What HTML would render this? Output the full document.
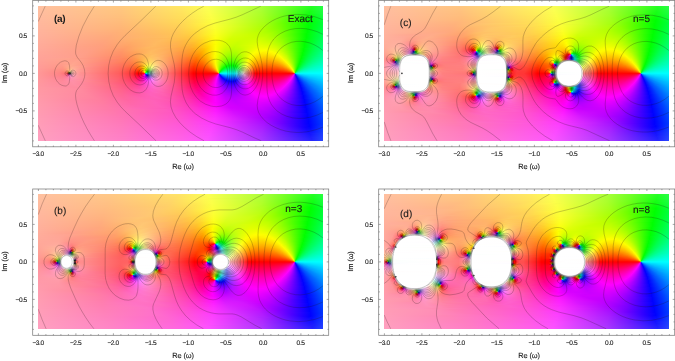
<!DOCTYPE html>
<html><head><meta charset="utf-8"><title>Complex phase plots</title>
<style>
html,body{margin:0;padding:0;background:#fff}
body{width:675px;height:361px;position:relative;overflow:hidden;font-family:"Liberation Sans",sans-serif}
.f{position:absolute;width:285px;height:135px}
.f i{display:block;height:1px;width:285px}
svg{position:absolute;left:0;top:0}
.c{fill:none;stroke:#201010;stroke-opacity:.45;stroke-width:.5}
.bo{fill:none;stroke:#333;stroke-opacity:.4;stroke-width:.5}
.fr{fill:none;stroke:#7c7c7c;stroke-width:.75}
.tk{fill:none;stroke:#6a6a6a;stroke-width:.6}
text{font-family:"Liberation Sans",sans-serif;fill:#1a1a1a;text-rendering:geometricPrecision;stroke:#1a1a1a;stroke-width:.12px}
.tx{font-size:6.6px;text-anchor:middle;letter-spacing:-.4px}
.ty{font-size:6.6px;text-anchor:end;letter-spacing:-.4px}
.al{font-size:7.4px;text-anchor:middle;letter-spacing:-.1px}
.pl{font-size:10px}
.pb{font-weight:bold;stroke:none;letter-spacing:-.3px}
.pr{font-size:10px;stroke:#1a1a1a;stroke-width:.12px}
</style></head><body>
<div class="f" style="left:38px;top:6px"><i style="background:linear-gradient(90deg,#ffc0a0 0.5px,#ffc880 83.5px,#ffe862 143.5px,#fbff53 169.5px,#aeff38 221.5px,#6fff28 247.5px,#24ff23 273.5px,#28ff44 284.5px)"></i><i style="background:linear-gradient(90deg,#ffbfa0 0.5px,#ffc880 83.5px,#ffe761 143.5px,#fbff52 169.5px,#aeff37 221.5px,#6eff26 247.5px,#22ff21 273.5px,#26ff43 284.5px)"></i><i style="background:linear-gradient(90deg,#ffbf9f 0.5px,#ffc77f 83.5px,#ffe661 143.5px,#fcff51 169.5px,#aeff35 221.5px,#70ff24 246.5px,#1fff1f 273.5px,#24ff43 284.5px)"></i><i style="background:linear-gradient(90deg,#ffbe9f 0.5px,#ffc67f 83.5px,#ffe560 143.5px,#fbff50 170.5px,#acff33 222.5px,#6fff22 246.5px,#1eff1c 272.5px,#22ff42 284.5px)"></i><i style="background:linear-gradient(90deg,#ffbe9f 0.5px,#ffc57e 83.5px,#ffe55f 144.5px,#fcff4f 170.5px,#acff31 222.5px,#71ff20 245.5px,#1bff1a 272.5px,#20ff41 284.5px)"></i><i style="background:linear-gradient(90deg,#ffbd9f 0.5px,#ffc47e 83.5px,#ffe45e 144.5px,#fbff4d 171.5px,#aaff2e 223.5px,#6dff1e 246.5px,#18ff17 272.5px,#1dff40 284.5px)"></i><i style="background:linear-gradient(90deg,#ffbd9f 0.5px,#ffc47d 83.5px,#ffe35d 144.5px,#fcff4c 171.5px,#aaff2c 223.5px,#70ff1c 245.5px,#18ff14 271.5px,#1aff38 282.5px,#1bff40 284.5px)"></i><i style="background:linear-gradient(90deg,#ffbc9f 0.5px,#ffc37d 83.5px,#ffe25c 144.5px,#fcff4a 171.5px,#abff2a 223.5px,#72ff1a 244.5px,#15ff12 271.5px,#19ff3f 284.5px)"></i><i style="background:linear-gradient(90deg,#ffbc9f 0.5px,#ffc27d 83.5px,#ffe25b 145.5px,#fcff49 172.5px,#abff28 223.5px,#71ff18 244.5px,#15ff0f 270.5px,#10ff18 274.5px,#16ff3e 284.5px)"></i><i style="background:linear-gradient(90deg,#ffbb9e 0.5px,#ffc17c 83.5px,#ffe15a 145.5px,#fcff47 172.5px,#a9ff26 224.5px,#71ff15 244.5px,#11ff0c 270.5px,#0eff1a 275.5px,#14ff3d 284.5px)"></i><i style="background:linear-gradient(90deg,#ffbb9e 0.5px,#ffc07c 83.5px,#ffe059 145.5px,#fbff45 173.5px,#a9ff23 224.5px,#70ff13 244.5px,#12ff09 269.5px,#0aff10 273.5px,#11ff3d 284.5px)"></i><i style="background:linear-gradient(90deg,#ffba9e 0.5px,#ffc07b 83.5px,#ffe058 146.5px,#fcff44 173.5px,#a9ff21 224.5px,#73ff11 243.5px,#12ff06 268.5px,#07ff0a 272.5px,#0fff3c 284.5px)"></i><i style="background:linear-gradient(90deg,#ffba9e 0.5px,#ffbe7b 82.5px,#ffdf57 146.5px,#fdff43 173.5px,#a7ff1e 225.5px,#72ff0e 243.5px,#0eff03 268.5px,#04ff08 272.5px,#0cff3b 284.5px)"></i><i style="background:linear-gradient(90deg,#ffb99e 0.5px,#ffbd7b 82.5px,#ffdd56 146.5px,#fbff40 174.5px,#a8ff1c 225.5px,#72ff0b 243.5px,#13ff00 266.5px,#01ff02 271.5px,#09ff3a 284.5px)"></i><i style="background:linear-gradient(90deg,#ffb99e 0.5px,#ffbd7b 82.5px,#ffdc55 146.5px,#fcff3f 174.5px,#a8ff19 225.5px,#75ff09 242.5px,#27ff00 261.5px,#00ff02 271.5px,#07ff3a 284.5px)"></i><i style="background:linear-gradient(90deg,#ffb89e 0.5px,#ffbc7a 82.5px,#ffdc53 147.5px,#fdff3d 174.5px,#a9ff17 225.5px,#74ff06 242.5px,#2bff00 260.5px,#00ff03 271.5px,#04ff39 284.5px)"></i><i style="background:linear-gradient(90deg,#ffb89d 0.5px,#ffbb7a 82.5px,#ffda53 146.5px,#fcff3b 175.5px,#a9ff14 225.5px,#78ff04 241.5px,#01ff00 270.5px,#01ff38 284.5px)"></i><i style="background:linear-gradient(90deg,#ffb79d 0.5px,#ffba79 82.5px,#ffd754 144.5px,#fffb3c 171.5px,#e5ff2f 188.5px,#af1 225.5px,#78ff01 241.5px,#01ff00 270.5px,#00ff39 284.5px)"></i><i style="background:linear-gradient(90deg,#ffb79d 0.5px,#ffb979 82.5px,#ffd554 143.5px,#fff63c 169.5px,#f9ff36 177.5px,#a8ff0e 226.5px,#72ff00 243.5px,#00ff01 270.5px,#00ff3b 284.5px)"></i><i style="background:linear-gradient(90deg,#ffb69d 0.5px,#ffb878 82.5px,#ffd354 142.5px,#fff23c 167.5px,#fbff34 176.5px,#a9ff0b 226.5px,#7bff00 241.5px,#1f0 266.5px,#00ff02 270.5px,#00ff3d 284.5px)"></i><i style="background:linear-gradient(90deg,#ffb69d 0.5px,#ffb778 82.5px,#ffd155 141.5px,#ffed3d 165.5px,#fcff33 176.5px,#cbff1a 206.5px,#a7ff06 227.5px,#7cff00 241.5px,#15ff00 265.5px,#00ff02 270.5px,#00ff3f 284.5px)"></i><i style="background:linear-gradient(90deg,#ffb59d 0.5px,#ffb677 82.5px,#ffcf55 140.5px,#ffeb3c 164.5px,#fcff30 176.5px,#cfff1a 203.5px,#adff06 225.5px,#7eff00 241.5px,#19ff00 264.5px,#00ff03 270.5px,#00ff40 284.5px)"></i><i style="background:linear-gradient(90deg,#ffb59d 0.5px,#ffb577 82.5px,#ffcd55 139.5px,#ffe63d 162.5px,#fdff2e 176.5px,#d0ff18 202.5px,#aeff02 225.5px,#80ff00 241.5px,#1eff00 263.5px,#00ff04 270.5px,#00ff42 284.5px)"></i><i style="background:linear-gradient(90deg,#ffb49c 0.5px,#ffb476 82.5px,#ffcb54 139.5px,#ffe33c 161.5px,#fbff2b 177.5px,#d1ff17 201.5px,#afff00 225.5px,#86ff00 240.5px,#31ff00 259.5px,#00ff01 269.5px,#0f4 284.5px)"></i><i style="background:linear-gradient(90deg,#ffb39c 0.5px,#ffb277 80.5px,#ffc955 138.5px,#ffe03c 160.5px,#fbff29 177.5px,#d3ff15 199.5px,#b0ff00 226.5px,#84ff00 241.5px,#27ff00 261.5px,#00ff01 269.5px,#00ff46 284.5px)"></i><i style="background:linear-gradient(90deg,#ffb39c 0.5px,#ffb178 78.5px,#ffc755 137.5px,#ffdc3b 159.5px,#fcff26 177.5px,#d4ff13 198.5px,#b7ff00 223.5px,#95ff00 237.5px,#51ff00 253.5px,#00ff02 269.5px,#00ff48 284.5px)"></i><i style="background:linear-gradient(90deg,#ffb29c 0.5px,#ffaf78 76.5px,#ffc655 137.5px,#ffd93b 158.5px,#fcff24 177.5px,#d4ff11 197.5px,#beff00 220.5px,#a1ff00 234.5px,#6bff00 248.5px,#00ff03 269.5px,#00ff4a 284.5px)"></i><i style="background:linear-gradient(90deg,#ffb29c 0.5px,#ffae79 75.5px,#ffc455 136.5px,#ffd63b 157.5px,#fcff21 177.5px,#d5ff0f 196.5px,#c2ff00 218.5px,#af0 232.5px,#76ff00 246.5px,#02ff00 268.5px,#00ff4c 284.5px)"></i><i style="background:linear-gradient(90deg,#ffb19c 0.5px,#ffad79 74.5px,#ffc256 134.5px,#ffd13c 155.5px,#fdff1e 177.5px,#d6ff0d 195.5px,#c6ff00 216.5px,#b2ff00 230.5px,#86ff00 243.5px,#1cff00 263.5px,#01ff00 268.5px,#00ff4f 284.5px)"></i><i style="background:linear-gradient(90deg,#ffb19c 0.5px,#ffab7a 72.5px,#ffc05a 130.5px,#ffcc3e 153.5px,#fff023 171.5px,#faff1a 178.5px,#d5ff0a 195.5px,#c9ff00 214.5px,#b7ff00 229.5px,#8dff00 242.5px,#3f0 259.5px,#01ff01 268.5px,#00ff51 284.5px)"></i><i style="background:linear-gradient(90deg,#ffb09c 0.5px,#ffaa7a 71.5px,#ffbf5b 128.5px,#ffc93e 152.5px,#ffea23 169.5px,#fdff18 177.5px,#d5ff07 194.5px,#cbff00 213.5px,#bcff00 228.5px,#98ff00 240.5px,#4bff00 255.5px,#00ff02 268.5px,#00ff53 284.5px)"></i><i style="background:linear-gradient(90deg,#ffb09b 0.5px,#ffa97a 70.5px,#ffbe5d 126.5px,#ffc63e 151.5px,#ffe324 167.5px,#fdff14 177.5px,#d5ff05 193.5px,#cdff00 208.5px,#c5ff00 225.5px,#a7ff00 237.5px,#6aff00 250.5px,#00ff02 268.5px,#00ff56 284.5px)"></i><i style="background:linear-gradient(90deg,#ffaf9b 0.5px,#ffa87b 69.5px,#ffb666 103.5px,#ffbc56 133.5px,#ffc63a 153.5px,#ffe71d 169.5px,#feff11 177.5px,#d5ff02 192.5px,#cdff00 206.5px,#caff00 224.5px,#aeff00 236.5px,#7f0 248.5px,#00ff04 268.5px,#00ff58 284.5px)"></i><i style="background:linear-gradient(90deg,#ffae9b 0.5px,#ffa77b 68.5px,#ffb367 99.5px,#ffbc5d 125.5px,#ffc03d 150.5px,#ffda22 165.5px,#feff0d 177.5px,#d5ff00 191.5px,#cdff00 204.5px,#ceff00 223.5px,#b8ff00 234.5px,#8aff00 245.5px,#02ff00 267.5px,#00ff5b 284.5px)"></i><i style="background:linear-gradient(90deg,#ffae9b 0.5px,#ffa57b 67.5px,#ffb067 97.5px,#ffbb5f 122.5px,#ffbb43 146.5px,#ffce27 161.5px,#feff09 177.5px,#d6ff00 190.5px,#cdff00 202.5px,#d2ff00 222.5px,#bfff00 233.5px,#93ff00 244.5px,#2fff00 260.5px,#01ff01 267.5px,#00ff5e 284.5px)"></i><i style="background:linear-gradient(90deg,#ffad9b 0.5px,#ffa47c 66.5px,#ffae67 95.5px,#ffbb60 120.5px,#ffb747 143.5px,#ffc829 159.5px,#fff10c 173.5px,#faff04 178.5px,#d4ff00 190.5px,#cf0 201.5px,#d6ff00 222.5px,#c4ff00 233.5px,#96ff00 244.5px,#2fff00 260.5px,#00ff01 267.5px,#00ff57 282.5px,#00ff60 284.5px)"></i><i style="background:linear-gradient(90deg,#ffad9b 0.5px,#ffa37c 65.5px,#ffab67 93.5px,#ffba60 118.5px,#ffb54b 140.5px,#ffbf2d 156.5px,#ffe010 169.5px,#feff01 177.5px,#d5ff00 189.5px,#caff00 199.5px,#daff00 222.5px,#c8ff00 233.5px,#9fff00 243.5px,#4cff00 256.5px,#00ff02 267.5px,#0f5 281.5px,#00ff63 284.5px)"></i><i style="background:linear-gradient(90deg,#ffac9b 0.5px,#ffa27d 64.5px,#ffa967 92.5px,#ffba61 117.5px,#ffb34e 138.5px,#ffbb2e 155.5px,#ffd711 167.5px,#feff00 177.5px,#d3ff00 189.5px,#c9ff00 199.5px,#deff00 221.5px,#d2ff00 231.5px,#aeff00 241.5px,#6aff00 252.5px,#03ff00 266.5px,#00ff61 283.5px,#0f6 284.5px)"></i><i style="background:linear-gradient(90deg,#ffab9a 0.5px,#ffa17c 64.5px,#ffa767 91.5px,#ffba61 116.5px,#ffb251 136.5px,#ffb530 153.5px,#ffce13 165.5px,#fff200 174.5px,#f9ff00 178.5px,#d0ff00 189.5px,#c7ff00 198.5px,#e2ff00 221.5px,#d7ff00 231.5px,#b2ff00 241.5px,#6dff00 252.5px,#02ff00 266.5px,#00ff5b 281.5px,#00ff69 284.5px)"></i><i style="background:linear-gradient(90deg,#ffab9a 0.5px,#ffa07d 63.5px,#ffa566 90.5px,#ffb961 116.5px,#ffb052 135.5px,#ffb22f 153.5px,#ffcb0f 165.5px,#ffe800 172.5px,#feff00 177.5px,#d1ff00 188.5px,#c5ff00 197.5px,#dcff00 212.5px,#e6ff00 223.5px,#d7ff00 233.5px,#b2ff00 242.5px,#68ff00 253.5px,#01ff01 266.5px,#00ff58 280.5px,#00ff6c 284.5px)"></i><i style="background:linear-gradient(90deg,#ffaa9a 0.5px,#ff9f7d 62.5px,#ffa266 89.5px,#ffb961 114.5px,#ffb056 132.5px,#ffad32 151.5px,#ffc212 163.5px,#ffdc00 170.5px,#fdff00 177.5px,#ceff00 188.5px,#c2ff00 196.5px,#d2ff00 207.5px,#eaff00 220.5px,#e4ff00 230.5px,#c6ff00 239.5px,#89ff00 249.5px,#01ff01 266.5px,#00ff51 278.5px,#00ff70 284.5px)"></i><i style="background:linear-gradient(90deg,#ffaa9a 0.5px,#ff9f7f 60.5px,#ffa066 88.5px,#ffb860 110.5px,#ffb35c 127.5px,#ffa83a 147.5px,#ffb618 160.5px,#ffd600 169.5px,#fdff00 177.5px,#cbff00 188.5px,#bfff00 196.5px,#d0ff00 206.5px,#ef0 220.5px,#ebff00 229.5px,#d0ff00 238.5px,#9cff00 247.5px,#00ff03 266.5px,#00ff4e 277.5px,#00ff73 284.5px)"></i><i style="background:linear-gradient(90deg,#ffa99a 0.5px,#ff9f81 56.5px,#ff9d67 86.5px,#ffb55f 107.5px,#ffb760 121.5px,#ffa74b 139.5px,#ffa827 154.5px,#ffbd08 164.5px,#ffd300 169.5px,#fdff00 177.5px,#cbff00 187.5px,#bcff00 194.5px,#c5ff00 202.5px,#f2ff00 219.5px,#f3ff00 228.5px,#dbff00 237.5px,#a7ff00 246.5px,#39ff00 259.5px,#04ff00 265.5px,#00ff58 278.5px,#0f7 284.5px)"></i><i style="background:linear-gradient(90deg,#ffa89a 0.5px,#ff9f83 53.5px,#ff9a68 84.5px,#ffb15d 104.5px,#ffb961 117.5px,#fa5 133.5px,#ffa22e 151.5px,#ffb30b 162.5px,#ffc200 166.5px,#fdff00 177.5px,#c7ff00 187.5px,#b8ff00 194.5px,#c3ff00 202.5px,#f5ff00 218.5px,#faff00 227.5px,#e5ff00 236.5px,#bf0 244.5px,#68ff00 254.5px,#02ff00 265.5px,#00ff56 277.5px,#00ff7a 284.5px)"></i><i style="background:linear-gradient(90deg,#ffa89a 0.5px,#ff9f85 51.5px,#ff9967 84.5px,#ffae5c 102.5px,#ffba61 115.5px,#ffac5a 130.5px,#ff9e32 149.5px,#ffa90f 160.5px,#ffba00 165.5px,#fcff00 177.5px,#c3ff00 187.5px,#b3ff00 194.5px,#bdff00 201.5px,#faff00 218.5px,#fefe00 229.5px,#e8ff00 237.5px,#b9ff00 245.5px,#61ff00 255.5px,#01ff01 265.5px,#00ff53 276.5px,#00ff7e 284.5px)"></i><i style="background:linear-gradient(90deg,#ffa799 0.5px,#ff9f86 49.5px,#ff9667 83.5px,#ffa85a 99.5px,#ffbb60 113.5px,#ffaf5e 127.5px,#ff9b3c 145.5px,#ffa013 158.5px,#ffb100 164.5px,#fff400 175.5px,#fcff00 177.5px,#c3ff00 186.5px,#b0ff00 192.5px,#b4ff00 199.5px,#fcff00 217.5px,#fff700 227.5px,#faff00 234.5px,#d4ff00 242.5px,#95ff00 250.5px,#00ff03 265.5px,#00ff4a 274.5px,#00ff82 284.5px)"></i><i style="background:linear-gradient(90deg,#ffa699 0.5px,#ff9f87 48.5px,#ff9466 83.5px,#ffa459 98.5px,#ffbb60 112.5px,#ffb161 125.5px,#ff9a43 142.5px,#ff9918 156.5px,#ffa900 163.5px,#ffe400 173.5px,#fcff00 177.5px,#beff00 186.5px,#af0 192.5px,#adff00 198.5px,#d4ff00 207.5px,#feff00 216.5px,#ffef00 225.5px,#fff900 233.5px,#f6ff00 237.5px,#c6ff00 245.5px,#70ff00 254.5px,#05ff00 264.5px,#00ff18 267.5px,#00ff5c 276.5px,#00ff86 284.5px)"></i><i style="background:linear-gradient(90deg,#ffa699 0.5px,#ff9f88 46.5px,#ff9266 83.5px,#ffa158 97.5px,#ffbd60 112.5px,#ffb262 124.5px,#ff9948 140.5px,#ff931a 155.5px,#ffa000 162.5px,#ffd400 171.5px,#fbff00 177.5px,#b9ff00 186.5px,#a3ff00 192.5px,#a8ff00 198.5px,#ceff00 206.5px,#fefe00 215.5px,#ffe900 223.5px,#ffed00 231.5px,#fefe00 237.5px,#d5ff00 244.5px,#8aff00 252.5px,#03ff00 264.5px,#00ff53 274.5px,#00ff8b 284.5px)"></i><i style="background:linear-gradient(90deg,#ffa599 0.5px,#ff9f89 45.5px,#ff9066 82.5px,#ff9d57 96.5px,#ffba5a 108.5px,#ffbc64 117.5px,#ffa85e 129.5px,#ff8f34 147.5px,#ff9207 159.5px,#ffa000 163.5px,#ffd900 172.5px,#fbff00 177.5px,#b3ff00 186.5px,#9eff00 191.5px,#9dff00 196.5px,#b5ff00 202.5px,#fefe00 214.5px,#ffe300 222.5px,#ffe300 230.5px,#fdff00 239.5px,#cbff00 246.5px,#76ff00 254.5px,#01ff02 264.5px,#00ff4a 272.5px,#00ff86 282.5px,#00ff8f 284.5px)"></i><i style="background:linear-gradient(90deg,#ffa499 0.5px,#ff9f89 44.5px,#ff8e65 82.5px,#f95 95.5px,#ffb657 106.5px,#ffc063 114.5px,#ffaf64 125.5px,#ff9042 142.5px,#f81 156.5px,#ff9200 161.5px,#ffbf00 169.5px,#fffa00 176.5px,#f1ff00 178.5px,#acff00 186.5px,#96ff00 191.5px,#95ff00 196.5px,#b1ff00 202.5px,#fefe00 213.5px,#ffde00 221.5px,#ffd900 229.5px,#fe0 237.5px,#faff00 241.5px,#c0ff00 248.5px,#53ff00 257.5px,#08ff00 263.5px,#00ff04 264.5px,#00ff47 271.5px,#00ff81 280.5px,#00ff94 284.5px)"></i><i style="background:linear-gradient(90deg,#ffa499 0.5px,#ff9f8a 43.5px,#ff8b66 81.5px,#ff9554 94.5px,#ffb454 105.5px,#ffc262 113.5px,#ffb367 123.5px,#ff934c 138.5px,#ff8218 154.5px,#f80 160.5px,#ffb400 168.5px,#fff900 176.5px,#f0ff00 178.5px,#a5ff00 186.5px,#8cff00 191.5px,#8dff00 196.5px,#a5ff00 201.5px,#fcff00 212.5px,#ffd900 220.5px,#ffcf00 227.5px,#fd0 235.5px,#fcff00 242.5px,#c7ff00 248.5px,#62ff00 256.5px,#05ff00 263.5px,#00ff28 267.5px,#00ff63 274.5px,#00ff98 284.5px)"></i><i style="background:linear-gradient(90deg,#ffa399 0.5px,#ff9f8b 42.5px,#ff8968 79.5px,#ff9054 93.5px,#ffb150 104.5px,#ffc45e 111.5px,#ffbd6a 119.5px,#ff9e5d 131.5px,#ff802e 148.5px,#ff7c03 158.5px,#ff9b00 165.5px,#ffd000 172.5px,#fff800 176.5px,#efff00 178.5px,#a5ff00 185.5px,#85ff00 190.5px,#81ff00 195.5px,#98ff00 200.5px,#fffc00 212.5px,#ffd400 219.5px,#ffc600 226.5px,#ffd000 234.5px,#fff100 241.5px,#fdfe00 243.5px,#cfff00 248.5px,#72ff00 255.5px,#02ff01 263.5px,#00ff4a 270.5px,#00ff81 278.5px,#00ff9d 284.5px)"></i><i style="background:linear-gradient(90deg,#ffa299 0.5px,#ffa38d 30.5px,#ff9581 55.5px,#ff875c 86.5px,#ff944e 96.5px,#ffb64f 105.5px,#ffc860 112.5px,#ffbb6c 120.5px,#ff9a5c 132.5px,#ff7a29 149.5px,#ff7601 158.5px,#ff9b00 166.5px,#ffd600 173.5px,#fbff00 177.5px,#9dff00 185.5px,#7aff00 190.5px,#75ff00 194.5px,#83ff00 198.5px,#b6ff00 204.5px,#fdfe00 211.5px,#ffd000 218.5px,#ffbd00 225.5px,#ffc300 233.5px,#ffe100 240.5px,#fefd00 244.5px,#cbff00 249.5px,#6f0 256.5px,#0aff00 262.5px,#00ff04 263.5px,#00ff47 269.5px,#00ff7b 276.5px,#00ffa2 284.5px)"></i><i style="background:linear-gradient(90deg,#ffa298 0.5px,#ffa28d 27.5px,#ff9f8b 42.5px,#ff8568 78.5px,#ff8851 92.5px,#ff9f48 100.5px,#ffc051 107.5px,#ffcc61 112.5px,#ffbd6e 120.5px,#ff985d 132.5px,#ff7528 149.5px,#ff6f00 158.5px,#ff9500 166.5px,#ffc700 172.5px,#fbff00 177.5px,#94ff00 185.5px,#73ff00 189.5px,#68ff00 193.5px,#72ff00 197.5px,#9cff00 202.5px,#f9ff00 210.5px,#fff200 212.5px,#ffc800 218.5px,#ffb300 225.5px,#ffb900 233.5px,#ffd600 240.5px,#fefc00 245.5px,#e1ff00 248.5px,#8aff00 254.5px,#06ff00 262.5px,#00ff16 264.5px,#00ff57 270.5px,#0f8 277.5px,#00ffa8 284.5px)"></i><i style="background:linear-gradient(90deg,#ffa198 0.5px,#ffa18c 26.5px,#ffa08d 40.5px,#ff846a 76.5px,#ff8451 91.5px,#ff9845 99.5px,#ffbe4b 106.5px,#ffd05e 111.5px,#ffc86f 117.5px,#ffac6c 125.5px,#ff7d41 142.5px,#ff670b 155.5px,#ff6900 158.5px,#ff8f00 166.5px,#ffc200 172.5px,#fbfe00 177.5px,#8aff00 185.5px,#6f0 189.5px,#5aff00 193.5px,#6f0 197.5px,#89ff00 201.5px,#ccff0a 206.5px,#fdfe01 210.5px,#ffca00 216.5px,#ffaf00 222.5px,#ffa800 229.5px,#ffb700 236.5px,#ffd800 242.5px,#fefb00 246.5px,#ebff00 248.5px,#a0ff00 253.5px,#1f0 261.5px,#03ff01 262.5px,#00ff4b 268.5px,#00ff7c 274.5px,#00ffa9 283.5px,#00ffad 284.5px)"></i><i style="background:linear-gradient(90deg,#ffa098 0.5px,#ff9f8c 25.5px,#ffa28e 38.5px,#ff846e 73.5px,#ff804f 91.5px,#ff9042 98.5px,#ffb342 104.5px,#ffd054 109.5px,#ffd46a 114.5px,#ffbf74 120.5px,#ff935e 132.5px,#ff6a27 149.5px,#ff5f00 157.5px,#ff8100 165.5px,#ffb100 171.5px,#fcfe00 177.5px,#7eff00 185.5px,#57ff00 189.5px,#4aff00 193.5px,#58ff00 197.5px,#74ff00 200.5px,#bfff12 205.5px,#f6ff0c 209.5px,#fffb08 210.5px,#ffd900 213.5px,#ffb400 218.5px,#ffa000 224.5px,#ffa100 232.5px,#ffb900 239.5px,#ffe500 245.5px,#fffb00 247.5px,#e9ff00 249.5px,#94ff00 254.5px,#0cff00 261.5px,#00ff05 262.5px,#00ff49 267.5px,#00ff7d 273.5px,#00ffab 282.5px,#00ffb3 284.5px)"></i><i style="background:linear-gradient(90deg,#ff9f98 0.5px,#ff9e8b 24.5px,#ffa48e 36.5px,#ff8675 67.5px,#ff7b4f 90.5px,#ff8840 97.5px,#ffa43a 102.5px,#ffcc47 107.5px,#ffdc5e 111.5px,#ffd273 116.5px,#ffb274 123.5px,#ff7f4e 138.5px,#ff5e18 152.5px,#ff5800 157.5px,#ff7900 165.5px,#ff9f00 170.5px,#ffde00 175.5px,#fdfd00 177.5px,#71ff00 185.5px,#4fff00 188.5px,#3cff00 191.5px,#3aff00 194.5px,#49ff00 197.5px,#5cff00 199.5px,#afff1b 204.5px,#edff19 208.5px,#fbff15 209.5px,#ffd000 213.5px,#ffa900 218.5px,#ff9500 224.5px,#ff9500 232.5px,#ffac00 239.5px,#ffcf00 244.5px,#fefb00 248.5px,#e5ff00 250.5px,#85ff00 255.5px,#07ff00 261.5px,#00ff1c 263.5px,#00ff5c 268.5px,#00ff8c 274.5px,#00ffb5 283.5px,#00ffb8 284.5px)"></i><i style="background:linear-gradient(90deg,#ff9f98 0.5px,#ff9d8a 24.5px,#ffa58f 35.5px,#ff897a 62.5px,#f75 87.5px,#ff7f3e 96.5px,#ff9934 101.5px,#ffbe39 105.5px,#ffdf50 109.5px,#ffe465 112.5px,#ffd17a 117.5px,#ffad75 124.5px,#ff7b4e 138.5px,#ff5716 152.5px,#ff4f01 156.5px,#ff6b00 164.5px,#ff9700 170.5px,#ffc800 174.5px,#fefb00 177.5px,#daff00 179.5px,#74ff00 184.5px,#48ff00 187.5px,#2eff00 190.5px,#26ff00 193.5px,#30ff00 196.5px,#41ff00 198.5px,#9dff23 203.5px,#e2ff26 207.5px,#fefc1f 209.5px,#fb0 214.5px,#ff9800 219.5px,#ff8600 226.5px,#ff8d00 234.5px,#fa0 241.5px,#ffd500 246.5px,#fefb00 249.5px,#e0ff00 251.5px,#89ff00 255.5px,#14ff00 260.5px,#02ff03 261.5px,#00ff43 265.5px,#00ff79 270.5px,#00ffa4 277.5px,#00ffbe 284.5px)"></i><i style="background:linear-gradient(90deg,#ff9e98 0.5px,#ff9b89 24.5px,#ffa78f 34.5px,#ff9084 53.5px,#ff765e 82.5px,#ff7541 94.5px,#ff8532 99.5px,#ffa82c 103.5px,#ffd83c 107.5px,#ffed56 110.5px,#ffeb6e 113.5px,#ffd57f 117.5px,#ffac78 124.5px,#ff7a52 137.5px,#ff531b 151.5px,#ff4800 156.5px,#ff6200 164.5px,#ff8400 169.5px,#ffb100 173.5px,#ffe300 176.5px,#fff800 177.5px,#f0ff00 178.5px,#65ff00 184.5px,#35ff00 187.5px,#19ff00 190.5px,#1f0 193.5px,#1cff00 196.5px,#30ff02 198.5px,#87ff2a 202.5px,#c2ff35 205.5px,#f7ff2f 208.5px,#fff729 209.5px,#ffb003 214.5px,#ff9100 218.5px,#ff7d00 224.5px,#ff7c00 232.5px,#ff9100 239.5px,#ffb200 244.5px,#ffde00 248.5px,#fdfc00 250.5px,#d8ff00 252.5px,#0dff00 260.5px,#00ff09 261.5px,#00ff3f 264.5px,#00ff71 268.5px,#00ff9e 274.5px,#00ffc4 284.5px)"></i><i style="background:linear-gradient(90deg,#ff9d98 0.5px,#ff9989 23.5px,#ffa98e 32.5px,#ff9c8e 42.5px,#ff7663 79.5px,#ff6e3e 94.5px,#ff7e2c 99.5px,#ff9823 102.5px,#ffc227 105.5px,#ffec3d 108.5px,#fffa54 110.5px,#fff472 113.5px,#ffd984 117.5px,#ffaa7b 124.5px,#ff7956 136.5px,#ff4f1f 150.5px,#ff4000 156.5px,#ff5900 164.5px,#ff7900 169.5px,#ffa600 173.5px,#ffdb00 176.5px,#fff200 177.5px,#f3ff00 178.5px,#6cff00 183.5px,#2eff00 186.5px,#0aff00 189.5px,#01ff07 193.5px,#07ff01 196.5px,#0fff00 197.5px,#3bff17 199.5px,#84ff37 202.5px,#c5ff43 205.5px,#fcfe3b 208.5px,#ff9901 215.5px,#ff7b00 220.5px,#ff6d00 227.5px,#ff7500 235.5px,#ff9300 242.5px,#ffb500 246.5px,#fd0 249.5px,#fafd00 251.5px,#cdff00 253.5px,#1eff00 259.5px,#06ff01 260.5px,#00ff29 262.5px,#00ff5b 265.5px,#00ff86 269.5px,#00ffac 275.5px,#00ffcb 284.5px)"></i><i style="background:linear-gradient(90deg,#ff9c98 0.5px,#ff9887 24.5px,#ffaa8c 31.5px,#ffa693 37.5px,#ff8980 57.5px,#ff6f5b 83.5px,#ff6837 95.5px,#ff7525 99.5px,#ff9019 102.5px,#ffc419 105.5px,#ffec29 107.5px,#fefa35 108.5px,#f4ff60 111.5px,#fdfe77 113.5px,#ffe689 116.5px,#ffbc86 121.5px,#ff8c6a 130.5px,#ff5028 148.5px,#ff3801 155.5px,#ff4f00 164.5px,#ff6d00 169.5px,#f90 173.5px,#ffd100 176.5px,#ffea00 177.5px,#f8fe00 178.5px,#5cff00 183.5px,#2aff00 185.5px,#08ff01 187.5px,#00ff10 189.5px,#00ff1e 192.5px,#00ff19 195.5px,#03ff0d 197.5px,#16ff14 198.5px,#81ff45 202.5px,#c8ff52 205.5px,#f1ff4e 207.5px,#fef948 208.5px,#ff990f 214.5px,#ff8200 216.5px,#ff6700 222.5px,#ff6000 230.5px,#ff7000 238.5px,#ff9000 244.5px,#fb0 248.5px,#fff000 251.5px,#f6fe00 252.5px,#9cff00 255.5px,#15ff00 259.5px,#01ff08 260.5px,#00ff4a 263.5px,#00ff76 266.5px,#00ffa1 271.5px,#00ffc4 279.5px,#00ffd1 284.5px)"></i><i style="background:linear-gradient(90deg,#ff9c98 0.5px,#ff9685 24.5px,#ffa988 30.5px,#ffae93 34.5px,#ff9188 49.5px,#ff6f60 80.5px,#ff613c 93.5px,#ff6524 98.5px,#ff7912 101.5px,#ff9608 103.5px,#ffc508 105.5px,#fdf919 107.5px,#e3ff3c 109.5px,#e1ff61 111.5px,#fcfe88 114.5px,#ffe093 117.5px,#ffad84 123.5px,#ff7c61 133.5px,#ff4622 149.5px,#ff3001 155.5px,#ff4500 164.5px,#ff6000 169.5px,#ff8a00 173.5px,#ffc400 176.5px,#fcfa00 178.5px,#df0 179.5px,#48ff00 183.5px,#1f0 185.5px,#02ff06 186.5px,#00ff2b 189.5px,#00ff3a 192.5px,#00ff34 195.5px,#00ff2e 196.5px,#08ff2c 197.5px,#2cff34 199.5px,#62ff49 201.5px,#b4ff62 204.5px,#f8ff5d 207.5px,#fff256 208.5px,#ff9b21 213.5px,#ff7200 216.5px,#ff5900 222.5px,#ff5400 231.5px,#ff6400 239.5px,#ff7e00 244.5px,#ffa600 248.5px,#ffdb00 251.5px,#fef300 252.5px,#edff00 253.5px,#a6ff00 255.5px,#2dff00 258.5px,#0aff01 259.5px,#00ff16 260.5px,#00ff48 262.5px,#00ff79 265.5px,#00ffa0 269.5px,#00ffc3 276.5px,#00ffd7 284.5px)"></i><i style="background:linear-gradient(90deg,#ff9b98 0.5px,#ff9384 24.5px,#ff9f81 28.5px,#ffb48f 32.5px,#ffab97 36.5px,#ff928a 47.5px,#ff6c60 80.5px,#ff5b3e 92.5px,#ff591e 98.5px,#ff6907 101.5px,#ff7701 102.5px,#ffa700 104.5px,#ffeb00 106.5px,#efff05 107.5px,#d3ff18 108.5px,#c4ff31 109.5px,#c1ff4b 110.5px,#d4ff77 112.5px,#f2ff92 114.5px,#fefc98 115.5px,#ffd69a 118.5px,#ffaa87 123.5px,#ff7c65 132.5px,#ff4022 149.5px,#ff2800 155.5px,#ff3d00 165.5px,#ff5900 170.5px,#ff7900 173.5px,#ff9b00 175.5px,#ffcf00 177.5px,#fff100 178.5px,#e4ff00 179.5px,#59ff00 182.5px,#30ff00 183.5px,#0fff01 184.5px,#01ff0e 185.5px,#0f3 187.5px,#00ff50 190.5px,#00ff58 193.5px,#00ff4c 196.5px,#48ff55 200.5px,#5eff59 201.5px,#b8ff74 204.5px,#eaff73 206.5px,#fdfb6d 207.5px,#ff9e35 212.5px,#ff6202 216.5px,#ff4d00 221.5px,#ff4500 230.5px,#ff5400 239.5px,#ff7100 245.5px,#ff8f00 248.5px,#ffae00 250.5px,#ffdc00 252.5px,#fcf800 253.5px,#deff00 254.5px,#2f0 258.5px,#02ff09 259.5px,#00ff45 261.5px,#00ff6f 263.5px,#00ff97 266.5px,#00ffba 271.5px,#00ffd6 280.5px,#00ffde 284.5px)"></i><i style="background:linear-gradient(90deg,#ff9a98 0.5px,#ff8f83 23.5px,#ff967d 27.5px,#ffb082 30.5px,#ffbd91 32.5px,#ffb29a 35.5px,#ff9991 42.5px,#ff6a5f 80.5px,#ff543d 92.5px,#ff4b19 98.5px,#ff4e06 100.5px,#ff5800 101.5px,#ff8100 103.5px,#ff9f00 104.5px,#fcf300 106.5px,#d6ff00 107.5px,#aaff04 108.5px,#97ff22 109.5px,#9aff45 110.5px,#beff7e 112.5px,#e9ff9e 114.5px,#fbfea5 115.5px,#ffd5a2 118.5px,#ffa68a 123.5px,#ff7866 132.5px,#ff3922 149.5px,#ff2000 155.5px,#ff3500 166.5px,#ff5000 171.5px,#ff7300 174.5px,#ff9b00 176.5px,#ffb800 177.5px,#ffdf00 178.5px,#eefe00 179.5px,#41ff00 182.5px,#12ff01 183.5px,#00ff15 184.5px,#00ff46 186.5px,#00ff62 188.5px,#00ff75 191.5px,#00ff75 194.5px,#02ff6e 196.5px,#54ff78 200.5px,#7cff77 202.5px,#bdff88 204.5px,#f3ff86 206.5px,#fff47e 207.5px,#ff913c 212.5px,#ff5205 216.5px,#ff4300 219.5px,#ff3700 228.5px,#ff4300 239.5px,#ff5c00 245.5px,#ff7500 248.5px,#ff9100 250.5px,#ffbe00 252.5px,#ffde00 253.5px,#f4fc00 254.5px,#c3ff00 255.5px,#49ff00 257.5px,#12ff01 258.5px,#00ff1e 259.5px,#00ff43 260.5px,#00ff75 262.5px,#00ffa0 265.5px,#00ffc3 270.5px,#00ffdf 280.5px,#00ffe5 284.5px)"></i><i style="background:linear-gradient(90deg,#ff9a98 0.5px,#ff8c84 22.5px,#ff9078 27.5px,#ffa375 29.5px,#ffc587 31.5px,#ffca95 32.5px,#ffbda0 34.5px,#ffa399 38.5px,#ff8d89 49.5px,#ff675f 80.5px,#ff5040 91.5px,#ff3e1d 97.5px,#ff3b01 100.5px,#ff5700 102.5px,#ff6e00 103.5px,#ff8e00 104.5px,#ffbe00 105.5px,#f8f600 106.5px,#b7ff00 107.5px,#75ff00 108.5px,#53ff0f 109.5px,#63ff3e 110.5px,#82ff67 111.5px,#a4ff87 112.5px,#c4ff9e 113.5px,#e0ffae 114.5px,#f8ffb4 115.5px,#fff2b4 116.5px,#ffc6a4 119.5px,#ff9b88 124.5px,#ff695b 135.5px,#ff2f1c 150.5px,#ff1800 155.5px,#ff2b00 167.5px,#ff4500 172.5px,#ff6900 175.5px,#ff7d00 176.5px,#ff9a00 177.5px,#ffc100 178.5px,#f9f400 179.5px,#bf0 180.5px,#69ff00 181.5px,#20ff01 182.5px,#01ff19 183.5px,#00ff40 184.5px,#00ff5b 185.5px,#00ff7d 187.5px,#00ff93 190.5px,#00ff97 194.5px,#05ff92 196.5px,#5fff9b 200.5px,#86ff95 202.5px,#9fff96 203.5px,#c3ff9f 204.5px,#e2ffa0 205.5px,#fbfc9a 206.5px,#ff9351 211.5px,#ff4208 216.5px,#ff3800 217.5px,#ff2a00 226.5px,#ff3100 238.5px,#ff4500 245.5px,#ff6400 249.5px,#ff8200 251.5px,#ff9800 252.5px,#ffb800 253.5px,#ffe400 254.5px,#dcff00 255.5px,#3cff00 257.5px,#03ff0e 258.5px,#00ff3f 259.5px,#00ff64 260.5px,#00ff7f 261.5px,#00ffa2 263.5px,#00ffbe 266.5px,#00ffd8 272.5px,#00ffeb 284.5px)"></i><i style="background:linear-gradient(90deg,#ff9998 0.5px,#ff8983 22.5px,#ff8672 27.5px,#ff8b6c 28.5px,#f96 29.5px,#ffba69 30.5px,#ffde80 31.5px,#ffe29d 32.5px,#ffd2a9 33.5px,#ffb5a5 35.5px,#ff9e98 39.5px,#ff8683 54.5px,#ff625d 81.5px,#ff463b 92.5px,#ff311a 97.5px,#ff2605 99.5px,#ff3100 101.5px,#ff5100 103.5px,#ff6f00 104.5px,#ffa200 105.5px,#f5ef00 106.5px,#90ff00 107.5px,#2eff02 108.5px,#0aff17 109.5px,#36ff54 110.5px,#6aff82 111.5px,#92ff9c 112.5px,#daffc0 114.5px,#f7ffc7 115.5px,#ffefc3 116.5px,#ffc0a9 119.5px,#ff9689 124.5px,#ff645b 135.5px,#ff281c 150.5px,#ff0f00 155.5px,#ff1f00 168.5px,#ff3500 173.5px,#ff4800 175.5px,#ff5800 176.5px,#ff6f00 177.5px,#ff9400 178.5px,#ffd100 179.5px,#caff00 180.5px,#4dff00 181.5px,#04ff1a 182.5px,#00ff53 183.5px,#0f7 184.5px,#00ff8e 185.5px,#00ffa7 187.5px,#00ffba 191.5px,#00ffb8 195.5px,#07ffb7 196.5px,#80ffbd 201.5px,#aaffb4 203.5px,#edffb9 205.5px,#fff3ae 206.5px,#ffab7a 209.5px,#ff4f28 214.5px,#ff2500 217.5px,#ff1b00 229.5px,#ff2600 242.5px,#ff3c00 248.5px,#ff5900 251.5px,#ff6b00 252.5px,#ff8500 253.5px,#ffaf00 254.5px,#f7ed00 255.5px,#9bff00 256.5px,#23ff03 257.5px,#00ff3a 258.5px,#00ff70 259.5px,#00ff91 260.5px,#00ffb5 262.5px,#00ffce 265.5px,#00ffe5 272.5px,#00fff2 284.5px)"></i><i style="background:linear-gradient(90deg,#ff9898 0.5px,#ff8785 21.5px,#ff7c75 26.5px,#ff7562 28.5px,#ff784e 29.5px,#ffab31 30.5px,#d1fe62 31.5px,#f1fbb5 32.5px,#ffdabc 33.5px,#ffc1b2 34.5px,#ffaaa3 36.5px,#ff9492 42.5px,#ff615f 80.5px,#ff443f 91.5px,#ff2b21 96.5px,#ff1302 99.5px,#ff1f00 102.5px,#ff2a00 103.5px,#ff3c00 104.5px,#ff6200 105.5px,#fbc300 106.5px,#53ff07 107.5px,#01ff4e 108.5px,#00ff80 109.5px,#2effa6 110.5px,#6cffc2 111.5px,#99ffd0 112.5px,#fafcdd 115.5px,#ffc4b7 118.5px,#ff9d96 122.5px,#ff6f6b 131.5px,#ff2721 149.5px,#ff0700 155.5px,#ff1400 171.5px,#ff2300 175.5px,#ff3900 177.5px,#ff4f00 178.5px,#ff7e00 179.5px,#e4e300 180.5px,#22ff17 181.5px,#00ff75 182.5px,#00ffa4 183.5px,#0fb 184.5px,#00ffcf 186.5px,#00ffde 191.5px,#0fd 195.5px,#08ffdd 196.5px,#a1ffdf 202.5px,#d5ffd6 204.5px,#f9fbd4 205.5px,#ffc5aa 207.5px,#ff826d 210.5px,#ff2d1a 215.5px,#ff1201 217.5px,#ff0e00 236.5px,#ff1a00 247.5px,#ff2b00 251.5px,#f40 253.5px,#ff5f00 254.5px,#ff9a00 255.5px,#b6f600 256.5px,#07ff33 257.5px,#00ff8d 258.5px,#00ffb4 259.5px,#00ffc7 260.5px,#00ffe0 263.5px,#00fff2 271.5px,#00fff9 284.5px)"></i><i style="background:linear-gradient(90deg,#ff9898 0.5px,#ff8585 21.5px,#ff7475 26.5px,#ff6062 28.5px,#ff454b 29.5px,#ff243e 30.5px,#549dcb 31.5px,#e0e6f1 32.5px,#ffccd0 33.5px,#ffb7b9 34.5px,#ffa5a5 36.5px,#ff9191 43.5px,#ff5f5f 80.5px,#ff3f40 91.5px,#ff2223 96.5px,#ff0305 99.5px,#ff050c 104.5px,#ff0a16 105.5px,#ff1c3a 106.5px,#3b8bc6 107.5px,#00d7ed 108.5px,#00e5f4 109.5px,#2bedf7 110.5px,#6df3fa 111.5px,#9cf6fb 112.5px,#e2f7fb 114.5px,#fdeff3 115.5px,#ffc7c9 117.5px,#ffa6a7 120.5px,#ff7c7d 127.5px,#f22 149.5px,#ff0101 155.5px,#ff0409 176.5px,#ff0710 178.5px,#ff0c1c 179.5px,#fb2c53 180.5px,#05aad2 181.5px,#00e1f2 182.5px,#00f1f9 184.5px,#00f8fc 194.5px,#00f8fc 195.5px,#09f8fc 196.5px,#c1f8fc 203.5px,#e0f6fb 204.5px,#fee9ee 205.5px,#ffb0b3 207.5px,#ff5e60 211.5px,#ff0e10 216.5px,#ff0204 217.5px,#ff0307 250.5px,#ff0914 254.5px,#ff1023 255.5px,#b84075 256.5px,#00c5e3 257.5px,#00e6f4 258.5px,#00f4fa 260.5px,#00fdfe 274.5px,#00fefe 284.5px)"></i><i style="background:linear-gradient(90deg,#ff9898 0.5px,#ff8588 21.5px,#ff757e 26.5px,#ff647a 28.5px,#ff5381 29.5px,#ff42b3 30.5px,#e86dfa 31.5px,#f7aef8 32.5px,#ffb8d9 33.5px,#ffb0c2 34.5px,#ffa3aa 36.5px,#ff9497 41.5px,#ff5f62 80.5px,#ff3f45 91.5px,#ff212d 96.5px,#ff0316 99.5px,#ff001e 101.5px,#ff0032 103.5px,#ff0048 104.5px,#ff0073 105.5px,#fa00d3 106.5px,#6102ff 107.5px,#0332ff 108.5px,#06f 109.5px,#2f93ff 110.5px,#6cb4ff 111.5px,#97c5ff 112.5px,#f9d8fd 115.5px,#ffc2d6 117.5px,#ffa4b0 120.5px,#ff8087 126.5px,#ff2128 149.5px,#ff0009 155.5px,#ff0016 170.5px,#ff0024 174.5px,#ff0035 176.5px,#f04 177.5px,#ff005f 178.5px,#ff0094 179.5px,#de00ef 180.5px,#2a0bff 181.5px,#005dff 182.5px,#0092ff 183.5px,#00acff 184.5px,#00c5ff 186.5px,#00d5ff 190.5px,#00d6ff 195.5px,#08d5ff 196.5px,#9fd7ff 202.5px,#d2cfff 204.5px,#f7cefd 205.5px,#ffbde5 206.5px,#ff7f9b 209.5px,#ff2940 214.5px,#ff0116 217.5px,#f01 234.5px,#ff001d 246.5px,#ff002d 250.5px,#ff0040 252.5px,#ff0052 253.5px,#ff0071 254.5px,#ff00b2 255.5px,#b000fc 256.5px,#0c20ff 257.5px,#0079ff 258.5px,#00a5ff 259.5px,#00bcff 260.5px,#00d3ff 262.5px,#00e8ff 267.5px,#00f7ff 284.5px)"></i><i style="background:linear-gradient(90deg,#ff9899 0.5px,#ff8389 22.5px,#ff7388 27.5px,#ff6e8e 28.5px,#ff6a9c 29.5px,#ff6eb9 30.5px,#ff82d7 31.5px,#ff9bdc 32.5px,#ffa6cf 33.5px,#ffa0ad 36.5px,#ff9297 42.5px,#ff5f65 80.5px,#ff3f4b 91.5px,#ff1b34 97.5px,#ff052a 99.5px,#ff002c 100.5px,#ff0043 102.5px,#ff0057 103.5px,#f07 104.5px,#f0a 105.5px,#f500f2 106.5px,#90f 107.5px,#3e00ff 108.5px,#140dff 109.5px,#3a4aff 110.5px,#6b78ff 111.5px,#9395ff 112.5px,#dbbcff 114.5px,#f7c3ff 115.5px,#ffc0f0 116.5px,#ffa8c2 119.5px,#ff8997 124.5px,#ff5b65 135.5px,#ff1c29 150.5px,#f01 155.5px,#f02 168.5px,#ff003a 173.5px,#ff004f 175.5px,#ff0060 176.5px,#ff0079 177.5px,#ff009f 178.5px,#ff00db 179.5px,#c500ff 180.5px,#5400ff 181.5px,#0710ff 182.5px,#0045ff 183.5px,#006bff 184.5px,#0083ff 185.5px,#009eff 187.5px,#00b0ff 190.5px,#00b1ff 195.5px,#07afff 196.5px,#7eb6ff 201.5px,#a7adff 203.5px,#ebb4ff 205.5px,#feaaf6 206.5px,#ff6799 210.5px,#ff1843 215.5px,#ff0029 217.5px,#ff001e 228.5px,#ff0028 241.5px,#ff003c 247.5px,#ff0054 250.5px,#ff0075 252.5px,#ff0090 253.5px,#f0b 254.5px,#f300f4 255.5px,#9800ff 256.5px,#2901ff 257.5px,#002eff 258.5px,#0064ff 259.5px,#0087ff 260.5px,#00aeff 262.5px,#00caff 265.5px,#00e0ff 271.5px,#00f1ff 284.5px)"></i><i style="background:linear-gradient(90deg,#ff989a 0.5px,#ff828c 23.5px,#ff7992 27.5px,#ff77a4 29.5px,#ff88c2 31.5px,#ff94c7 32.5px,#ff9ebc 34.5px,#ff97a0 39.5px,#ff8387 54.5px,#ff5d66 81.5px,#ff3c4f 92.5px,#ff1e41 97.5px,#ff013f 100.5px,#ff005b 102.5px,#ff0072 103.5px,#ff0093 104.5px,#ff00c0 105.5px,#f800f6 106.5px,#be00ff 107.5px,#8100ff 108.5px,#6212ff 109.5px,#6f40ff 110.5px,#8a66ff 111.5px,#a985ff 112.5px,#c79bff 113.5px,#e1aaff 114.5px,#f8b1ff 115.5px,#ffaee2 117.5px,#ff97b3 121.5px,#ff7686 128.5px,#ff2134 149.5px,#ff0019 155.5px,#ff002b 166.5px,#ff0041 171.5px,#ff005f 174.5px,#ff0084 176.5px,#ff00a1 177.5px,#ff00c8 178.5px,#f700f7 179.5px,#b900ff 180.5px,#6d00ff 181.5px,#2700ff 182.5px,#0211ff 183.5px,#0036ff 184.5px,#0052ff 185.5px,#0075ff 187.5px,#008cff 190.5px,#0090ff 194.5px,#048aff 196.5px,#5d94ff 200.5px,#838eff 202.5px,#9f91ff 203.5px,#c19aff 204.5px,#e09cff 205.5px,#fa96fd 206.5px,#ff7ed3 208.5px,#ff3273 213.5px,#ff0845 216.5px,#ff003b 217.5px,#ff002d 226.5px,#ff0034 238.5px,#ff004a 245.5px,#ff006a 249.5px,#ff0089 251.5px,#ff00a1 252.5px,#ff00c0 253.5px,#fe00eb 254.5px,#d600ff 255.5px,#3f00ff 257.5px,#060aff 258.5px,#0037ff 259.5px,#005dff 260.5px,#0078ff 261.5px,#009cff 263.5px,#00baff 266.5px,#00d5ff 272.5px,#00eaff 284.5px)"></i><i style="background:linear-gradient(90deg,#ff989a 0.5px,#ff8290 24.5px,#ff7d9d 28.5px,#ff8ab7 31.5px,#ff96ba 33.5px,#ff97a4 38.5px,#ff878d 50.5px,#ff606a 80.5px,#ff3d55 92.5px,#ff1a4e 98.5px,#ff0852 100.5px,#ff015b 101.5px,#ff0083 103.5px,#ff00a1 104.5px,#fd00f2 106.5px,#db00ff 107.5px,#b307ff 108.5px,#a125ff 109.5px,#a347ff 110.5px,#c27cff 112.5px,#ea9bff 114.5px,#fba2fe 115.5px,#ffa1d6 118.5px,#ff8aa7 123.5px,#ff6679 132.5px,#ff223b 149.5px,#ff0021 155.5px,#ff0034 165.5px,#ff004c 170.5px,#ff0069 173.5px,#ff0089 175.5px,#ff00bd 177.5px,#ff00e3 178.5px,#ec00ff 179.5px,#4600ff 182.5px,#1800ff 183.5px,#010eff 184.5px,#003eff 186.5px,#005bff 188.5px,#006eff 191.5px,#006fff 194.5px,#0267ff 196.5px,#5271ff 200.5px,#7c72ff 202.5px,#bc84ff 204.5px,#f182ff 206.5px,#ff7af5 207.5px,#ff3b94 212.5px,#ff0455 216.5px,#ff0043 220.5px,#ff003a 230.5px,#ff0049 240.5px,#ff0068 246.5px,#ff0087 249.5px,#ff00ab 251.5px,#ff00e4 253.5px,#f000fe 254.5px,#bf00ff 255.5px,#1500ff 258.5px,#0019ff 259.5px,#003dff 260.5px,#0070ff 262.5px,#009cff 265.5px,#00c0ff 270.5px,#00dbff 279.5px,#00e3ff 284.5px)"></i><i style="background:linear-gradient(90deg,#ff989b 0.5px,#ff8493 24.5px,#ff83a5 29.5px,#ff8fb3 32.5px,#ff96a8 37.5px,#ff878e 50.5px,#ff606d 80.5px,#ff3f5c 92.5px,#ff1f5c 98.5px,#ff096c 101.5px,#ff008e 103.5px,#ff00c7 105.5px,#ff01e9 106.5px,#f309fe 107.5px,#d91cff 108.5px,#cb33ff 109.5px,#c84cff 110.5px,#d875ff 112.5px,#f48fff 114.5px,#fe96fb 115.5px,#ff98d6 118.5px,#ff87aa 123.5px,#ff657d 132.5px,#ff2241 149.5px,#ff0029 155.5px,#ff0040 165.5px,#ff005c 170.5px,#ff007d 173.5px,#ff009f 175.5px,#ff00d2 177.5px,#fe00f3 178.5px,#e200ff 179.5px,#5d00ff 182.5px,#1400ff 184.5px,#0208ff 185.5px,#003aff 188.5px,#004fff 191.5px,#0050ff 194.5px,#0046ff 196.5px,#224cff 198.5px,#464fff 200.5px,#5e55ff 201.5px,#b770ff 204.5px,#e970ff 206.5px,#fc6afc 207.5px,#ff33a1 212.5px,#ff0265 216.5px,#ff0050 221.5px,#ff0048 230.5px,#ff0057 239.5px,#ff0076 245.5px,#ff0094 248.5px,#ff00c8 251.5px,#fa00fb 253.5px,#da00ff 254.5px,#2500ff 258.5px,#0306ff 259.5px,#0041ff 261.5px,#006bff 263.5px,#0093ff 266.5px,#00b7ff 271.5px,#00d5ff 280.5px,#0df 284.5px)"></i><i style="background:linear-gradient(90deg,#ff989c 0.5px,#ff8696 24.5px,#ff89a9 30.5px,#ff93ae 34.5px,#ff8891 49.5px,#ff6070 80.5px,#ff3d62 93.5px,#ff2567 98.5px,#ff147b 101.5px,#ff0b98 103.5px,#ff0cc5 105.5px,#fe1df7 107.5px,#f42cff 108.5px,#e83dff 109.5px,#e561ff 111.5px,#fd86fe 114.5px,#ff91df 117.5px,#ff83ad 123.5px,#ff617d 133.5px,#ff2347 149.5px,#ff0131 155.5px,#ff0047 164.5px,#ff0063 169.5px,#ff008d 173.5px,#ff00c7 176.5px,#fb00fb 178.5px,#b800ff 180.5px,#4c00ff 183.5px,#1600ff 185.5px,#0503ff 186.5px,#0025ff 189.5px,#0034ff 192.5px,#002fff 195.5px,#0725ff 197.5px,#2b2fff 199.5px,#9a59ff 203.5px,#e25eff 206.5px,#f75aff 207.5px,#ff53f3 208.5px,#ff209e 213.5px,#ff0075 216.5px,#ff005c 222.5px,#ff0056 231.5px,#ff0067 239.5px,#ff0082 244.5px,#f0a 248.5px,#ff00e0 251.5px,#fe00f7 252.5px,#e900ff 253.5px,#7d00ff 256.5px,#0d00ff 259.5px,#0013ff 260.5px,#04f 262.5px,#0076ff 265.5px,#009dff 269.5px,#00c1ff 276.5px,#00d6ff 284.5px)"></i><i style="background:linear-gradient(90deg,#ff989d 0.5px,#ff8798 24.5px,#ff8eab 32.5px,#ff91a0 40.5px,#ff6475 78.5px,#ff3f69 93.5px,#ff2b72 98.5px,#ff1e86 101.5px,#ff1ab1 104.5px,#ff2be9 107.5px,#ff37f8 108.5px,#f852ff 110.5px,#fe76fc 113.5px,#ff88e5 116.5px,#ff85bc 121.5px,#ff6a8c 130.5px,#ff2851 148.5px,#ff003a 156.5px,#ff0056 165.5px,#ff0078 170.5px,#ff009c 173.5px,#ff00d3 176.5px,#ff00ec 177.5px,#f700fe 178.5px,#5f00ff 183.5px,#1c00ff 186.5px,#0304ff 188.5px,#0019ff 192.5px,#0014ff 195.5px,#0308ff 197.5px,#321fff 199.5px,#8142ff 202.5px,#c74fff 205.5px,#f04bff 207.5px,#fe45fb 208.5px,#ff0e9b 214.5px,#ff038e 215.5px,#ff0074 219.5px,#ff0063 226.5px,#ff006a 235.5px,#ff0086 242.5px,#ff00a6 246.5px,#ff00ce 249.5px,#ff00f4 251.5px,#f300ff 252.5px,#9b00ff 255.5px,#1700ff 259.5px,#0106ff 260.5px,#0047ff 263.5px,#0073ff 266.5px,#009eff 271.5px,#00c2ff 279.5px,#00d0ff 284.5px)"></i><i style="background:linear-gradient(90deg,#ff989d 0.5px,#ff8999 23.5px,#ff90a8 34.5px,#ff8691 51.5px,#ff5f74 81.5px,#ff3e70 94.5px,#ff2d7f 99.5px,#ff2599 102.5px,#ff29c2 105.5px,#ff3fea 108.5px,#ff5ff8 111.5px,#ff7de6 115.5px,#ff84ca 119.5px,#ff6f97 128.5px,#ff2d59 147.5px,#ff0042 156.5px,#ff005b 164.5px,#ff007b 169.5px,#ff00a8 173.5px,#f0d 176.5px,#ff00f3 177.5px,#f300ff 178.5px,#6f00ff 183.5px,#3200ff 186.5px,#0e00ff 189.5px,#0203ff 192.5px,#0a00ff 196.5px,#1300ff 197.5px,#3d15ff 199.5px,#8434ff 202.5px,#c440ff 205.5px,#fb38fe 208.5px,#ff009b 215.5px,#ff007d 220.5px,#ff0070 227.5px,#ff0078 235.5px,#ff0096 242.5px,#ff00b8 246.5px,#ff00e0 249.5px,#f800fe 251.5px,#b000ff 254.5px,#2000ff 259.5px,#0701ff 260.5px,#0026ff 262.5px,#0058ff 265.5px,#0084ff 269.5px,#0af 275.5px,#00c9ff 284.5px)"></i><i style="background:linear-gradient(90deg,#ff989e 0.5px,#ff899c 24.5px,#ff90a6 35.5px,#ff7a88 62.5px,#ff5674 86.5px,#ff3e78 95.5px,#ff318d 100.5px,#ff30b4 104.5px,#ff45df 108.5px,#ff5eec 111.5px,#ff78e0 115.5px,#ff7ec2 120.5px,#ff648e 131.5px,#ff295c 148.5px,#ff0049 156.5px,#ff0064 164.5px,#ff0086 169.5px,#ff00b3 173.5px,#ff00f8 177.5px,#f000ff 178.5px,#6800ff 184.5px,#3900ff 187.5px,#1d00ff 190.5px,#1600ff 193.5px,#2000ff 196.5px,#3402ff 198.5px,#8727ff 202.5px,#c232ff 205.5px,#f62cff 208.5px,#ff27f8 209.5px,#ff02b2 214.5px,#ff008f 219.5px,#ff007d 226.5px,#ff0083 234.5px,#ff009f 241.5px,#ff00c8 246.5px,#fb00fd 250.5px,#bf00ff 253.5px,#0f00ff 260.5px,#0007ff 261.5px,#004cff 265.5px,#0081ff 270.5px,#00abff 277.5px,#00c3ff 284.5px)"></i><i style="background:linear-gradient(90deg,#ff989f 0.5px,#ff8a9d 24.5px,#ff8fa5 35.5px,#ff7a89 62.5px,#f57 87.5px,#ff3f80 96.5px,#ff369a 101.5px,#ff3ec7 106.5px,#ff57e1 110.5px,#ff70de 114.5px,#ff7ac6 119.5px,#ff6998 129.5px,#ff2e64 147.5px,#ff0151 156.5px,#ff006d 164.5px,#f09 170.5px,#ff00ca 174.5px,#fe00fb 177.5px,#c500ff 180.5px,#7600ff 184.5px,#4b00ff 187.5px,#3200ff 190.5px,#2a00ff 193.5px,#3400ff 196.5px,#40f 198.5px,#7815ff 201.5px,#c026ff 205.5px,#fd1dfd 209.5px,#ff00be 214.5px,#ff009b 219.5px,#ff0089 226.5px,#ff008f 234.5px,#ff00ad 241.5px,#ff00d8 246.5px,#fd00fd 249.5px,#ca00ff 252.5px,#1500ff 260.5px,#0302ff 261.5px,#004eff 266.5px,#007fff 271.5px,#00abff 279.5px,#00bdff 284.5px)"></i><i style="background:linear-gradient(90deg,#ff98a0 0.5px,#ff8b9e 24.5px,#ff8ea4 36.5px,#ff7587 67.5px,#ff507c 90.5px,#ff4089 97.5px,#ff3cac 103.5px,#ff4dd1 108.5px,#ff63db 112.5px,#ff76c9 118.5px,#ff6ca2 127.5px,#ff366e 145.5px,#ff005a 157.5px,#ff007b 165.5px,#ff00a1 170.5px,#ff00df 175.5px,#fd00fd 177.5px,#7400ff 185.5px,#5200ff 188.5px,#4000ff 191.5px,#3e00ff 194.5px,#4c00ff 197.5px,#6d04ff 200.5px,#af19ff 204.5px,#ec17ff 208.5px,#fa13ff 209.5px,#ff03dd 212.5px,#ff00b1 217.5px,#f09 223.5px,#ff0096 231.5px,#f0a 238.5px,#ff00d1 244.5px,#fd00fc 248.5px,#d200ff 251.5px,#5900ff 257.5px,#0800ff 261.5px,#000aff 262.5px,#04f 266.5px,#0075ff 271.5px,#00a4ff 279.5px,#00b7ff 284.5px)"></i><i style="background:linear-gradient(90deg,#ff98a0 0.5px,#ff8c9f 25.5px,#ff8ea2 38.5px,#ff6e84 73.5px,#ff4f81 91.5px,#ff4391 98.5px,#ff43b3 104.5px,#ff54cf 109.5px,#ff6ad3 114.5px,#ff73bb 121.5px,#ff568b 135.5px,#ff2269 150.5px,#ff0061 157.5px,#ff0082 165.5px,#ff00b2 171.5px,#fc00fe 177.5px,#8100ff 185.5px,#5a00ff 189.5px,#4d00ff 193.5px,#5b00ff 197.5px,#7600ff 200.5px,#bf10ff 205.5px,#fe06fc 210.5px,#ff00d2 214.5px,#ff00b1 219.5px,#ff00a0 226.5px,#ff00a7 234.5px,#ff00c7 241.5px,#fe00fc 247.5px,#d800ff 250.5px,#6c00ff 256.5px,#0e00ff 261.5px,#0104ff 262.5px,#0047ff 267.5px,#007cff 273.5px,#0af 282.5px,#00b1ff 284.5px)"></i><i style="background:linear-gradient(90deg,#ff98a1 0.5px,#ff8ca1 26.5px,#ff8ca0 40.5px,#ff6a84 76.5px,#ff5184 91.5px,#ff4598 99.5px,#ff4cbe 106.5px,#ff5ecf 111.5px,#ff6ec7 117.5px,#ff6aa8 126.5px,#ff3a7a 144.5px,#ff0668 156.5px,#ff006e 159.5px,#ff0090 166.5px,#ff00c3 172.5px,#fb00ff 177.5px,#8c00ff 185.5px,#6900ff 189.5px,#5d00ff 193.5px,#6900ff 197.5px,#8b00ff 201.5px,#d807ff 207.5px,#fc00ff 210.5px,#f0c 216.5px,#ff00b1 222.5px,#f0a 229.5px,#ff00b9 236.5px,#ff00da 242.5px,#fe00fd 246.5px,#ce00ff 250.5px,#5700ff 257.5px,#0301ff 262.5px,#004aff 268.5px,#0081ff 275.5px,#00acff 284.5px)"></i><i style="background:linear-gradient(90deg,#ff99a2 0.5px,#ff8da2 28.5px,#ff899c 45.5px,#ff6385 81.5px,#ff508b 93.5px,#ff48a4 101.5px,#ff57c6 109.5px,#ff69c9 115.5px,#ff6cb3 123.5px,#ff4d8a 138.5px,#ff1771 153.5px,#ff0070 158.5px,#ff0097 166.5px,#ff00c8 172.5px,#fb00ff 177.5px,#9600ff 185.5px,#7600ff 189.5px,#6a00ff 193.5px,#7500ff 197.5px,#9d00ff 202.5px,#f800ff 210.5px,#ff00f3 212.5px,#ff00c9 218.5px,#ff00b5 225.5px,#f0b 233.5px,#ff00d8 240.5px,#fe00fd 245.5px,#d200ff 249.5px,#7800ff 255.5px,#0700ff 262.5px,#0007ff 263.5px,#004cff 269.5px,#0081ff 276.5px,#00a7ff 284.5px)"></i><i style="background:linear-gradient(90deg,#ff99a2 0.5px,#ff8ba0 41.5px,#ff6a88 77.5px,#ff538c 92.5px,#ff4ca5 101.5px,#ff5bc5 110.5px,#ff6ac2 117.5px,#ff65a7 127.5px,#ff3b82 144.5px,#ff0676 157.5px,#ff0082 161.5px,#f0a 168.5px,#ff00ec 175.5px,#fb00ff 177.5px,#9f00ff 185.5px,#7d00ff 190.5px,#70f 194.5px,#8b00ff 199.5px,#cb00ff 206.5px,#fd00ff 211.5px,#ff00d2 218.5px,#ff00bf 225.5px,#ff00c6 233.5px,#ff00e3 240.5px,#fd00fe 244.5px,#ca00ff 249.5px,#6500ff 256.5px,#0b00ff 262.5px,#0103ff 263.5px,#0046ff 269.5px,#007aff 276.5px,#00a1ff 284.5px)"></i><i style="background:linear-gradient(90deg,#ff99a3 0.5px,#ff8ba0 42.5px,#ff688a 79.5px,#ff5491 93.5px,#ff51b1 104.5px,#ff60c4 112.5px,#ff69b8 121.5px,#ff5698 134.5px,#ff237f 151.5px,#ff0080 159.5px,#ff00a9 167.5px,#ff00e4 174.5px,#fa00ff 177.5px,#a700ff 185.5px,#80f 190.5px,#8300ff 195.5px,#90f 200.5px,#ff00fd 212.5px,#ff00d6 219.5px,#ff00c8 226.5px,#ff00d2 234.5px,#ff00f3 241.5px,#fc00ff 243.5px,#c200ff 249.5px,#4600ff 258.5px,#0301ff 263.5px,#0051ff 271.5px,#0085ff 279.5px,#009cff 284.5px)"></i><i style="background:linear-gradient(90deg,#ff99a4 0.5px,#ff8a9f 43.5px,#ff668c 81.5px,#ff5595 94.5px,#ff54b4 105.5px,#ff62c2 113.5px,#ff67b3 123.5px,#ff4c93 138.5px,#ff1883 154.5px,#ff0089 160.5px,#ff00b4 168.5px,#ff00f9 176.5px,#f000ff 178.5px,#a700ff 186.5px,#8e00ff 191.5px,#8f00ff 196.5px,#ad00ff 202.5px,#fc00ff 212.5px,#ff00d8 221.5px,#ff00d2 229.5px,#ff00e7 237.5px,#fa00ff 242.5px,#c500ff 248.5px,#6100ff 256.5px,#0500ff 263.5px,#001dff 266.5px,#005aff 273.5px,#0093ff 283.5px,#0097ff 284.5px)"></i><i style="background:linear-gradient(90deg,#ff99a4 0.5px,#ff899f 44.5px,#ff658e 82.5px,#ff569a 95.5px,#ff57b6 106.5px,#ff62c0 114.5px,#ff63af 125.5px,#ff4290 142.5px,#ff1289 156.5px,#ff0093 161.5px,#ff00c0 169.5px,#ff00fa 176.5px,#e800ff 179.5px,#ae00ff 186.5px,#9700ff 191.5px,#9700ff 196.5px,#b200ff 202.5px,#fd00ff 213.5px,#ff00e0 221.5px,#ff00db 229.5px,#ff00f0 237.5px,#fd00fe 240.5px,#d100ff 246.5px,#8500ff 253.5px,#0800ff 263.5px,#0003ff 264.5px,#004eff 272.5px,#0085ff 281.5px,#0093ff 284.5px)"></i><i style="background:linear-gradient(90deg,#ff99a5 0.5px,#ff899f 45.5px,#ff6690 82.5px,#ff579e 96.5px,#ff5cbb 109.5px,#ff65bb 118.5px,#ff5aa4 131.5px,#ff2e8e 149.5px,#ff0395 160.5px,#ff00bd 168.5px,#ff00fa 176.5px,#ea00ff 179.5px,#ae00ff 187.5px,#9d00ff 192.5px,#a000ff 197.5px,#c100ff 204.5px,#fe00ff 214.5px,#ff00e5 222.5px,#ff00e4 230.5px,#fb00ff 239.5px,#ca00ff 246.5px,#7600ff 254.5px,#0101ff 264.5px,#0050ff 273.5px,#008aff 283.5px,#008eff 284.5px)"></i><i style="background:linear-gradient(90deg,#ff99a6 0.5px,#ff879f 47.5px,#ff6693 83.5px,#ff58a1 97.5px,#ff60bc 112.5px,#ff62b2 124.5px,#ff4598 141.5px,#ff1a94 155.5px,#ff00a1 162.5px,#ff00d4 171.5px,#fb00ff 177.5px,#ba00ff 186.5px,#a500ff 192.5px,#a900ff 198.5px,#d400ff 207.5px,#fe00ff 215.5px,#ff00ea 224.5px,#ff00f0 232.5px,#fc00ff 237.5px,#d300ff 244.5px,#8900ff 252.5px,#0300ff 264.5px,#0052ff 274.5px,#008aff 284.5px)"></i><i style="background:linear-gradient(90deg,#ff99a6 0.5px,#ff879f 48.5px,#ff6795 83.5px,#ff59a5 98.5px,#ff60bb 112.5px,#ff60b1 125.5px,#ff439a 142.5px,#ff199a 156.5px,#ff00a9 163.5px,#ff00e5 173.5px,#fc00ff 177.5px,#bf00ff 186.5px,#ab00ff 192.5px,#ae00ff 198.5px,#d400ff 207.5px,#fd00ff 216.5px,#ff00f1 225.5px,#ff00fb 233.5px,#f000ff 238.5px,#bd00ff 246.5px,#6500ff 255.5px,#0500ff 264.5px,#0017ff 267.5px,#005bff 276.5px,#0085ff 284.5px)"></i><i style="background:linear-gradient(90deg,#ff9aa7 0.5px,#ff859f 50.5px,#ff6797 83.5px,#ff5baa 100.5px,#ff60bb 113.5px,#ff5eaf 127.5px,#ff3c9c 145.5px,#ff14a1 158.5px,#ff00b2 164.5px,#ff00f4 175.5px,#fc00ff 177.5px,#c400ff 186.5px,#b000ff 193.5px,#b800ff 200.5px,#fb00ff 217.5px,#ff00f9 228.5px,#f900ff 234.5px,#d300ff 242.5px,#9400ff 250.5px,#0002ff 265.5px,#0050ff 275.5px,#0081ff 284.5px)"></i><i style="background:linear-gradient(90deg,#ff9aa8 0.5px,#ff859f 51.5px,#ff6799 84.5px,#ff5caf 103.5px,#ff61ba 116.5px,#ff58ab 131.5px,#ff309f 150.5px,#ff0cad 161.5px,#ff00ba 165.5px,#fc00ff 177.5px,#c400ff 187.5px,#b400ff 194.5px,#be00ff 201.5px,#f900ff 218.5px,#fe00fe 228.5px,#ea00ff 236.5px,#bf00ff 244.5px,#7400ff 253.5px,#0101ff 265.5px,#0053ff 276.5px,#007dff 284.5px)"></i><i style="background:linear-gradient(90deg,#ff9aa8 0.5px,#ff839f 54.5px,#ff679b 85.5px,#ff5eb3 105.5px,#ff61b9 118.5px,#ff53aa 134.5px,#ff2ea3 151.5px,#ff0cb4 162.5px,#ff00c7 167.5px,#fd00ff 177.5px,#c800ff 187.5px,#b900ff 194.5px,#c300ff 202.5px,#f400ff 218.5px,#f900ff 227.5px,#e400ff 236.5px,#b900ff 244.5px,#6800ff 254.5px,#0200ff 265.5px,#05f 277.5px,#007aff 284.5px)"></i><i style="background:linear-gradient(90deg,#ff9aa9 0.5px,#ff819f 57.5px,#ff679e 86.5px,#ff5fb5 107.5px,#ff60b7 121.5px,#ff4ba8 139.5px,#ff27a9 154.5px,#ff08be 164.5px,#ff00d4 169.5px,#fd00ff 177.5px,#cb00ff 187.5px,#bd00ff 194.5px,#c500ff 202.5px,#f100ff 219.5px,#f200ff 228.5px,#d900ff 237.5px,#a600ff 246.5px,#3900ff 259.5px,#0400ff 265.5px,#0031ff 272.5px,#0076ff 284.5px)"></i><i style="background:linear-gradient(90deg,#ff9aaa 0.5px,#ff7e9f 61.5px,#ff66a0 88.5px,#ff60b8 110.5px,#ff5cb3 127.5px,#ff3ba9 147.5px,#ff18b7 160.5px,#ff00d6 169.5px,#fd00ff 177.5px,#cb00ff 188.5px,#c000ff 196.5px,#d000ff 206.5px,#ed00ff 220.5px,#ea00ff 229.5px,#cf00ff 238.5px,#9b00ff 247.5px,#0002ff 266.5px,#0053ff 278.5px,#0072ff 284.5px)"></i><i style="background:linear-gradient(90deg,#ff9aaa 0.5px,#ff7d9f 62.5px,#ff66a3 89.5px,#ff61b9 115.5px,#ff55b0 133.5px,#ff32ae 151.5px,#ff12c2 163.5px,#ff00e2 171.5px,#fd00ff 177.5px,#ce00ff 188.5px,#c300ff 196.5px,#d200ff 207.5px,#ea00ff 221.5px,#e100ff 231.5px,#c000ff 240.5px,#8100ff 250.5px,#0101ff 266.5px,#0056ff 279.5px,#006fff 284.5px)"></i><i style="background:linear-gradient(90deg,#ff9aab 0.5px,#ff7da0 63.5px,#ff67a5 90.5px,#ff61b9 116.5px,#ff52b0 135.5px,#ff2fb3 153.5px,#ff10cc 165.5px,#ff00ed 173.5px,#fe00ff 177.5px,#d100ff 188.5px,#c500ff 197.5px,#db00ff 212.5px,#e500ff 224.5px,#d300ff 234.5px,#a500ff 244.5px,#4f00ff 256.5px,#0101ff 266.5px,#0058ff 280.5px,#006cff 284.5px)"></i><i style="background:linear-gradient(90deg,#ff9aac 0.5px,#ff7ca1 64.5px,#ff67a7 91.5px,#ff61ba 117.5px,#ff4fb2 137.5px,#ff2eb7 154.5px,#ff11d2 166.5px,#ff00f7 175.5px,#f900ff 178.5px,#d100ff 189.5px,#c700ff 198.5px,#e100ff 221.5px,#d600ff 231.5px,#b100ff 241.5px,#6c00ff 252.5px,#0200ff 266.5px,#005aff 281.5px,#0069ff 284.5px)"></i><i style="background:linear-gradient(90deg,#ff9bac 0.5px,#ff7ca2 65.5px,#ff67a9 92.5px,#ff61ba 117.5px,#ff4eb3 138.5px,#ff2ebc 155.5px,#ff12d8 167.5px,#fe00ff 177.5px,#d300ff 189.5px,#c900ff 199.5px,#d0f 222.5px,#cf00ff 232.5px,#a800ff 242.5px,#5c00ff 254.5px,#0003ff 267.5px,#0057ff 281.5px,#06f 284.5px)"></i><i style="background:linear-gradient(90deg,#ff9bad 0.5px,#ff7ca4 65.5px,#ff67ab 93.5px,#ff60ba 119.5px,#ff4ab5 141.5px,#ff2bc2 157.5px,#ff0fe4 170.5px,#fe02ff 177.5px,#d500ff 189.5px,#cb00ff 199.5px,#d900ff 222.5px,#c700ff 233.5px,#9e00ff 243.5px,#4500ff 257.5px,#0002ff 267.5px,#0059ff 282.5px,#0063ff 284.5px)"></i><i style="background:linear-gradient(90deg,#ff9bad 0.5px,#ff7ca5 66.5px,#ff67ae 95.5px,#ff60bb 120.5px,#ff47b8 143.5px,#ff29c8 159.5px,#ff0df1 173.5px,#fa05ff 178.5px,#d500ff 190.5px,#c0f 201.5px,#d500ff 222.5px,#c300ff 233.5px,#9500ff 244.5px,#2f00ff 260.5px,#0101ff 267.5px,#005bff 283.5px,#0060ff 284.5px)"></i><i style="background:linear-gradient(90deg,#ff9bae 0.5px,#ff7ba6 67.5px,#ff67b0 97.5px,#ff5fbb 122.5px,#ff43bb 146.5px,#ff27cf 161.5px,#fe0aff 177.5px,#d600ff 190.5px,#cd00ff 202.5px,#d200ff 222.5px,#be00ff 233.5px,#9200ff 244.5px,#2800ff 261.5px,#0101ff 267.5px,#005dff 284.5px)"></i><i style="background:linear-gradient(90deg,#ff9baf 0.5px,#ff7ba7 68.5px,#ff67b3 99.5px,#ff5dbc 125.5px,#ff3ec1 150.5px,#ff22db 165.5px,#fe0eff 177.5px,#d600ff 191.5px,#cd00ff 204.5px,#cd00ff 223.5px,#b400ff 235.5px,#7f00ff 247.5px,#0200ff 267.5px,#005aff 284.5px)"></i><i style="background:linear-gradient(90deg,#ff9baf 0.5px,#ff7ba8 69.5px,#ff66b7 103.5px,#ff56bc 133.5px,#ff3ac6 153.5px,#ff1ee7 169.5px,#fe12ff 177.5px,#d503ff 192.5px,#cd00ff 206.5px,#c900ff 224.5px,#ad00ff 236.5px,#70f 248.5px,#0003ff 268.5px,#0058ff 284.5px)"></i><i style="background:linear-gradient(90deg,#ff9bb0 0.5px,#ff7aa9 70.5px,#ff5cbe 127.5px,#ff3ec6 151.5px,#ff24e3 167.5px,#fd15ff 177.5px,#d506ff 193.5px,#cd00ff 208.5px,#c400ff 225.5px,#a600ff 237.5px,#6900ff 250.5px,#0002ff 268.5px,#05f 284.5px)"></i><i style="background:linear-gradient(90deg,#ff9cb0 0.5px,#ff7aaa 71.5px,#ff5bbf 128.5px,#ff3eca 152.5px,#ff24ea 169.5px,#fd18ff 177.5px,#d508ff 194.5px,#cb00ff 213.5px,#bc00ff 228.5px,#9700ff 240.5px,#4b00ff 255.5px,#0001ff 268.5px,#0053ff 284.5px)"></i><i style="background:linear-gradient(90deg,#ff9cb1 0.5px,#ff79ac 73.5px,#ff59c1 131.5px,#ff3ecd 153.5px,#ff23f1 171.5px,#fa1aff 178.5px,#d50bff 195.5px,#c900ff 214.5px,#b600ff 229.5px,#8c00ff 242.5px,#30f 259.5px,#0101ff 268.5px,#0050ff 284.5px)"></i><i style="background:linear-gradient(90deg,#ff9cb1 0.5px,#ff79ad 74.5px,#ff55c3 136.5px,#ff3ad4 157.5px,#fd1eff 177.5px,#d60eff 195.5px,#c600ff 216.5px,#b100ff 230.5px,#8500ff 243.5px,#1c00ff 263.5px,#0100ff 268.5px,#004eff 284.5px)"></i><i style="background:linear-gradient(90deg,#ff9cb2 0.5px,#ff79ae 75.5px,#ff55c4 136.5px,#ff3bd6 157.5px,#fc21ff 177.5px,#d510ff 196.5px,#c200ff 218.5px,#a900ff 232.5px,#7500ff 246.5px,#0004ff 269.5px,#004cff 284.5px)"></i><i style="background:linear-gradient(90deg,#ff9cb2 0.5px,#ff78b0 77.5px,#ff55c6 137.5px,#ff3bda 158.5px,#fc24ff 177.5px,#d512ff 197.5px,#bc00ff 221.5px,#9e00ff 235.5px,#6100ff 250.5px,#0003ff 269.5px,#004aff 284.5px)"></i><i style="background:linear-gradient(90deg,#ff9cb3 0.5px,#ff78b1 78.5px,#ff55c8 137.5px,#ff3cdd 159.5px,#fc27ff 177.5px,#d414ff 198.5px,#b500ff 224.5px,#9100ff 238.5px,#4600ff 255.5px,#0002ff 269.5px,#0048ff 284.5px)"></i><i style="background:linear-gradient(90deg,#ff9cb4 0.5px,#ff77b3 80.5px,#ff55ca 138.5px,#ff3ce0 160.5px,#fb29ff 177.5px,#d215ff 200.5px,#af00ff 226.5px,#8400ff 241.5px,#2700ff 261.5px,#0001ff 269.5px,#0046ff 284.5px)"></i><i style="background:linear-gradient(90deg,#ff9cb4 0.5px,#ff76b4 82.5px,#ff55cb 139.5px,#ff3be5 162.5px,#fb2cff 177.5px,#d117ff 201.5px,#af00ff 225.5px,#8500ff 240.5px,#2c00ff 260.5px,#0101ff 269.5px,#04f 284.5px)"></i><i style="background:linear-gradient(90deg,#ff9db5 0.5px,#ff77b5 82.5px,#ff54cd 140.5px,#ff3ce8 163.5px,#fd2fff 176.5px,#d019ff 202.5px,#ae03ff 225.5px,#7c00ff 242.5px,#0a00ff 267.5px,#0004ff 270.5px,#0042ff 284.5px)"></i><i style="background:linear-gradient(90deg,#ff9db5 0.5px,#ff77b6 82.5px,#ff54d0 141.5px,#ff3bed 165.5px,#fc31ff 176.5px,#cd1aff 204.5px,#aa05ff 226.5px,#7300ff 244.5px,#0003ff 270.5px,#0040ff 284.5px)"></i><i style="background:linear-gradient(90deg,#ff9db6 0.5px,#ff78b7 82.5px,#ff55d1 141.5px,#ff3dee 165.5px,#fc33ff 176.5px,#cb1bff 206.5px,#a707ff 227.5px,#7c00ff 241.5px,#1500ff 265.5px,#0002ff 270.5px,#003eff 284.5px)"></i><i style="background:linear-gradient(90deg,#ff9db6 0.5px,#ff78b8 82.5px,#ff55d3 142.5px,#ff3df2 167.5px,#fb35ff 176.5px,#a90bff 226.5px,#7a00ff 241.5px,#10f 266.5px,#0001ff 270.5px,#003cff 284.5px)"></i><i style="background:linear-gradient(90deg,#ff9db7 0.5px,#ff79b9 82.5px,#ff54d6 144.5px,#ff3cf8 170.5px,#f735ff 178.5px,#a80eff 226.5px,#6e00ff 244.5px,#0001ff 270.5px,#003bff 284.5px)"></i><i style="background:linear-gradient(90deg,#ff9db7 0.5px,#ff79ba 82.5px,#ff54d8 145.5px,#fc39ff 175.5px,#a711ff 226.5px,#7401ff 242.5px,#0100ff 270.5px,#0039ff 284.5px)"></i><i style="background:linear-gradient(90deg,#ff9db8 0.5px,#ff7abb 82.5px,#ff54da 146.5px,#fb3bff 175.5px,#a915ff 225.5px,#7805ff 241.5px,#0e00ff 267.5px,#0003ff 271.5px,#0138ff 284.5px)"></i><i style="background:linear-gradient(90deg,#ff9eb8 0.5px,#ff7abc 82.5px,#ff54dc 147.5px,#fd3eff 174.5px,#a817ff 225.5px,#7507ff 242.5px,#2b00ff 260.5px,#0002ff 271.5px,#0439ff 284.5px)"></i><i style="background:linear-gradient(90deg,#ff9eb9 0.5px,#ff7bbd 82.5px,#f5d 146.5px,#fc3fff 174.5px,#a81aff 225.5px,#750aff 242.5px,#2300ff 262.5px,#0002ff 271.5px,#073aff 284.5px)"></i><i style="background:linear-gradient(90deg,#ff9eb9 0.5px,#ff7bbe 82.5px,#ff56de 146.5px,#fb41ff 174.5px,#a81cff 225.5px,#720cff 243.5px,#1000ff 267.5px,#0106ff 272.5px,#0a3aff 284.5px)"></i><i style="background:linear-gradient(90deg,#ff9eba 0.5px,#ff7bbf 82.5px,#ff57df 146.5px,#fc43ff 173.5px,#aa1fff 224.5px,#720fff 243.5px,#0f03ff 268.5px,#0408ff 272.5px,#0d3bff 284.5px)"></i><i style="background:linear-gradient(90deg,#ff9eba 0.5px,#ff7bc0 83.5px,#ff58e0 146.5px,#fc44ff 173.5px,#a922ff 224.5px,#7311ff 243.5px,#1206ff 268.5px,#070bff 272.5px,#0f3cff 284.5px)"></i><i style="background:linear-gradient(90deg,#ff9ebb 0.5px,#ff7cc1 83.5px,#ff59e0 145.5px,#fb46ff 173.5px,#a924ff 224.5px,#7013ff 244.5px,#120aff 269.5px,#0b11ff 273.5px,#123dff 284.5px)"></i><i style="background:linear-gradient(90deg,#ff9ebb 0.5px,#ff7cc1 83.5px,#ff5ae1 145.5px,#fc48ff 172.5px,#a926ff 224.5px,#7116ff 244.5px,#120dff 270.5px,#0e1aff 275.5px,#143dff 284.5px)"></i><i style="background:linear-gradient(90deg,#ff9fbc 0.5px,#ff7dc2 83.5px,#ff5be2 145.5px,#fb49ff 172.5px,#ab29ff 223.5px,#7218ff 244.5px,#150fff 270.5px,#1118ff 274.5px,#173eff 284.5px)"></i><i style="background:linear-gradient(90deg,#ff9fbc 0.5px,#ff7dc3 83.5px,#ff5ce2 144.5px,#fc4bff 171.5px,#ab2bff 223.5px,#6f1aff 245.5px,#1612ff 271.5px,#193fff 284.5px)"></i><i style="background:linear-gradient(90deg,#ff9fbd 0.5px,#ff7ec4 83.5px,#ff5de3 144.5px,#fc4cff 171.5px,#aa2dff 223.5px,#701cff 245.5px,#1615ff 272.5px,#1c40ff 284.5px)"></i><i style="background:linear-gradient(90deg,#ff9fbd 0.5px,#ff7ec5 83.5px,#ff5ee4 144.5px,#fb4dff 171.5px,#ac2fff 222.5px,#711fff 245.5px,#1918ff 272.5px,#1e40ff 284.5px)"></i><i style="background:linear-gradient(90deg,#ff9fbe 0.5px,#ff7ec5 83.5px,#ff5fe5 144.5px,#fc4fff 170.5px,#ac31ff 222.5px,#6e20ff 246.5px,#1c1aff 272.5px,#2041ff 284.5px)"></i><i style="background:linear-gradient(90deg,#ff9fbe 0.5px,#ff7fc6 83.5px,#ff60e5 143.5px,#fb50ff 170.5px,#ac33ff 222.5px,#6f23ff 246.5px,#1f1dff 272.5px,#2242ff 284.5px)"></i><i style="background:linear-gradient(90deg,#ff9fbf 0.5px,#ff7fc7 83.5px,#ff61e6 143.5px,#fc52ff 169.5px,#ae35ff 221.5px,#7025ff 246.5px,#201fff 273.5px,#2443ff 284.5px)"></i><i style="background:linear-gradient(90deg,#ffa0bf 0.5px,#ff80c8 83.5px,#ff62e7 143.5px,#fb53ff 169.5px,#ae37ff 221.5px,#6e26ff 247.5px,#2221ff 273.5px,#2643ff 284.5px)"></i><i style="background:linear-gradient(90deg,#ffa0c0 0.5px,#ff80c8 83.5px,#ff62e8 143.5px,#fc54ff 168.5px,#ae39ff 221.5px,#6c28ff 248.5px,#2425ff 274.5px,#2944ff 284.5px)"></i></div>
<div class="f" style="left:38px;top:194px"><i style="background:linear-gradient(90deg,#ffc0a0 0.5px,#ffc885 74.5px,#ffe465 142.5px,#fcff54 170.5px,#afff39 223.5px,#71ff28 248.5px,#23ff24 275.5px,#27ff40 284.5px)"></i><i style="background:linear-gradient(90deg,#ffc0a0 0.5px,#ffc785 73.5px,#ffe166 140.5px,#fcff52 170.5px,#afff37 223.5px,#70ff26 248.5px,#22ff21 274.5px,#25ff3f 284.5px)"></i><i style="background:linear-gradient(90deg,#ffbfa0 0.5px,#ffc784 73.5px,#ffe066 139.5px,#fbff51 171.5px,#afff36 223.5px,#72ff24 247.5px,#1fff1e 274.5px,#23ff3f 284.5px)"></i><i style="background:linear-gradient(90deg,#ffbfa0 0.5px,#ffc684 72.5px,#fd6 137.5px,#fcff50 171.5px,#adff33 224.5px,#71ff22 247.5px,#1fff1c 273.5px,#21ff3e 284.5px)"></i><i style="background:linear-gradient(90deg,#ffbea0 0.5px,#ffc584 71.5px,#ffdc67 136.5px,#fffc51 167.5px,#b3ff34 221.5px,#7dff22 243.5px,#22ff19 271.5px,#1aff1e 275.5px,#1fff3d 284.5px)"></i><i style="background:linear-gradient(90deg,#ffbe9f 0.5px,#ffc484 71.5px,#ffda67 135.5px,#fff851 165.5px,#f9ff4c 174.5px,#aeff30 224.5px,#72ff1e 246.5px,#1cff17 272.5px,#18ff23 277.5px,#1dff3c 284.5px)"></i><i style="background:linear-gradient(90deg,#ffbd9f 0.5px,#ffc384 70.5px,#ffd867 134.5px,#fff451 163.5px,#fbff4b 173.5px,#aeff2e 224.5px,#75ff1c 245.5px,#1cff14 271.5px,#15ff1a 275.5px,#1aff3b 284.5px)"></i><i style="background:linear-gradient(90deg,#ffbd9f 0.5px,#ffc284 70.5px,#ffd767 133.5px,#fff151 161.5px,#fbff49 173.5px,#aeff2c 224.5px,#74ff1a 245.5px,#18ff11 271.5px,#12ff19 275.5px,#18ff3a 284.5px)"></i><i style="background:linear-gradient(90deg,#ffbc9f 0.5px,#ffc184 69.5px,#ffd567 132.5px,#ffee51 160.5px,#fcff48 173.5px,#afff2a 224.5px,#77ff18 244.5px,#18ff0e 270.5px,#0fff13 274.5px,#15ff3a 284.5px)"></i><i style="background:linear-gradient(90deg,#ffbc9f 0.5px,#ffc083 69.5px,#ffd468 131.5px,#ffea51 158.5px,#fcff47 173.5px,#b1ff29 223.5px,#7dff17 242.5px,#1cff0b 268.5px,#0dff11 274.5px,#13ff39 284.5px)"></i><i style="background:linear-gradient(90deg,#ffbb9f 0.5px,#ffc083 69.5px,#ffd268 130.5px,#ffe851 157.5px,#fbff45 174.5px,#b4ff28 222.5px,#80ff16 241.5px,#1dff08 267.5px,#09ff0b 273.5px,#10ff38 284.5px)"></i><i style="background:linear-gradient(90deg,#ffbb9f 0.5px,#ffbe83 68.5px,#ffd168 129.5px,#ffe550 156.5px,#fbff43 174.5px,#b8ff27 220.5px,#8aff16 238.5px,#21ff05 265.5px,#06ff09 273.5px,#0eff37 284.5px)"></i><i style="background:linear-gradient(90deg,#ffba9f 0.5px,#ffbe82 68.5px,#ffcf68 128.5px,#ffe251 154.5px,#fcff41 174.5px,#ceff31 206.5px,#aaff1f 227.5px,#71ff0c 245.5px,#0eff02 269.5px,#03ff07 273.5px,#0bff36 284.5px)"></i><i style="background:linear-gradient(90deg,#ffba9e 0.5px,#ffbd82 67.5px,#ffcd6b 124.5px,#ffdd53 151.5px,#fcff40 174.5px,#d3ff32 202.5px,#afff1e 225.5px,#7cff0c 242.5px,#20ff00 264.5px,#01ff01 272.5px,#08ff36 284.5px)"></i><i style="background:linear-gradient(90deg,#ffba9e 0.5px,#ffbc82 67.5px,#ffcc6e 120.5px,#ffd855 148.5px,#fdff3e 174.5px,#d5ff32 200.5px,#b2ff1d 224.5px,#7fff0a 241.5px,#35ff00 259.5px,#00ff01 272.5px,#05ff35 284.5px)"></i><i style="background:linear-gradient(90deg,#ffb99e 0.5px,#ffbb81 67.5px,#ffcb6f 117.5px,#ffd655 147.5px,#fff93f 170.5px,#f7ff3a 177.5px,#d3ff2f 202.5px,#b3ff1a 224.5px,#83ff09 240.5px,#46ff00 255.5px,#00ff02 272.5px,#02ff34 284.5px)"></i><i style="background:linear-gradient(90deg,#ffb99e 0.5px,#ffba81 66.5px,#ffca70 115.5px,#ffd256 145.5px,#fff23f 167.5px,#fcff3a 175.5px,#d8ff30 197.5px,#b8ff1a 222.5px,#8aff08 238.5px,#53ff00 252.5px,#00ff03 272.5px,#00ff34 284.5px)"></i><i style="background:linear-gradient(90deg,#ffb89e 0.5px,#ffb981 66.5px,#ffc971 114.5px,#ffd155 145.5px,#ffef3e 166.5px,#fcff37 175.5px,#d9ff2f 196.5px,#bbff19 221.5px,#8eff06 237.5px,#54ff00 252.5px,#01ff00 271.5px,#00ff35 284.5px)"></i><i style="background:linear-gradient(90deg,#ffb89e 0.5px,#ffb881 66.5px,#ffc972 112.5px,#ffce55 144.5px,#ffe93f 164.5px,#fcff35 175.5px,#dbff2e 194.5px,#bcff16 221.5px,#92ff04 236.5px,#31ff00 260.5px,#00ff01 271.5px,#00ff37 284.5px)"></i><i style="background:linear-gradient(90deg,#ffb79e 0.5px,#ffb781 65.5px,#ffc872 111.5px,#ffcc56 143.5px,#ffe63e 163.5px,#fcff33 175.5px,#dcff2c 193.5px,#beff15 220.5px,#97ff02 235.5px,#48ff00 255.5px,#00ff01 271.5px,#00ff39 284.5px)"></i><i style="background:linear-gradient(90deg,#ffb79e 0.5px,#ffb680 65.5px,#ffc872 110.5px,#ffca56 142.5px,#ffe13e 161.5px,#fdff31 175.5px,#dcff2b 192.5px,#c0ff12 220.5px,#95ff00 236.5px,#49ff00 255.5px,#00ff02 271.5px,#00ff3a 284.5px)"></i><i style="background:linear-gradient(90deg,#ffb69d 0.5px,#ffb580 65.5px,#ffc773 109.5px,#ffc659 139.5px,#ffdb3f 159.5px,#fdff2e 175.5px,#ddff29 191.5px,#c6ff13 217.5px,#a3ff00 232.5px,#65ff00 249.5px,#00ff03 271.5px,#00ff3c 284.5px)"></i><i style="background:linear-gradient(90deg,#ffb69d 0.5px,#ffb480 64.5px,#ffc773 109.5px,#ffc45a 138.5px,#ffd73f 158.5px,#fdff2c 175.5px,#ddff27 190.5px,#cbff14 214.5px,#aeff00 229.5px,#78ff00 245.5px,#01ff00 270.5px,#00ff3e 284.5px)"></i><i style="background:linear-gradient(90deg,#ffb59d 0.5px,#ffb37f 64.5px,#ffc774 102.5px,#ffc266 127.5px,#ffca49 150.5px,#ffe732 166.5px,#fdff29 175.5px,#ddff25 189.5px,#cfff15 211.5px,#b7ff01 226.5px,#8aff00 241.5px,#23ff00 263.5px,#00ff01 270.5px,#00ff40 284.5px)"></i><i style="background:linear-gradient(90deg,#ffb59d 0.5px,#ffb27f 64.5px,#ffc674 100.5px,#ffc169 124.5px,#ffc54c 147.5px,#ffde34 163.5px,#fdff26 175.5px,#dcff23 189.5px,#d0ff14 210.5px,#baff00 226.5px,#90ff00 240.5px,#32ff00 260.5px,#00ff01 270.5px,#00ff42 284.5px)"></i><i style="background:linear-gradient(90deg,#ffb49d 0.5px,#ffb17e 64.5px,#ffc573 98.5px,#ffc06b 122.5px,#ffc24c 146.5px,#ffd933 162.5px,#fdff23 175.5px,#dcff20 188.5px,#d2ff14 208.5px,#c0ff00 224.5px,#9aff00 238.5px,#4dff00 255.5px,#00ff02 270.5px,#0f4 284.5px)"></i><i style="background:linear-gradient(90deg,#ffb49d 0.5px,#ffb07e 63.5px,#ffc473 96.5px,#ffc26f 117.5px,#ffbe51 142.5px,#ffd136 159.5px,#fdff1f 175.5px,#dcff1e 187.5px,#d4ff17 204.5px,#c8ff00 221.5px,#a7ff00 235.5px,#67ff00 250.5px,#00ff03 270.5px,#00ff46 284.5px)"></i><i style="background:linear-gradient(90deg,#ffb39d 0.5px,#ffae7e 63.5px,#ffc472 95.5px,#ffc372 113.5px,#ffbb54 140.5px,#ffcc36 158.5px,#fff120 171.5px,#f9ff1b 176.5px,#daff1b 187.5px,#d4ff17 202.5px,#cdff00 219.5px,#b4ff00 232.5px,#7dff00 246.5px,#01ff00 269.5px,#00ff48 284.5px)"></i><i style="background:linear-gradient(90deg,#ffb39d 0.5px,#ffad7e 63.5px,#ffbf71 90.5px,#ffc674 107.5px,#ffba64 128.5px,#ffbe44 149.5px,#ffd52a 163.5px,#fdff18 175.5px,#d9ff18 186.5px,#d3ff18 198.5px,#d2ff00 217.5px,#bdff00 230.5px,#8dff00 243.5px,#01ff01 269.5px,#00ff4b 284.5px)"></i><i style="background:linear-gradient(90deg,#ffb29d 0.5px,#ffac7e 62.5px,#ffbb70 87.5px,#ffc774 105.5px,#ffba69 124.5px,#ffb948 146.5px,#ffcd2b 161.5px,#fdff14 175.5px,#d9ff14 185.5px,#d1ff17 196.5px,#d5ff00 217.5px,#c0ff00 230.5px,#90ff00 243.5px,#10ff00 266.5px,#00ff01 269.5px,#00ff4d 284.5px)"></i><i style="background:linear-gradient(90deg,#ffb29c 0.5px,#ffab7d 62.5px,#ffb970 86.5px,#ffc774 104.5px,#ffba6b 122.5px,#ffb54b 144.5px,#ffc62d 159.5px,#ffe916 170.5px,#fcff0f 175.5px,#d8ff10 184.5px,#cfff16 193.5px,#d8ff09 208.5px,#d8ff00 216.5px,#c6ff00 229.5px,#98ff00 242.5px,#3f0 260.5px,#00ff02 269.5px,#00ff4f 284.5px)"></i><i style="background:linear-gradient(90deg,#ffb19c 0.5px,#ffaa7d 61.5px,#ffb76f 85.5px,#ffc874 103.5px,#ffbb6e 120.5px,#ffb24d 142.5px,#ffc12d 158.5px,#ffdf16 168.5px,#fcff0a 175.5px,#d5ff0d 184.5px,#cdff14 193.5px,#d9ff08 207.5px,#dbff00 215.5px,#ceff00 227.5px,#a8ff00 239.5px,#5fff00 253.5px,#00ff03 269.5px,#00ff52 284.5px)"></i><i style="background:linear-gradient(90deg,#ffb19c 0.5px,#ffa97d 61.5px,#ffb56e 84.5px,#ffc973 102.5px,#ffbc70 118.5px,#ffaf52 139.5px,#ffbc2e 157.5px,#ffd814 167.5px,#fcff05 175.5px,#d4ff08 183.5px,#c9ff10 190.5px,#d4ff0e 202.5px,#deff00 213.5px,#d6ff00 225.5px,#b4ff00 237.5px,#72ff00 250.5px,#02ff00 268.5px,#00ff54 284.5px)"></i><i style="background:linear-gradient(90deg,#ffb09c 0.5px,#ffa77d 60.5px,#ffb36d 83.5px,#ffca74 102.5px,#ffbc72 117.5px,#ffad53 138.5px,#ffb72e 156.5px,#ffd012 166.5px,#fbff00 175.5px,#cfff03 183.5px,#c5ff0e 190.5px,#d3ff0e 201.5px,#e0ff00 212.5px,#dcff00 224.5px,#c0ff00 235.5px,#86ff00 247.5px,#01ff01 268.5px,#00ff57 284.5px)"></i><i style="background:linear-gradient(90deg,#ffb09c 0.5px,#ffa67e 58.5px,#ffaf6d 81.5px,#ffc86f 97.5px,#ffc777 108.5px,#ffb26a 124.5px,#ffab45 145.5px,#ffba21 160.5px,#ffd608 168.5px,#fffc00 174.5px,#caff00 183.5px,#c1ff0b 189.5px,#cfff0e 199.5px,#e2ff00 211.5px,#e1ff00 223.5px,#c7ff00 234.5px,#8fff00 246.5px,#00ff01 268.5px,#00ff59 284.5px)"></i><i style="background:linear-gradient(90deg,#ffaf9c 0.5px,#ffa581 54.5px,#ffad6d 80.5px,#ffc66d 95.5px,#ffcb77 105.5px,#ffb872 118.5px,#ffa854 137.5px,#ffaf2a 156.5px,#ffc40e 165.5px,#ffde00 170.5px,#fffc00 174.5px,#caff00 182.5px,#bcff04 187.5px,#c8ff0f 196.5px,#e5ff00 211.5px,#e7ff00 222.5px,#cfff00 233.5px,#9eff00 244.5px,#00ff02 268.5px,#00ff57 283.5px,#00ff5c 284.5px)"></i><i style="background:linear-gradient(90deg,#ffaf9c 0.5px,#ffa484 48.5px,#ffa96d 78.5px,#ffc36a 93.5px,#ffcd75 103.5px,#ffbd76 115.5px,#ffa75a 133.5px,#ffa92e 154.5px,#ffbc0d 164.5px,#ffce00 168.5px,#fffc00 174.5px,#c4ff00 182.5px,#b6ff01 187.5px,#c6ff0e 196.5px,#e7ff00 210.5px,#ecff00 221.5px,#d7ff00 232.5px,#a7ff00 243.5px,#43ff00 258.5px,#03ff00 267.5px,#00ff5f 284.5px)"></i><i style="background:linear-gradient(90deg,#ffae9c 0.5px,#ffa389 39.5px,#ffa76c 78.5px,#ffc167 92.5px,#ffcf75 102.5px,#ffc079 113.5px,#ffa65f 130.5px,#ffa432 152.5px,#ffb30e 163.5px,#ffc400 167.5px,#fffb00 174.5px,#beff00 182.5px,#afff00 187.5px,#c4ff0e 196.5px,#eaff00 210.5px,#f1ff00 221.5px,#dcff00 232.5px,#abff00 243.5px,#4bff00 257.5px,#02ff00 267.5px,#00ff5d 283.5px,#00ff62 284.5px)"></i><i style="background:linear-gradient(90deg,#ffae9c 0.5px,#ffa28b 35.5px,#ffa66b 78.5px,#ffbc64 90.5px,#ffd172 100.5px,#ffc67c 110.5px,#ffa969 125.5px,#ff9f3f 146.5px,#ffaa12 161.5px,#ffb900 166.5px,#ffe600 172.5px,#fffb00 174.5px,#d8ff00 178.5px,#b6ff00 182.5px,#a8ff00 186.5px,#b0ff09 191.5px,#cdff0d 199.5px,#e9ff00 208.5px,#f6ff00 218.5px,#ecff00 228.5px,#caff00 238.5px,#8f0 249.5px,#01ff01 267.5px,#00ff56 281.5px,#00ff65 284.5px)"></i><i style="background:linear-gradient(90deg,#ffad9b 0.5px,#ffa18c 33.5px,#ffa46a 78.5px,#ffb862 89.5px,#ffd270 99.5px,#ffce7d 107.5px,#ffb376 118.5px,#ff9f59 133.5px,#ff9e26 155.5px,#ffaa02 164.5px,#ffd000 170.5px,#fff900 174.5px,#ecff00 176.5px,#b5ff00 181.5px,#a1ff00 185.5px,#a3ff03 189.5px,#c0ff0f 196.5px,#efff00 209.5px,#fbff00 219.5px,#efff00 229.5px,#caff00 239.5px,#84ff00 250.5px,#00ff02 267.5px,#00ff54 280.5px,#00ff68 284.5px)"></i><i style="background:linear-gradient(90deg,#ffad9b 0.5px,#ffa492 26.5px,#ffa06b 76.5px,#ffb160 87.5px,#ffcf68 96.5px,#ffd679 103.5px,#ffc27f 112.5px,#ffa367 126.5px,#ff9836 149.5px,#ff9e0d 161.5px,#ffa900 165.5px,#ffca00 170.5px,#fff800 174.5px,#f8ff00 175.5px,#b5ff00 180.5px,#9dff00 183.5px,#96ff00 187.5px,#b4ff0f 194.5px,#daff09 202.5px,#efff00 208.5px,#fffe00 217.5px,#f9ff00 227.5px,#d9ff00 237.5px,#9eff00 247.5px,#04ff00 266.5px,#00ff27 272.5px,#00ff6c 284.5px)"></i><i style="background:linear-gradient(90deg,#ffac9b 0.5px,#ffa594 24.5px,#ff9f85 42.5px,#ff9e6a 76.5px,#ffac5e 86.5px,#ffcb62 94.5px,#ffda72 100.5px,#ffcf81 108.5px,#ffb078 118.5px,#ff9b5c 131.5px,#ff9526 154.5px,#ff9e00 164.5px,#fb0 169.5px,#ffe600 173.5px,#f9ff00 175.5px,#af0 180.5px,#90ff00 183.5px,#8aff00 186.5px,#93ff03 189.5px,#b7ff12 195.5px,#e0ff07 203.5px,#f3ff00 208.5px,#fffc00 214.5px,#fffa00 224.5px,#f5ff00 231.5px,#cfff00 240.5px,#8bff00 250.5px,#02ff00 266.5px,#00ff5b 280.5px,#00ff6f 284.5px)"></i><i style="background:linear-gradient(90deg,#ffac9b 0.5px,#ffa595 23.5px,#ff9d87 38.5px,#ff9b6e 72.5px,#ffa45e 84.5px,#ffc25b 92.5px,#ffdd6f 99.5px,#ffd980 105.5px,#ffbf82 113.5px,#ffa06b 124.5px,#ff913b 146.5px,#ff9111 159.5px,#ff9400 163.5px,#ffb300 169.5px,#ffd200 172.5px,#fafe00 175.5px,#adff00 179.5px,#8f0 182.5px,#7dff00 185.5px,#84ff00 188.5px,#aeff13 194.5px,#ddff0b 202.5px,#f3ff00 207.5px,#fffb00 212.5px,#fff200 221.5px,#fcff00 231.5px,#d5ff00 240.5px,#8eff00 250.5px,#01ff01 266.5px,#00ff53 278.5px,#00ff73 284.5px)"></i><i style="background:linear-gradient(90deg,#ffab9b 0.5px,#ffa596 22.5px,#ff9b88 36.5px,#ff9970 70.5px,#ff9f5d 83.5px,#ffb756 90.5px,#ffd962 96.5px,#ffe376 101.5px,#ffd287 108.5px,#ffaf7d 117.5px,#ff9964 127.5px,#ff8c26 153.5px,#ff8e00 163.5px,#ffa900 169.5px,#ffc900 172.5px,#fbfd00 175.5px,#9fff00 179.5px,#80ff00 181.5px,#70ff00 183.5px,#6fff00 186.5px,#82ff07 189.5px,#acff16 194.5px,#daff0f 201.5px,#f7ff00 207.5px,#fff900 211.5px,#ffec00 220.5px,#fff900 230.5px,#f8ff00 234.5px,#c8ff00 243.5px,#7f0 253.5px,#00ff02 266.5px,#00ff51 277.5px,#00ff76 284.5px)"></i><i style="background:linear-gradient(90deg,#ffab9b 0.5px,#ffa697 21.5px,#f98 35.5px,#ff9a7a 59.5px,#ff995f 81.5px,#ffab53 88.5px,#ffd157 94.5px,#ffe86d 99.5px,#ffe382 104.5px,#ffc78a 111.5px,#ff9e71 122.5px,#ff8d48 140.5px,#ff861a 156.5px,#ff8400 162.5px,#ff9800 168.5px,#ffb000 171.5px,#ffcd00 173.5px,#fdfa00 175.5px,#e5ff00 176.5px,#8eff00 179.5px,#6aff00 181.5px,#5bff00 183.5px,#5fff00 186.5px,#79ff0a 189.5px,#aaff1a 194.5px,#dcff11 201.5px,#fcff00 207.5px,#ffe700 217.5px,#ffea00 226.5px,#fefe00 234.5px,#d5ff00 242.5px,#8cff00 251.5px,#05ff00 265.5px,#00ff15 268.5px,#00ff5b 278.5px,#00ff7a 284.5px)"></i><i style="background:linear-gradient(90deg,#ffaa9a 0.5px,#ffa697 21.5px,#ff9788 34.5px,#ff9b7e 54.5px,#ff9561 79.5px,#ffa250 87.5px,#ffc24d 92.5px,#ffe860 97.5px,#ffef78 101.5px,#ffdb8c 107.5px,#ffb888 114.5px,#ff986e 123.5px,#ff842a 151.5px,#ff7e00 162.5px,#ff9200 169.5px,#ffad00 172.5px,#ffd500 174.5px,#fff200 175.5px,#e7ff00 176.5px,#9f0 178.5px,#78ff00 179.5px,#60ff00 180.5px,#4fff00 181.5px,#43ff00 183.5px,#4dff00 186.5px,#63ff08 188.5px,#94ff1c 192.5px,#c9ff1c 198.5px,#fbff01 206.5px,#ffe200 216.5px,#ffe100 225.5px,#fff900 234.5px,#f8ff00 237.5px,#c5ff00 245.5px,#68ff00 255.5px,#03ff00 265.5px,#00ff53 276.5px,#00ff7e 284.5px)"></i><i style="background:linear-gradient(90deg,#ffaa9a 0.5px,#ffa798 20.5px,#ff9588 33.5px,#ff9b80 51.5px,#ff9165 76.5px,#ff9751 85.5px,#ffa848 89.5px,#ffcc47 93.5px,#fff15d 97.5px,#fff872 100.5px,#ffe38d 106.5px,#ffbc8c 113.5px,#ff9974 121.5px,#ff8951 135.5px,#ff7e1f 154.5px,#f70 162.5px,#f80 170.5px,#f90 172.5px,#ffa800 173.5px,#ffc000 174.5px,#ffe200 175.5px,#edfe00 176.5px,#82ff00 178.5px,#59ff00 179.5px,#3dff00 180.5px,#2dff00 181.5px,#26ff00 183.5px,#3aff00 186.5px,#85ff1f 191.5px,#baff23 196.5px,#f5ff0b 204.5px,#fff900 207.5px,#fd0 215.5px,#ffd900 224.5px,#ffed00 233.5px,#faff00 238.5px,#c3ff00 246.5px,#5fff00 256.5px,#01ff01 265.5px,#00ff50 275.5px,#00ff82 284.5px)"></i><i style="background:linear-gradient(90deg,#ffa99a 0.5px,#ffa799 20.5px,#ff9287 33.5px,#ff9b81 48.5px,#ff8f68 74.5px,#ff914e 85.5px,#ffa241 89.5px,#ffc03d 92.5px,#ffe848 95.5px,#fffb58 97.5px,#fefe79 101.5px,#ffe68f 106.5px,#ffc090 112.5px,#ff9878 120.5px,#ff895b 130.5px,#ff7a25 152.5px,#ff7000 161.5px,#ff7900 171.5px,#ff8b00 173.5px,#ffa000 174.5px,#ffc500 175.5px,#f5f700 176.5px,#acff00 177.5px,#5fff00 178.5px,#2bff00 179.5px,#10ff01 180.5px,#05ff04 182.5px,#0dff00 184.5px,#26ff02 186.5px,#63ff1d 189.5px,#9cff2a 193.5px,#d5ff22 199.5px,#fefe09 205.5px,#fe0 208.5px,#ffd500 216.5px,#ffd300 225.5px,#ffe900 234.5px,#fcff00 239.5px,#c0ff00 247.5px,#49ff00 258.5px,#00ff03 265.5px,#00ff4e 274.5px,#00ff86 284.5px)"></i><i style="background:linear-gradient(90deg,#ffa99a 0.5px,#ffa89a 20.5px,#ff908c 30.5px,#ff9282 36.5px,#ff9b81 47.5px,#ff8d69 73.5px,#ff8b4b 85.5px,#ff9a3a 89.5px,#ffbc31 92.5px,#fff13d 95.5px,#fdfd46 96.5px,#efff66 99.5px,#fefe85 103.5px,#ffdb93 108.5px,#ffaa8b 115.5px,#ff8f74 121.5px,#ff824e 136.5px,#ff741d 154.5px,#ff6a00 161.5px,#ff6100 170.5px,#ff6500 173.5px,#ff7100 174.5px,#ff8f00 175.5px,#fed600 176.5px,#9cff00 177.5px,#22ff04 178.5px,#02ff1d 179.5px,#00ff2f 180.5px,#00ff31 181.5px,#00ff20 183.5px,#03ff05 185.5px,#18ff09 186.5px,#4bff1f 188.5px,#81ff2e 191.5px,#bdff2f 196.5px,#fdfe11 204.5px,#ffe800 208.5px,#ffcd00 216.5px,#ffcb00 225.5px,#ffe100 234.5px,#fdfe00 240.5px,#c6ff00 247.5px,#62ff00 256.5px,#05ff00 264.5px,#00ff23 268.5px,#0f6 277.5px,#00ff8b 284.5px)"></i><i style="background:linear-gradient(90deg,#ffa899 0.5px,#ffa99b 20.5px,#ff9291 28.5px,#ff8a83 33.5px,#ff9b82 44.5px,#ff8e6f 68.5px,#ff8454 82.5px,#ff8a39 88.5px,#ff972c 90.5px,#ffb623 92.5px,#ffe525 94.5px,#fdfb2d 95.5px,#e2ff47 97.5px,#ddff62 99.5px,#f7ff84 103.5px,#fff68d 105.5px,#ffc293 111.5px,#ff9480 118.5px,#ff8568 124.5px,#ff7326 151.5px,#ff6500 161.5px,#ff5c00 167.5px,#ff3100 174.5px,#f30 175.5px,#ff5400 176.5px,#72e420 177.5px,#00ff73 178.5px,#00ff84 179.5px,#00ff7d 180.5px,#00ff47 183.5px,#07ff23 185.5px,#16ff1d 186.5px,#5dff30 189.5px,#90ff39 192.5px,#caff33 197.5px,#fcff19 203.5px,#ffe100 208.5px,#ffc600 216.5px,#ffc300 225.5px,#ffd900 234.5px,#fefe00 241.5px,#cdff00 247.5px,#71ff00 255.5px,#02ff01 264.5px,#00ff51 273.5px,#00ff8b 283.5px,#00ff8f 284.5px)"></i><i style="background:linear-gradient(90deg,#ffa799 0.5px,#ffab9c 19.5px,#ff9295 28.5px,#ff8581 33.5px,#ff9a81 42.5px,#ff9076 62.5px,#ff835c 79.5px,#ff7c40 86.5px,#ff812a 89.5px,#ff9518 91.5px,#ffa90f 92.5px,#ffec0c 94.5px,#efff16 95.5px,#d5ff27 96.5px,#c7ff3a 97.5px,#c7ff5c 99.5px,#e2ff7c 102.5px,#fffb8d 105.5px,#ffc893 110.5px,#ff9787 116.5px,#ff8272 121.5px,#ff7e54 132.5px,#ff6e25 151.5px,#ff5f00 161.5px,#ff5700 166.5px,#ff4300 169.5px,#ff1d00 172.5px,#ff0b03 173.5px,#ff0215 174.5px,#ff003c 175.5px,#ff0093 176.5px,#5718fc 177.5px,#00b3fe 178.5px,#00f1ef 179.5px,#00ffd1 180.5px,#00ff6f 183.5px,#05ff56 184.5px,#30ff33 187.5px,#71ff3f 190.5px,#acff41 194.5px,#f2ff28 201.5px,#fffc1d 203.5px,#ffd900 208.5px,#ffc000 215.5px,#ffb900 224.5px,#fc0 233.5px,#fff600 241.5px,#f9ff00 243.5px,#b3ff00 250.5px,#0aff00 263.5px,#01ff03 264.5px,#00ff47 271.5px,#00ff81 280.5px,#00ff94 284.5px)"></i><i style="background:linear-gradient(90deg,#ffa799 0.5px,#ffad9d 19.5px,#ff929a 28.5px,#ff8084 32.5px,#ff817b 34.5px,#ff9980 40.5px,#ff957e 54.5px,#ff8260 77.5px,#ff7444 85.5px,#ff6f23 89.5px,#ff7d07 91.5px,#ff9700 92.5px,#ffc000 93.5px,#fcf200 94.5px,#d3ff01 95.5px,#abff0c 96.5px,#9dff27 97.5px,#9fff41 98.5px,#b6ff65 100.5px,#e1ff82 103.5px,#fcfe8d 105.5px,#ffc492 110.5px,#ff9387 115.5px,#ff7b74 120.5px,#ff7c59 129.5px,#ff6c2a 149.5px,#ff5b00 161.5px,#ff4f00 166.5px,#ff3600 169.5px,#ff0305 172.5px,#ff0020 173.5px,#ff004c 174.5px,#ff008d 175.5px,#f100ea 176.5px,#6500ff 177.5px,#0138ff 178.5px,#009cff 179.5px,#00e0fe 180.5px,#00fde7 181.5px,#04ff98 183.5px,#27ff6c 185.5px,#3dff4d 187.5px,#49ff44 188.5px,#86ff4c 191.5px,#c7ff44 196.5px,#fefe27 202.5px,#ffd201 208.5px,#ffb700 215.5px,#ffb100 224.5px,#ffc300 233.5px,#ffe600 240.5px,#fffc00 243.5px,#dcff00 247.5px,#84ff00 254.5px,#06ff00 263.5px,#00ff12 265.5px,#0f5 272.5px,#00ff8c 281.5px,#0f9 284.5px)"></i><i style="background:linear-gradient(90deg,#ffa698 0.5px,#ffb09c 17.5px,#ffa6a0 23.5px,#ff8d9d 29.5px,#ff7b86 32.5px,#ff7a75 34.5px,#ff957b 38.5px,#ff9b82 44.5px,#ff8970 67.5px,#f75 81.5px,#ff673c 86.5px,#ff591c 89.5px,#ff560a 90.5px,#ff5f00 91.5px,#ff7d00 92.5px,#ffaf00 93.5px,#f6f300 94.5px,#adff00 95.5px,#6fff00 96.5px,#5bff11 97.5px,#6cff34 98.5px,#99ff61 100.5px,#d5ff83 103.5px,#f6ff8e 105.5px,#fff992 106.5px,#ffb390 111.5px,#ff8685 115.5px,#ff7478 119.5px,#ff7265 123.5px,#ff7851 133.5px,#ff6523 151.5px,#ff5600 161.5px,#ff4f00 165.5px,#ff3900 168.5px,#ff1b00 170.5px,#ff0601 171.5px,#ff0018 172.5px,#ff003d 173.5px,#ff0070 174.5px,#ff00b6 175.5px,#e600fa 176.5px,#7900ff 177.5px,#120aff 178.5px,#0058ff 179.5px,#00a3ff 180.5px,#00e0ff 181.5px,#04fee8 182.5px,#18ffc1 183.5px,#39ff8b 185.5px,#52ff56 188.5px,#9aff57 192.5px,#e1ff43 198.5px,#fcff32 201.5px,#ffc902 208.5px,#ffae00 215.5px,#ffa800 224.5px,#ffba00 233.5px,#ffdc00 240.5px,#fffb00 244.5px,#e5ff00 247.5px,#97ff00 253.5px,#03ff01 263.5px,#00ff53 271.5px,#00ff87 279.5px,#00ff9e 284.5px)"></i><i style="background:linear-gradient(90deg,#ffa598 0.5px,#ffb09a 15.5px,#ffaea1 21.5px,#ff93a7 28.5px,#ff849f 30.5px,#ff7387 32.5px,#ff6d76 33.5px,#ff6f6c 34.5px,#ff9176 37.5px,#ff9d81 41.5px,#ff927d 55.5px,#ff7c5f 77.5px,#ff6848 84.5px,#ff5633 87.5px,#ff4118 89.5px,#ff3505 90.5px,#ff3900 91.5px,#ff4e00 92.5px,#ff7f00 93.5px,#efe600 94.5px,#6aff00 95.5px,#1cff05 96.5px,#0eff0f 97.5px,#57ff4b 99.5px,#98ff71 101.5px,#deff8e 104.5px,#fefc97 106.5px,#ffbd95 110.5px,#ff8e89 113.5px,#ff7689 117.5px,#ff6663 122.5px,#ff7557 129.5px,#ff662f 147.5px,#ff5300 161.5px,#ff4b00 165.5px,#ff3400 168.5px,#ff1300 170.5px,#ff0107 171.5px,#ff0025 172.5px,#ff004e 173.5px,#ff0082 174.5px,#ff00c5 175.5px,#e600fd 176.5px,#2f00ff 178.5px,#0028ff 179.5px,#0074ff 180.5px,#08b8ff 181.5px,#1df0fd 182.5px,#30ffe1 183.5px,#4affa4 185.5px,#5eff67 188.5px,#6cff61 189.5px,#a0ff61 192.5px,#e7ff49 198.5px,#fffb37 201.5px,#fb0 209.5px,#ffa200 217.5px,#ffa000 226.5px,#ffb800 235.5px,#ffe100 242.5px,#fffb00 245.5px,#ef0 247.5px,#9cff00 253.5px,#0cff00 262.5px,#01ff03 263.5px,#00ff48 269.5px,#00ff7d 276.5px,#00ffa3 284.5px)"></i><i style="background:linear-gradient(90deg,#ffa498 0.5px,#ffb29a 15.5px,#ffb1a3 21.5px,#ffa0a6 25.5px,#ff93af 28.5px,#ff7faa 30.5px,#ff729e 31.5px,#ff5c6e 33.5px,#ff625d 34.5px,#ff8a6b 36.5px,#ff9b78 38.5px,#ff9e84 43.5px,#ff8771 66.5px,#ff7258 80.5px,#ff5c43 85.5px,#ff3d29 88.5px,#ff1305 90.5px,#ff0c03 91.5px,#ff0d07 92.5px,#ff1a0d 93.5px,#d86f2d 94.5px,#09ff64 95.5px,#00ff76 96.5px,#02ff6a 97.5px,#4cff70 99.5px,#66ff70 100.5px,#a4ff85 102.5px,#dcffa4 104.5px,#fdfebc 106.5px,#ffe8bd 108.5px,#ffc4a8 110.5px,#ff9691 112.5px,#ff7397 116.5px,#ff6380 119.5px,#ff5c5e 122.5px,#ff7057 127.5px,#ff6f48 137.5px,#ff5816 154.5px,#ff4f00 161.5px,#ff4900 165.5px,#ff3200 168.5px,#ff1000 170.5px,#ff0009 171.5px,#ff0029 172.5px,#ff0053 173.5px,#ff0086 174.5px,#ff00c5 175.5px,#ed00fb 176.5px,#4e00ff 178.5px,#0d10ff 179.5px,#135aff 180.5px,#25a2ff 181.5px,#36daff 182.5px,#44fdf6 183.5px,#59ffb8 185.5px,#6aff77 188.5px,#73ff6c 189.5px,#a7ff6b 192.5px,#edff51 198.5px,#fefd43 200.5px,#ffb100 209.5px,#ff9800 217.5px,#ff9700 226.5px,#ffad00 235.5px,#ffd600 242.5px,#fffb00 246.5px,#ebff00 248.5px,#a1ff00 253.5px,#07ff00 262.5px,#00ff16 264.5px,#00ff4f 269.5px,#00ff83 276.5px,#00ffa9 284.5px)"></i><i style="background:linear-gradient(90deg,#ffa397 0.5px,#ffb097 13.5px,#ffb7a3 20.5px,#ffa2a9 25.5px,#ff93b9 28.5px,#ff79bb 30.5px,#ff65af 31.5px,#ff4d91 32.5px,#ff3d5e 33.5px,#ff4d41 34.5px,#ff7852 35.5px,#ff9163 36.5px,#ffa278 38.5px,#ffa184 42.5px,#ff8875 63.5px,#ff725b 79.5px,#ff5d4a 84.5px,#ff4137 87.5px,#ff0a1d 90.5px,#ff0028 91.5px,#ff0048 92.5px,#ff0085 93.5px,#ba00f1 94.5px,#0269ff 95.5px,#00dcf7 96.5px,#06fcda 97.5px,#32ffbb 98.5px,#56ffa8 99.5px,#70ff9a 100.5px,#89ff95 101.5px,#b9ffb1 102.5px,#e4ffd7 103.5px,#f7ffee 104.5px,#fffffb 106.5px,#fffbf7 109.5px,#fff2ee 110.5px,#ffdcd9 111.5px,#ffb5ba 112.5px,#ff94a9 113.5px,#ff6ca8 116.5px,#ff5995 118.5px,#ff5165 121.5px,#ff5754 123.5px,#ff6b56 126.5px,#ff704f 133.5px,#ff5924 150.5px,#ff4c00 160.5px,#ff4900 165.5px,#ff3500 168.5px,#ff1400 170.5px,#ff0106 171.5px,#ff0025 172.5px,#ff014e 173.5px,#ff0380 174.5px,#ff04bb 175.5px,#f808f5 176.5px,#bb0eff 177.5px,#7818ff 178.5px,#3e26ff 179.5px,#3358ff 180.5px,#3f97ff 181.5px,#4bcbff 182.5px,#55f5fd 183.5px,#5dffe4 184.5px,#6bffac 186.5px,#73ff82 188.5px,#7bff76 189.5px,#afff75 192.5px,#f4ff58 198.5px,#fdfe51 199.5px,#ffa701 209.5px,#ff9000 216.5px,#ff8c00 225.5px,#ff9f00 234.5px,#ffc300 241.5px,#fefb00 247.5px,#e8ff00 249.5px,#95ff00 254.5px,#12ff00 261.5px,#03ff01 262.5px,#00ff4d 268.5px,#00ff7e 274.5px,#00ffab 283.5px,#00ffaf 284.5px)"></i><i style="background:linear-gradient(90deg,#ffa297 0.5px,#ffae95 12.5px,#ffbca2 19.5px,#ffb5a6 22.5px,#ffa7a5 24.5px,#ff94c5 28.5px,#ff88cf 29.5px,#ff75d6 30.5px,#ff56d5 31.5px,#ff24b3 32.5px,#ff0749 33.5px,#ff4012 34.5px,#ff893d 35.5px,#ffa35d 36.5px,#ffab6f 37.5px,#ffab80 39.5px,#ff9d86 45.5px,#ff7864 75.5px,#ff6050 83.5px,#ff4843 86.5px,#ff343d 88.5px,#ff1944 90.5px,#ff0552 91.5px,#ff007f 92.5px,#ff00ce 93.5px,#ae00ff 94.5px,#1e0bff 95.5px,#0167ff 96.5px,#1dc2ff 97.5px,#48f6f7 98.5px,#69ffdc 99.5px,#93ffcd 100.5px,#d2ffdf 101.5px,#f6fff7 102.5px,#fff 103.5px,#fff 111.5px,#fff7f8 112.5px,#ffd3e3 113.5px,#ff99ca 114.5px,#ff77c4 115.5px,#ff65c2 116.5px,#ff53b9 117.5px,#ff45a6 118.5px,#ff3c8b 119.5px,#ff3f5a 121.5px,#ff454d 122.5px,#ff5c4f 124.5px,#ff6c54 127.5px,#ff6a49 136.5px,#ff511c 152.5px,#ff4900 160.5px,#ff4b00 165.5px,#ff3b00 168.5px,#ff110b 171.5px,#ff0f25 172.5px,#ff1a7c 174.5px,#fe28e9 176.5px,#da30ff 177.5px,#6d43ff 179.5px,#4e5cff 180.5px,#5dc3ff 182.5px,#63edff 183.5px,#69ffee 184.5px,#74ffb5 186.5px,#7bff8a 188.5px,#83ff7e 189.5px,#b7ff7d 192.5px,#f2ff66 197.5px,#fff857 199.5px,#ff9d02 209.5px,#ff8600 216.5px,#ff8200 226.5px,#ff9700 235.5px,#ffbe00 242.5px,#fff000 247.5px,#fefc00 248.5px,#e4ff00 250.5px,#86ff00 255.5px,#0cff00 261.5px,#00ff05 262.5px,#00ff4b 267.5px,#00ff80 273.5px,#00ffad 282.5px,#00ffb4 284.5px)"></i><i style="background:linear-gradient(90deg,#ffa196 0.5px,#ffab93 11.5px,#ffc0a1 19.5px,#ffb9a6 22.5px,#ffaaa6 24.5px,#ffa3b7 26.5px,#ff98d3 28.5px,#ff8de5 29.5px,#fb79f7 30.5px,#e451fe 31.5px,#c00bfc 32.5px,#d62285 33.5px,#fdb000 34.5px,#ffc231 35.5px,#ffc15e 36.5px,#ffbc74 37.5px,#ffb284 39.5px,#ff9b86 46.5px,#ff7260 77.5px,#ff5d52 83.5px,#ff4849 86.5px,#ff3556 89.5px,#ff2a62 90.5px,#ff1d77 91.5px,#ff0d9d 92.5px,#ff04e0 93.5px,#c003ff 94.5px,#5a08ff 95.5px,#2531ff 96.5px,#438bff 97.5px,#64cdff 98.5px,#96f7fc 99.5px,#e1fff8 100.5px,#fefffe 101.5px,#fffefe 113.5px,#ffe0f5 114.5px,#ff92e9 115.5px,#ff60e8 116.5px,#ff43e0 117.5px,#ff27c4 118.5px,#ff1593 119.5px,#ff1662 120.5px,#ff2444 121.5px,#ff353a 122.5px,#ff5a49 124.5px,#ff6b52 127.5px,#ff6749 136.5px,#ff4d1b 152.5px,#f40 159.5px,#ff4e00 166.5px,#ff4601 168.5px,#ff390f 170.5px,#ff2224 172.5px,#ff2748 173.5px,#ff38a3 175.5px,#ff42d6 176.5px,#f24bfd 177.5px,#925dff 179.5px,#6b69ff 180.5px,#6ec0ff 182.5px,#72e7ff 183.5px,#75fff4 184.5px,#7fffa4 187.5px,#82ff8f 188.5px,#8bff84 189.5px,#c0ff85 192.5px,#efff74 196.5px,#fffa65 198.5px,#ff9204 209.5px,#ff7b00 216.5px,#ff7800 226.5px,#ff8c00 235.5px,#ffb100 242.5px,#ffe300 247.5px,#fdfd00 249.5px,#cbff00 252.5px,#06ff00 261.5px,#00ff1e 263.5px,#0f5 267.5px,#00ff82 272.5px,#00ffac 280.5px,#00ffba 284.5px)"></i><i style="background:linear-gradient(90deg,#ffa096 0.5px,#ffa891 10.5px,#ffc49d 18.5px,#ffc3a4 21.5px,#ffa8ac 25.5px,#ffa1e0 28.5px,#fe99f7 29.5px,#e288ff 30.5px,#a467ff 31.5px,#3244ff 32.5px,#01ddb3 33.5px,#7aff0c 34.5px,#effb47 35.5px,#ffe16c 36.5px,#ffcd7d 37.5px,#ffb88a 39.5px,#ffa089 44.5px,#ff8576 62.5px,#ff6b5d 79.5px,#ff5050 85.5px,#ff455d 88.5px,#ff3c76 90.5px,#ff358c 91.5px,#ff2eae 92.5px,#ff29de 93.5px,#e329ff 94.5px,#a435ff 95.5px,#734aff 96.5px,#6773ff 97.5px,#8db8ff 98.5px,#e0f4ff 99.5px,#feffff 100.5px,#fffeff 114.5px,#fcdaff 115.5px,#e771ff 116.5px,#dc2fff 117.5px,#ef05f5 118.5px,#ff00b3 119.5px,#ff0054 120.5px,#ff061b 121.5px,#ff2a21 122.5px,#ff4b37 123.5px,#ff5d44 124.5px,#ff6a4f 126.5px,#ff6a50 132.5px,#ff4f28 148.5px,#ff3f01 158.5px,#ff5600 167.5px,#ff560c 169.5px,#ff4b20 171.5px,#ff402a 172.5px,#ff373c 173.5px,#ff4b91 175.5px,#fe64f0 177.5px,#de6eff 178.5px,#897cff 180.5px,#7f9cff 181.5px,#82e6ff 183.5px,#83fef7 184.5px,#87ffa9 187.5px,#88ff93 188.5px,#94ff8a 189.5px,#c9ff8b 192.5px,#f8ff7b 196.5px,#fff26c 198.5px,#ff8000 210.5px,#ff6d00 219.5px,#ff7100 229.5px,#ff8c00 238.5px,#ffb400 244.5px,#ffe200 248.5px,#fbfe00 250.5px,#bfff00 253.5px,#13ff00 260.5px,#02ff04 261.5px,#00ff46 265.5px,#00ff7c 270.5px,#00ffa7 277.5px,#00ffc0 284.5px)"></i><i style="background:linear-gradient(90deg,#ff9f96 0.5px,#ffa68f 10.5px,#ffc498 17.5px,#ffcca0 20.5px,#ffc2a7 23.5px,#ffb0ae 25.5px,#ffb0d2 27.5px,#ffafe9 28.5px,#f7aafe 29.5px,#d1a1ff 30.5px,#9895ff 31.5px,#71c4ff 32.5px,#56ffc0 33.5px,#7bff5f 34.5px,#daff71 35.5px,#fff281 36.5px,#ffd78a 37.5px,#ffbb90 39.5px,#ffa38d 43.5px,#ff8b7e 55.5px,#ff6c5f 78.5px,#ff5356 85.5px,#ff4e67 88.5px,#ff4b80 90.5px,#ff47af 92.5px,#fb4cf7 94.5px,#d858ff 95.5px,#b46aff 96.5px,#9e84ff 97.5px,#cfd2ff 98.5px,#fdfeff 99.5px,#fefdff 115.5px,#d5b5ff 116.5px,#7627ff 117.5px,#7900ff 118.5px,#e800d8 119.5px,#ff032c 120.5px,#ff1a01 121.5px,#ff3910 122.5px,#ff5730 123.5px,#ff6541 124.5px,#ff6e50 126.5px,#ff6850 132.5px,#ff4b27 148.5px,#ff3a00 158.5px,#ff6603 168.5px,#ff6d18 170.5px,#ff6330 172.5px,#ff583d 173.5px,#ff5052 174.5px,#ff6cad 176.5px,#ff7bdc 177.5px,#f488fd 178.5px,#d097ff 179.5px,#b6a7ff 180.5px,#b9ddff 182.5px,#b5f0ff 183.5px,#a8fef9 184.5px,#91ffc5 186.5px,#90ff97 188.5px,#b2ff91 190.5px,#dfff8f 193.5px,#fefc81 196.5px,#ffa22f 205.5px,#ff7400 210.5px,#ff6200 219.5px,#ff6700 230.5px,#ff7f00 238.5px,#ffa500 244.5px,#ffd200 248.5px,#fff300 250.5px,#f7ff00 251.5px,#b0ff00 254.5px,#0bff00 260.5px,#00ff0c 261.5px,#0f4 264.5px,#00ff75 268.5px,#00ffa1 274.5px,#00ffc7 284.5px)"></i><i style="background:linear-gradient(90deg,#ff9e95 0.5px,#ffa48d 10.5px,#ffbb8f 15.5px,#ffd399 19.5px,#ffd3a3 22.5px,#ffbeb4 25.5px,#ffc0c6 26.5px,#ffd2f3 28.5px,#f7ceff 29.5px,#d8c3ff 30.5px,#b4c4ff 31.5px,#a7f0fd 32.5px,#9cffc9 33.5px,#acff97 34.5px,#e3ff96 35.5px,#fff397 36.5px,#ffd998 37.5px,#ffbb97 39.5px,#ffa28e 43.5px,#ff8a7e 55.5px,#ff685f 79.5px,#ff565b 85.5px,#ff556d 88.5px,#ff5794 91.5px,#ff5cc2 93.5px,#fa6ffa 95.5px,#e281ff 96.5px,#d8adff 97.5px,#f8f6ff 98.5px,#fff 99.5px,#fff 115.5px,#eff0ff 116.5px,#567eff 117.5px,#006cff 118.5px,#579f99 119.5px,#fd8b00 120.5px,#ff6b00 121.5px,#ff610f 122.5px,#ff6c31 123.5px,#ff7143 124.5px,#ff7251 126.5px,#ff6750 132.5px,#ff4627 148.5px,#ff3401 157.5px,#ff4800 162.5px,#ff7a00 168.5px,#ff8a14 170.5px,#ff8a31 172.5px,#ff7a56 174.5px,#ff746e 175.5px,#ff8099 176.5px,#ff9cce 177.5px,#fec5f8 178.5px,#f7e7ff 179.5px,#f8f6ff 180.5px,#fcfeff 183.5px,#f7fffe 184.5px,#e8fff7 185.5px,#c8ffe0 186.5px,#a6ffba 187.5px,#9cff9d 188.5px,#e9ff94 193.5px,#fefd8d 195.5px,#ffcb65 200.5px,#ff6801 210.5px,#ff5700 219.5px,#ff5c00 230.5px,#ff7500 239.5px,#ff9500 244.5px,#ffc100 248.5px,#fff600 251.5px,#f1ff00 252.5px,#9bff00 255.5px,#1cff00 259.5px,#04ff03 260.5px,#00ff52 264.5px,#00ff82 268.5px,#00ffab 274.5px,#00ffcd 284.5px)"></i><i style="background:linear-gradient(90deg,#ff9c95 0.5px,#ffa18b 10.5px,#ffb389 14.5px,#ffe196 20.5px,#ffdeaa 23.5px,#ffdab7 24.5px,#ffe2d6 25.5px,#fff1f1 26.5px,#fffafc 27.5px,#fefcff 29.5px,#f8f5ff 30.5px,#e4efff 31.5px,#cefcf9 32.5px,#c2ffd1 33.5px,#d3ffb9 34.5px,#f5feb0 35.5px,#ffeaa9 36.5px,#ffc29f 38.5px,#ffa995 41.5px,#ff9286 49.5px,#ff655e 80.5px,#ff5a5c 84.5px,#ff5b6f 88.5px,#ff618f 91.5px,#ff68af 93.5px,#ff80de 95.5px,#fd95f5 96.5px,#fad8ff 97.5px,#fff 98.5px,#feffff 116.5px,#adf2fd 117.5px,#0dfcb8 118.5px,#23ff1b 119.5px,#d9f900 120.5px,#ffb302 121.5px,#ff8d1e 122.5px,#ff833a 123.5px,#ff7f4a 124.5px,#f75 126.5px,#ff614d 134.5px,#ff3d1f 150.5px,#ff2e00 157.5px,#ff4500 162.5px,#ff6400 165.5px,#ff9f01 169.5px,#ffab0b 170.5px,#ffb52f 172.5px,#ffa679 175.5px,#ffb1a6 176.5px,#ffe2e8 177.5px,#fffcfe 178.5px,#fdfffe 186.5px,#e8ffec 187.5px,#bfffbb 188.5px,#baffa2 189.5px,#f4ff98 193.5px,#fefd95 194.5px,#ffd67d 198.5px,#ff5c02 210.5px,#ff4c00 219.5px,#ff5100 231.5px,#ff6b00 240.5px,#ff8c00 245.5px,#ffae00 248.5px,#ffe300 251.5px,#fdfa00 252.5px,#e6ff00 253.5px,#7eff00 256.5px,#12ff00 259.5px,#00ff0d 260.5px,#00ff51 263.5px,#00ff7c 266.5px,#00ffa6 271.5px,#00ffc7 279.5px,#00ffd3 284.5px)"></i><i style="background:linear-gradient(90deg,#ff9b94 0.5px,#ff9e88 10.5px,#ffb083 14.5px,#ffea88 19.5px,#fff696 21.5px,#fff2b1 23.5px,#fff5de 24.5px,#fffdfb 25.5px,#feffff 31.5px,#f3fffb 32.5px,#e1ffdf 33.5px,#f0ffd0 34.5px,#fef4c4 35.5px,#ffc4ab 37.5px,#ffae9d 39.5px,#ff9489 47.5px,#ff625e 81.5px,#ff5c61 85.5px,#ff6685 91.5px,#ff6e99 93.5px,#ff8abe 95.5px,#ffaadb 96.5px,#fff2fc 97.5px,#fff 98.5px,#fff 116.5px,#e6fff4 117.5px,#58ff77 118.5px,#61ff18 119.5px,#d4ff11 120.5px,#ffd420 121.5px,#ffa938 122.5px,#ff9549 123.5px,#ff8158 125.5px,#ff6653 131.5px,#ff3d26 148.5px,#ff2800 157.5px,#ff3900 161.5px,#ff5800 164.5px,#ff9300 167.5px,#ffd601 170.5px,#ffe40f 171.5px,#ffe928 172.5px,#ffe163 174.5px,#ffdf98 175.5px,#fff3e7 176.5px,#fff 177.5px,#fff 187.5px,#f3fff1 188.5px,#d7ffc1 189.5px,#d8ffa8 190.5px,#fefd9d 193.5px,#ffd689 197.5px,#ff6317 208.5px,#ff4f02 210.5px,#ff4000 219.5px,#ff4600 232.5px,#ff6000 241.5px,#ff8200 246.5px,#ffa700 249.5px,#ffcd00 251.5px,#ffe600 252.5px,#f7fd00 253.5px,#d6ff00 254.5px,#2aff00 258.5px,#07ff03 259.5px,#00ff39 261.5px,#00ff64 263.5px,#00ff8d 266.5px,#00ffb2 271.5px,#00ffd2 280.5px,#00ffda 284.5px)"></i><i style="background:linear-gradient(90deg,#ff9a94 0.5px,#ff9b83 11.5px,#ffa97b 14.5px,#ffc275 16.5px,#fdfb79 19.5px,#eeff90 21.5px,#f0ffa1 22.5px,#fffffc 24.5px,#fff 32.5px,#fafff5 33.5px,#fef9e1 34.5px,#ffb0b1 37.5px,#ffa4a4 38.5px,#ff9e96 41.5px,#ff7871 66.5px,#ff5e5e 83.5px,#ff6979 92.5px,#ff7b87 94.5px,#ff8f9b 95.5px,#ffbec9 96.5px,#fffcfd 97.5px,#fff 116.5px,#fafffa 117.5px,#b1ff98 118.5px,#baff57 119.5px,#f1fc47 120.5px,#ffd548 121.5px,#ffb250 122.5px,#ff9d58 123.5px,#ff7d5e 126.5px,#ff6152 132.5px,#ff3622 149.5px,#ff2001 156.5px,#f30 161.5px,#ff5400 164.5px,#ff8100 166.5px,#feea00 169.5px,#f0fd00 170.5px,#dbff02 171.5px,#d4ff1c 172.5px,#d9ff41 173.5px,#e7ff70 174.5px,#fbffd5 175.5px,#fffffe 176.5px,#fff 188.5px,#f6ffed 189.5px,#eaffbb 190.5px,#f4ffab 191.5px,#fefca6 192.5px,#ffcb8d 197.5px,#ff6c2f 206.5px,#ff4203 210.5px,#ff3500 219.5px,#ff3b00 233.5px,#ff5300 242.5px,#ff7500 247.5px,#ff9e00 250.5px,#fc0 252.5px,#ffec00 253.5px,#eaff00 254.5px,#85ff00 256.5px,#1cff00 258.5px,#0f1 259.5px,#00ff51 261.5px,#00ff7a 263.5px,#00ff9f 266.5px,#00ffc0 271.5px,#00ffdc 281.5px,#00ffe1 284.5px)"></i><i style="background:linear-gradient(90deg,#ff9894 0.5px,#ff9480 11.5px,#ff9f72 14.5px,#ffa96b 15.5px,#ffbb63 16.5px,#fcf75b 18.5px,#e3ff63 19.5px,#ceff73 20.5px,#c9ff88 21.5px,#d7ffaa 22.5px,#f9fff1 23.5px,#fff 24.5px,#fffffe 33.5px,#fff3f1 34.5px,#ffc0e1 36.5px,#ffa5c9 37.5px,#ff98ad 38.5px,#ff959c 39.5px,#ff9794 41.5px,#ff605f 82.5px,#ff656c 90.5px,#ff6764 92.5px,#ff7566 93.5px,#ff8f73 94.5px,#ffad8c 95.5px,#ffdccd 96.5px,#fff 97.5px,#fffffe 117.5px,#e8ffc0 118.5px,#eefe7a 119.5px,#ffeb69 120.5px,#ffc963 121.5px,#ffaf63 122.5px,#ff9066 124.5px,#ff6f5d 128.5px,#ff5146 137.5px,#ff2a19 151.5px,#ff1900 156.5px,#ff2a00 161.5px,#ff3d00 163.5px,#ff6100 165.5px,#ff8000 166.5px,#fa0 167.5px,#ffe000 168.5px,#e5fe00 169.5px,#b3ff00 170.5px,#8fff00 171.5px,#81ff0e 172.5px,#91ff3a 173.5px,#fcfff8 175.5px,#fff 177.5px,#fefffd 189.5px,#faffda 190.5px,#fefbb4 191.5px,#ffb787 198.5px,#ff3404 210.5px,#ff2900 219.5px,#ff3000 235.5px,#ff4500 243.5px,#ff5d00 247.5px,#ff8000 250.5px,#ffab00 252.5px,#ffcb00 253.5px,#fcf300 254.5px,#cfff00 255.5px,#45ff00 257.5px,#0bff05 258.5px,#00ff2c 259.5px,#00ff51 260.5px,#00ff83 262.5px,#0fa 265.5px,#00ffca 270.5px,#00ffe2 280.5px,#00ffe8 284.5px)"></i><i style="background:linear-gradient(90deg,#ff9794 0.5px,#ff8e81 10.5px,#ff9068 14.5px,#ff975b 15.5px,#ffa84a 16.5px,#ffcf37 17.5px,#eafd2e 18.5px,#abff3d 19.5px,#91ff5c 20.5px,#96ff7d 21.5px,#fefffd 23.5px,#fff 33.5px,#fef9fe 34.5px,#f1e2ff 35.5px,#dcb3ff 36.5px,#fa7fe2 37.5px,#ff80aa 38.5px,#ff8998 39.5px,#ff9490 43.5px,#ff6160 82.5px,#ff6468 89.5px,#ff625d 91.5px,#ff6956 92.5px,#ff7f52 93.5px,#ffad5d 94.5px,#ffde7f 95.5px,#fef8d6 96.5px,#fff 97.5px,#fff 117.5px,#fdfcd6 118.5px,#ffea8f 119.5px,#ffd07d 120.5px,#ffa570 122.5px,#ff836b 125.5px,#ff6359 130.5px,#ff2c21 149.5px,#ff1200 156.5px,#ff1f00 161.5px,#ff2f00 163.5px,#ff3d00 164.5px,#ff5200 165.5px,#ff7300 166.5px,#ffa700 167.5px,#f9ee00 168.5px,#b0ff00 169.5px,#64ff00 170.5px,#34ff00 171.5px,#20ff07 172.5px,#48ff3f 173.5px,#caffc7 174.5px,#fff 175.5px,#fff 189.5px,#fffdf0 190.5px,#ffeec0 191.5px,#ffe1b1 192.5px,#ffab8a 198.5px,#ff2704 210.5px,#ff1e00 215.5px,#ff2100 234.5px,#ff3400 244.5px,#ff4a00 248.5px,#ff6d00 251.5px,#ff8200 252.5px,#ff9f00 253.5px,#fc0 254.5px,#ecfb00 255.5px,#94ff00 256.5px,#32ff00 257.5px,#01ff1f 258.5px,#00ff54 259.5px,#00ff78 260.5px,#00ff91 261.5px,#00ffb0 263.5px,#00ffcd 267.5px,#00ffe6 276.5px,#0fe 284.5px)"></i><i style="background:linear-gradient(90deg,#ff9593 0.5px,#ff8983 9.5px,#ff7e6c 13.5px,#ff7b5f 14.5px,#ff784c 15.5px,#ff7c2b 16.5px,#ffac07 17.5px,#cafe00 18.5px,#3eff0c 19.5px,#40ff57 20.5px,#73ff96 21.5px,#d3ffe0 22.5px,#fff 23.5px,#fdfeff 34.5px,#e7fbf8 35.5px,#91e8d0 36.5px,#e43583 37.5px,#ff6383 38.5px,#ff7d8a 39.5px,#ff8e8f 41.5px,#ff8e8c 46.5px,#ff6161 82.5px,#ff6264 89.5px,#ff5c55 91.5px,#ff5c44 92.5px,#ff712b 93.5px,#fdc821 94.5px,#caff59 95.5px,#e8ffd8 96.5px,#fff 97.5px,#fff 117.5px,#fff2e1 118.5px,#ffcb9c 119.5px,#ffb689 120.5px,#ff9779 122.5px,#ff6961 128.5px,#ff4641 139.5px,#ff1b14 152.5px,#ff0a00 156.5px,#ff1700 162.5px,#ff2700 164.5px,#ff3700 165.5px,#ff5200 166.5px,#f80 167.5px,#f0e900 168.5px,#6f0 169.5px,#0eff16 170.5px,#00ff3c 171.5px,#00ff54 172.5px,#40ff87 173.5px,#e1ffec 174.5px,#fff 175.5px,#fff 189.5px,#fffdfa 190.5px,#ffe4cc 191.5px,#ffd1b6 192.5px,#ff9582 199.5px,#ff1905 210.5px,#ff1300 213.5px,#ff1500 237.5px,#ff2700 247.5px,#ff3800 250.5px,#ff5000 252.5px,#f60 253.5px,#ff8a00 254.5px,#fece00 255.5px,#a8ff00 256.5px,#15ff0f 257.5px,#00ff5d 258.5px,#00ff8f 259.5px,#0fa 260.5px,#00ffc7 262.5px,#00ffdf 266.5px,#00fff1 277.5px,#00fff5 284.5px)"></i><i style="background:linear-gradient(90deg,#ff9493 0.5px,#ff8483 9.5px,#ff7773 12.5px,#ff635a 14.5px,#ff5041 15.5px,#ff3113 16.5px,#ff4500 17.5px,#acc814 18.5px,#00ff87 19.5px,#20ffc1 20.5px,#6dffde 21.5px,#dcfff8 22.5px,#fff 23.5px,#fffffe 34.5px,#fcf9ec 35.5px,#faddac 36.5px,#ff7657 37.5px,#ff6165 38.5px,#ff787c 39.5px,#ff8c8d 41.5px,#ff8c8c 46.5px,#ff6161 82.5px,#ff6262 89.5px,#ff524f 91.5px,#ff3f35 92.5px,#ff2d08 93.5px,#dea100 94.5px,#2cff73 95.5px,#d5ffec 96.5px,#fff 97.5px,#fff 117.5px,#ffe9e5 118.5px,#ffaea1 119.5px,#ff9b8e 120.5px,#ff857d 122.5px,#ff5857 131.5px,#ff1e1c 150.5px,#ff0300 156.5px,#ff0c00 164.5px,#ff1b00 166.5px,#ff3200 167.5px,#f88b00 168.5px,#12ff60 169.5px,#00ffad 170.5px,#00ffc4 171.5px,#00ffcd 172.5px,#47ffdd 173.5px,#ebfffb 174.5px,#fff 175.5px,#fffdfc 190.5px,#ffd9d3 191.5px,#ffc0b8 192.5px,#ff8882 199.5px,#ff0b05 210.5px,#ff0500 213.5px,#ff0a00 246.5px,#ff1800 252.5px,#ff2c00 254.5px,#ff4c00 255.5px,#b8c00a 256.5px,#00ff8a 257.5px,#00ffc9 258.5px,#0fd 259.5px,#00ffef 262.5px,#00fffa 275.5px,#00fffc 284.5px)"></i><i style="background:linear-gradient(90deg,#ff9394 0.5px,#ff8385 9.5px,#ff7379 12.5px,#ff5b67 14.5px,#ff4258 15.5px,#ff1642 16.5px,#ff0062 17.5px,#b103e8 18.5px,#0457ff 19.5px,#24a5ff 20.5px,#6ecfff 21.5px,#dbf4ff 22.5px,#fff 23.5px,#fefeff 34.5px,#f7ebfc 35.5px,#eca5ec 36.5px,#ff4777 37.5px,#ff6860 38.5px,#ff7e78 39.5px,#ff8d8c 41.5px,#ff8c8d 46.5px,#ff6161 82.5px,#ff6262 89.5px,#ff5054 91.5px,#ff3746 92.5px,#ff0b3f 93.5px,#e700b9 94.5px,#464eff 95.5px,#d6e4ff 96.5px,#fff 97.5px,#fff 117.5px,#ffe4eb 118.5px,#ffa1b4 119.5px,#ff8ea0 120.5px,#ff7c89 122.5px,#ff5a5d 130.5px,#ff1c1f 150.5px,#ff0004 156.5px,#ff000d 163.5px,#ff0019 165.5px,#ff0027 166.5px,#ff0048 167.5px,#f500b7 168.5px,#1c2cff 169.5px,#0087ff 170.5px,#00a7ff 171.5px,#00b4ff 172.5px,#46cdff 173.5px,#eaf9ff 174.5px,#fff 175.5px,#fffcfd 190.5px,#ffd2db 191.5px,#ffb8c3 192.5px,#ff828a 199.5px,#ff050e 210.5px,#ff0008 213.5px,#ff000d 244.5px,#ff001d 251.5px,#ff002e 253.5px,#ff0041 254.5px,#ff006e 255.5px,#bb00e1 256.5px,#035fff 257.5px,#00b0ff 258.5px,#0cf 259.5px,#00e1ff 261.5px,#00f2ff 267.5px,#00fbff 284.5px)"></i><i style="background:linear-gradient(90deg,#ff9395 0.5px,#ff8088 10.5px,#ff6d81 13.5px,#ff4f7f 15.5px,#ff3188 16.5px,#ff0eb6 17.5px,#d005fe 18.5px,#5610ff 19.5px,#4d50ff 20.5px,#758bff 21.5px,#d0d9ff 22.5px,#fff 23.5px,#fdfffd 34.5px,#e6fcf6 35.5px,#90e4d5 36.5px,#e79b41 37.5px,#ff8d67 38.5px,#ff8e7f 39.5px,#ff8f8e 41.5px,#ff8c8f 46.5px,#ff6161 82.5px,#ff6463 89.5px,#ff575e 91.5px,#ff4860 92.5px,#ff3577 93.5px,#ff32c5 94.5px,#e064fd 95.5px,#efd8ff 96.5px,#fff 97.5px,#fff 117.5px,#ffdff4 118.5px,#ff9ad1 119.5px,#ff87bb 120.5px,#ff779a 122.5px,#ff6570 127.5px,#ff4e53 134.5px,#ff1d24 150.5px,#ff000c 156.5px,#ff001a 162.5px,#ff002c 164.5px,#ff003d 165.5px,#ff005b 166.5px,#ff0092 167.5px,#f200ec 168.5px,#7800ff 169.5px,#1a09ff 170.5px,#0226ff 171.5px,#013eff 172.5px,#3e75ff 173.5px,#dde7ff 174.5px,#fff 175.5px,#fff 189.5px,#fff8fd 190.5px,#ffcae6 191.5px,#ffb5d4 192.5px,#ff8197 199.5px,#ff051c 210.5px,#ff0015 213.5px,#ff0018 236.5px,#ff0029 246.5px,#ff0040 250.5px,#ff005b 252.5px,#ff0072 253.5px,#f09 254.5px,#fc00dd 255.5px,#a200ff 256.5px,#1a08ff 257.5px,#004dff 258.5px,#0081ff 259.5px,#00a0ff 260.5px,#00c0ff 262.5px,#00daff 266.5px,#0ef 276.5px,#00f4ff 284.5px)"></i><i style="background:linear-gradient(90deg,#ff9497 0.5px,#ff818f 10.5px,#ff6a93 14.5px,#ff5f9b 15.5px,#ff50ad 16.5px,#ff40d2 17.5px,#ef3afc 18.5px,#ba46ff 19.5px,#a061ff 20.5px,#a17fff 21.5px,#cbbbff 22.5px,#fdfcff 23.5px,#fff 33.5px,#fffdf8 34.5px,#f6fde1 35.5px,#ecfcb8 36.5px,#fddf8c 37.5px,#ffad86 38.5px,#ff9a8b 39.5px,#ff9194 42.5px,#ff6061 82.5px,#ff6964 89.5px,#ff5f62 91.5px,#ff5969 92.5px,#ff577e 93.5px,#ff63a7 94.5px,#ff83d2 95.5px,#ffd5f4 96.5px,#fff 97.5px,#fff 117.5px,#fbd3fe 118.5px,#fe8cf0 119.5px,#ff7ad5 120.5px,#ff6ea8 122.5px,#ff6a83 125.5px,#ff5964 130.5px,#ff212d 149.5px,#ff0013 156.5px,#f02 161.5px,#ff0032 163.5px,#ff0040 164.5px,#ff0056 165.5px,#f07 166.5px,#ff00a9 167.5px,#fb00ed 168.5px,#b0f 169.5px,#7600ff 170.5px,#4800ff 171.5px,#3206ff 172.5px,#5339ff 173.5px,#c7beff 174.5px,#fff 175.5px,#fff 189.5px,#ffedfe 190.5px,#ffbef1 191.5px,#ffa9d9 193.5px,#ff89ad 198.5px,#ff0429 210.5px,#ff0021 215.5px,#ff0023 233.5px,#ff0035 243.5px,#ff0050 248.5px,#ff0075 251.5px,#ff008b 252.5px,#ff00a9 253.5px,#ff00d6 254.5px,#e600fd 255.5px,#9200ff 256.5px,#3700ff 257.5px,#0217ff 258.5px,#004bff 259.5px,#0070ff 260.5px,#0089ff 261.5px,#0af 263.5px,#00c9ff 267.5px,#00e2ff 275.5px,#00edff 284.5px)"></i><i style="background:linear-gradient(90deg,#ff9498 0.5px,#ff8196 11.5px,#ff74a2 14.5px,#ff67bd 16.5px,#fe61f5 18.5px,#ea68ff 19.5px,#d776ff 20.5px,#d289ff 21.5px,#dba7ff 22.5px,#f8ecff 23.5px,#fff 24.5px,#fffdff 33.5px,#ffeef3 34.5px,#ffd9c1 36.5px,#ffc3a8 37.5px,#ffab9b 38.5px,#ff9c96 39.5px,#ff9399 42.5px,#ff5f60 82.5px,#ff6e65 90.5px,#ff6766 92.5px,#ff6972 93.5px,#ff7588 94.5px,#ff8da4 95.5px,#ffcbd5 96.5px,#fffefe 97.5px,#fefeff 117.5px,#e0baff 118.5px,#e674ff 119.5px,#fe64f0 120.5px,#ff5ecc 121.5px,#ff60b0 122.5px,#ff6490 124.5px,#ff5d70 128.5px,#ff4652 137.5px,#ff192b 151.5px,#ff001a 156.5px,#ff002c 161.5px,#ff003f 163.5px,#ff0063 165.5px,#ff0081 166.5px,#ff00a9 167.5px,#ff00db 168.5px,#ed00fd 169.5px,#c100ff 170.5px,#a000ff 171.5px,#9311ff 172.5px,#a03cff 173.5px,#ca8eff 174.5px,#fbf4ff 175.5px,#fff 176.5px,#fefcff 189.5px,#f7d4ff 190.5px,#fdb2fd 191.5px,#ff87b9 198.5px,#ff0437 210.5px,#ff002b 219.5px,#ff0032 234.5px,#ff0049 243.5px,#ff0062 247.5px,#ff0086 250.5px,#ff00b2 252.5px,#f900f7 254.5px,#ca00ff 255.5px,#4700ff 257.5px,#0e03ff 258.5px,#0026ff 259.5px,#004bff 260.5px,#007dff 262.5px,#00a6ff 265.5px,#00c7ff 270.5px,#00e1ff 280.5px,#00e6ff 284.5px)"></i><i style="background:linear-gradient(90deg,#ff949a 0.5px,#ff849c 11.5px,#ff7dab 14.5px,#ff78c3 16.5px,#fe7df8 19.5px,#f491ff 21.5px,#f5a0ff 22.5px,#fcc9fe 23.5px,#fff9fe 24.5px,#fff 26.5px,#fefeff 32.5px,#f6f1ff 33.5px,#fddefb 34.5px,#ffafb4 37.5px,#ffa3a8 38.5px,#ff919b 43.5px,#ff7077 67.5px,#ff5e5e 83.5px,#ff7e69 92.5px,#ff8e7b 94.5px,#ffa28e 95.5px,#ffccba 96.5px,#fffcfa 97.5px,#fff 101.5px,#fff 116.5px,#f7f9ff 117.5px,#a18fff 118.5px,#ac4dff 119.5px,#ec3efd 120.5px,#ff41d7 121.5px,#ff4bb1 122.5px,#ff559c 123.5px,#ff5d7d 126.5px,#ff5262 132.5px,#ff2237 149.5px,#ff0121 156.5px,#ff0034 161.5px,#f05 164.5px,#ff0080 166.5px,#ff00e3 169.5px,#f700f8 170.5px,#e904fe 171.5px,#e21fff 172.5px,#e642ff 173.5px,#f06cfe 174.5px,#fcc9fc 175.5px,#fffdff 176.5px,#fffeff 188.5px,#f1e6ff 189.5px,#e6b6ff 190.5px,#fda5fd 192.5px,#ff8ccd 197.5px,#ff2e6e 206.5px,#ff0344 210.5px,#ff0037 219.5px,#ff003e 233.5px,#ff0057 242.5px,#ff007a 247.5px,#ff00a4 250.5px,#ff00d2 252.5px,#fe00f1 253.5px,#e600ff 254.5px,#8500ff 256.5px,#1f00ff 258.5px,#010dff 259.5px,#004bff 261.5px,#0075ff 263.5px,#009bff 266.5px,#00bdff 271.5px,#00daff 281.5px,#00dfff 284.5px)"></i><i style="background:linear-gradient(90deg,#ff949b 0.5px,#ff899e 10.5px,#ff84b0 14.5px,#ff8ae7 19.5px,#ff97f2 21.5px,#ffafed 23.5px,#ffd5f0 24.5px,#fff7fb 25.5px,#fff 26.5px,#fcfffe 31.5px,#edfaff 32.5px,#dadbff 33.5px,#ebccff 34.5px,#fec0f7 35.5px,#ffaac8 37.5px,#ff9db0 39.5px,#ff8b96 46.5px,#ff5e62 81.5px,#ff615c 85.5px,#ff7f63 90.5px,#ff9d6e 93.5px,#ffc588 95.5px,#ffe0a5 96.5px,#fffcee 97.5px,#fff 98.5px,#fff 116.5px,#def4ff 117.5px,#4578ff 118.5px,#4e0fff 119.5px,#d108ff 120.5px,#ff17d0 121.5px,#ff32a5 122.5px,#ff4692 123.5px,#ff5680 125.5px,#ff5366 131.5px,#ff263e 148.5px,#ff0029 157.5px,#ff003a 161.5px,#ff0058 164.5px,#ff008f 167.5px,#ff02cd 170.5px,#ff12d9 171.5px,#ff45dc 173.5px,#ff62d6 174.5px,#ff8ed4 175.5px,#ffdceb 176.5px,#fffdfd 177.5px,#fefeff 187.5px,#ece9ff 188.5px,#d0b8ff 189.5px,#d5a6ff 190.5px,#fc9cfe 193.5px,#ff88d8 197.5px,#ff0251 210.5px,#ff0043 219.5px,#ff0049 232.5px,#ff005f 240.5px,#ff007d 245.5px,#ff009d 248.5px,#ff00d2 251.5px,#ff00eb 252.5px,#f400fe 253.5px,#ab00ff 255.5px,#2c00ff 258.5px,#0802ff 259.5px,#001aff 260.5px,#004cff 262.5px,#007eff 265.5px,#00a3ff 269.5px,#00c5ff 276.5px,#00d9ff 284.5px)"></i><i style="background:linear-gradient(90deg,#ff959d 0.5px,#ff8ba2 10.5px,#ff8ab3 14.5px,#ff94da 19.5px,#ffa2df 22.5px,#ffb4d5 24.5px,#ffccd9 25.5px,#ffe8e8 26.5px,#fff8f5 27.5px,#fdfff7 29.5px,#f2ffee 30.5px,#daffe8 31.5px,#c6f9fb 32.5px,#bbcfff 33.5px,#ccb3ff 34.5px,#f1acff 35.5px,#ffa6ec 36.5px,#ffa1d4 37.5px,#ff9ab8 39.5px,#ff90a1 43.5px,#ff7d88 56.5px,#ff5e65 80.5px,#ff5b59 84.5px,#ff6f5a 88.5px,#ff905f 91.5px,#ffb366 93.5px,#ffe47d 95.5px,#fbfa91 96.5px,#f6ffd1 97.5px,#fffffe 98.5px,#fdfffe 116.5px,#9dfee6 117.5px,#06d1f4 118.5px,#212aff 119.5px,#e000f2 120.5px,#ff01a8 121.5px,#ff1a85 122.5px,#ff387f 123.5px,#ff487c 124.5px,#ff5476 126.5px,#ff4f63 133.5px,#ff2340 149.5px,#ff002f 157.5px,#ff0046 162.5px,#ff0071 166.5px,#ff0299 169.5px,#ff1dab 171.5px,#ff45a8 173.5px,#ff769b 175.5px,#ff9da2 176.5px,#ffe0d5 177.5px,#fffdf7 178.5px,#fff 179.5px,#fff 185.5px,#f9fbff 186.5px,#dce2ff 187.5px,#b4b1ff 188.5px,#b7a0ff 189.5px,#f297ff 193.5px,#fc95fe 194.5px,#ff7cd8 198.5px,#ff015e 210.5px,#ff004e 219.5px,#ff0054 231.5px,#ff006e 240.5px,#ff008f 245.5px,#ff00b2 248.5px,#ff00e8 251.5px,#fb00fc 252.5px,#c300ff 254.5px,#1400ff 259.5px,#000aff 260.5px,#004dff 263.5px,#0079ff 266.5px,#00a3ff 271.5px,#00c5ff 279.5px,#00d2ff 284.5px)"></i><i style="background:linear-gradient(90deg,#ff959e 0.5px,#ff8ea5 10.5px,#ff90bb 15.5px,#ff9ad1 19.5px,#ffa3d0 22.5px,#ffb2ba 25.5px,#ffc2b9 26.5px,#fff0c7 28.5px,#f6ffc4 29.5px,#d4ffb9 30.5px,#adffbc 31.5px,#9efdeb 32.5px,#91c7ff 33.5px,#a38eff 34.5px,#e08fff 35.5px,#ff93f4 36.5px,#ff95d9 37.5px,#ff95bb 39.5px,#ff8ea2 43.5px,#ff7e8a 55.5px,#ff5e68 79.5px,#ff5a56 85.5px,#ff6c54 88.5px,#ff9555 91.5px,#ffc558 93.5px,#ffe55f 94.5px,#f5fc6b 95.5px,#daff7d 96.5px,#ceffa4 97.5px,#f4fff1 98.5px,#fff 99.5px,#fff 115.5px,#e9ffe8 116.5px,#4dff61 117.5px,#0aff43 118.5px,#71ac59 119.5px,#ff0361 120.5px,#ff0059 121.5px,#ff0e58 122.5px,#ff3067 123.5px,#ff436e 124.5px,#ff5171 126.5px,#ff5067 132.5px,#ff2747 148.5px,#ff0036 158.5px,#ff004e 163.5px,#ff0176 168.5px,#ff1584 170.5px,#ff3182 172.5px,#ff5470 174.5px,#ff6e6c 175.5px,#ffcf92 177.5px,#fdf8b4 178.5px,#f1ffd7 179.5px,#f1ffec 180.5px,#f8fffb 182.5px,#edfdff 184.5px,#d9f2ff 185.5px,#b8d8ff 186.5px,#9eb4ff 187.5px,#999cff 188.5px,#e793ff 193.5px,#fd8cfe 195.5px,#ff64cd 200.5px,#ff016b 210.5px,#ff0059 219.5px,#ff005e 230.5px,#ff0078 239.5px,#ff0098 244.5px,#ff00c5 248.5px,#fe00f9 251.5px,#ed00ff 252.5px,#9a00ff 255.5px,#1e00ff 259.5px,#0502ff 260.5px,#003eff 263.5px,#006aff 266.5px,#0097ff 271.5px,#00bdff 279.5px,#0cf 284.5px)"></i><i style="background:linear-gradient(90deg,#ff969f 0.5px,#ff90a7 10.5px,#ff99c4 17.5px,#ffa0cb 20.5px,#ffa6c0 23.5px,#ffadae 25.5px,#ffd1ae 27.5px,#f9fda7 29.5px,#d3ff9b 30.5px,#96ff8a 31.5px,#63ffb2 32.5px,#3fbcfd 33.5px,#704eff 34.5px,#db69ff 35.5px,#ff7df0 36.5px,#ff88d6 37.5px,#ff8fbb 39.5px,#ff8ca3 43.5px,#ff7e8b 55.5px,#ff5f6c 78.5px,#ff5452 85.5px,#ff654c 88.5px,#ff7f48 90.5px,#ff9345 91.5px,#ffb043 92.5px,#ffd542 93.5px,#f7fa47 94.5px,#cfff52 95.5px,#a9ff64 96.5px,#92ff7d 97.5px,#c2ffca 98.5px,#fbfffd 99.5px,#fff 110.5px,#fff 114.5px,#fdfffa 115.5px,#d4ffa5 116.5px,#8bff25 117.5px,#9f0 118.5px,#f3d400 119.5px,#ff3a00 120.5px,#ff0310 121.5px,#ff1334 122.5px,#ff3154 123.5px,#ff4263 124.5px,#ff4f6d 126.5px,#ff5069 132.5px,#ff284c 148.5px,#ff003b 158.5px,#ff0363 168.5px,#ff1868 170.5px,#ff2f5c 172.5px,#ff3c50 173.5px,#ff544c 174.5px,#ffe077 177.5px,#f0fe83 178.5px,#c9ff8d 179.5px,#a9ff99 180.5px,#a3ffb4 181.5px,#a7ffd4 182.5px,#9af8fe 184.5px,#8ec4ff 186.5px,#8e96ff 188.5px,#9c8fff 189.5px,#d08fff 192.5px,#fe80fe 196.5px,#ff2fa4 205.5px,#f07 210.5px,#ff0064 219.5px,#ff006a 230.5px,#ff0081 238.5px,#ff00a8 244.5px,#ff00d6 248.5px,#ff00f6 250.5px,#f400ff 251.5px,#ae00ff 254.5px,#0d00ff 260.5px,#000aff 261.5px,#0041ff 264.5px,#0073ff 268.5px,#009fff 274.5px,#00c5ff 284.5px)"></i><i style="background:linear-gradient(90deg,#ff96a0 0.5px,#ff92ab 11.5px,#ffa0c4 19.5px,#ffa5be 22.5px,#ffaba7 25.5px,#ffdd9f 28.5px,#fef496 29.5px,#e7ff84 30.5px,#adff61 31.5px,#3bff2d 32.5px,#0cb2bf 33.5px,#9705ff 34.5px,#f540f5 35.5px,#ff68db 36.5px,#ff7bca 37.5px,#ff89b7 39.5px,#ff889d 45.5px,#ff5f6e 78.5px,#ff5156 84.5px,#ff5447 87.5px,#ff643f 89.5px,#ff7339 90.5px,#ff8931 91.5px,#ffac28 92.5px,#ffdf21 93.5px,#dcff20 94.5px,#97ff2c 95.5px,#64ff43 96.5px,#5fff76 97.5px,#83ffb9 98.5px,#d3fff3 99.5px,#fdffff 100.5px,#fffffd 114.5px,#fdfdcc 115.5px,#efff69 116.5px,#eafd33 117.5px,#f8ed0a 118.5px,#fa0 119.5px,#ff5600 120.5px,#ff240a 121.5px,#ff252b 122.5px,#ff384a 123.5px,#ff455c 124.5px,#ff506a 126.5px,#ff4e69 133.5px,#ff254e 149.5px,#ff0041 159.5px,#ff0054 166.5px,#ff0352 168.5px,#ff154d 170.5px,#ff2839 172.5px,#ff3e33 173.5px,#ff9548 175.5px,#fcf45f 177.5px,#d8ff69 178.5px,#83ff78 180.5px,#7bff9a 181.5px,#7fffe6 183.5px,#80f6fe 184.5px,#85a8ff 187.5px,#8792ff 188.5px,#9289ff 189.5px,#c78aff 192.5px,#f679ff 196.5px,#fe72fd 197.5px,#ff0083 210.5px,#ff006f 219.5px,#ff0073 229.5px,#ff008a 237.5px,#ff00ae 243.5px,#ff00d7 247.5px,#ff00f4 249.5px,#f900fe 250.5px,#bd00ff 253.5px,#1500ff 260.5px,#0203ff 261.5px,#04f 265.5px,#007aff 270.5px,#00a5ff 277.5px,#00bfff 284.5px)"></i><i style="background:linear-gradient(90deg,#ff97a2 0.5px,#ff93ab 11.5px,#ffa2bf 19.5px,#ffa6b8 22.5px,#ffa6a9 24.5px,#ffb6a2 26.5px,#ffd097 28.5px,#ffe08c 29.5px,#fef277 30.5px,#effa50 31.5px,#ddf30c 32.5px,#f8720d 33.5px,#ff018b 34.5px,#ff31b3 35.5px,#ff5dba 36.5px,#ff72b8 37.5px,#ff83b0 39.5px,#ff879d 45.5px,#ff6274 76.5px,#ff525e 83.5px,#ff4841 87.5px,#ff5232 89.5px,#ff5d27 90.5px,#ff7117 91.5px,#ff9807 92.5px,#ffdf01 93.5px,#bf0 94.5px,#4bff03 95.5px,#18ff33 96.5px,#3bff93 97.5px,#5effd5 98.5px,#88fafa 99.5px,#d3f3ff 100.5px,#fbfdff 101.5px,#fff 106.5px,#fff 112.5px,#fffdfb 113.5px,#ffefd2 114.5px,#ffe188 115.5px,#ffdf60 116.5px,#ffd646 117.5px,#ffbc2e 118.5px,#ff911f 119.5px,#ff661f 120.5px,#ff4a2a 121.5px,#ff3e38 122.5px,#ff4a5a 124.5px,#ff526b 127.5px,#ff4968 136.5px,#ff1b4e 152.5px,#ff0047 160.5px,#ff004c 166.5px,#ff063d 169.5px,#ff1527 171.5px,#ff241e 172.5px,#ff762c 174.5px,#ffda3d 176.5px,#eefe46 177.5px,#8bff58 179.5px,#65ff65 180.5px,#6bffc1 182.5px,#6fffe8 183.5px,#73f3ff 184.5px,#7da3ff 187.5px,#808eff 188.5px,#8983ff 189.5px,#be83ff 192.5px,#f86bff 197.5px,#ff5cf2 199.5px,#ff0494 209.5px,#ff007d 216.5px,#ff007a 226.5px,#ff008e 235.5px,#ff00b4 242.5px,#ff00e5 247.5px,#fb00fe 249.5px,#b500ff 253.5px,#0700ff 261.5px,#000bff 262.5px,#0047ff 266.5px,#0078ff 271.5px,#00a2ff 278.5px,#00b9ff 284.5px)"></i><i style="background:linear-gradient(90deg,#ff97a3 0.5px,#ff95ae 12.5px,#ffa2bb 19.5px,#ffa6ae 23.5px,#ffaaa3 25.5px,#ffc393 28.5px,#ffd076 30.5px,#ffcb59 31.5px,#ffa72d 32.5px,#ff4a10 33.5px,#ff1b3e 34.5px,#ff4184 35.5px,#ff5e9e 36.5px,#ff6fa7 37.5px,#ff80a9 39.5px,#ff869d 45.5px,#ff657a 74.5px,#ff5365 82.5px,#ff4249 86.5px,#ff3a26 89.5px,#ff3c15 90.5px,#ff4a03 91.5px,#ff7600 92.5px,#ffc500 93.5px,#aeff00 94.5px,#16ff14 95.5px,#00ff7c 96.5px,#16fed2 97.5px,#43effb 98.5px,#64d2ff 99.5px,#87c1ff 100.5px,#c1d1ff 101.5px,#eef 102.5px,#fdfdff 103.5px,#fffdfd 111.5px,#fff1ee 112.5px,#ffd7c4 113.5px,#ffc190 114.5px,#ffbe77 115.5px,#ffbc66 116.5px,#ffb356 117.5px,#ff8941 119.5px,#ff5d43 121.5px,#ff5048 122.5px,#ff4c51 123.5px,#ff5264 125.5px,#ff536f 129.5px,#ff3861 143.5px,#ff0049 160.5px,#ff004b 165.5px,#ff0039 168.5px,#ff080c 171.5px,#ff250b 172.5px,#ff7d15 174.5px,#feec22 176.5px,#d4ff2a 177.5px,#65ff3e 179.5px,#48ff5a 180.5px,#51ff93 181.5px,#59ffc4 182.5px,#61ffee 183.5px,#67ecff 184.5px,#72b4ff 186.5px,#7989ff 188.5px,#827cff 189.5px,#b67cff 192.5px,#f064ff 197.5px,#ff56fa 199.5px,#ff029f 209.5px,#f08 216.5px,#ff0085 226.5px,#f09 235.5px,#ff00c1 242.5px,#fd00fd 248.5px,#c000ff 252.5px,#0e00ff 261.5px,#0104ff 262.5px,#0049ff 267.5px,#007eff 273.5px,#00acff 282.5px,#00b3ff 284.5px)"></i><i style="background:linear-gradient(90deg,#ff97a4 0.5px,#ff97b0 13.5px,#ffa3b6 20.5px,#ffa8a2 25.5px,#ffb792 28.5px,#ffb77a 30.5px,#ffab68 31.5px,#ff8e53 32.5px,#ff6245 33.5px,#ff4852 34.5px,#ff5678 35.5px,#ff658f 36.5px,#ff78a1 38.5px,#ff84a1 42.5px,#ff7689 62.5px,#ff5b72 79.5px,#ff4a5e 84.5px,#ff3643 87.5px,#ff2020 89.5px,#ff1509 90.5px,#ff1e00 91.5px,#ff3900 92.5px,#ff6c00 93.5px,#bcdd00 94.5px,#00fc92 95.5px,#00e9ec 96.5px,#04c6ff 97.5px,#2fabff 98.5px,#549cff 99.5px,#838bff 101.5px,#aea1ff 102.5px,#dac6ff 103.5px,#f1e1ff 104.5px,#fbefff 105.5px,#fff5fd 107.5px,#ffeff6 109.5px,#ffe2ea 110.5px,#ffc9ce 111.5px,#ffaca8 112.5px,#ffa28f 113.5px,#ffa46e 116.5px,#ff925c 118.5px,#ff6654 121.5px,#ff5559 123.5px,#ff566b 126.5px,#ff4f70 133.5px,#ff245a 150.5px,#ff004c 160.5px,#ff0049 165.5px,#ff0034 168.5px,#ff0013 170.5px,#ff0701 171.5px,#ff2600 172.5px,#ff4f00 173.5px,#ff8101 174.5px,#ffbd02 175.5px,#f5f704 176.5px,#b5ff08 177.5px,#6eff11 178.5px,#34ff20 179.5px,#2dff58 180.5px,#3bff99 181.5px,#47ffce 182.5px,#52fdf7 183.5px,#5be1ff 184.5px,#69aaff 186.5px,#7180ff 188.5px,#7a74ff 189.5px,#ae73ff 192.5px,#f356ff 198.5px,#ff48f7 200.5px,#ff01a9 209.5px,#ff0092 216.5px,#ff008e 225.5px,#ff00a1 234.5px,#ff00c5 241.5px,#fe00fc 247.5px,#c800ff 251.5px,#0301ff 262.5px,#004bff 268.5px,#007dff 274.5px,#0af 283.5px,#00adff 284.5px)"></i><i style="background:linear-gradient(90deg,#ff98a5 0.5px,#ff9ab2 15.5px,#ffa3b1 21.5px,#ffa5a0 25.5px,#ffac8a 29.5px,#ff9c74 31.5px,#ff7061 33.5px,#ff6165 34.5px,#ff6c89 36.5px,#ff799a 38.5px,#ff839e 43.5px,#ff7288 65.5px,#ff5873 80.5px,#ff435d 85.5px,#ff2840 88.5px,#ff0419 90.5px,#ff0014 91.5px,#ff0118 92.5px,#ff022c 93.5px,#e800a4 94.5px,#1733ff 95.5px,#0056ff 96.5px,#0254ff 97.5px,#4b65ff 99.5px,#6769ff 100.5px,#c28eff 103.5px,#eea6ff 105.5px,#fdaefe 106.5px,#ffafe4 108.5px,#ff9097 112.5px,#ff9383 114.5px,#ff906f 117.5px,#ff5f5e 122.5px,#ff5772 128.5px,#ff3f6b 141.5px,#ff0050 161.5px,#ff0049 165.5px,#ff0032 168.5px,#ff0010 170.5px,#ff0900 171.5px,#ff2900 172.5px,#ff5200 173.5px,#ff8600 174.5px,#ffc600 175.5px,#ebfc00 176.5px,#48ff00 178.5px,#07ff11 179.5px,#0cff5d 180.5px,#20ffa5 181.5px,#31ffde 182.5px,#40f3fe 183.5px,#56b4ff 185.5px,#6774ff 188.5px,#726aff 189.5px,#a669ff 192.5px,#ec4fff 198.5px,#fe42fd 200.5px,#ff00b3 209.5px,#ff009a 217.5px,#f09 226.5px,#ff00af 235.5px,#ff00d8 242.5px,#fe00fc 246.5px,#cf00ff 250.5px,#0800ff 262.5px,#0007ff 263.5px,#04f 268.5px,#007cff 275.5px,#00a8ff 284.5px)"></i><i style="background:linear-gradient(90deg,#ff98a5 0.5px,#ff9bb1 16.5px,#ffa1ab 22.5px,#ffa38c 29.5px,#ff947c 31.5px,#ff776f 33.5px,#ff6e72 34.5px,#ff7691 37.5px,#ff819d 41.5px,#ff7d92 55.5px,#ff5f7c 77.5px,#ff486a 84.5px,#ff3358 87.5px,#ff1946 89.5px,#ff053b 90.5px,#ff0042 91.5px,#ff0059 92.5px,#ff008d 93.5px,#f100eb 94.5px,#7c00ff 95.5px,#2d00ff 96.5px,#1a0aff 97.5px,#3a2eff 98.5px,#8060ff 100.5px,#b57cff 102.5px,#f192ff 105.5px,#fe95fb 106.5px,#ff94be 110.5px,#ff8886 114.5px,#ff8777 117.5px,#ff6a68 121.5px,#ff5776 129.5px,#ff2f67 147.5px,#ff0053 161.5px,#ff004c 165.5px,#ff0034 168.5px,#ff0014 170.5px,#ff0602 171.5px,#ff2300 172.5px,#ff4b00 173.5px,#ff8000 174.5px,#ffc300 175.5px,#e5fd00 176.5px,#28ff01 178.5px,#00ff30 179.5px,#00ff7c 180.5px,#04ffbf 181.5px,#17fcf4 182.5px,#2bdcff 183.5px,#47a0ff 185.5px,#5c64ff 188.5px,#7e60ff 190.5px,#ba5aff 194.5px,#f93cff 200.5px,#ff2ff3 202.5px,#ff00bc 209.5px,#ff00a3 217.5px,#ff00a2 226.5px,#ff00ba 235.5px,#ff00e3 242.5px,#fe00fc 245.5px,#d400ff 249.5px,#6a00ff 256.5px,#0c00ff 262.5px,#0103ff 263.5px,#0046ff 269.5px,#007bff 276.5px,#00a2ff 284.5px)"></i><i style="background:linear-gradient(90deg,#ff99a6 0.5px,#ff9caf 17.5px,#ff9fa5 23.5px,#ff9c8d 29.5px,#ff857c 32.5px,#ff767b 34.5px,#ff7c94 38.5px,#ff829b 44.5px,#ff708a 67.5px,#ff5578 81.5px,#ff3c69 86.5px,#ff1d5d 89.5px,#ff0c5c 90.5px,#f06 91.5px,#ff0083 92.5px,#ff00b4 93.5px,#f800f3 94.5px,#b600ff 95.5px,#7d01ff 96.5px,#6a15ff 97.5px,#7736ff 98.5px,#9f61ff 100.5px,#d783ff 103.5px,#f78eff 105.5px,#ff91f8 106.5px,#ff90b4 111.5px,#ff8588 115.5px,#ff7173 120.5px,#ff5a79 128.5px,#ff336c 146.5px,#ff0057 161.5px,#ff004a 166.5px,#ff002e 169.5px,#ff0109 171.5px,#ff1400 172.5px,#ff3900 173.5px,#ff6a00 174.5px,#ffb000 175.5px,#e7f900 176.5px,#75ff00 177.5px,#0dff10 178.5px,#00ff64 179.5px,#00ffae 180.5px,#00fee9 181.5px,#02e1ff 182.5px,#13b9ff 183.5px,#3686ff 185.5px,#5052ff 188.5px,#95f 192.5px,#e041ff 198.5px,#fc31ff 201.5px,#ff02cb 208.5px,#ff00b0 215.5px,#f0a 224.5px,#ff00bc 233.5px,#ff00de 240.5px,#fe00fc 244.5px,#d800ff 248.5px,#7800ff 255.5px,#0300ff 263.5px,#0051ff 271.5px,#0086ff 279.5px,#009dff 284.5px)"></i><i style="background:linear-gradient(90deg,#ff99a7 0.5px,#ff9dab 20.5px,#ff968e 29.5px,#ff7e7f 33.5px,#ff8099 40.5px,#ff7e95 54.5px,#ff6082 77.5px,#ff4475 85.5px,#ff2473 89.5px,#ff0a82 91.5px,#ff019b 92.5px,#ff00c2 93.5px,#fd00f1 94.5px,#d903ff 95.5px,#b512ff 96.5px,#a72cff 97.5px,#a743ff 98.5px,#b6f 100.5px,#e482ff 103.5px,#fd8dfe 105.5px,#ff92c5 110.5px,#ff8895 115.5px,#ff747e 120.5px,#ff5a7c 129.5px,#ff2b6d 149.5px,#ff005b 161.5px,#ff0051 166.5px,#ff0039 169.5px,#ff0307 172.5px,#ff1900 173.5px,#ff4200 174.5px,#ff8000 175.5px,#f5e200 176.5px,#60ff00 177.5px,#00ff48 178.5px,#00ffae 179.5px,#00fbeb 180.5px,#0df 181.5px,#0290ff 183.5px,#1277ff 184.5px,#3156ff 186.5px,#3a48ff 187.5px,#4841ff 188.5px,#854aff 191.5px,#c642ff 196.5px,#fd26fe 202.5px,#ff01d3 208.5px,#ff00b9 215.5px,#ff00b3 224.5px,#ff00c5 233.5px,#ff00ef 241.5px,#fe00fd 243.5px,#d000ff 248.5px,#6700ff 256.5px,#0700ff 263.5px,#01f 265.5px,#0053ff 272.5px,#008bff 281.5px,#0098ff 284.5px)"></i><i style="background:linear-gradient(90deg,#ff99a8 0.5px,#ff9cab 19.5px,#ff9492 28.5px,#ff8186 33.5px,#ff819a 42.5px,#ff7590 63.5px,#ff5982 80.5px,#ff3b7e 87.5px,#ff238b 90.5px,#ff1b98 91.5px,#ff14ac 92.5px,#ff12ea 94.5px,#f31cff 95.5px,#db2bff 96.5px,#cd3dff 97.5px,#cc5dff 99.5px,#e57dff 102.5px,#ff8dfa 105.5px,#ff93c8 110.5px,#ff8798 116.5px,#ff7284 121.5px,#ff557f 132.5px,#ff256f 151.5px,#ff0060 161.5px,#ff0058 166.5px,#ff003d 170.5px,#ff0112 173.5px,#ff0c06 174.5px,#ff2801 175.5px,#ff6c00 176.5px,#58ed3c 177.5px,#00f3cf 178.5px,#00e1f9 179.5px,#00a1ff 181.5px,#034eff 184.5px,#2f2fff 187.5px,#713dff 190.5px,#ac3fff 194.5px,#f127ff 201.5px,#ff1cfd 203.5px,#ff00db 208.5px,#ff00c1 215.5px,#f0b 224.5px,#ff00ce 233.5px,#ff00f8 241.5px,#f700ff 243.5px,#b200ff 250.5px,#0a00ff 263.5px,#0102ff 264.5px,#004eff 272.5px,#0085ff 281.5px,#0093ff 284.5px)"></i><i style="background:linear-gradient(90deg,#ff99a8 0.5px,#ff9ba9 20.5px,#ff8e90 29.5px,#ff828c 34.5px,#ff829b 44.5px,#ff708f 68.5px,#ff5486 82.5px,#ff3a8c 88.5px,#ff2e9a 90.5px,#ff26b7 92.5px,#ff29e4 94.5px,#fe31f9 95.5px,#e749ff 97.5px,#e163ff 99.5px,#f985ff 103.5px,#ff8df5 105.5px,#ff93c3 111.5px,#ff8095 118.5px,#ff6986 124.5px,#ff2673 151.5px,#f06 161.5px,#ff005e 167.5px,#ff003f 174.5px,#ff0048 175.5px,#ff007b 176.5px,#8109f7 177.5px,#024eff 178.5px,#006dff 179.5px,#006cff 180.5px,#0051ff 182.5px,#051bff 185.5px,#1518ff 186.5px,#5d2eff 189.5px,#8f37ff 192.5px,#c931ff 197.5px,#fb18ff 203.5px,#ff00e2 208.5px,#ff00c7 216.5px,#ff00c4 225.5px,#ff00db 234.5px,#fd00fe 241.5px,#c200ff 248.5px,#0301ff 264.5px,#0050ff 273.5px,#008aff 283.5px,#008fff 284.5px)"></i><i style="background:linear-gradient(90deg,#ff9aa9 0.5px,#ff9aa8 20.5px,#ff8c91 30.5px,#ff8294 37.5px,#ff819a 49.5px,#ff678d 74.5px,#ff4c8c 85.5px,#ff3c9b 89.5px,#ff34bd 92.5px,#ff3fef 95.5px,#fe48fb 96.5px,#f267ff 99.5px,#ff85fd 103.5px,#ff93db 108.5px,#ff8bab 115.5px,#ff718e 122.5px,#ff2477 152.5px,#ff006b 161.5px,#ff0067 172.5px,#ff006d 173.5px,#ff007b 174.5px,#ff009c 175.5px,#fc00e0 176.5px,#a000ff 177.5px,#3001ff 178.5px,#0510ff 179.5px,#02f 180.5px,#0026ff 181.5px,#0018ff 183.5px,#0602ff 185.5px,#6024ff 189.5px,#9c30ff 193.5px,#d825ff 199.5px,#fd10ff 204.5px,#ff00e9 208.5px,#ff00cf 216.5px,#f0c 225.5px,#ff00e3 234.5px,#fc00ff 240.5px,#c500ff 247.5px,#5600ff 257.5px,#0500ff 264.5px,#0019ff 267.5px,#0059ff 275.5px,#008aff 284.5px)"></i><i style="background:linear-gradient(90deg,#ff9aa9 0.5px,#ff99a7 20.5px,#ff8792 33.5px,#ff819b 49.5px,#ff668f 75.5px,#ff4f93 85.5px,#ff43a3 89.5px,#ff40cd 93.5px,#ff50f1 96.5px,#fd6afe 99.5px,#ff84f6 103.5px,#ff92d3 109.5px,#ff86aa 116.5px,#ff6e91 123.5px,#ff257b 152.5px,#ff0072 162.5px,#ff0079 170.5px,#ff0085 172.5px,#ff0091 173.5px,#ff00a7 174.5px,#f0c 175.5px,#f300fa 176.5px,#6700ff 178.5px,#3600ff 179.5px,#1900ff 180.5px,#0d01ff 181.5px,#0c00ff 183.5px,#2a01ff 186.5px,#7421ff 190.5px,#b129ff 195.5px,#eb16ff 202.5px,#fe09fe 205.5px,#ff00ef 208.5px,#ff00d6 216.5px,#ff00d4 225.5px,#ff00eb 234.5px,#fb00ff 239.5px,#bf00ff 247.5px,#4900ff 258.5px,#0003ff 265.5px,#004dff 274.5px,#0086ff 284.5px)"></i><i style="background:linear-gradient(90deg,#ff9aaa 0.5px,#ff98a7 20.5px,#ff8895 33.5px,#ff7f9b 52.5px,#ff6492 77.5px,#ff4f9b 86.5px,#ff47b0 90.5px,#ff4cd6 94.5px,#ff5def 97.5px,#ff72f6 100.5px,#ff8ce2 106.5px,#ff8cbc 113.5px,#ff749a 121.5px,#ff518a 135.5px,#ff1f7f 154.5px,#ff0079 162.5px,#ff0086 169.5px,#ff009d 172.5px,#ff00ad 173.5px,#ff00c5 174.5px,#ff00e6 175.5px,#ec00ff 176.5px,#8700ff 178.5px,#6000ff 179.5px,#4500ff 180.5px,#3500ff 181.5px,#2c00ff 183.5px,#3e00ff 186.5px,#861eff 191.5px,#ba22ff 196.5px,#f40bff 204.5px,#ff00fa 207.5px,#ff00df 215.5px,#ff00db 224.5px,#ff00ef 233.5px,#fd00fe 237.5px,#ca00ff 245.5px,#7400ff 254.5px,#0101ff 265.5px,#0050ff 275.5px,#0081ff 284.5px)"></i><i style="background:linear-gradient(90deg,#ff9aab 0.5px,#ff97a6 21.5px,#ff8898 34.5px,#ff7d9b 55.5px,#ff5f96 80.5px,#ff51a3 87.5px,#ff4ec2 92.5px,#ff61e7 97.5px,#ff78ee 101.5px,#ff8bda 107.5px,#ff87b8 114.5px,#ff6e99 123.5px,#ff3086 149.5px,#ff077f 160.5px,#ff0081 163.5px,#ff0094 169.5px,#ff00b1 172.5px,#ff00d8 174.5px,#ff00f4 175.5px,#e700ff 176.5px,#9c00ff 178.5px,#7d00ff 179.5px,#6500ff 180.5px,#4c00ff 182.5px,#4800ff 184.5px,#5900ff 187.5px,#951bff 192.5px,#c91bff 198.5px,#fe00fe 207.5px,#ff00e4 216.5px,#ff00e3 225.5px,#ff00fa 234.5px,#f200ff 238.5px,#bc00ff 246.5px,#5300ff 257.5px,#0300ff 265.5px,#0058ff 277.5px,#007dff 284.5px)"></i><i style="background:linear-gradient(90deg,#ff9bab 0.5px,#ff97a6 21.5px,#ff889a 35.5px,#ff799a 60.5px,#ff5f9a 81.5px,#ff54ab 88.5px,#ff58d0 94.5px,#ff6de6 99.5px,#ff82e2 104.5px,#ff89c7 111.5px,#ff719e 122.5px,#ff488d 140.5px,#ff1a87 156.5px,#ff0086 162.5px,#ff009a 168.5px,#ff00b3 171.5px,#ff00d0 173.5px,#fd00fb 175.5px,#9200ff 179.5px,#6f00ff 181.5px,#6000ff 183.5px,#6200ff 186.5px,#7b0aff 189.5px,#aa19ff 194.5px,#db11ff 201.5px,#fb00ff 207.5px,#ff00e9 217.5px,#ff00eb 226.5px,#fd00ff 234.5px,#cd00ff 243.5px,#7900ff 253.5px,#0500ff 265.5px,#000cff 267.5px,#0054ff 277.5px,#0079ff 284.5px)"></i><i style="background:linear-gradient(90deg,#ff9bac 0.5px,#ff96a5 22.5px,#ff879c 37.5px,#ff7099 70.5px,#ff5ea0 83.5px,#ff57b8 90.5px,#ff62d8 96.5px,#ff76e2 101.5px,#ff86d2 108.5px,#ff7daf 117.5px,#ff6298 128.5px,#ff268d 153.5px,#ff008f 163.5px,#ff00ab 169.5px,#ff00cb 172.5px,#fb00fd 175.5px,#a200ff 179.5px,#8300ff 181.5px,#7100ff 184.5px,#7600ff 187.5px,#ac16ff 194.5px,#d90fff 201.5px,#f600ff 207.5px,#ff00fa 211.5px,#ff00ed 220.5px,#ff00fa 230.5px,#f200ff 235.5px,#c000ff 244.5px,#6400ff 255.5px,#0102ff 266.5px,#0050ff 277.5px,#0076ff 284.5px)"></i><i style="background:linear-gradient(90deg,#ff9bac 0.5px,#ff95a5 23.5px,#ff869e 39.5px,#ff6d9b 73.5px,#ff5da7 85.5px,#ff5dc7 93.5px,#ff6fdc 99.5px,#ff80d8 105.5px,#ff82bf 113.5px,#ff699f 125.5px,#ff3391 149.5px,#ff0893 161.5px,#f09 164.5px,#ff00b4 169.5px,#ff00d4 172.5px,#ff00f2 174.5px,#fa00ff 175.5px,#af00ff 179.5px,#8b00ff 182.5px,#8000ff 185.5px,#8600ff 188.5px,#af13ff 194.5px,#dd0bff 202.5px,#f200ff 207.5px,#ff00fc 212.5px,#ff00f3 221.5px,#fa00ff 231.5px,#d400ff 240.5px,#8d00ff 250.5px,#0101ff 266.5px,#0052ff 278.5px,#0072ff 284.5px)"></i><i style="background:linear-gradient(90deg,#ff9bad 0.5px,#ff93a4 25.5px,#ff83a0 46.5px,#ff66a0 79.5px,#ff5eb3 88.5px,#ff67d1 96.5px,#ff77d9 102.5px,#ff81c5 111.5px,#ff69a2 125.5px,#ff3795 148.5px,#ff0b99 161.5px,#ff009f 164.5px,#ff00bc 169.5px,#ff00e7 173.5px,#f900ff 175.5px,#ac00ff 180.5px,#9300ff 183.5px,#8e00ff 187.5px,#b211ff 194.5px,#db0aff 202.5px,#f200ff 208.5px,#ff00fc 215.5px,#ff00fd 225.5px,#e0f 233.5px,#c300ff 242.5px,#7100ff 253.5px,#0300ff 266.5px,#005aff 280.5px,#006eff 284.5px)"></i><i style="background:linear-gradient(90deg,#ff9bad 0.5px,#ff91a3 27.5px,#ff6aa1 77.5px,#ff60b4 88.5px,#ff6bd1 97.5px,#ff7ad4 104.5px,#ff7ebf 113.5px,#ff65a2 127.5px,#ff3099 151.5px,#ff04a3 163.5px,#f0b 168.5px,#ff00eb 173.5px,#f800ff 175.5px,#b700ff 180.5px,#9f00ff 183.5px,#9800ff 187.5px,#b50fff 194.5px,#da09ff 202.5px,#ef00ff 208.5px,#fe00fe 217.5px,#f800ff 227.5px,#d800ff 237.5px,#9d00ff 247.5px,#0400ff 266.5px,#0019ff 270.5px,#06f 283.5px,#006bff 284.5px)"></i><i style="background:linear-gradient(90deg,#ff9bad 0.5px,#ff8ca1 33.5px,#ff6aa4 78.5px,#ff63b8 89.5px,#ff70d2 99.5px,#ff7ccd 107.5px,#ff76b3 118.5px,#ff59a0 133.5px,#ff269f 155.5px,#ff02ac 164.5px,#ff00d1 170.5px,#ff00fa 174.5px,#ec00ff 176.5px,#b600ff 181.5px,#a300ff 185.5px,#a403ff 189.5px,#c10fff 196.5px,#e0f 209.5px,#fa00ff 219.5px,#e0f 229.5px,#c900ff 239.5px,#8400ff 250.5px,#0002ff 267.5px,#0053ff 280.5px,#0068ff 284.5px)"></i><i style="background:linear-gradient(90deg,#ff9cae 0.5px,#ff8aa2 36.5px,#ff6ba6 78.5px,#ff65be 91.5px,#ff74d1 101.5px,#ff7bc2 112.5px,#ff61a5 129.5px,#ff33a1 151.5px,#ff0baf 163.5px,#ff00ba 166.5px,#ff00e7 172.5px,#ff00fb 174.5px,#cf00ff 179.5px,#b200ff 183.5px,#a901ff 188.5px,#bf0eff 195.5px,#ed00ff 210.5px,#f500ff 220.5px,#e600ff 230.5px,#bf00ff 240.5px,#7900ff 251.5px,#0101ff 267.5px,#0056ff 281.5px,#0064ff 284.5px)"></i><i style="background:linear-gradient(90deg,#ff9cae 0.5px,#ff88a3 41.5px,#ff6ca8 78.5px,#ff69c3 93.5px,#ff75cf 102.5px,#ff78be 114.5px,#ff5ea6 131.5px,#ff2fa6 153.5px,#ff0ab8 164.5px,#ff00cb 168.5px,#ff00fb 174.5px,#bf00ff 182.5px,#b000ff 187.5px,#c40eff 196.5px,#e900ff 210.5px,#f000ff 221.5px,#db00ff 232.5px,#a0f 243.5px,#4b00ff 257.5px,#0200ff 267.5px,#005dff 283.5px,#0061ff 284.5px)"></i><i style="background:linear-gradient(90deg,#ff9caf 0.5px,#ff83a4 50.5px,#ff6daa 79.5px,#ff6bc5 94.5px,#ff76cc 104.5px,#ff75bb 116.5px,#ff59a7 134.5px,#ff2eaa 154.5px,#ff0ebd 164.5px,#ff00d5 169.5px,#ff00fc 174.5px,#c500ff 182.5px,#b702ff 187.5px,#c60eff 196.5px,#e600ff 210.5px,#eb00ff 221.5px,#d600ff 232.5px,#a600ff 243.5px,#4300ff 258.5px,#0300ff 267.5px,#005eff 284.5px)"></i><i style="background:linear-gradient(90deg,#ff9caf 0.5px,#ff80a5 55.5px,#ff6dad 80.5px,#ff6dc6 95.5px,#ff77ca 106.5px,#ff70b6 120.5px,#ff4ea8 140.5px,#ff28b2 157.5px,#ff0bc9 166.5px,#ff00e5 171.5px,#ff00fc 174.5px,#c600ff 183.5px,#bd07ff 188.5px,#cd0eff 198.5px,#e500ff 211.5px,#e600ff 222.5px,#ce00ff 233.5px,#9d00ff 244.5px,#0002ff 268.5px,#0057ff 283.5px,#005cff 284.5px)"></i><i style="background:linear-gradient(90deg,#ff9cb0 0.5px,#ff7ea6 59.5px,#ff6db1 82.5px,#ff70c9 98.5px,#ff77c5 110.5px,#ff63af 128.5px,#ff3dad 149.5px,#ff1cc0 162.5px,#ff03e1 170.5px,#fb00ff 175.5px,#cb00ff 183.5px,#c20bff 189.5px,#cf0fff 199.5px,#e300ff 212.5px,#df00ff 224.5px,#c300ff 235.5px,#8900ff 247.5px,#0001ff 268.5px,#0059ff 284.5px)"></i><i style="background:linear-gradient(90deg,#ff9cb0 0.5px,#ff7da8 60.5px,#ff6eb3 83.5px,#ff74c9 102.5px,#ff72bc 117.5px,#ff53ad 138.5px,#ff2eb7 156.5px,#ff13d1 166.5px,#fb01ff 175.5px,#d004ff 183.5px,#c60eff 190.5px,#d30eff 201.5px,#e000ff 212.5px,#db00ff 224.5px,#bf00ff 235.5px,#8600ff 247.5px,#0101ff 268.5px,#0056ff 284.5px)"></i><i style="background:linear-gradient(90deg,#ff9cb1 0.5px,#ff7da9 61.5px,#ff6eb6 84.5px,#ff73c9 102.5px,#ff70bc 118.5px,#ff52b0 139.5px,#ff2ebc 157.5px,#ff15d8 167.5px,#fc06ff 175.5px,#d409ff 183.5px,#ca11ff 191.5px,#d60dff 203.5px,#de00ff 214.5px,#d400ff 226.5px,#af00ff 238.5px,#60f 252.5px,#0200ff 268.5px,#0054ff 284.5px)"></i><i style="background:linear-gradient(90deg,#ff9cb1 0.5px,#ff7daa 62.5px,#ff6fb8 85.5px,#ff74c8 103.5px,#ff6ebb 120.5px,#ff4eb3 142.5px,#ff2ec1 158.5px,#ff16df 168.5px,#fc0bff 175.5px,#d50dff 184.5px,#cd14ff 193.5px,#d809ff 207.5px,#db00ff 215.5px,#ce00ff 227.5px,#a700ff 239.5px,#5800ff 254.5px,#0003ff 269.5px,#0051ff 284.5px)"></i><i style="background:linear-gradient(90deg,#ff9db2 0.5px,#ff7dab 62.5px,#ff70ba 86.5px,#ff74c7 104.5px,#ff6bba 122.5px,#ff4bb6 144.5px,#ff2cc9 160.5px,#ff15ee 171.5px,#fd10ff 175.5px,#d911ff 184.5px,#cf16ff 193.5px,#d809ff 208.5px,#d700ff 217.5px,#c300ff 230.5px,#9200ff 243.5px,#1b00ff 264.5px,#0002ff 269.5px,#004fff 284.5px)"></i><i style="background:linear-gradient(90deg,#ff9db2 0.5px,#ff7eac 62.5px,#ff71bc 88.5px,#ff74c7 105.5px,#ff69ba 124.5px,#ff49b9 146.5px,#ff2cce 161.5px,#fd15ff 175.5px,#d915ff 185.5px,#d117ff 196.5px,#d400ff 217.5px,#bf00ff 230.5px,#9000ff 243.5px,#1000ff 266.5px,#0001ff 269.5px,#004cff 284.5px)"></i><i style="background:linear-gradient(90deg,#ff9db3 0.5px,#ff7eae 63.5px,#ff71c0 91.5px,#ff74c6 108.5px,#ff61b9 130.5px,#ff41c0 151.5px,#ff27db 165.5px,#fd19ff 175.5px,#da18ff 186.5px,#d318ff 199.5px,#d000ff 218.5px,#b900ff 231.5px,#80f 244.5px,#0101ff 269.5px,#004aff 284.5px)"></i><i style="background:linear-gradient(90deg,#ff9db3 0.5px,#ff7eaf 63.5px,#ff72c4 95.5px,#ff71c3 114.5px,#ff54bb 140.5px,#ff36cd 158.5px,#ff20f2 171.5px,#f91cff 176.5px,#da1cff 187.5px,#d416ff 203.5px,#c0f 220.5px,#b000ff 233.5px,#7800ff 247.5px,#0100ff 269.5px,#0048ff 284.5px)"></i><i style="background:linear-gradient(90deg,#ff9db4 0.5px,#ff7fb0 63.5px,#ff73c4 96.5px,#ff6fc2 117.5px,#ff52be 142.5px,#ff36d1 159.5px,#fd20ff 175.5px,#dc1eff 187.5px,#d417ff 204.5px,#c700ff 221.5px,#a700ff 235.5px,#6700ff 250.5px,#0003ff 270.5px,#0046ff 284.5px)"></i><i style="background:linear-gradient(90deg,#ff9db4 0.5px,#ff7eb1 64.5px,#ff73c5 98.5px,#ff6bc1 122.5px,#ff4dc3 146.5px,#ff33da 162.5px,#fd23ff 175.5px,#dc21ff 188.5px,#d215ff 208.5px,#c000ff 224.5px,#90f 238.5px,#4c00ff 255.5px,#0002ff 270.5px,#04f 284.5px)"></i><i style="background:linear-gradient(90deg,#ff9db5 0.5px,#ff7fb2 64.5px,#ff74c6 100.5px,#ff69c1 124.5px,#ff4cc6 147.5px,#ff34de 163.5px,#fd27ff 175.5px,#dc23ff 189.5px,#d015ff 210.5px,#b0f 225.5px,#9000ff 240.5px,#3200ff 260.5px,#0001ff 270.5px,#0042ff 284.5px)"></i><i style="background:linear-gradient(90deg,#ff9db5 0.5px,#ff7fb3 64.5px,#ff74c7 103.5px,#ff64c2 129.5px,#ff47cc 151.5px,#ff31ea 167.5px,#fd29ff 175.5px,#dc25ff 190.5px,#cd13ff 213.5px,#b200ff 228.5px,#8100ff 243.5px,#0101ff 270.5px,#0040ff 284.5px)"></i><i style="background:linear-gradient(90deg,#ff9db6 0.5px,#ff80b4 64.5px,#ff73c7 109.5px,#ff5ac4 138.5px,#ff3fd8 158.5px,#fd2cff 175.5px,#dd27ff 190.5px,#ca15ff 214.5px,#ad01ff 229.5px,#70f 245.5px,#0100ff 270.5px,#003eff 284.5px)"></i><i style="background:linear-gradient(90deg,#ff9db6 0.5px,#ff80b5 65.5px,#ff73c8 109.5px,#ff59c7 139.5px,#ff3fdb 159.5px,#fd2fff 175.5px,#dd29ff 191.5px,#c514ff 217.5px,#a300ff 232.5px,#6500ff 249.5px,#0003ff 271.5px,#003cff 284.5px)"></i><i style="background:linear-gradient(90deg,#ff9eb7 0.5px,#ff80b6 65.5px,#ff72c8 110.5px,#ff56ca 142.5px,#ff3fe1 161.5px,#fd31ff 175.5px,#dc2bff 192.5px,#bf13ff 220.5px,#9800ff 235.5px,#5200ff 253.5px,#0002ff 271.5px,#003aff 284.5px)"></i><i style="background:linear-gradient(90deg,#ff9eb7 0.5px,#ff81b7 65.5px,#ff72c8 111.5px,#ff56cc 143.5px,#ff3ee6 163.5px,#fc34ff 175.5px,#db2cff 194.5px,#bc14ff 221.5px,#9301ff 236.5px,#3f00ff 257.5px,#0001ff 271.5px,#0038ff 284.5px)"></i><i style="background:linear-gradient(90deg,#ff9eb8 0.5px,#ff81b8 66.5px,#ff71c9 113.5px,#ff56cf 144.5px,#ff3fea 164.5px,#fc36ff 175.5px,#da2eff 195.5px,#bb17ff 221.5px,#9204ff 236.5px,#3600ff 259.5px,#0001ff 271.5px,#0037ff 284.5px)"></i><i style="background:linear-gradient(90deg,#ff9eb8 0.5px,#ff81b9 66.5px,#ff71ca 114.5px,#ff55d1 145.5px,#ff3fef 166.5px,#fc38ff 175.5px,#d92fff 196.5px,#ba19ff 221.5px,#8e06ff 237.5px,#5800ff 251.5px,#0004ff 272.5px,#0035ff 284.5px)"></i><i style="background:linear-gradient(90deg,#ff9eb9 0.5px,#ff82ba 66.5px,#ff70ca 116.5px,#ff55d3 146.5px,#ff3ff4 168.5px,#f939ff 176.5px,#d62fff 199.5px,#b51aff 223.5px,#8707ff 239.5px,#4e00ff 253.5px,#0003ff 272.5px,#0034ff 284.5px)"></i><i style="background:linear-gradient(90deg,#ff9eb9 0.5px,#ff82bb 67.5px,#ff6fcb 118.5px,#ff55d6 147.5px,#ff3ff9 170.5px,#f73bff 177.5px,#d32fff 202.5px,#b21bff 224.5px,#8309ff 240.5px,#4600ff 255.5px,#0002ff 272.5px,#0334ff 284.5px)"></i><i style="background:linear-gradient(90deg,#ff9eba 0.5px,#ff82bc 67.5px,#ff6ecc 120.5px,#ff54d9 149.5px,#fd3eff 174.5px,#d532ff 200.5px,#b21dff 224.5px,#7f0bff 241.5px,#3500ff 259.5px,#0001ff 272.5px,#0635ff 284.5px)"></i><i style="background:linear-gradient(90deg,#ff9eba 0.5px,#ff82bd 67.5px,#ff6ace 125.5px,#ff52de 152.5px,#fc40ff 174.5px,#d132ff 203.5px,#af1fff 225.5px,#7c0dff 242.5px,#1c00ff 265.5px,#0101ff 272.5px,#0936ff 284.5px)"></i><i style="background:linear-gradient(90deg,#ff9fbb 0.5px,#ff82be 68.5px,#ff68d0 129.5px,#ff50e3 155.5px,#fc42ff 174.5px,#cb30ff 208.5px,#a51dff 229.5px,#690bff 247.5px,#0b03ff 270.5px,#040cff 274.5px,#0c36ff 284.5px)"></i><i style="background:linear-gradient(90deg,#ff9fbb 0.5px,#ff83bf 68.5px,#ff68d1 129.5px,#ff51e6 156.5px,#fb43ff 174.5px,#b627ff 221.5px,#8715ff 239.5px,#1e06ff 266.5px,#0709ff 273.5px,#0e37ff 284.5px)"></i><i style="background:linear-gradient(90deg,#ff9fbc 0.5px,#ff83c0 69.5px,#ff68d2 130.5px,#ff51e8 157.5px,#fb45ff 174.5px,#b428ff 222.5px,#8016ff 241.5px,#1d09ff 267.5px,#0a0cff 273.5px,#1138ff 284.5px)"></i><i style="background:linear-gradient(90deg,#ff9fbc 0.5px,#ff83c0 69.5px,#ff68d4 131.5px,#ff51eb 158.5px,#fc47ff 173.5px,#b129ff 223.5px,#7d18ff 242.5px,#1d0cff 268.5px,#0d11ff 274.5px,#1339ff 284.5px)"></i><i style="background:linear-gradient(90deg,#ff9fbd 0.5px,#ff83c2 70.5px,#ff67d5 132.5px,#ff51ee 160.5px,#fc48ff 173.5px,#af2aff 224.5px,#7719ff 244.5px,#190fff 270.5px,#1013ff 274.5px,#163aff 284.5px)"></i><i style="background:linear-gradient(90deg,#ff9fbd 0.5px,#ff84c2 70.5px,#ff67d7 133.5px,#ff51f1 161.5px,#fb4aff 173.5px,#ae2cff 224.5px,#741aff 245.5px,#1912ff 271.5px,#1319ff 275.5px,#183bff 284.5px)"></i><i style="background:linear-gradient(90deg,#ff9fbe 0.5px,#ff84c3 71.5px,#ff67d9 134.5px,#ff51f4 163.5px,#fb4bff 173.5px,#ae2eff 224.5px,#751dff 245.5px,#1c14ff 271.5px,#161bff 275.5px,#1b3bff 284.5px)"></i><i style="background:linear-gradient(90deg,#ff9fbe 0.5px,#ff84c4 71.5px,#ff67da 135.5px,#ff51f8 165.5px,#f94cff 174.5px,#ae30ff 224.5px,#731eff 246.5px,#1c17ff 272.5px,#1923ff 277.5px,#1d3cff 284.5px)"></i><i style="background:linear-gradient(90deg,#ffa0be 0.5px,#ff84c5 72.5px,#ff67dc 136.5px,#ff51fc 167.5px,#b334ff 221.5px,#7d23ff 243.5px,#2219ff 271.5px,#1b21ff 276.5px,#1f3dff 284.5px)"></i><i style="background:linear-gradient(90deg,#ffa0bf 0.5px,#ff84c6 72.5px,#ff66de 138.5px,#fc50ff 171.5px,#ad33ff 224.5px,#7122ff 247.5px,#1d1dff 274.5px,#223eff 284.5px)"></i><i style="background:linear-gradient(90deg,#ffa0bf 0.5px,#ff84c7 73.5px,#ff66e0 139.5px,#fb51ff 171.5px,#af36ff 223.5px,#7224ff 247.5px,#201fff 274.5px,#243fff 284.5px)"></i><i style="background:linear-gradient(90deg,#ffa0c0 0.5px,#ff85c7 73.5px,#ff65e2 141.5px,#fc53ff 170.5px,#af37ff 223.5px,#7026ff 248.5px,#2321ff 274.5px,#2640ff 284.5px)"></i></div>
<div class="f" style="left:384px;top:6px"><i style="background:linear-gradient(90deg,#ffbfa0 0.5px,#ffc681 76.5px,#fff15f 151.5px,#fbff55 168.5px,#acff39 222.5px,#6dff28 248.5px,#25ff24 273.5px,#29ff45 284.5px)"></i><i style="background:linear-gradient(90deg,#ffbfa0 0.5px,#ffc580 76.5px,#fff15e 152.5px,#faff54 169.5px,#acff37 222.5px,#6fff27 247.5px,#2f2 273.5px,#27ff44 284.5px)"></i><i style="background:linear-gradient(90deg,#ffbe9f 0.5px,#ffc480 76.5px,#fff15d 152.5px,#fbff53 169.5px,#aaff35 223.5px,#6bff24 248.5px,#20ff20 273.5px,#25ff43 284.5px)"></i><i style="background:linear-gradient(90deg,#ffbe9f 0.5px,#ffc37f 76.5px,#fff05c 152.5px,#fcff52 169.5px,#af3 223.5px,#6dff23 247.5px,#1dff1e 273.5px,#22ff42 284.5px)"></i><i style="background:linear-gradient(90deg,#ffbd9f 0.5px,#ffc27f 76.5px,#fff05b 153.5px,#fbff50 170.5px,#a8ff31 224.5px,#6cff20 247.5px,#1cff1a 272.5px,#20ff42 284.5px)"></i><i style="background:linear-gradient(90deg,#ffbd9f 0.5px,#ffc17e 76.5px,#ffef5a 153.5px,#fcff4f 170.5px,#a8ff2f 224.5px,#6eff1f 246.5px,#19ff18 272.5px,#1eff41 284.5px)"></i><i style="background:linear-gradient(90deg,#ffbc9f 0.5px,#ffc07e 76.5px,#ffef58 154.5px,#fbff4d 171.5px,#a8ff2d 224.5px,#6dff1c 246.5px,#16ff16 272.5px,#1cff40 284.5px)"></i><i style="background:linear-gradient(90deg,#ffbc9f 0.5px,#ffbf7d 76.5px,#ffee57 154.5px,#fcff4c 171.5px,#a6ff2b 225.5px,#6cff1a 246.5px,#16ff13 271.5px,#19ff3f 284.5px)"></i><i style="background:linear-gradient(90deg,#ffbb9f 0.5px,#ffbe7d 76.5px,#ffed57 154.5px,#fbff4a 172.5px,#a7ff29 225.5px,#6cff18 246.5px,#13ff10 271.5px,#17ff3e 284.5px)"></i><i style="background:linear-gradient(90deg,#ffbb9f 0.5px,#ffbe7c 77.5px,#ffeb56 153.5px,#fcff49 172.5px,#a7ff27 225.5px,#6eff16 245.5px,#12ff0d 270.5px,#0fff1b 275.5px,#14ff3e 284.5px)"></i><i style="background:linear-gradient(90deg,#ffba9e 0.5px,#ffbd7b 77.5px,#ffe857 151.5px,#fcff48 172.5px,#a5ff24 226.5px,#6dff13 245.5px,#0fff0a 270.5px,#0cff19 275.5px,#12ff3d 284.5px)"></i><i style="background:linear-gradient(90deg,#ffba9e 0.5px,#ffbc7a 77.5px,#ffe757 150.5px,#fbff46 173.5px,#a5ff21 226.5px,#6dff10 245.5px,#0fff07 269.5px,#08ff0f 273.5px,#0fff3c 284.5px)"></i><i style="background:linear-gradient(90deg,#ffb99e 0.5px,#ffbb7a 77.5px,#ffe557 149.5px,#fcff44 173.5px,#a5ff1f 226.5px,#70ff0e 244.5px,#0fff04 268.5px,#05ff09 272.5px,#0dff3b 284.5px)"></i><i style="background:linear-gradient(90deg,#ffb99e 0.5px,#ffba79 77.5px,#ffe258 147.5px,#fbff42 174.5px,#a4ff1c 227.5px,#6bff0b 245.5px,#0cff01 268.5px,#02ff06 272.5px,#0aff3b 284.5px)"></i><i style="background:linear-gradient(90deg,#ffb99e 0.5px,#ffb87a 75.5px,#ffe157 147.5px,#fcff40 174.5px,#a4ff19 227.5px,#6eff09 244.5px,#1fff00 263.5px,#00ff02 271.5px,#07ff3a 284.5px)"></i><i style="background:linear-gradient(90deg,#ffb89e 0.5px,#ffb67b 73.5px,#ffdf57 146.5px,#fbff3e 175.5px,#a4ff17 227.5px,#72ff07 243.5px,#2cff00 260.5px,#00ff02 271.5px,#04ff39 284.5px)"></i><i style="background:linear-gradient(90deg,#ffb89e 0.5px,#ffb47b 72.5px,#ffde56 146.5px,#fcff3c 175.5px,#a5ff14 227.5px,#71ff03 243.5px,#00ff03 271.5px,#01ff39 284.5px)"></i><i style="background:linear-gradient(90deg,#ffb79e 0.5px,#ffb37b 71.5px,#ffcc6a 110.5px,#ffe250 152.5px,#fdff3b 175.5px,#c7ff23 207.5px,#a3ff11 228.5px,#6aff00 245.5px,#01ff00 270.5px,#00ff39 284.5px)"></i><i style="background:linear-gradient(90deg,#ffb79e 0.5px,#ffb17b 70.5px,#ffc76c 102.5px,#ffdb55 146.5px,#fffb3c 172.5px,#c3ff1f 210.5px,#a1ff0d 229.5px,#6bff00 245.5px,#00ff01 270.5px,#00ff3b 284.5px)"></i><i style="background:linear-gradient(90deg,#ffb69d 0.5px,#ffb07c 69.5px,#ffc16d 94.5px,#ffd759 141.5px,#fff040 166.5px,#faff35 177.5px,#ccff21 203.5px,#aaff0d 226.5px,#78ff00 242.5px,#00ff01 270.5px,#00ff3d 284.5px)"></i><i style="background:linear-gradient(90deg,#ffb69d 0.5px,#ffaf7c 68.5px,#ffbc6d 90.5px,#ffd162 127.5px,#ffe249 156.5px,#fbff33 177.5px,#cdff1f 202.5px,#adff0b 225.5px,#84ff00 239.5px,#31ff00 259.5px,#00ff02 270.5px,#00ff3e 284.5px)"></i><i style="background:linear-gradient(90deg,#ffb59d 0.5px,#ffad7d 67.5px,#ffb86d 87.5px,#ffc968 110.5px,#ffd852 147.5px,#fff738 171.5px,#faff2f 178.5px,#ceff1d 201.5px,#b0ff09 224.5px,#8dff00 237.5px,#4f0 255.5px,#00ff03 270.5px,#00ff40 284.5px)"></i><i style="background:linear-gradient(90deg,#ffb59d 0.5px,#ffac7d 66.5px,#ffb56c 86.5px,#ffc769 106.5px,#ffd554 144.5px,#fff039 168.5px,#faff2d 178.5px,#ceff1b 200.5px,#b1ff06 224.5px,#8fff00 237.5px,#45ff00 255.5px,#00ff04 270.5px,#00ff42 284.5px)"></i><i style="background:linear-gradient(90deg,#ffb49d 0.5px,#ffab7d 66.5px,#ffb36c 85.5px,#ffc66a 104.5px,#ffd354 143.5px,#ffec3a 166.5px,#fbff2b 178.5px,#cfff19 199.5px,#b2ff03 224.5px,#87ff00 240.5px,#32ff00 259.5px,#01ff00 269.5px,#0f4 284.5px)"></i><i style="background:linear-gradient(90deg,#ffb49d 0.5px,#ffaa7d 65.5px,#ffaf6c 83.5px,#ffc669 103.5px,#ffd155 142.5px,#ffe73b 164.5px,#fcff28 178.5px,#d0ff17 198.5px,#b4ff00 224.5px,#90ff00 238.5px,#47ff00 255.5px,#00ff01 269.5px,#00ff46 284.5px)"></i><i style="background:linear-gradient(90deg,#ffb49d 0.5px,#ffa97e 64.5px,#ffac6b 82.5px,#ffc569 101.5px,#ffcf56 140.5px,#ffe13d 161.5px,#fdff26 178.5px,#d0ff14 197.5px,#b6ff00 224.5px,#93ff00 238.5px,#4dff00 254.5px,#00ff02 269.5px,#00ff48 284.5px)"></i><i style="background:linear-gradient(90deg,#ffb39d 0.5px,#ffad8c 34.5px,#ffa982 59.5px,#ffa86c 80.5px,#ffc067 95.5px,#ffc665 113.5px,#ffce55 141.5px,#ffe13b 162.5px,#fbff21 179.5px,#d0ff12 196.5px,#b7ff00 225.5px,#95ff00 238.5px,#4eff00 254.5px,#00ff02 269.5px,#00ff4a 284.5px)"></i><i style="background:linear-gradient(90deg,#ffb39d 0.5px,#ffab8c 33.5px,#ffab86 54.5px,#ffa56c 79.5px,#ffbd65 93.5px,#ffc569 104.5px,#ffcc56 140.5px,#ffdc3c 160.5px,#fcff1e 179.5px,#d0ff0f 195.5px,#bf0 224.5px,#9cff00 237.5px,#59ff00 252.5px,#00ff03 269.5px,#00ff4c 284.5px)"></i><i style="background:linear-gradient(90deg,#ffb29d 0.5px,#ffa88f 27.5px,#ffac89 49.5px,#ffa36c 78.5px,#ffb662 90.5px,#ffc668 100.5px,#ffc761 117.5px,#ffcb56 139.5px,#ffd83d 158.5px,#fdff1b 179.5px,#d2ff0c 193.5px,#c7ff09 205.5px,#c1ff00 222.5px,#a5ff00 235.5px,#6aff00 249.5px,#01ff00 268.5px,#00ff4e 284.5px)"></i><i style="background:linear-gradient(90deg,#ffb29c 0.5px,#ffa791 25.5px,#ffac89 48.5px,#ffa06e 76.5px,#ffad61 87.5px,#ffc567 98.5px,#ffc267 109.5px,#ffcb5e 130.5px,#ffce46 151.5px,#fff024 173.5px,#fbff16 180.5px,#d0ff08 193.5px,#c7ff07 204.5px,#c3ff00 223.5px,#a9ff00 235.5px,#72ff00 248.5px,#01ff01 268.5px,#00ff51 284.5px)"></i><i style="background:linear-gradient(90deg,#ffb29c 0.5px,#ffa996 20.5px,#ffa78b 31.5px,#ffad8a 46.5px,#ff9e73 72.5px,#ffa461 84.5px,#ffc061 94.5px,#ffc76a 102.5px,#ffc261 114.5px,#ffcb5f 128.5px,#ffca48 149.5px,#ffe827 170.5px,#fcff12 180.5px,#d1ff04 192.5px,#c6ff05 202.5px,#c7ff00 222.5px,#afff00 234.5px,#79ff00 247.5px,#00ff01 268.5px,#00ff53 284.5px)"></i><i style="background:linear-gradient(90deg,#ffb19c 0.5px,#ffa997 19.5px,#ffa48a 30.5px,#ffae8b 44.5px,#ff9e78 68.5px,#ff9e62 82.5px,#ffb75c 91.5px,#ffc966 98.5px,#ffc169 107.5px,#ffc25f 115.5px,#ffcb60 126.5px,#ffc64d 145.5px,#ffdc2f 164.5px,#fdff0e 180.5px,#d4ff01 190.5px,#c4ff02 198.5px,#caff00 222.5px,#b3ff00 234.5px,#81ff00 246.5px,#00ff02 268.5px,#0f5 284.5px)"></i><i style="background:linear-gradient(90deg,#ffb19c 0.5px,#ffab99 17.5px,#ffa18a 29.5px,#ffae8b 42.5px,#ff9f7e 63.5px,#ff9962 81.5px,#ffaa58 88.5px,#ffc861 96.5px,#ffc96c 102.5px,#ffbc63 111.5px,#ffc95e 120.5px,#ffc65b 134.5px,#ffc843 151.5px,#ffee1a 174.5px,#fbff08 181.5px,#dbff00 188.5px,#c4ff00 196.5px,#c8ff00 208.5px,#cdff00 222.5px,#baff00 233.5px,#89ff00 245.5px,#00ff03 268.5px,#00ff58 284.5px)"></i><i style="background:linear-gradient(90deg,#ffb09c 0.5px,#ffab99 17.5px,#ff9e8a 28.5px,#ffae89 39.5px,#ffa485 56.5px,#ff9565 79.5px,#ff9f57 86.5px,#ffc059 93.5px,#ffce66 98.5px,#ffc46e 105.5px,#ffb960 112.5px,#ffca5d 120.5px,#ffc75e 132.5px,#ffc445 149.5px,#ffe320 170.5px,#fcff03 181.5px,#c6ff00 193.5px,#c1ff00 201.5px,#d2ff00 219.5px,#c5ff00 230.5px,#a0ff00 241.5px,#50ff00 255.5px,#02ff00 267.5px,#00ff5b 284.5px)"></i><i style="background:linear-gradient(90deg,#ffb09c 0.5px,#ffac9b 16.5px,#ff9b88 28.5px,#ffad88 37.5px,#ffab8b 48.5px,#ff9470 73.5px,#ff945a 83.5px,#ffa950 89.5px,#ffcb5c 95.5px,#ffd16c 100.5px,#ffc06f 106.5px,#ffb561 111.5px,#ffc459 117.5px,#ffcd60 124.5px,#ffc158 137.5px,#ffc43f 152.5px,#ffec11 175.5px,#feff00 181.5px,#c6ff00 192.5px,#bdff00 199.5px,#d5ff00 219.5px,#caff00 230.5px,#a3ff00 241.5px,#58ff00 254.5px,#01ff00 267.5px,#00ff5d 284.5px)"></i><i style="background:linear-gradient(90deg,#ffaf9b 0.5px,#ffae9c 15.5px,#ff988e 25.5px,#ff9a83 30.5px,#ffb089 39.5px,#ffa689 52.5px,#ff8f69 76.5px,#ff9055 84.5px,#ffa64b 89.5px,#ffcb55 94.5px,#ffd767 98.5px,#ffc873 104.5px,#ffb164 110.5px,#ffb657 114.5px,#ffcd5b 120.5px,#ffc961 129.5px,#ffbd4a 145.5px,#ffcf2d 161.5px,#ffec0b 176.5px,#fff900 180.5px,#f5ff00 183.5px,#c2ff00 192.5px,#baff00 198.5px,#d8ff00 218.5px,#d0ff00 229.5px,#acff00 240.5px,#67ff00 252.5px,#01ff01 267.5px,#00ff5b 283.5px,#00ff60 284.5px)"></i><i style="background:linear-gradient(90deg,#ffaf9b 0.5px,#ffae9d 15.5px,#ff9790 24.5px,#ff9382 29.5px,#ffaa83 35.5px,#ffb28c 42.5px,#ff9d82 59.5px,#ff8a64 78.5px,#ff8d4e 85.5px,#ffa345 89.5px,#ffc84c 93.5px,#ffda5c 96.5px,#ffda70 100.5px,#ffc376 105.5px,#ffaa64 110.5px,#ffac55 113.5px,#ffc452 117.5px,#ffd15c 121.5px,#ffc862 129.5px,#ffbb4c 144.5px,#ffc92e 159.5px,#ffe70b 175.5px,#fff200 179.5px,#fdff00 182.5px,#c2ff00 191.5px,#b6ff00 196.5px,#c4ff00 205.5px,#dcff00 218.5px,#d7ff00 228.5px,#b9ff00 238.5px,#7eff00 249.5px,#00ff02 267.5px,#00ff59 282.5px,#00ff63 284.5px)"></i><i style="background:linear-gradient(90deg,#ffaf9b 0.5px,#ffaf9e 15.5px,#ff9793 23.5px,#ff8b81 28.5px,#ffa27c 33.5px,#ffb388 38.5px,#ffab8d 48.5px,#ff8b6d 74.5px,#ff834e 84.5px,#ff943f 88.5px,#ffc141 92.5px,#ffdd53 95.5px,#ffe468 98.5px,#ffd07b 103.5px,#ffb574 107.5px,#ff9f5b 111.5px,#ffab4b 114.5px,#ffcc51 118.5px,#ffd45f 122.5px,#ffc663 130.5px,#ffb84b 144.5px,#ffc52e 158.5px,#ffe408 175.5px,#ffef00 179.5px,#fffe00 182.5px,#bdff00 191.5px,#b1ff00 196.5px,#c4ff00 205.5px,#dfff00 217.5px,#df0 227.5px,#c2ff00 237.5px,#8eff00 247.5px,#00ff03 267.5px,#00ff57 281.5px,#0f6 284.5px)"></i><i style="background:linear-gradient(90deg,#ffae9a 0.5px,#ffb29f 14.5px,#ff9d9a 21.5px,#ff8789 26.5px,#ff8478 29.5px,#ffa178 33.5px,#ffb485 37.5px,#ffb08f 45.5px,#ff8b71 72.5px,#ff7c54 82.5px,#ff7f41 86.5px,#ff9634 89.5px,#ffc337 92.5px,#ffe74f 95.5px,#ffed69 98.5px,#ffda7e 102.5px,#ffba7c 106.5px,#ff9762 110.5px,#ff924e 112.5px,#ffa341 114.5px,#ffc948 117.5px,#ffd858 120.5px,#ffcf66 126.5px,#ffb755 139.5px,#ffb939 152.5px,#ffdf09 174.5px,#ffe700 178.5px,#fcff00 183.5px,#b7ff00 191.5px,#abff00 195.5px,#b9ff00 202.5px,#e0ff00 215.5px,#e5ff00 225.5px,#cfff00 235.5px,#9eff00 245.5px,#30ff00 260.5px,#03ff00 266.5px,#00ff5f 282.5px,#00ff69 284.5px)"></i><i style="background:linear-gradient(90deg,#ffad9a 0.5px,#ffb3a0 14.5px,#ffa19e 20.5px,#ff8a95 25.5px,#ff7678 28.5px,#ff7770 29.5px,#ff966d 32.5px,#ffb17b 35.5px,#ffb98a 39.5px,#ffad90 47.5px,#ff866d 74.5px,#ff7553 82.5px,#ff733b 86.5px,#ff7f2d 88.5px,#ff9d25 90.5px,#ffc729 92.5px,#ffeb3d 94.5px,#fffa55 96.5px,#fff473 99.5px,#ffd784 103.5px,#ffb881 106.5px,#ff936c 109.5px,#ff7e52 111.5px,#ff7c43 112.5px,#ff8437 113.5px,#ff9630 114.5px,#ffc136 116.5px,#ffd949 118.5px,#ffde5e 121.5px,#ffd068 126.5px,#ffb657 138.5px,#ffb53a 151.5px,#ffdc07 174.5px,#ffe200 178.5px,#fefd00 183.5px,#b6ff00 190.5px,#a4ff00 194.5px,#abff00 199.5px,#e1ff00 214.5px,#ebff00 223.5px,#deff00 232.5px,#b9ff00 241.5px,#71ff00 252.5px,#02ff00 266.5px,#00ff58 280.5px,#00ff6c 284.5px)"></i><i style="background:linear-gradient(90deg,#ffad99 0.5px,#ffb5a1 14.5px,#ffa7a1 19.5px,#ff90a0 24.5px,#ff8095 26.5px,#ff6c79 28.5px,#ff6565 29.5px,#ff6e5d 30.5px,#ff9361 32.5px,#ffaf6f 34.5px,#ffbc82 37.5px,#ffb691 43.5px,#ff9883 59.5px,#ff7c65 77.5px,#ff6a4c 83.5px,#ff672b 87.5px,#ff7b19 89.5px,#ff9112 90.5px,#ffcd16 92.5px,#ffe921 93.5px,#fdfb31 94.5px,#f2ff52 96.5px,#fdfd75 99.5px,#ffe487 102.5px,#ffc389 105.5px,#ff9778 108.5px,#ff725d 110.5px,#ff614a 111.5px,#ff5933 112.5px,#ff621e 113.5px,#ff8213 114.5px,#ffaa16 115.5px,#ffca24 116.5px,#ffdd35 117.5px,#ffe84f 119.5px,#ffe164 122.5px,#ffcd6b 127.5px,#ffb357 138.5px,#ffb238 151.5px,#ffd909 173.5px,#ffdb00 177.5px,#ffe900 181.5px,#faff00 184.5px,#aeff00 190.5px,#9dff00 193.5px,#9fff00 197.5px,#e2ff00 213.5px,#f0ff00 222.5px,#e6ff00 231.5px,#c4ff00 240.5px,#83ff00 250.5px,#01ff01 266.5px,#00ff56 279.5px,#00ff6f 284.5px)"></i><i style="background:linear-gradient(90deg,#ffac99 0.5px,#ffb8a1 13.5px,#ffada3 18.5px,#ff8fa8 24.5px,#ff7b9f 26.5px,#ff6e92 27.5px,#ff5d7d 28.5px,#ff4e5d 29.5px,#ff5244 30.5px,#ff7144 31.5px,#ff914d 32.5px,#ffa85a 33.5px,#ffbd71 35.5px,#ffc08a 39.5px,#ffaf93 46.5px,#ff937f 62.5px,#ff7865 77.5px,#ff604a 83.5px,#ff5222 87.5px,#ff5614 88.5px,#ff6306 89.5px,#ff8001 90.5px,#ffd701 92.5px,#fafa0a 93.5px,#e5ff20 94.5px,#dbff38 95.5px,#e0ff5e 97.5px,#fcfe81 100.5px,#ffde8e 103.5px,#ffb38b 106.5px,#ff746f 109.5px,#ff5c62 110.5px,#ff404b 111.5px,#ff2121 112.5px,#ff2c02 113.5px,#ffb700 115.5px,#ffe20c 116.5px,#fff428 117.5px,#fff54e 119.5px,#ffe667 122.5px,#ffcd6d 127.5px,#ffb15a 137.5px,#ffad3c 149.5px,#ffc11f 161.5px,#ffd70d 171.5px,#ffd600 176.5px,#ffdb00 180.5px,#fff100 183.5px,#fefd00 184.5px,#a3ff00 190.5px,#91ff00 193.5px,#97ff00 197.5px,#dfff00 211.5px,#f4ff00 220.5px,#f0ff00 229.5px,#d3ff00 238.5px,#9dff00 247.5px,#00ff02 266.5px,#00ff54 278.5px,#00ff73 284.5px)"></i><i style="background:linear-gradient(90deg,#ffab98 0.5px,#ffba9e 11.5px,#ffb6a5 16.5px,#ffa0a8 21.5px,#ff8fb1 24.5px,#ff76ae 26.5px,#ff62a3 27.5px,#ff488a 28.5px,#ff2b58 29.5px,#ff221b 30.5px,#ff5e1a 31.5px,#ff9630 32.5px,#ffb548 33.5px,#ffc35c 34.5px,#ffc975 36.5px,#ffc08c 40.5px,#ffac93 47.5px,#ff917f 62.5px,#ff7869 76.5px,#ff5d51 82.5px,#ff4737 85.5px,#ff3407 88.5px,#ff4700 89.5px,#ff6e00 90.5px,#ffa700 91.5px,#fee900 92.5px,#daff00 93.5px,#b7ff0b 94.5px,#b2ff2c 95.5px,#c7ff5d 97.5px,#e4ff7a 99.5px,#fdfd8b 101.5px,#ffd494 104.5px,#ff9c8a 107.5px,#ff8482 108.5px,#ff5a81 110.5px,#ff3674 111.5px,#ff0752 112.5px,#ff0521 113.5px,#ff7000 114.5px,#f9e700 115.5px,#e6fe01 116.5px,#e4ff1d 117.5px,#eeff3b 118.5px,#fffb5c 120.5px,#ffe46f 123.5px,#ffc46d 129.5px,#ffad57 138.5px,#ffaa38 150.5px,#ffc11a 162.5px,#ffd60b 171.5px,#ffd000 177.5px,#ffd500 181.5px,#ffe700 183.5px,#fff500 184.5px,#f6ff00 185.5px,#a3ff00 189.5px,#8bff00 191.5px,#83ff00 194.5px,#9bff00 199.5px,#deff00 210.5px,#f7ff00 218.5px,#faff00 227.5px,#e2ff00 236.5px,#b1ff00 245.5px,#5f0 256.5px,#04ff00 265.5px,#00ff1c 269.5px,#00ff62 280.5px,#00ff76 284.5px)"></i><i style="background:linear-gradient(90deg,#ffaa97 0.5px,#ffba9c 10.5px,#ffbca4 15.5px,#ffa3a6 20.5px,#ff97b7 23.5px,#ff83c0 25.5px,#ff71c3 26.5px,#ff57c0 27.5px,#ff2eae 28.5px,#ff0478 29.5px,#ff0c18 30.5px,#ff7400 31.5px,#ffb80c 32.5px,#ffd334 33.5px,#ffd951 34.5px,#ffd371 36.5px,#ffc18b 40.5px,#ffae94 46.5px,#ff9282 60.5px,#ff796c 75.5px,#ff5e57 81.5px,#ff3938 85.5px,#ff1916 87.5px,#ff0e02 88.5px,#ff1f00 89.5px,#ff4800 90.5px,#ff9800 91.5px,#ebf600 92.5px,#9dff00 93.5px,#73ff01 94.5px,#79ff1f 95.5px,#91ff43 96.5px,#bfff6f 98.5px,#f7ff8f 101.5px,#fff795 102.5px,#ffc499 105.5px,#ff9891 107.5px,#ff77a0 109.5px,#ff5faa 110.5px,#ff36b5 111.5px,#fe04c5 112.5px,#ee00c2 113.5px,#aa933e 114.5px,#82ff00 115.5px,#91ff00 116.5px,#b3ff1a 117.5px,#d2ff3d 118.5px,#e8ff52 119.5px,#f8ff60 120.5px,#ffef70 122.5px,#ffd275 126.5px,#ffb163 134.5px,#ffa444 145.5px,#ffb023 157.5px,#ffd50b 170.5px,#ffd000 175.5px,#ffc500 180.5px,#ffce00 182.5px,#ffe900 184.5px,#fbfc00 185.5px,#af0 188.5px,#83ff00 190.5px,#74ff00 192.5px,#79ff00 195.5px,#dcff00 209.5px,#fbff00 217.5px,#fdff00 229.5px,#e0ff00 238.5px,#a7ff00 247.5px,#03ff00 265.5px,#0f5 277.5px,#00ff7a 284.5px)"></i><i style="background:linear-gradient(90deg,#ffa897 0.5px,#ffb999 9.5px,#ffc1a3 14.5px,#ffb2a6 18.5px,#ffa4a7 20.5px,#ff98bf 23.5px,#ff84d3 25.5px,#ff71de 26.5px,#fe52ec 27.5px,#f51cf2 28.5px,#e900e8 29.5px,#f12b6d 30.5px,#e2df00 31.5px,#e4f900 32.5px,#fdf64a 34.5px,#ffea60 35.5px,#ffd677 37.5px,#ffb88f 42.5px,#ffa794 48.5px,#ff8e80 62.5px,#ff776d 75.5px,#ff5457 82.5px,#ff3848 85.5px,#ff132f 87.5px,#ff0020 88.5px,#ff001c 89.5px,#ff0b11 90.5px,#ff5702 91.5px,#aafd00 92.5px,#30ff03 93.5px,#1bff05 94.5px,#30ff18 95.5px,#62ff41 96.5px,#88ff5d 97.5px,#c2ff80 99.5px,#edff94 101.5px,#fdfc9a 102.5px,#ffc7a0 105.5px,#ff9a9d 107.5px,#ff82bd 109.5px,#ff6cd5 110.5px,#f847f4 111.5px,#ba0fff 112.5px,#4008ff 113.5px,#00c2e4 114.5px,#04ff34 115.5px,#38ff03 116.5px,#88ff27 117.5px,#baff45 118.5px,#daff59 119.5px,#f0ff66 120.5px,#fefd6f 121.5px,#ffdf7a 124.5px,#ffb86d 131.5px,#ffa351 140.5px,#ffa42e 152.5px,#ffbc13 162.5px,#ffd609 170.5px,#ffd104 174.5px,#ffb700 180.5px,#ffba00 182.5px,#ffc400 183.5px,#ffd600 184.5px,#fff200 185.5px,#e6ff00 186.5px,#98ff00 188.5px,#7cff00 189.5px,#6aff00 190.5px,#5eff00 192.5px,#6aff00 195.5px,#cbff00 206.5px,#f3ff00 213.5px,#fffb00 218.5px,#fff600 226.5px,#fbff00 233.5px,#d6ff00 241.5px,#92ff00 250.5px,#01ff01 265.5px,#00ff53 276.5px,#00ff7e 284.5px)"></i><i style="background:linear-gradient(90deg,#ffa796 0.5px,#ffb394 7.5px,#ffc6a0 13.5px,#ffbca6 17.5px,#ffa5a8 20.5px,#ff9bc8 23.5px,#ff88e6 25.5px,#fc77f9 26.5px,#e15aff 27.5px,#a427ff 28.5px,#4105ff 29.5px,#049be7 30.5px,#1dff1b 31.5px,#75ff03 32.5px,#bcff2b 33.5px,#e6ff4c 34.5px,#fcfc60 35.5px,#ffde76 37.5px,#ffbb8a 41.5px,#ffa795 47.5px,#ff8f82 60.5px,#ff786f 74.5px,#ff5060 83.5px,#ff3d5d 85.5px,#ff1954 87.5px,#ff0253 88.5px,#f06 89.5px,#ff0083 90.5px,#eb00ae 91.5px,#13beaf 92.5px,#0f8 93.5px,#00ff5e 94.5px,#1aff50 95.5px,#6aff64 97.5px,#b1ff85 99.5px,#f8ffa1 102.5px,#fff3a5 103.5px,#ffb5a7 106.5px,#ffa3ad 107.5px,#ff90d8 109.5px,#fc7ff5 110.5px,#d464ff 111.5px,#7c3dff 112.5px,#1545ff 113.5px,#06d7f6 114.5px,#09ff80 115.5px,#28ff2f 116.5px,#75ff3e 117.5px,#adff53 118.5px,#d1ff62 119.5px,#eaff6c 120.5px,#fcfe74 121.5px,#ffd67e 125.5px,#ffb16b 132.5px,#ff9e4e 141.5px,#ffa129 153.5px,#ffb90f 162.5px,#ffd707 170.5px,#ffd206 174.5px,#ffad00 179.5px,#ffa100 181.5px,#ffa100 182.5px,#ffa700 183.5px,#ffb900 184.5px,#ffdb00 185.5px,#edfe00 186.5px,#b2ff00 187.5px,#7dff00 188.5px,#5bff00 189.5px,#49ff00 190.5px,#43ff00 191.5px,#49ff00 193.5px,#89ff02 199.5px,#bdff04 204.5px,#efff00 211.5px,#fffd00 215.5px,#fe0 223.5px,#fff900 232.5px,#f7ff00 236.5px,#c9ff00 244.5px,#79ff00 253.5px,#00ff02 265.5px,#00ff51 275.5px,#00ff82 284.5px)"></i><i style="background:linear-gradient(90deg,#ffa595 0.5px,#ffb392 7.5px,#ffcb9e 13.5px,#ffc7a4 16.5px,#ffa8a9 20.5px,#ffa1d0 23.5px,#ff92f6 25.5px,#eb84ff 26.5px,#c06fff 27.5px,#754dff 28.5px,#1f54ff 29.5px,#07d9f3 30.5px,#09ff67 31.5px,#3fff23 32.5px,#99ff42 33.5px,#ceff59 34.5px,#efff68 35.5px,#fff772 36.5px,#ffcb82 39.5px,#ffae8d 43.5px,#ff9f94 49.5px,#ff7770 74.5px,#ff636a 80.5px,#ff4e6f 84.5px,#ff3875 86.5px,#ff267a 87.5px,#ff0b85 88.5px,#ff00a8 89.5px,#f900e5 90.5px,#9200ff 91.5px,#0340ff 92.5px,#00d4fa 93.5px,#03fece 94.5px,#29ffa4 95.5px,#4fff92 96.5px,#82ff83 98.5px,#c1ff9a 100.5px,#f1ffaa 102.5px,#fff9af 103.5px,#ffbcb3 106.5px,#ffb0be 107.5px,#ffa2ec 109.5px,#f095ff 110.5px,#c084ff 111.5px,#7b72ff 112.5px,#559cff 113.5px,#45edf8 114.5px,#44ffab 115.5px,#4dff65 116.5px,#7aff59 117.5px,#acff64 118.5px,#cfff6d 119.5px,#e9ff74 120.5px,#fcfe7a 121.5px,#ffd482 125.5px,#ffad6c 132.5px,#ff9a4d 141.5px,#ff9c27 153.5px,#ffb10d 161.5px,#ffd403 168.5px,#ffdb08 172.5px,#ffcc07 175.5px,#ff9f00 179.5px,#ff8100 182.5px,#ff8000 183.5px,#ff8c00 184.5px,#ffb000 185.5px,#f4f100 186.5px,#9bff00 187.5px,#4eff00 188.5px,#2aff00 189.5px,#1dff00 190.5px,#25ff00 192.5px,#67ff01 197.5px,#a0ff0b 201.5px,#d8ff01 207.5px,#fefe00 213.5px,#ffe900 221.5px,#ffeb00 229.5px,#fefe00 236.5px,#d7ff00 243.5px,#91ff00 251.5px,#05ff00 264.5px,#00ff0e 266.5px,#0f5 275.5px,#00ff86 284.5px)"></i><i style="background:linear-gradient(90deg,#ffa394 0.5px,#ffad8e 6.5px,#ffd19b 13.5px,#ffcea3 16.5px,#ffafab 20.5px,#ffacc6 22.5px,#faa4fd 25.5px,#e09cff 26.5px,#b890ff 27.5px,#8486ff 28.5px,#68afff 29.5px,#57f3f5 30.5px,#55ffa7 31.5px,#64ff69 32.5px,#9aff6a 33.5px,#c7ff73 34.5px,#e7ff79 35.5px,#fdfc7c 36.5px,#ffcc83 39.5px,#ffaf89 42.5px,#ff9f94 47.5px,#ff7672 74.5px,#ff6870 79.5px,#ff557d 84.5px,#ff448c 86.5px,#ff379a 87.5px,#ff23af 88.5px,#ff0bd6 89.5px,#e001fe 90.5px,#7800ff 91.5px,#0d14ff 92.5px,#027dff 93.5px,#1bd9fe 94.5px,#41fee8 95.5px,#5fffc7 96.5px,#8affa3 98.5px,#9cff9c 99.5px,#d7ffb4 101.5px,#fdfdc7 103.5px,#ffd5d0 106.5px,#ffcce9 108.5px,#fec7fa 109.5px,#ecbeff 110.5px,#c9b2ff 111.5px,#a3aeff 112.5px,#8ecfff 113.5px,#7dfaf5 114.5px,#73ffbd 115.5px,#71ff85 116.5px,#8cff73 117.5px,#b4ff76 118.5px,#edff7d 120.5px,#fefc80 121.5px,#ffd886 124.5px,#ffb67a 129.5px,#ff9d5e 136.5px,#ff9335 148.5px,#ffa213 158.5px,#ffc400 165.5px,#ffdf03 170.5px,#ffdd0a 173.5px,#ffc308 176.5px,#ff9100 179.5px,#ff4c00 183.5px,#ff4700 184.5px,#ff5900 185.5px,#fcbb00 186.5px,#5cff02 187.5px,#0aff16 188.5px,#00ff1f 189.5px,#00ff1b 190.5px,#06ff04 192.5px,#4cff02 196.5px,#85ff10 199.5px,#c2ff0e 204.5px,#f3ff00 210.5px,#fff900 213.5px,#ffe300 220.5px,#ffe100 228.5px,#fff700 236.5px,#f8ff00 239.5px,#c7ff00 246.5px,#69ff00 255.5px,#03ff00 264.5px,#00ff53 274.5px,#00ff8a 284.5px)"></i><i style="background:linear-gradient(90deg,#ffa193 0.5px,#ffa98b 6.5px,#ffce8f 11.5px,#ffdc9a 14.5px,#ffd3a6 17.5px,#ffbab1 20.5px,#ffb9bf 21.5px,#ffd1ea 23.5px,#ffdbf8 24.5px,#f3e3ff 26.5px,#e1e6ff 28.5px,#dbfefc 30.5px,#daffdd 32.5px,#f5ffce 35.5px,#fdfec2 36.5px,#ffe19d 38.5px,#ffce8e 39.5px,#ffb388 41.5px,#ff9e8c 44.5px,#ff9592 50.5px,#ff7d76 71.5px,#ff6d73 78.5px,#ff6183 83.5px,#ff529f 86.5px,#ff49b0 87.5px,#ff3dc8 88.5px,#ff2eee 89.5px,#d61eff 90.5px,#8613ff 91.5px,#3317ff 92.5px,#275bff 93.5px,#40acff 94.5px,#5be5ff 95.5px,#72fef0 96.5px,#88ffd7 97.5px,#a1ffc9 98.5px,#c0ffcb 99.5px,#ddffda 100.5px,#f1ffea 101.5px,#fefff8 103.5px,#fcf9ff 110.5px,#e7f8ff 113.5px,#d5fff9 114.5px,#baffd9 115.5px,#9effa7 116.5px,#a6ff8c 117.5px,#f4ff86 120.5px,#fff787 121.5px,#ffd28a 124.5px,#ffb17c 129.5px,#ff985d 136.5px,#ff8e34 148.5px,#ff9a13 157.5px,#ffb400 163.5px,#ffe600 170.5px,#ffe40b 173.5px,#ffd30f 175.5px,#ffb309 177.5px,#ff8300 179.5px,#ff1302 183.5px,#ff0515 184.5px,#ff0038 185.5px,#f21180 186.5px,#03ceb6 187.5px,#00ffa0 188.5px,#00ff5a 190.5px,#01ff09 193.5px,#1f0 194.5px,#29ff02 195.5px,#5eff12 197.5px,#95ff1a 200.5px,#d0ff11 205.5px,#f9ff00 210.5px,#fff300 213.5px,#ffdb00 220.5px,#ffd900 228.5px,#ffef00 236.5px,#faff00 240.5px,#c4ff00 247.5px,#5fff00 256.5px,#01ff01 264.5px,#00ff50 273.5px,#00ff8a 283.5px,#00ff8f 284.5px)"></i><i style="background:linear-gradient(90deg,#ff9e93 0.5px,#ffa486 6.5px,#ffbb83 9.5px,#ffe690 13.5px,#ffe5a1 16.5px,#ffd3b8 19.5px,#ffd9d0 20.5px,#ffe8e9 21.5px,#fff6f9 22.5px,#fff 25.5px,#fffffe 36.5px,#fffef9 37.5px,#fff9ed 38.5px,#ffead2 39.5px,#ffceab 40.5px,#ffb28f 41.5px,#ff9c89 43.5px,#ff918e 46.5px,#ff9293 50.5px,#ff837c 66.5px,#ff7176 77.5px,#ff6a86 82.5px,#ff639e 85.5px,#ff5abd 87.5px,#ff54d5 88.5px,#fe4cf4 89.5px,#de44ff 90.5px,#a940ff 91.5px,#7242ff 92.5px,#5159ff 93.5px,#5f94ff 94.5px,#72c7ff 95.5px,#8beeff 96.5px,#b7fff7 97.5px,#e3fff5 98.5px,#f8fffb 99.5px,#fff 101.5px,#fff 114.5px,#fafffc 115.5px,#ebffeb 116.5px,#d9ffc7 117.5px,#d7ffa2 118.5px,#e9ff93 119.5px,#fcfd8f 120.5px,#ffd48c 123.5px,#ffb083 128.5px,#ff9561 135.5px,#ff8936 147.5px,#ff940f 157.5px,#fa0 162.5px,#ffef00 170.5px,#fff306 172.5px,#ffe710 174.5px,#ffca11 176.5px,#ff9906 178.5px,#ff5700 180.5px,#ff0c03 182.5px,#ff0027 183.5px,#ff0063 184.5px,#ff00ba 185.5px,#a600fd 186.5px,#0442ff 187.5px,#00d6fc 188.5px,#00ffcf 189.5px,#00ff97 190.5px,#0f4 192.5px,#03ff06 194.5px,#5eff1c 197.5px,#97ff23 200.5px,#d5ff17 205.5px,#fefd00 210.5px,#ffda00 217.5px,#ffce00 225.5px,#ffdb00 233.5px,#fcff00 241.5px,#c1ff00 248.5px,#54ff00 257.5px,#08ff00 263.5px,#00ff03 264.5px,#00ff4e 272.5px,#00ff85 281.5px,#00ff93 284.5px)"></i><i style="background:linear-gradient(90deg,#ff9c92 0.5px,#ff9d81 6.5px,#ffaa7a 8.5px,#ffdc7a 11.5px,#fff788 13.5px,#fefa99 15.5px,#ffefab 17.5px,#ffeabd 18.5px,#fff0e1 19.5px,#fffbf9 20.5px,#fff 22.5px,#fffefe 39.5px,#fff5f0 40.5px,#ffd2c3 41.5px,#ffa695 42.5px,#ff958a 43.5px,#ff8a8b 45.5px,#ff9097 49.5px,#ff8782 59.5px,#ff7675 74.5px,#ff7182 80.5px,#ff6e9b 84.5px,#ff69c4 87.5px,#ff62f3 89.5px,#eb5eff 90.5px,#9e60ff 92.5px,#7d69ff 93.5px,#78f 94.5px,#8fb9ff 95.5px,#c8ebff 96.5px,#f5feff 97.5px,#fff 98.5px,#fff 116.5px,#fcfffa 117.5px,#f5ffde 118.5px,#f8ffae 119.5px,#fff599 120.5px,#ffcb8f 123.5px,#ffa984 128.5px,#ff8f61 135.5px,#ff8430 148.5px,#ff8e0c 157.5px,#ff9f00 161.5px,#ffce00 166.5px,#fffa00 170.5px,#fbfe03 172.5px,#fff510 174.5px,#ffd314 176.5px,#ff9a0c 178.5px,#ff4800 180.5px,#ff1b00 181.5px,#ff0019 182.5px,#ff0056 183.5px,#ff00a0 184.5px,#f000f1 185.5px,#7e00ff 186.5px,#0a1dff 187.5px,#0092ff 188.5px,#00ebfb 189.5px,#00ffc8 190.5px,#00ff90 191.5px,#00ff39 193.5px,#06ff1b 194.5px,#1fff15 195.5px,#5fff26 197.5px,#9cff2d 200.5px,#daff1d 205.5px,#fefe08 209.5px,#ffe900 212.5px,#fc0 219.5px,#ffc600 227.5px,#ffd900 235.5px,#fefe00 242.5px,#c9ff00 248.5px,#63ff00 256.5px,#05ff00 263.5px,#00ff1d 266.5px,#00ff5b 273.5px,#00ff8f 282.5px,#00ff98 284.5px)"></i><i style="background:linear-gradient(90deg,#ff9992 0.5px,#ff937c 6.5px,#ff9e6e 8.5px,#ffae67 9.5px,#ffe766 11.5px,#fafc6f 12.5px,#edff7c 13.5px,#e9ff8a 14.5px,#f5ffa4 16.5px,#fcfdb8 17.5px,#fffce4 18.5px,#fffefd 19.5px,#fff 40.5px,#fff9f8 41.5px,#ffcdc9 42.5px,#ff9493 43.5px,#ff898e 44.5px,#ff8e9a 49.5px,#ff8582 58.5px,#ff7877 73.5px,#ff7481 79.5px,#ff7597 83.5px,#ff76b7 86.5px,#ff73ed 89.5px,#f771fe 90.5px,#bf76ff 92.5px,#a67eff 93.5px,#9990ff 94.5px,#cad2ff 95.5px,#f9fbff 96.5px,#fff 98.5px,#fffffd 118.5px,#fffde2 119.5px,#ffebad 120.5px,#ffd99b 121.5px,#ffb690 124.5px,#ff9c7f 129.5px,#ff875b 136.5px,#ff7f22 151.5px,#ff8903 158.5px,#ffab00 163.5px,#fd0 167.5px,#fefb00 169.5px,#eaff00 171.5px,#e7ff00 172.5px,#f6ff0e 174.5px,#fef614 175.5px,#ffc316 177.5px,#ffa013 178.5px,#ff740b 179.5px,#ff4002 180.5px,#ff0c03 181.5px,#f03 182.5px,#f07 183.5px,#ff00c6 184.5px,#da00fe 185.5px,#6e00ff 186.5px,#0b0fff 187.5px,#006dff 188.5px,#00c8ff 189.5px,#00fdea 190.5px,#00ffae 191.5px,#00ff79 192.5px,#02ff4d 193.5px,#10ff31 194.5px,#21ff21 195.5px,#62ff2f 197.5px,#90ff36 199.5px,#caff2e 203.5px,#fdfe12 208.5px,#ffe700 211.5px,#ffc900 217.5px,#ffbc00 225.5px,#ffc800 233.5px,#ffe800 240.5px,#fefd00 243.5px,#d1ff00 248.5px,#74ff00 255.5px,#02ff01 263.5px,#00ff52 271.5px,#00ff86 279.5px,#00ff9d 284.5px)"></i><i style="background:linear-gradient(90deg,#ff9692 0.5px,#ff887f 5.5px,#ff846d 7.5px,#ff8860 8.5px,#ff974f 9.5px,#ffbf40 10.5px,#f9f541 11.5px,#d4ff55 12.5px,#c3ff6e 13.5px,#c6ff84 14.5px,#e0ffaa 16.5px,#f6ffda 17.5px,#fffffd 18.5px,#fff 41.5px,#fff6f6 42.5px,#ffb9bf 43.5px,#ff8a9c 44.5px,#ff869f 47.5px,#ff8a98 51.5px,#ff8382 58.5px,#ff777a 75.5px,#ff788d 81.5px,#ff7ead 85.5px,#ff80d4 88.5px,#fe7ff8 90.5px,#f081ff 91.5px,#c68fff 93.5px,#cfbcff 94.5px,#f7f6ff 95.5px,#fff 96.5px,#fffefd 119.5px,#ffefd7 120.5px,#ffcea5 121.5px,#ffb194 123.5px,#ff9a89 127.5px,#ff825e 135.5px,#ff791c 152.5px,#ff8200 158.5px,#ffa600 163.5px,#fc0 166.5px,#fff400 168.5px,#f4ff00 169.5px,#d1ff00 171.5px,#caff00 172.5px,#cdff01 173.5px,#dbff0b 174.5px,#f0ff14 175.5px,#fef21a 176.5px,#ffac1d 178.5px,#ff7e19 179.5px,#ff0f11 181.5px,#ff0245 182.5px,#ff008d 183.5px,#ff00de 184.5px,#c600ff 185.5px,#60f 186.5px,#0d0aff 187.5px,#005bff 188.5px,#00b0ff 189.5px,#00f4f9 190.5px,#00ffc3 191.5px,#01ff8b 192.5px,#0cff61 193.5px,#1aff42 194.5px,#27ff2c 195.5px,#67ff37 197.5px,#96ff3e 199.5px,#c5ff3a 202.5px,#fcff1e 207.5px,#ffdf02 211.5px,#ffbf00 217.5px,#ffb300 225.5px,#ffbe00 233.5px,#ffde00 240.5px,#fffb00 244.5px,#e5ff00 247.5px,#95ff00 253.5px,#0bff00 262.5px,#01ff03 263.5px,#00ff46 269.5px,#00ff7b 276.5px,#00ffa2 284.5px)"></i><i style="background:linear-gradient(90deg,#ff9492 0.5px,#ff7f7e 5.5px,#ff6d66 7.5px,#ff6350 8.5px,#ff622c 9.5px,#ff9c0a 10.5px,#d0fd08 11.5px,#7bff2a 12.5px,#80ff5d 13.5px,#98ff80 14.5px,#b1ff99 15.5px,#d5ffc0 16.5px,#fafff6 17.5px,#fff 18.5px,#fff 42.5px,#ffe7ec 43.5px,#ff9ab5 44.5px,#ff84a9 45.5px,#ff85a2 49.5px,#ff8182 57.5px,#ff797b 75.5px,#ff7c8e 81.5px,#ff87b7 86.5px,#ff8aeb 90.5px,#fd8dfb 91.5px,#f093ff 92.5px,#e3a7ff 93.5px,#f4e8ff 94.5px,#fff 95.5px,#fff 119.5px,#fffaf7 120.5px,#ffcfbe 121.5px,#ffae9d 122.5px,#ff9890 124.5px,#ff8477 130.5px,#ff7749 140.5px,#ff740b 155.5px,#ff7c00 158.5px,#ff9f00 163.5px,#ffc800 166.5px,#fef800 168.5px,#e5ff00 169.5px,#c7ff00 170.5px,#afff00 171.5px,#a4ff00 172.5px,#a6ff00 173.5px,#b7ff07 174.5px,#f3fe21 176.5px,#ffe628 177.5px,#ff902e 179.5px,#ff5d2d 180.5px,#ff3339 181.5px,#ff36b0 183.5px,#fc36ee 184.5px,#c833ff 185.5px,#2d29ff 187.5px,#125fff 188.5px,#06a6ff 189.5px,#03ebfd 190.5px,#07ffd1 191.5px,#10ff9c 192.5px,#1aff71 193.5px,#24ff4f 194.5px,#2fff36 195.5px,#6dff3d 197.5px,#9dff45 199.5px,#cdff42 202.5px,#faff2b 206.5px,#ffe715 209.5px,#ffce00 212.5px,#ffb000 219.5px,#ffa900 227.5px,#ffba00 235.5px,#ffe100 242.5px,#fffa00 245.5px,#ef0 247.5px,#abff00 252.5px,#07ff00 262.5px,#00ff15 264.5px,#00ff56 270.5px,#00ff87 277.5px,#00ffa7 284.5px)"></i><i style="background:linear-gradient(90deg,#ff9393 0.5px,#ff858b 4.5px,#ff7480 6.5px,#ff6474 7.5px,#ff485b 8.5px,#ff182a 9.5px,#ff3313 10.5px,#72f120 11.5px,#0fff4e 12.5px,#54ff85 13.5px,#81ff9e 14.5px,#a1ffad 15.5px,#dfffe0 16.5px,#fff 17.5px,#fffcfd 43.5px,#ffbcd8 44.5px,#ff84b9 45.5px,#ff7bb1 47.5px,#ff818a 54.5px,#ff817f 60.5px,#ff7a7d 75.5px,#ff7f8f 81.5px,#ff8fbd 87.5px,#ff96ec 91.5px,#fe9dfa 92.5px,#f9c8ff 93.5px,#fefcff 94.5px,#fff 120.5px,#ffe0df 121.5px,#ffa4a7 122.5px,#ff969e 123.5px,#ff7f83 128.5px,#ff745f 134.5px,#ff6c0d 154.5px,#ff7100 157.5px,#ff9600 163.5px,#ffad00 165.5px,#ffbe00 166.5px,#ffd700 167.5px,#fcf700 168.5px,#d6ff00 169.5px,#a6ff00 170.5px,#81ff00 171.5px,#6fff00 172.5px,#72ff00 173.5px,#88ff07 174.5px,#d7ff2d 176.5px,#faf83a 177.5px,#ffd54a 178.5px,#ffba6e 179.5px,#ffb69c 180.5px,#ffc4c5 181.5px,#ffdae6 182.5px,#ffe6f6 183.5px,#f9ebff 185.5px,#efe7ff 186.5px,#c8daff 188.5px,#a2ddff 189.5px,#6df2ff 190.5px,#3effdf 191.5px,#2affaa 192.5px,#2cff7e 193.5px,#31ff5a 194.5px,#39ff3e 195.5px,#75ff43 197.5px,#a6ff4c 199.5px,#d6ff4a 202.5px,#f8ff38 205.5px,#fff129 207.5px,#ffc301 212.5px,#ffa800 218.5px,#ff9e00 226.5px,#ffac00 234.5px,#ffce00 241.5px,#fffa00 246.5px,#edff00 248.5px,#a1ff00 253.5px,#12ff00 261.5px,#03ff01 262.5px,#00ff4b 268.5px,#00ff7c 274.5px,#00ffa9 283.5px,#00ffad 284.5px)"></i><i style="background:linear-gradient(90deg,#ff9397 0.5px,#ff8093 5.5px,#ff698f 7.5px,#ff4f8c 8.5px,#ff1d8f 9.5px,#ee00d5 10.5px,#1b47ff 11.5px,#17dbf3 12.5px,#5efce4 13.5px,#89ffda 14.5px,#b1ffdb 15.5px,#f3fff8 16.5px,#fff 17.5px,#fff 43.5px,#ffdff1 44.5px,#ff89d0 45.5px,#ff78c7 46.5px,#ff72b3 48.5px,#ff7d91 52.5px,#ff7f7f 58.5px,#ff7b7d 75.5px,#ff818e 81.5px,#ff95be 88.5px,#ff9ddd 91.5px,#ffa9eb 92.5px,#ffe6fc 93.5px,#fff 94.5px,#fff 120.5px,#fff4f7 121.5px,#ffb1c6 122.5px,#ff95b4 123.5px,#ff829d 126.5px,#ff6c65 132.5px,#ff640f 153.5px,#f60 156.5px,#ff8c00 163.5px,#ff9e00 165.5px,#ffad00 166.5px,#ffc500 167.5px,#feee00 168.5px,#cbff00 169.5px,#78ff00 170.5px,#3dff00 171.5px,#26ff00 172.5px,#2dff00 173.5px,#51ff0d 174.5px,#bcff45 176.5px,#eeff78 177.5px,#fff7c0 178.5px,#fff8ee 179.5px,#fffefd 180.5px,#fff 189.5px,#f7ffff 190.5px,#d8fff8 191.5px,#94ffd2 192.5px,#54ff94 193.5px,#41ff64 194.5px,#46ff47 195.5px,#99ff4e 198.5px,#d1ff53 201.5px,#f7ff46 204.5px,#fefc3f 205.5px,#ffb904 212.5px,#ff9d00 218.5px,#ff9400 226.5px,#ffa000 234.5px,#ffc200 241.5px,#fe0 246.5px,#f8ff00 248.5px,#a8ff00 253.5px,#0dff00 261.5px,#01ff04 262.5px,#00ff48 267.5px,#00ff7d 273.5px,#00ffab 282.5px,#00ffb2 284.5px)"></i><i style="background:linear-gradient(90deg,#ff959a 0.5px,#ff85a0 5.5px,#ff73a9 7.5px,#ff63b6 8.5px,#ff48d5 9.5px,#d528fe 10.5px,#5529ff 11.5px,#4d85ff 12.5px,#77cfff 13.5px,#97f1fe 14.5px,#c8fdfb 15.5px,#fcfffe 16.5px,#fff 43.5px,#fff3fc 44.5px,#ff96ea 45.5px,#ff70de 46.5px,#ff66cf 47.5px,#ff67aa 49.5px,#ff7392 51.5px,#ff7c82 55.5px,#ff7c7b 71.5px,#ff7f85 79.5px,#ff91a2 85.5px,#ff9dc3 90.5px,#ffa2ce 91.5px,#ffb9e0 92.5px,#fff6fc 93.5px,#fff 94.5px,#fffdfe 121.5px,#ff93cc 123.5px,#ff7eb6 125.5px,#ff6262 132.5px,#ff6231 145.5px,#ff5c01 155.5px,#ff8b00 165.5px,#ffa300 167.5px,#ffc600 168.5px,#d3fb00 169.5px,#33ff06 170.5px,#01ff32 171.5px,#00ff3f 172.5px,#00ff2a 173.5px,#25ff27 174.5px,#6eff4a 175.5px,#caffa0 176.5px,#f9ffea 177.5px,#fffffe 178.5px,#fff 191.5px,#f9fffc 192.5px,#cfd 193.5px,#78ff8b 194.5px,#5aff53 195.5px,#a5ff53 198.5px,#dcff58 201.5px,#fefc4d 204.5px,#ffa600 213.5px,#ff8d00 220.5px,#ff8b00 229.5px,#ffa000 237.5px,#ffc400 243.5px,#fff900 248.5px,#e6ff00 250.5px,#85ff00 255.5px,#07ff00 261.5px,#00ff0b 262.5px,#00ff45 266.5px,#0f7 271.5px,#00ffa6 279.5px,#00ffb8 284.5px)"></i><i style="background:linear-gradient(90deg,#ff979d 0.5px,#ff8baa 5.5px,#ff81bc 7.5px,#ff78cd 8.5px,#ff6eeb 9.5px,#e266ff 10.5px,#a969ff 11.5px,#857dff 12.5px,#8fa9ff 13.5px,#a6cfff 14.5px,#dcf2ff 15.5px,#fff 16.5px,#fffcff 44.5px,#f9a7fe 45.5px,#f965fa 46.5px,#ff53ea 47.5px,#ff4cc7 48.5px,#ff51a6 49.5px,#ff5d92 50.5px,#ff7084 52.5px,#ff7d7e 57.5px,#ff7d7f 76.5px,#ff8a92 83.5px,#ffa0b5 90.5px,#ffa6be 91.5px,#ffcadc 92.5px,#fffdfe 93.5px,#fff 121.5px,#ffd8f8 122.5px,#ff8fe8 123.5px,#ff7edb 124.5px,#ff6eb8 126.5px,#ff6379 130.5px,#ff5959 133.5px,#ff5e3a 142.5px,#ff540a 153.5px,#ff5800 156.5px,#f70 164.5px,#ff6f00 167.5px,#ff6a00 168.5px,#f87e0b 169.5px,#0ac8a6 170.5px,#00f0d6 171.5px,#00fec2 172.5px,#07ff96 173.5px,#41ff82 174.5px,#afffb5 175.5px,#f8fff6 176.5px,#fff 177.5px,#fefffe 193.5px,#e0ffe2 194.5px,#95ff88 195.5px,#87ff5d 196.5px,#d8ff5d 200.5px,#fefd58 203.5px,#ffbf27 209.5px,#ff9901 213.5px,#ff8200 220.5px,#ff7f00 229.5px,#ff9300 237.5px,#ffb600 243.5px,#ffdf00 247.5px,#fefa00 249.5px,#e1ff00 251.5px,#8aff00 255.5px,#15ff00 260.5px,#03ff02 261.5px,#00ff4f 266.5px,#00ff80 271.5px,#00ffad 279.5px,#00ffbe 284.5px)"></i><i style="background:linear-gradient(90deg,#ff98a0 0.5px,#ff92b3 5.5px,#ff8dc7 7.5px,#f8e 9.5px,#f287ff 10.5px,#b993ff 12.5px,#ada2ff 13.5px,#b5bbff 14.5px,#eaefff 15.5px,#fff 16.5px,#fff 44.5px,#e5b9ff 45.5px,#c856ff 46.5px,#e231fe 47.5px,#ff1fd6 48.5px,#ff2d96 49.5px,#ff477b 50.5px,#ff5c76 51.5px,#ff7179 53.5px,#ff7e7d 59.5px,#ff7e80 77.5px,#ff8f90 84.5px,#ffa2a5 90.5px,#ffa9ae 91.5px,#ffd9dd 92.5px,#fff 93.5px,#fff 121.5px,#fbe6ff 122.5px,#f48bfe 123.5px,#fb70f8 124.5px,#ff61e3 125.5px,#ff5bad 127.5px,#ff5a78 130.5px,#ff5356 133.5px,#ff5939 142.5px,#ff4b07 153.5px,#ff5100 156.5px,#ff6b00 163.5px,#ff6500 165.5px,#ff5800 166.5px,#ff3e00 167.5px,#ff1109 168.5px,#ff0084 169.5px,#6506ff 170.5px,#034fff 171.5px,#0af 172.5px,#28eef4 173.5px,#a0ffe5 174.5px,#f7fffa 175.5px,#fff 176.5px,#fff 194.5px,#e6ffe0 195.5px,#afff84 196.5px,#b0ff64 197.5px,#f4ff62 201.5px,#fefd61 202.5px,#ffde51 205.5px,#ff8d03 213.5px,#ff7600 220.5px,#ff7300 229.5px,#ff8600 237.5px,#ffa800 243.5px,#ffd000 247.5px,#fdfb00 250.5px,#d9ff00 252.5px,#0eff00 260.5px,#00ff09 261.5px,#00ff3f 264.5px,#00ff71 268.5px,#00ff9d 274.5px,#00ffc4 284.5px)"></i><i style="background:linear-gradient(90deg,#ff9aa3 0.5px,#ff98b8 5.5px,#ff98da 8.5px,#fd9afc 10.5px,#dba4ff 12.5px,#d0aeff 13.5px,#cfbeff 14.5px,#f4f2ff 15.5px,#fff 16.5px,#fff 44.5px,#d5c9ff 45.5px,#6f46ff 46.5px,#7607ff 47.5px,#ef00df 48.5px,#ff0562 49.5px,#ff2e4d 50.5px,#ff525c 51.5px,#ff6568 52.5px,#ff7575 54.5px,#ff7f7d 61.5px,#ff8081 79.5px,#ff928d 84.5px,#ffb0a1 90.5px,#ffb8ab 91.5px,#ffe8e4 92.5px,#fff 93.5px,#fff 121.5px,#f7efff 122.5px,#c986ff 123.5px,#d258ff 124.5px,#f443fb 125.5px,#ff3ed6 126.5px,#ff42ae 127.5px,#ff4993 128.5px,#ff5073 130.5px,#ff4d4d 134.5px,#ff543a 141.5px,#ff4610 151.5px,#ff4200 154.5px,#ff6300 163.5px,#ff5a00 165.5px,#ff4800 166.5px,#ff2400 167.5px,#ff001e 168.5px,#ff0090 169.5px,#d100fa 170.5px,#4c01ff 171.5px,#1a3aff 172.5px,#7abeff 173.5px,#eefdff 174.5px,#fff 175.5px,#fefffe 195.5px,#e3ffcd 196.5px,#c7ff77 197.5px,#d4ff69 198.5px,#f4ff66 200.5px,#fefc66 201.5px,#ffdd5d 204.5px,#ff941a 211.5px,#ff8005 213.5px,#ff7200 216.5px,#ff6500 225.5px,#ff6f00 234.5px,#ff8b00 241.5px,#ffb300 246.5px,#ffdc00 249.5px,#fbfd00 251.5px,#ceff00 253.5px,#1fff00 259.5px,#06ff01 260.5px,#00ff28 262.5px,#00ff5a 265.5px,#00ff86 269.5px,#00ffac 275.5px,#00ffca 284.5px)"></i><i style="background:linear-gradient(90deg,#ff9ca5 0.5px,#ff9ebb 5.5px,#ffa5e6 9.5px,#fcaafd 11.5px,#e9b6ff 13.5px,#e8c6ff 14.5px,#fbf7ff 15.5px,#fff 16.5px,#fff 44.5px,#d7e4ff 45.5px,#4592ff 46.5px,#0375ff 47.5px,#b04d85 48.5px,#ff250b 49.5px,#ff3a22 50.5px,#ff5e4f 51.5px,#ff6e64 52.5px,#ff7a75 54.5px,#ff7f7d 61.5px,#ff7f7f 78.5px,#ff9088 83.5px,#ffc29f 90.5px,#ffcdac 91.5px,#fff3eb 92.5px,#fff 93.5px,#fff 121.5px,#f5f5ff 122.5px,#8f7eff 123.5px,#7d30ff 124.5px,#c211ff 125.5px,#fe0fe1 126.5px,#ff1fa4 127.5px,#ff3286 128.5px,#ff456a 130.5px,#ff484a 134.5px,#ff4e35 142.5px,#ff3b00 154.5px,#ff5e00 163.5px,#ff5800 165.5px,#ff4800 166.5px,#ff2800 167.5px,#ff0213 168.5px,#ff0064 169.5px,#fd00cb 170.5px,#c613fe 171.5px,#9054ff 172.5px,#d2d4ff 173.5px,#fff 174.5px,#fff 195.5px,#fcfff7 196.5px,#e5ffa5 197.5px,#e6ff72 198.5px,#fefa6b 200.5px,#ffd161 204.5px,#ff9228 210.5px,#ff6b00 214.5px,#ff5a00 223.5px,#ff6000 233.5px,#ff7b00 241.5px,#ffa100 246.5px,#ffc900 249.5px,#ffef00 251.5px,#f6fe00 252.5px,#beff00 254.5px,#16ff00 259.5px,#01ff08 260.5px,#00ff4a 263.5px,#00ff75 266.5px,#00ffa1 271.5px,#00ffc4 279.5px,#00ffd1 284.5px)"></i><i style="background:linear-gradient(90deg,#ff9ea6 0.5px,#ffa3bd 5.5px,#feb5fa 12.5px,#fcbbfe 13.5px,#faccff 14.5px,#fef9ff 15.5px,#fff 17.5px,#fff 44.5px,#e3fbfe 45.5px,#63f9e9 46.5px,#0fff7f 47.5px,#83ff03 48.5px,#ffae06 49.5px,#ff8034 50.5px,#ff7e57 51.5px,#ff7f69 52.5px,#ff8077 54.5px,#ff7e7d 64.5px,#ff817f 79.5px,#ff9185 83.5px,#ffc08f 88.5px,#ffd69a 90.5px,#ffe2ab 91.5px,#fffaf0 92.5px,#fff 93.5px,#fff 121.5px,#f8fcff 122.5px,#6daaff 123.5px,#0f2eff 124.5px,#8300ff 125.5px,#fd00d5 126.5px,#ff0284 127.5px,#ff1969 128.5px,#ff2f62 129.5px,#ff4057 131.5px,#ff4742 136.5px,#ff462d 144.5px,#ff3101 153.5px,#ff4b00 160.5px,#ff6100 164.5px,#ff6100 165.5px,#ff5900 166.5px,#ff4300 167.5px,#ff1c01 168.5px,#ff0224 169.5px,#ff177e 170.5px,#fe49d8 171.5px,#ed99fd 172.5px,#faf6ff 173.5px,#fff 174.5px,#fff 196.5px,#f9ffd7 197.5px,#f9ff81 198.5px,#fff773 199.5px,#ffc465 204.5px,#ff9036 209.5px,#ff5d01 214.5px,#ff4d00 223.5px,#ff5400 234.5px,#ff6b00 241.5px,#ff8e00 246.5px,#ffb400 249.5px,#fff300 252.5px,#ef0 253.5px,#a6ff00 255.5px,#2eff00 258.5px,#0bff01 259.5px,#00ff16 260.5px,#00ff48 262.5px,#00ff79 265.5px,#00ffa0 269.5px,#00ffc3 276.5px,#00ffd7 284.5px)"></i><i style="background:linear-gradient(90deg,#ffa0a7 0.5px,#ffa7bd 5.5px,#ffbef2 13.5px,#ffcef6 14.5px,#fffafe 15.5px,#fff 18.5px,#fff 44.5px,#ecfff7 45.5px,#8bffae 46.5px,#6eff5b 47.5px,#bbff36 48.5px,#ffdf3e 49.5px,#ffac55 50.5px,#ff9867 51.5px,#ff8a77 53.5px,#ff7f7d 61.5px,#ff7f7d 78.5px,#ff9081 83.5px,#ffad83 86.5px,#ffdd89 89.5px,#ffed93 90.5px,#fef8a9 91.5px,#fffef2 92.5px,#fff 93.5px,#fff 121.5px,#fafffe 122.5px,#63f8e4 123.5px,#00dcd9 124.5px,#794eb4 125.5px,#ff006f 126.5px,#ff004b 127.5px,#ff0941 128.5px,#ff244b 129.5px,#ff334e 130.5px,#ff4048 133.5px,#ff4332 142.5px,#ff2e0b 151.5px,#ff2b00 154.5px,#ff4200 160.5px,#ff7200 165.5px,#f70 166.5px,#ff7100 167.5px,#ff5b00 168.5px,#ff4213 169.5px,#ff4a50 170.5px,#ff73a0 171.5px,#ffceed 172.5px,#fffeff 173.5px,#fff 196.5px,#fffff2 197.5px,#fff59a 198.5px,#ffe679 199.5px,#ffb768 204.5px,#ff8f44 208.5px,#ff4e01 214.5px,#ff4000 224.5px,#ff4800 235.5px,#ff5e00 242.5px,#ff8200 247.5px,#ffad00 250.5px,#ffdb00 252.5px,#fcf700 253.5px,#deff00 254.5px,#2f0 258.5px,#02ff09 259.5px,#00ff45 261.5px,#00ff6f 263.5px,#00ff96 266.5px,#00ffba 271.5px,#00ffd6 280.5px,#00ffde 284.5px)"></i><i style="background:linear-gradient(90deg,#ffa1a7 0.5px,#ffadc1 6.5px,#ffbce1 12.5px,#ffbfe4 13.5px,#ffcfea 14.5px,#fffbfd 15.5px,#fff 22.5px,#fff 44.5px,#f2fff3 45.5px,#b8ffa8 46.5px,#c5ff86 47.5px,#eefe72 48.5px,#ffde6d 49.5px,#ffbb71 50.5px,#ffa577 51.5px,#ff917d 53.5px,#ff817e 58.5px,#ff7f7d 78.5px,#ff8d7c 83.5px,#ff9e79 85.5px,#ffc074 87.5px,#fef47a 89.5px,#f3fe86 90.5px,#eaffa3 91.5px,#fcfff3 92.5px,#fff 93.5px,#fbfffc 122.5px,#75ff83 123.5px,#31ff0f 124.5px,#d5db00 125.5px,#ff3001 126.5px,#ff040c 127.5px,#ff071e 128.5px,#ff2036 129.5px,#ff2f41 130.5px,#ff3d43 133.5px,#ff4034 141.5px,#ff2a10 150.5px,#ff2100 153.5px,#f30 159.5px,#ff4c00 162.5px,#ff6f00 164.5px,#ffa000 166.5px,#ffaf00 167.5px,#ffb002 168.5px,#ffab2a 169.5px,#ffa65e 170.5px,#ffab95 171.5px,#ffebec 172.5px,#fff 173.5px,#fffffc 197.5px,#ffecb6 198.5px,#ffd47f 199.5px,#ffa164 205.5px,#ff4002 214.5px,#f30 224.5px,#ff3d00 237.5px,#f50 244.5px,#ff7500 248.5px,#ff9100 250.5px,#ffbd00 252.5px,#ffde00 253.5px,#f4fc00 254.5px,#c3ff00 255.5px,#49ff00 257.5px,#12ff01 258.5px,#00ff1e 259.5px,#00ff42 260.5px,#00ff75 262.5px,#00ffa0 265.5px,#00ffc3 270.5px,#00ffdf 280.5px,#00ffe4 284.5px)"></i><i style="background:linear-gradient(90deg,#ffa2a7 0.5px,#ffb3c4 7.5px,#ffbdd6 12.5px,#ffbfd8 13.5px,#ffcee0 14.5px,#fffbfc 15.5px,#fff 24.5px,#fff 44.5px,#f9fff5 45.5px,#e6ffba 46.5px,#f3fea0 47.5px,#ffef90 48.5px,#ffba85 50.5px,#ff9d84 52.5px,#ff8981 55.5px,#ff7e7d 63.5px,#ff827a 81.5px,#ff8d73 84.5px,#ffa466 86.5px,#ffbf5c 87.5px,#ffe957 88.5px,#e6ff5f 89.5px,#c7ff73 90.5px,#c6ff9b 91.5px,#f8fff4 92.5px,#fff 93.5px,#fefffc 122.5px,#cbff84 123.5px,#cffd0c 124.5px,#fec200 125.5px,#ff5900 126.5px,#ff1c00 127.5px,#ff100f 128.5px,#ff222a 129.5px,#ff2e38 130.5px,#ff3a3f 133.5px,#ff3c33 141.5px,#ff220f 150.5px,#ff1800 153.5px,#ff2800 159.5px,#ff3600 161.5px,#f50 163.5px,#ff7200 164.5px,#ff9d00 165.5px,#ffd100 166.5px,#f4f400 167.5px,#e2fa03 168.5px,#e7f935 169.5px,#feefad 171.5px,#fffbf6 172.5px,#fff 173.5px,#fff 197.5px,#ffe9cc 198.5px,#ffc385 199.5px,#ffaf77 201.5px,#ff9466 205.5px,#ff3002 214.5px,#ff2600 225.5px,#ff3100 239.5px,#ff4a00 246.5px,#ff6300 249.5px,#ff8100 251.5px,#ff9800 252.5px,#ffb800 253.5px,#ffe300 254.5px,#dcff00 255.5px,#3cff00 257.5px,#04ff0e 258.5px,#00ff3f 259.5px,#00ff64 260.5px,#00ff7f 261.5px,#00ffa2 263.5px,#00ffbe 266.5px,#00ffd8 272.5px,#00ffeb 284.5px)"></i><i style="background:linear-gradient(90deg,#ffa3a6 0.5px,#ffbdcc 11.5px,#ffbecd 13.5px,#ffccd6 14.5px,#fffbfb 15.5px,#fff 22.5px,#fff 44.5px,#fefff7 45.5px,#fef8c5 46.5px,#ffeaae 47.5px,#ffc497 49.5px,#ff9c8a 52.5px,#ff8581 56.5px,#ff7d7d 70.5px,#ff7e76 82.5px,#ff816c 84.5px,#ff8461 85.5px,#ff8e50 86.5px,#ffac36 87.5px,#f5ef1f 88.5px,#a2ff2c 89.5px,#7aff56 90.5px,#96ff94 91.5px,#f4fff5 92.5px,#fff 93.5px,#fffffd 122.5px,#fdf195 123.5px,#ffc731 124.5px,#ff870c 125.5px,#ff4b04 126.5px,#ff2a0a 127.5px,#ff231a 128.5px,#ff2f33 130.5px,#ff393c 133.5px,#ff3832 141.5px,#ff1b0e 150.5px,#ff1000 153.5px,#ff2000 160.5px,#ff3200 162.5px,#f40 163.5px,#ff6700 164.5px,#ffa500 165.5px,#ecf500 166.5px,#97ff00 167.5px,#63ff00 168.5px,#79ff36 169.5px,#ddffbd 171.5px,#fefffb 172.5px,#fff 177.5px,#fff 197.5px,#ffe8da 198.5px,#ffb28b 199.5px,#ffa57e 200.5px,#ff8568 205.5px,#ff2103 214.5px,#ff1900 227.5px,#ff2600 242.5px,#ff3c00 248.5px,#ff5900 251.5px,#ff6a00 252.5px,#ff8500 253.5px,#ffaf00 254.5px,#f7ed00 255.5px,#9bff00 256.5px,#23ff03 257.5px,#00ff39 258.5px,#00ff6f 259.5px,#00ff90 260.5px,#00ffb5 262.5px,#00ffce 265.5px,#00ffe5 272.5px,#00fff2 284.5px)"></i><i style="background:linear-gradient(90deg,#ffa3a5 0.5px,#ffbdc4 11.5px,#ffbdc3 13.5px,#ffcace 14.5px,#fffbfb 15.5px,#fff 20.5px,#fff 44.5px,#fffcf8 45.5px,#ffe2cb 46.5px,#ffd0b6 47.5px,#ffb39e 49.5px,#ff908a 53.5px,#ff8180 58.5px,#ff7a77 81.5px,#ff7166 84.5px,#ff6b56 85.5px,#ff6239 86.5px,#ff6c0a 87.5px,#e9dc00 88.5px,#2fff13 89.5px,#2eff73 90.5px,#82ffbf 91.5px,#f3fffa 92.5px,#fff 93.5px,#fffefd 122.5px,#ffc59e 123.5px,#ff8547 124.5px,#ff5b27 125.5px,#ff3b19 126.5px,#ff2b1b 127.5px,#ff2b2a 129.5px,#ff3738 132.5px,#ff3734 140.5px,#ff1913 149.5px,#ff0800 153.5px,#ff1300 161.5px,#ff2600 163.5px,#ff3f00 164.5px,#ff8100 165.5px,#b6f700 166.5px,#18ff1f 167.5px,#01ff47 168.5px,#33ff78 169.5px,#80ffaa 170.5px,#c5ffd5 171.5px,#fcfffd 172.5px,#fff 197.5px,#ffe6e0 198.5px,#ffa08e 199.5px,#ff9280 200.5px,#ff7769 205.5px,#ff1103 214.5px,#ff0d00 232.5px,#ff1800 246.5px,#ff2b00 251.5px,#f40 253.5px,#ff5f00 254.5px,#ff9a00 255.5px,#b6f600 256.5px,#07ff33 257.5px,#00ff8d 258.5px,#00ffb4 259.5px,#00ffc7 260.5px,#00ffe0 263.5px,#00fff2 271.5px,#00fff9 284.5px)"></i><i style="background:linear-gradient(90deg,#ffa4a4 0.5px,#ffbebe 11.5px,#ffbebd 13.5px,#ffcaca 14.5px,#fffbfb 15.5px,#fff 19.5px,#fff 44.5px,#fff8f9 45.5px,#ffcfd1 46.5px,#ffacaf 48.5px,#ff9091 52.5px,#ff8080 58.5px,#f77 81.5px,#ff6566 84.5px,#ff5557 85.5px,#ff0c19 87.5px,#f23160 88.5px,#01afd7 89.5px,#1edff1 90.5px,#7df1f9 91.5px,#f3feff 92.5px,#fff 93.5px,#fffdfd 122.5px,#ffa4a8 123.5px,#ff5258 124.5px,#ff3238 125.5px,#ff2326 126.5px,#ff2123 127.5px,#ff3737 132.5px,#ff3636 139.5px,#ff1919 148.5px,#ff0102 153.5px,#ff0308 163.5px,#ff060e 164.5px,#ff0f22 165.5px,#905a96 166.5px,#00c5e5 167.5px,#00d9ee 168.5px,#31e4f3 169.5px,#81eef8 170.5px,#c8f7fc 171.5px,#fdffff 172.5px,#fff 197.5px,#ffe2e3 198.5px,#ff9193 199.5px,#ff8284 200.5px,#ff6a6c 205.5px,#ff0406 214.5px,#ff0205 247.5px,#ff060e 253.5px,#ff0914 254.5px,#ff1023 255.5px,#b84075 256.5px,#00c5e3 257.5px,#00e6f4 258.5px,#00f4fa 260.5px,#00fdfe 274.5px,#00fefe 284.5px)"></i><i style="background:linear-gradient(90deg,#ffa5a3 0.5px,#ffc6bd 11.5px,#ffc5bd 13.5px,#ffcfca 14.5px,#fffbfb 15.5px,#fff 20.5px,#fff 44.5px,#fff8fc 45.5px,#ffcae6 46.5px,#ffb5d5 47.5px,#ff9db6 49.5px,#ff8a91 53.5px,#ff8081 58.5px,#ff777a 81.5px,#ff6775 84.5px,#ff5870 85.5px,#ff3d6c 86.5px,#ff107e 87.5px,#ea00e5 88.5px,#4309ff 89.5px,#3761ff 90.5px,#84b3ff 91.5px,#f3f8ff 92.5px,#fff 93.5px,#fffdfe 122.5px,#ff9dce 123.5px,#ff4491 124.5px,#ff2364 125.5px,#ff163f 126.5px,#ff182d 127.5px,#ff2a2b 129.5px,#ff3937 132.5px,#ff3437 140.5px,#ff131a 149.5px,#ff0009 153.5px,#ff0013 160.5px,#ff001f 162.5px,#ff002d 163.5px,#ff004a 164.5px,#ff008f 165.5px,#c300f9 166.5px,#2c0bff 167.5px,#092aff 168.5px,#365eff 169.5px,#c7ceff 171.5px,#fcfcff 172.5px,#fff 197.5px,#ffdfe6 198.5px,#ff8ea4 199.5px,#ff8096 200.5px,#ff697a 205.5px,#ff0315 214.5px,#ff000f 230.5px,#ff001b 245.5px,#ff002d 250.5px,#ff0040 252.5px,#ff0052 253.5px,#ff0071 254.5px,#ff00b2 255.5px,#b000fc 256.5px,#0c20ff 257.5px,#0079ff 258.5px,#00a4ff 259.5px,#00bcff 260.5px,#00d3ff 262.5px,#00e8ff 267.5px,#00f7ff 284.5px)"></i><i style="background:linear-gradient(90deg,#ffa6a3 0.5px,#ffcebc 11.5px,#ffcfbe 13.5px,#ffd8cd 14.5px,#fffcfb 15.5px,#fff 22.5px,#fff 44.5px,#fef7ff 45.5px,#fcc4fb 46.5px,#ffacef 47.5px,#ff94c7 49.5px,#ff8ca7 51.5px,#ff848d 54.5px,#ff7e80 60.5px,#ff787f 81.5px,#ff6d83 84.5px,#ff5494 86.5px,#ff3fb2 87.5px,#f82eef 88.5px,#b539ff 89.5px,#8d5dff 90.5px,#9e93ff 91.5px,#f4f4ff 92.5px,#fff 93.5px,#fffdff 122.5px,#f993f7 123.5px,#fe2ad6 124.5px,#ff0791 125.5px,#ff024f 126.5px,#ff0728 127.5px,#ff1720 128.5px,#ff342e 130.5px,#ff3d39 133.5px,#ff3339 141.5px,#ff0e1c 150.5px,#ff0012 153.5px,#ff001e 159.5px,#ff002a 161.5px,#ff0035 162.5px,#ff0049 163.5px,#ff006b 164.5px,#ff00a6 165.5px,#f400f1 166.5px,#af00ff 167.5px,#8001ff 168.5px,#9236ff 169.5px,#e6baff 171.5px,#fefaff 172.5px,#fff 175.5px,#fff 197.5px,#ffd8e8 198.5px,#ff89b5 199.5px,#ff79a2 201.5px,#ff6888 205.5px,#ff0324 214.5px,#ff001c 226.5px,#ff0027 241.5px,#ff003b 247.5px,#ff0054 250.5px,#ff0074 252.5px,#ff0090 253.5px,#f0b 254.5px,#f300f4 255.5px,#9800ff 256.5px,#2901ff 257.5px,#002eff 258.5px,#0064ff 259.5px,#0087ff 260.5px,#00aeff 262.5px,#00c9ff 265.5px,#00e0ff 271.5px,#00f1ff 284.5px)"></i><i style="background:linear-gradient(90deg,#ffa7a2 0.5px,#ffc5b3 7.5px,#ffd8bd 12.5px,#ffdabf 13.5px,#ffe2cf 14.5px,#fffcfb 15.5px,#fff 24.5px,#fff 44.5px,#f8f4ff 45.5px,#deb7ff 46.5px,#ed9cff 47.5px,#fe8bf3 48.5px,#ff82bb 50.5px,#ff829c 52.5px,#ff8088 55.5px,#ff7d7e 64.5px,#ff7b80 80.5px,#ff758e 84.5px,#ff6aa6 86.5px,#ff62c0 87.5px,#ff5ee6 88.5px,#ee65fe 89.5px,#d178ff 90.5px,#ce9dff 91.5px,#f8f4ff 92.5px,#fff 93.5px,#fdfcff 122.5px,#ba80ff 123.5px,#b607ff 124.5px,#fb00cc 125.5px,#ff0057 126.5px,#ff0018 127.5px,#ff100d 128.5px,#ff2c21 129.5px,#ff392e 130.5px,#ff403b 133.5px,#ff333d 141.5px,#ff0f24 150.5px,#ff001a 153.5px,#ff002a 159.5px,#ff0045 162.5px,#ff0057 163.5px,#ff0072 164.5px,#ff00c6 166.5px,#fb00e9 167.5px,#f203f3 168.5px,#f433f1 169.5px,#ffa9e4 171.5px,#fff4f9 172.5px,#fff 173.5px,#fff 197.5px,#ffc9e9 198.5px,#ff83c6 199.5px,#ff74ac 202.5px,#ff6696 205.5px,#ff0233 214.5px,#ff0029 225.5px,#f03 238.5px,#ff0049 245.5px,#ff006a 249.5px,#ff0089 251.5px,#ff00a0 252.5px,#ff00c0 253.5px,#fe00eb 254.5px,#d600ff 255.5px,#4000ff 257.5px,#060aff 258.5px,#0037ff 259.5px,#005dff 260.5px,#0078ff 261.5px,#009cff 263.5px,#00baff 266.5px,#00d5ff 272.5px,#00eaff 284.5px)"></i><i style="background:linear-gradient(90deg,#ffa7a1 0.5px,#ffc2ac 6.5px,#ffe3bb 12.5px,#ffe7bf 13.5px,#ffedcf 14.5px,#fffdfb 15.5px,#fff 21.5px,#fff 44.5px,#f1f3ff 45.5px,#aea5ff 46.5px,#b77eff 47.5px,#e66afe 48.5px,#ff66e0 49.5px,#ff6cb9 50.5px,#ff74a4 51.5px,#ff7c8f 53.5px,#ff7e81 58.5px,#ff7d7f 78.5px,#ff7d8e 83.5px,#ff7aad 86.5px,#ff78d7 88.5px,#ff7def 89.5px,#f889fd 90.5px,#f0a5ff 91.5px,#fcf3ff 92.5px,#fff 93.5px,#fff 121.5px,#fbfcff 122.5px,#6b90ff 123.5px,#1a28ff 124.5px,#c303d2 125.5px,#ff0820 126.5px,#ff1601 127.5px,#ff2407 128.5px,#ff3a20 129.5px,#ff432f 130.5px,#ff443d 133.5px,#ff3140 142.5px,#ff0a28 151.5px,#ff0024 154.5px,#ff003b 160.5px,#ff005c 163.5px,#ff0097 166.5px,#ff00a2 167.5px,#ff019d 168.5px,#ff2696 169.5px,#ff5992 170.5px,#ff919c 171.5px,#ffebe6 172.5px,#fff 173.5px,#fff 196.5px,#fffbfe 197.5px,#ffb1ed 198.5px,#ff7ed8 199.5px,#ff64a4 205.5px,#ff0242 214.5px,#ff0036 224.5px,#ff003e 236.5px,#ff0054 243.5px,#ff0070 247.5px,#ff0097 250.5px,#ff00c4 252.5px,#ff00e4 253.5px,#f000fe 254.5px,#bf00ff 255.5px,#1600ff 258.5px,#0018ff 259.5px,#003dff 260.5px,#0070ff 262.5px,#009cff 265.5px,#00c0ff 270.5px,#00dbff 279.5px,#00e3ff 284.5px)"></i><i style="background:linear-gradient(90deg,#ffa79f 0.5px,#ffbda6 5.5px,#fff5be 13.5px,#fff9ce 14.5px,#fffefa 15.5px,#fff 18.5px,#fff 44.5px,#eaf8ff 45.5px,#83b7ff 46.5px,#5754ff 47.5px,#ab23ff 48.5px,#ff31dc 49.5px,#ff4fa6 50.5px,#ff6393 51.5px,#ff7688 53.5px,#ff7d7f 60.5px,#ff7e80 78.5px,#ff8291 83.5px,#ff85ad 86.5px,#ff8cd9 89.5px,#ff94e8 90.5px,#ffaaf4 91.5px,#fff2fe 92.5px,#fff 93.5px,#fff 121.5px,#faffff 122.5px,#63f3ef 123.5px,#00f1bc 124.5px,#69f323 125.5px,#ff9000 126.5px,#ff5900 127.5px,#ff490b 128.5px,#ff4f26 129.5px,#ff5134 130.5px,#ff4941 133.5px,#f34 142.5px,#ff0c30 151.5px,#ff002c 154.5px,#f04 160.5px,#ff006e 165.5px,#ff0070 166.5px,#f06 167.5px,#ff004d 168.5px,#ff0f2e 169.5px,#ff553e 170.5px,#ffaa6c 171.5px,#fff0c5 172.5px,#fffffe 173.5px,#fff 196.5px,#feefff 197.5px,#ff95f8 198.5px,#ff78ea 199.5px,#ff68ba 204.5px,#ff4391 208.5px,#ff0151 214.5px,#ff0043 224.5px,#ff004b 235.5px,#ff0062 242.5px,#ff007d 246.5px,#ff00a1 249.5px,#ff00c7 251.5px,#fa00fa 253.5px,#da00ff 254.5px,#2500ff 258.5px,#0406ff 259.5px,#0041ff 261.5px,#006bff 263.5px,#0093ff 266.5px,#00b7ff 271.5px,#00d5ff 280.5px,#00dcff 284.5px)"></i><i style="background:linear-gradient(90deg,#ffa69e 0.5px,#ffbda2 5.5px,#fdfcb4 12.5px,#f9ffbb 13.5px,#f7ffcb 14.5px,#fefff9 15.5px,#fff 17.5px,#fff 44.5px,#e1fff8 45.5px,#5bf3ee 46.5px,#08a3fc 47.5px,#810af9 48.5px,#ff0298 49.5px,#ff2e72 50.5px,#ff5477 51.5px,#ff677c 52.5px,#ff767f 54.5px,#ff7d7e 63.5px,#ff7e7f 78.5px,#ff8591 83.5px,#ff95c7 89.5px,#ff9bd2 90.5px,#ffacdd 91.5px,#ffeff9 92.5px,#fff 93.5px,#fff 121.5px,#f7fffa 122.5px,#70ff9a 123.5px,#1dff1e 124.5px,#8fff00 125.5px,#fddb00 126.5px,#ff8c05 127.5px,#ff701e 128.5px,#ff6632 129.5px,#ff5942 131.5px,#ff4445 135.5px,#ff3449 142.5px,#ff0034 154.5px,#ff0052 161.5px,#ff0060 164.5px,#ff005f 165.5px,#ff0054 166.5px,#ff003c 167.5px,#ff0313 168.5px,#ff3100 169.5px,#ff8b0f 170.5px,#fbe43f 171.5px,#e1ff8c 172.5px,#f7fff2 173.5px,#fff 174.5px,#fff 196.5px,#f6ceff 197.5px,#f57dff 198.5px,#fe72fa 199.5px,#ff64c7 204.5px,#ff3593 209.5px,#ff0060 214.5px,#ff0050 223.5px,#ff0057 234.5px,#ff006e 241.5px,#ff0092 246.5px,#ff00b8 249.5px,#fe00f6 252.5px,#ea00ff 253.5px,#7d00ff 256.5px,#0d00ff 259.5px,#0012ff 260.5px,#04f 262.5px,#0076ff 265.5px,#009dff 269.5px,#00c1ff 276.5px,#00d6ff 284.5px)"></i><i style="background:linear-gradient(90deg,#ffa59c 0.5px,#ffbb9d 5.5px,#ffe7a3 9.5px,#fafea8 11.5px,#e5ffb5 13.5px,#e4ffc5 14.5px,#fafff6 15.5px,#fff 16.5px,#fff 44.5px,#d5ffdd 45.5px,#43ff76 46.5px,#0cff43 47.5px,#c4a41b 48.5px,#ff1711 49.5px,#ff2531 50.5px,#ff4e58 51.5px,#ff636b 52.5px,#ff7579 54.5px,#ff7d7f 61.5px,#ff8080 79.5px,#ff8c96 84.5px,#ff9fbf 90.5px,#ffacc9 91.5px,#ffeaf1 92.5px,#fff 93.5px,#fff 121.5px,#f5fff4 122.5px,#9cff7f 123.5px,#93ff3a 124.5px,#ceff1b 125.5px,#ffe018 126.5px,#ffa827 127.5px,#ff8937 128.5px,#ff6c47 130.5px,#ff4b49 134.5px,#ff394f 141.5px,#ff0f40 151.5px,#ff003c 154.5px,#ff005f 163.5px,#ff0058 165.5px,#ff0047 166.5px,#ff0025 167.5px,#ff1701 168.5px,#ff6f00 169.5px,#fada00 170.5px,#afff0a 171.5px,#76ff47 172.5px,#c3ffcb 173.5px,#feffff 174.5px,#fff 195.5px,#f9f2ff 196.5px,#df9aff 197.5px,#e370ff 198.5px,#fd6afc 200.5px,#ff61d3 204.5px,#ff2795 210.5px,#ff006e 214.5px,#ff005c 223.5px,#ff0063 233.5px,#ff007e 241.5px,#ff00a5 246.5px,#ff00cd 249.5px,#ff00f3 251.5px,#f300ff 252.5px,#9b00ff 255.5px,#1800ff 259.5px,#0206ff 260.5px,#0047ff 263.5px,#0072ff 266.5px,#009eff 271.5px,#00c2ff 279.5px,#00cfff 284.5px)"></i><i style="background:linear-gradient(90deg,#ffa29a 0.5px,#ffb797 5.5px,#ffda96 8.5px,#fbfd97 10.5px,#d5ffa1 12.5px,#caffac 13.5px,#c9ffbc 14.5px,#f2fff1 15.5px,#fff 16.5px,#fff 44.5px,#d7ffc6 45.5px,#84ff49 46.5px,#93ff0d 47.5px,#f4df00 48.5px,#ff7009 49.5px,#ff5833 50.5px,#ff6153 51.5px,#ff6b65 52.5px,#ff7675 54.5px,#ff7d7f 61.5px,#ff807f 78.5px,#ff8a8c 83.5px,#ffa1ad 90.5px,#ffaab4 91.5px,#ffe2e5 92.5px,#fff 93.5px,#fff 121.5px,#f7ffee 122.5px,#d3ff87 123.5px,#deff5e 124.5px,#f9f84b 125.5px,#ffd345 126.5px,#ffaf48 127.5px,#ff954d 128.5px,#ff7452 130.5px,#ff4e4e 134.5px,#ff3a55 141.5px,#ff1148 151.5px,#f04 154.5px,#ff0064 163.5px,#ff005b 165.5px,#ff004a 166.5px,#ff0027 167.5px,#ff1c01 168.5px,#ff9400 169.5px,#c0fd00 170.5px,#35ff04 171.5px,#0fff48 172.5px,#67ffc3 173.5px,#e4fefd 174.5px,#fff 175.5px,#fdfcff 195.5px,#dabfff 196.5px,#c271ff 197.5px,#d167ff 198.5px,#fc65fd 201.5px,#ff5cdf 204.5px,#ff0f8c 212.5px,#ff007c 214.5px,#ff0069 222.5px,#ff006e 232.5px,#f08 240.5px,#ff00ac 245.5px,#ff00df 249.5px,#f900fe 251.5px,#b100ff 254.5px,#2000ff 259.5px,#0701ff 260.5px,#01f 261.5px,#0049ff 264.5px,#007aff 268.5px,#00a5ff 274.5px,#00c9ff 284.5px)"></i><i style="background:linear-gradient(90deg,#ffa098 0.5px,#ffb191 5.5px,#ffc58b 7.5px,#ffd687 8.5px,#ffee83 9.5px,#efff81 10.5px,#ccff85 11.5px,#b0ff8f 12.5px,#a5ffa0 13.5px,#b1ffbe 14.5px,#e8ffef 15.5px,#fff 16.5px,#fffffe 44.5px,#e9ffb6 45.5px,#d5ff59 46.5px,#eefd39 47.5px,#ffd32b 48.5px,#ff9b36 49.5px,#ff814c 50.5px,#ff7a6a 52.5px,#ff7c79 55.5px,#ff7c7e 67.5px,#ff8380 79.5px,#ffa8a1 90.5px,#ffb1a8 91.5px,#ffdcd6 92.5px,#fff 93.5px,#fff 121.5px,#fdffe4 122.5px,#f9fc8c 123.5px,#fef373 124.5px,#fd6 125.5px,#ffac5e 127.5px,#ff785c 130.5px,#ff5754 133.5px,#ff395a 142.5px,#ff084d 153.5px,#ff0052 156.5px,#ff006d 163.5px,#ff0068 165.5px,#ff005d 166.5px,#ff0046 167.5px,#ff051c 168.5px,#ff7001 169.5px,#4dff15 170.5px,#00ff72 171.5px,#00fec5 172.5px,#1de8f7 173.5px,#8bd5ff 174.5px,#f0f5ff 175.5px,#fff 176.5px,#fefeff 194.5px,#d9d2ff 195.5px,#a578ff 196.5px,#ac62ff 197.5px,#e361ff 200.5px,#fc60fe 202.5px,#ff50e0 205.5px,#ff028f 213.5px,#ff0078 220.5px,#ff0076 229.5px,#f08 237.5px,#ff00ab 243.5px,#ff00d3 247.5px,#fc00fd 250.5px,#c000ff 253.5px,#0f00ff 260.5px,#0007ff 261.5px,#004bff 265.5px,#0081ff 270.5px,#0af 277.5px,#00c3ff 284.5px)"></i><i style="background:linear-gradient(90deg,#ff9d96 0.5px,#ffa98a 5.5px,#ffb97e 7.5px,#ffca74 8.5px,#ffe968 9.5px,#dfff5d 10.5px,#9dff5f 11.5px,#79ff79 12.5px,#8bffaf 13.5px,#a3ffd5 14.5px,#d8fff4 15.5px,#fff 16.5px,#fff 43.5px,#fffffb 44.5px,#fcfca3 45.5px,#fdf668 46.5px,#ffe357 47.5px,#ffc552 48.5px,#ffa856 49.5px,#ff9561 50.5px,#ff8671 52.5px,#ff7e7d 57.5px,#ff7f7d 76.5px,#ff938a 83.5px,#ffb89f 90.5px,#ffc2a6 91.5px,#ffdcc6 92.5px,#fffdfc 93.5px,#fff 121.5px,#fff4d4 122.5px,#ffe290 123.5px,#ffc676 125.5px,#ff7965 130.5px,#ff595b 133.5px,#ff375f 143.5px,#ff0056 155.5px,#ff007a 164.5px,#ff007a 167.5px,#ff0080 168.5px,#f100ad 169.5px,#0981f7 170.5px,#00bafd 171.5px,#00a7ff 172.5px,#057fff 173.5px,#356dff 174.5px,#9a9cff 175.5px,#f2edff 176.5px,#fff 177.5px,#fcfdff 193.5px,#cfd3ff 194.5px,#8478ff 195.5px,#8359ff 196.5px,#c45aff 199.5px,#f25bff 202.5px,#fd57fe 203.5px,#ff26c1 209.5px,#ff019c 213.5px,#ff0084 220.5px,#ff0081 229.5px,#ff0095 237.5px,#ff00b9 243.5px,#ff00e2 247.5px,#fd00fc 249.5px,#de00ff 251.5px,#7200ff 256.5px,#1600ff 260.5px,#0302ff 261.5px,#004dff 266.5px,#007eff 271.5px,#00a7ff 278.5px,#00bdff 284.5px)"></i><i style="background:linear-gradient(90deg,#ff9995 0.5px,#ff9d84 5.5px,#ffa471 7.5px,#ffaf5e 8.5px,#ffcc3f 9.5px,#d6fc1a 10.5px,#42ff1f 11.5px,#41ff8f 12.5px,#72ffda 13.5px,#94fbf7 14.5px,#c3f7fe 15.5px,#fbfeff 16.5px,#fff 35.5px,#fff 43.5px,#fffbf0 44.5px,#ffe593 45.5px,#ffd972 46.5px,#ffba67 48.5px,#ff9d6f 50.5px,#ff897a 53.5px,#ff7e7f 60.5px,#ff7e7b 75.5px,#ff9185 82.5px,#ffc69c 90.5px,#ffd1a1 91.5px,#ffe2b5 92.5px,#fffcf4 93.5px,#fff 94.5px,#fffdfc 121.5px,#ffdec0 122.5px,#ffc693 123.5px,#ffb380 125.5px,#ff6264 132.5px,#ff2d62 146.5px,#ff0060 156.5px,#ff008f 165.5px,#f09 166.5px,#ff00ab 167.5px,#ff00d2 168.5px,#cf00fe 169.5px,#4302ff 170.5px,#061cff 171.5px,#0028ff 172.5px,#031aff 173.5px,#291cff 174.5px,#7040ff 175.5px,#c187ff 176.5px,#f6daff 177.5px,#fffcff 178.5px,#fff 191.5px,#f1f8ff 192.5px,#b4cdff 193.5px,#667dff 194.5px,#5550ff 195.5px,#a352ff 198.5px,#da57ff 201.5px,#fd4bfe 204.5px,#ff00a8 213.5px,#ff0090 220.5px,#ff008d 229.5px,#ff00a2 237.5px,#ff00c7 243.5px,#fe00fb 248.5px,#e400ff 250.5px,#8500ff 255.5px,#0900ff 261.5px,#0009ff 262.5px,#04f 266.5px,#0075ff 271.5px,#00a4ff 279.5px,#00b7ff 284.5px)"></i><i style="background:linear-gradient(90deg,#ff9693 0.5px,#ff9180 5.5px,#ff8967 7.5px,#ff824c 8.5px,#ff7a18 9.5px,#f5b500 10.5px,#20f768 11.5px,#11dfec 12.5px,#5bd4ff 13.5px,#87ceff 14.5px,#add2ff 15.5px,#f0f5ff 16.5px,#fff 17.5px,#fff 43.5px,#ffedd9 44.5px,#ffcb87 45.5px,#ffc379 46.5px,#ffb175 48.5px,#ff8d7f 53.5px,#ff7f7f 59.5px,#ff7d7b 75.5px,#ff8e81 81.5px,#ffc095 88.5px,#ffe09c 91.5px,#ffeea6 92.5px,#fffde1 93.5px,#fff 94.5px,#fff 120.5px,#fff3f1 121.5px,#ffbfae 122.5px,#ffaf95 123.5px,#ff9b83 126.5px,#ff6c6e 131.5px,#ff0a66 154.5px,#ff006c 157.5px,#ff008e 163.5px,#ff00a1 165.5px,#ff00b1 166.5px,#ff00ca 167.5px,#fd00f1 168.5px,#cd00ff 169.5px,#8300ff 170.5px,#4d00ff 171.5px,#3700ff 172.5px,#3d00ff 173.5px,#5c0bff 174.5px,#c13dff 176.5px,#ef63fe 177.5px,#ffa5f1 178.5px,#ffddf1 179.5px,#fff7f9 180.5px,#fff 182.5px,#fbfffe 189.5px,#eafffe 190.5px,#bdf3ff 191.5px,#76c7ff 192.5px,#458cff 193.5px,#3e62ff 194.5px,#4345ff 195.5px,#7d48ff 197.5px,#ad50ff 199.5px,#dd4fff 202.5px,#fe3efd 205.5px,#ff03bb 212.5px,#ff009f 218.5px,#ff0096 226.5px,#ff00a3 234.5px,#ff00c4 241.5px,#ff00f0 246.5px,#fe00fb 247.5px,#e800ff 249.5px,#9400ff 254.5px,#0e00ff 261.5px,#0103ff 262.5px,#0047ff 267.5px,#007cff 273.5px,#0af 282.5px,#00b1ff 284.5px)"></i><i style="background:linear-gradient(90deg,#ff9393 0.5px,#ff857d 5.5px,#ff6f64 7.5px,#ff544a 8.5px,#ff2022 9.5px,#ff024d 10.5px,#8407ff 11.5px,#1a33ff 12.5px,#5573ff 13.5px,#8093ff 14.5px,#a0a6ff 15.5px,#dcd9ff 16.5px,#fefeff 17.5px,#fff 42.5px,#fffbfa 43.5px,#ffd1b5 44.5px,#ffb684 45.5px,#ffaa7e 48.5px,#ff8781 55.5px,#ff7e81 63.5px,#ff7c7a 75.5px,#ff8f7e 81.5px,#ffb48c 86.5px,#ffe191 90.5px,#fdfc9b 92.5px,#f6ffc1 93.5px,#fdfffa 94.5px,#fff 97.5px,#fffefe 120.5px,#ffd8dc 121.5px,#ffa3a4 122.5px,#ff968f 124.5px,#ff7b7d 129.5px,#ff4f73 138.5px,#ff0d6d 154.5px,#ff0072 157.5px,#ff0098 163.5px,#ff00af 165.5px,#ff00d9 167.5px,#fc00f8 168.5px,#d900ff 169.5px,#ad00ff 170.5px,#8b00ff 171.5px,#7b00ff 172.5px,#7d00ff 173.5px,#9207ff 174.5px,#dd2aff 176.5px,#fc36f6 177.5px,#ff40cf 178.5px,#ff57ac 179.5px,#ff7b9c 180.5px,#ffa6a4 181.5px,#ffd2bd 182.5px,#ffeccd 183.5px,#fefcd4 184.5px,#f2ffd3 185.5px,#dfffcd 186.5px,#c1ffc0 187.5px,#a2ffc0 188.5px,#78ffcd 189.5px,#49ffef 190.5px,#2adbff 191.5px,#23a7ff 192.5px,#287cff 193.5px,#2e58ff 194.5px,#373dff 195.5px,#543cff 196.5px,#8e47ff 198.5px,#c64bff 201.5px,#f737ff 205.5px,#ff28f3 207.5px,#ff01c5 212.5px,#f0a 218.5px,#ff00a0 226.5px,#ff00ae 234.5px,#ff00d0 241.5px,#fe00fb 246.5px,#d0f 249.5px,#7d00ff 255.5px,#0401ff 262.5px,#0053ff 269.5px,#0087ff 276.5px,#00acff 284.5px)"></i><i style="background:linear-gradient(90deg,#ff9294 0.5px,#ff7e80 5.5px,#ff6772 7.5px,#ff536c 8.5px,#ff3471 9.5px,#ff12a6 10.5px,#dc10fc 11.5px,#9334ff 12.5px,#9060ff 13.5px,#a281ff 14.5px,#b798ff 15.5px,#d5baff 16.5px,#f9f3ff 17.5px,#fff 18.5px,#fff 42.5px,#ffe5e0 43.5px,#ffaf95 44.5px,#ffa685 45.5px,#ff9d87 50.5px,#ff8282 57.5px,#ff7b78 75.5px,#ff8e7b 81.5px,#ffb786 86.5px,#fe8 90.5px,#fcfd8a 91.5px,#ecff90 92.5px,#deffa1 93.5px,#efffe1 94.5px,#fff 95.5px,#fff 119.5px,#fff3f8 120.5px,#ffb8cd 121.5px,#ff9cb1 122.5px,#ff909b 124.5px,#ff7786 130.5px,#ff4978 140.5px,#ff0b76 155.5px,#ff007e 158.5px,#ff00a0 163.5px,#ff00c9 166.5px,#fe00f7 168.5px,#e800ff 169.5px,#b700ff 171.5px,#ac00ff 172.5px,#af00ff 173.5px,#bf08ff 174.5px,#f61ffd 176.5px,#ff26e1 177.5px,#ff298c 179.5px,#ff2657 180.5px,#ff2c26 181.5px,#ff621e 182.5px,#fdea1a 184.5px,#c3ff18 185.5px,#1aff15 187.5px,#05ff57 188.5px,#01fdec 190.5px,#04cfff 191.5px,#0c99ff 192.5px,#176eff 193.5px,#224dff 194.5px,#2d34ff 195.5px,#6b3cff 197.5px,#9c44ff 199.5px,#cb40ff 202.5px,#f92aff 206.5px,#ff1bf2 208.5px,#ff00d0 212.5px,#ff00b2 219.5px,#ff00ab 227.5px,#ff00bc 235.5px,#ff00e3 242.5px,#fe00fc 245.5px,#e100ff 248.5px,#8a00ff 254.5px,#0800ff 262.5px,#0006ff 263.5px,#004cff 269.5px,#0080ff 276.5px,#00a6ff 284.5px)"></i><i style="background:linear-gradient(90deg,#ff9197 0.5px,#ff7f8a 5.5px,#ff6f88 7.5px,#ff638d 8.5px,#ff549d 9.5px,#ff49c2 10.5px,#fc4af3 11.5px,#de5bff 12.5px,#ce71ff 13.5px,#ce85ff 14.5px,#e4a8ff 16.5px,#f6d3ff 17.5px,#fffaff 18.5px,#fff 21.5px,#fff 41.5px,#fff1f1 42.5px,#ffb5af 43.5px,#ff9889 44.5px,#ff9d87 47.5px,#ff988b 51.5px,#ff8283 58.5px,#ff7a77 75.5px,#ff8c78 81.5px,#ffad7d 85.5px,#ffd57e 88.5px,#fefa7d 90.5px,#d5ff83 92.5px,#c0ff8c 93.5px,#c5ffb2 94.5px,#f2fff1 95.5px,#fff 96.5px,#fff 118.5px,#fffafe 119.5px,#ffcfed 120.5px,#ffa2cf 121.5px,#ff94b4 123.5px,#ff899c 127.5px,#ff5f83 135.5px,#ff217a 151.5px,#ff0084 158.5px,#ff00a7 163.5px,#ff00cd 166.5px,#ff00f2 168.5px,#f700ff 169.5px,#d700ff 171.5px,#d000ff 172.5px,#d402ff 173.5px,#f514fe 175.5px,#ff19ee 176.5px,#ff1aa9 178.5px,#ff167c 179.5px,#ff0c0c 181.5px,#ff4100 182.5px,#ff8900 183.5px,#ffda00 184.5px,#caff00 185.5px,#67ff00 186.5px,#0dff0a 187.5px,#00ff5e 188.5px,#00ffb4 189.5px,#00f7f6 190.5px,#00c0ff 191.5px,#08f 192.5px,#095dff 193.5px,#183fff 194.5px,#262aff 195.5px,#6635ff 197.5px,#953cff 199.5px,#c438ff 202.5px,#fa1dff 207.5px,#ff02e0 211.5px,#ff00c1 217.5px,#ff00b5 225.5px,#ff00c0 233.5px,#ff00e0 240.5px,#fe00fd 244.5px,#d700ff 248.5px,#8500ff 254.5px,#0c00ff 262.5px,#0103ff 263.5px,#004eff 270.5px,#0085ff 278.5px,#00a1ff 284.5px)"></i><i style="background:linear-gradient(90deg,#ff9299 0.5px,#ff7d95 6.5px,#ff71a1 8.5px,#ff6bb0 9.5px,#ff6be4 11.5px,#fc73fa 12.5px,#ef8cff 14.5px,#feb4fb 17.5px,#ffdcf9 18.5px,#fffafd 19.5px,#fff 23.5px,#fff 40.5px,#fff2f4 41.5px,#ffbcc3 42.5px,#ff8f92 43.5px,#ff8c89 44.5px,#ff9a8e 49.5px,#ff8385 58.5px,#ff7778 73.5px,#ff8174 79.5px,#ff9774 83.5px,#ffb774 86.5px,#ffd872 88.5px,#ffee70 89.5px,#f5ff6e 90.5px,#b9ff72 92.5px,#9fff7a 93.5px,#90ff8c 94.5px,#bdffca 95.5px,#f4fff9 96.5px,#fff 97.5px,#fff 117.5px,#fefbff 118.5px,#fed8fd 119.5px,#ffa7ed 120.5px,#ff99db 121.5px,#ff90b9 124.5px,#ff7f9d 129.5px,#ff5b88 136.5px,#ff2380 151.5px,#ff008f 159.5px,#ff00b6 164.5px,#ff00fa 169.5px,#eb00ff 172.5px,#f90ffe 174.5px,#ff14f3 175.5px,#ff15c1 177.5px,#ff119e 178.5px,#ff0973 179.5px,#ff0141 180.5px,#ff020e 181.5px,#ff2e00 182.5px,#ff7100 183.5px,#ffc000 184.5px,#defd00 185.5px,#71ff00 186.5px,#0bff11 187.5px,#00ff73 188.5px,#00ffce 189.5px,#00e5fe 190.5px,#00a9ff 191.5px,#0075ff 192.5px,#0149ff 193.5px,#0e2dff 194.5px,#211eff 195.5px,#612dff 197.5px,#8f34ff 199.5px,#c92cff 203.5px,#fc11ff 208.5px,#ff00e9 211.5px,#ff00cb 217.5px,#ff00be 225.5px,#ff00ca 233.5px,#ff00ea 240.5px,#fe00fe 243.5px,#cf00ff 248.5px,#7300ff 255.5px,#0301ff 263.5px,#0050ff 271.5px,#0085ff 279.5px,#009cff 284.5px)"></i><i style="background:linear-gradient(90deg,#ff929c 0.5px,#ff829e 6.5px,#ff7cac 8.5px,#ff7dda 11.5px,#ff8af3 13.5px,#ff9af6 15.5px,#ffb7e6 18.5px,#ffd7eb 19.5px,#fff4f7 20.5px,#fffefe 21.5px,#fff 38.5px,#fffbfd 39.5px,#ffe5ef 40.5px,#ffb5c9 41.5px,#ff90a4 42.5px,#ff898f 44.5px,#ff938e 47.5px,#ff938f 51.5px,#ff8187 60.5px,#ff7773 76.5px,#ff8b6e 82.5px,#ffa56b 85.5px,#ffc367 87.5px,#fff45e 89.5px,#e8ff5a 90.5px,#97ff5b 92.5px,#74ff65 93.5px,#73ff8a 94.5px,#87ffba 95.5px,#baffe8 96.5px,#ecfffe 97.5px,#feffff 98.5px,#fff 116.5px,#f9f5ff 117.5px,#f0d2ff 118.5px,#f5a6ff 119.5px,#ff97f7 120.5px,#ff8fcd 123.5px,#ff84ab 128.5px,#ff6190 135.5px,#ff3185 148.5px,#ff0c8f 157.5px,#ff00a0 161.5px,#ff00ce 166.5px,#ff00f8 170.5px,#fd03fd 172.5px,#ff10f2 174.5px,#ff14d1 176.5px,#ff0b99 178.5px,#ff0273 179.5px,#ff001f 181.5px,#ff1401 182.5px,#ff4d00 183.5px,#ff9500 184.5px,#f5eb00 185.5px,#83ff00 186.5px,#09ff21 187.5px,#00ff9c 188.5px,#00f6f1 189.5px,#00bfff 190.5px,#0089ff 191.5px,#0035ff 193.5px,#0516ff 194.5px,#1f13ff 195.5px,#5f24ff 197.5px,#9b2bff 200.5px,#d91cff 205.5px,#fd07fe 209.5px,#ff00eb 212.5px,#ff00ce 219.5px,#ff00c8 227.5px,#ff00db 235.5px,#fc00fe 242.5px,#c700ff 248.5px,#6200ff 256.5px,#0600ff 263.5px,#01f 265.5px,#0052ff 272.5px,#008aff 281.5px,#0097ff 284.5px)"></i><i style="background:linear-gradient(90deg,#ff939f 0.5px,#ff87a5 6.5px,#ff85bc 9.5px,#ff92e3 13.5px,#ffa1e2 16.5px,#ffb4cf 19.5px,#ffc6d0 20.5px,#fff3ef 22.5px,#fffefc 24.5px,#fffdff 35.5px,#fff2fd 37.5px,#ffe0f5 38.5px,#ffc1e3 39.5px,#ff9ec7 40.5px,#ff8cb1 41.5px,#ff8a98 44.5px,#ff9292 50.5px,#ff7b82 67.5px,#ff7570 77.5px,#ff8469 82.5px,#ff9c61 85.5px,#ffbb57 87.5px,#ffd34f 88.5px,#fef446 89.5px,#dcff3d 90.5px,#a3ff38 91.5px,#67ff3b 92.5px,#49ff58 93.5px,#59ff98 94.5px,#6effcc 95.5px,#84fef2 96.5px,#a9f2ff 97.5px,#d6eeff 98.5px,#f1f6ff 99.5px,#fcfcff 100.5px,#fdfeff 114.5px,#f4f8ff 115.5px,#dfdfff 116.5px,#cdb8ff 117.5px,#d29aff 118.5px,#fa8dfe 120.5px,#ff8cd6 123.5px,#ff82b2 128.5px,#ff6196 135.5px,#ff368a 147.5px,#ff1095 157.5px,#ff00ab 162.5px,#ff00ed 170.5px,#ff07f0 172.5px,#ff10e5 174.5px,#ff11c9 176.5px,#ff0599 178.5px,#ff005b 180.5px,#ff0112 182.5px,#ff1d00 183.5px,#ff5400 184.5px,#ffa500 185.5px,#b4f900 186.5px,#02ff53 187.5px,#00f5e5 188.5px,#00c0ff 189.5px,#008bff 190.5px,#003dff 192.5px,#001dff 193.5px,#0404ff 194.5px,#5e1aff 197.5px,#9722ff 200.5px,#d316ff 205.5px,#fd00fe 210.5px,#ff00dc 217.5px,#ff00d0 225.5px,#f0d 233.5px,#fb00ff 241.5px,#c000ff 248.5px,#5400ff 257.5px,#0900ff 263.5px,#0003ff 264.5px,#004dff 272.5px,#0084ff 281.5px,#0092ff 284.5px)"></i><i style="background:linear-gradient(90deg,#ff93a1 0.5px,#ff8baa 6.5px,#ff91cd 11.5px,#ff9bda 14.5px,#ffa6d1 17.5px,#ffb0b7 20.5px,#ffbbb4 21.5px,#fff5cd 24.5px,#fbffd2 25.5px,#cfffd6 28.5px,#c4fafd 30.5px,#c3c8ff 32.5px,#f0b9ff 35.5px,#fdaefe 36.5px,#ff89cd 39.5px,#ff88ab 42.5px,#ff919b 46.5px,#ff9194 51.5px,#ff7478 73.5px,#ff746b 79.5px,#ff885c 84.5px,#ff9c4f 86.5px,#ffac45 87.5px,#ffc538 88.5px,#ffeb27 89.5px,#d5ff15 90.5px,#80ff0c 91.5px,#27ff11 92.5px,#1dff5e 93.5px,#39ffb3 94.5px,#55feec 95.5px,#6fe9ff 96.5px,#84d0ff 97.5px,#99c0ff 98.5px,#b3beff 99.5px,#ebdfff 101.5px,#fef1ff 103.5px,#fefff4 109.5px,#f1ffee 111.5px,#e6ffec 112.5px,#d8fff3 113.5px,#c2f7fe 114.5px,#a7d0ff 115.5px,#919cff 116.5px,#a086ff 117.5px,#db83ff 119.5px,#f284ff 120.5px,#ff85f9 121.5px,#ff89d4 124.5px,#ff7cb2 129.5px,#ff5e99 136.5px,#ff348f 148.5px,#ff109e 158.5px,#ff00bc 164.5px,#ff01e4 170.5px,#ff0be3 173.5px,#ff0ed2 175.5px,#ff08b3 177.5px,#ff0086 179.5px,#ff001e 183.5px,#ff0a0c 184.5px,#ff220a 185.5px,#f74828 186.5px,#0c83e8 187.5px,#0080ff 188.5px,#0305ff 193.5px,#2c01ff 195.5px,#7315ff 198.5px,#af18ff 202.5px,#e904ff 208.5px,#fe00fe 211.5px,#ff00e1 218.5px,#ff00d9 226.5px,#ff00e9 234.5px,#fe00fe 239.5px,#c0f 246.5px,#70f 254.5px,#0201ff 264.5px,#0050ff 273.5px,#0089ff 283.5px,#008eff 284.5px)"></i><i style="background:linear-gradient(90deg,#ff94a4 0.5px,#ff8fad 6.5px,#ff9cd0 13.5px,#ffa3cd 16.5px,#ffabad 20.5px,#ffd6a8 23.5px,#fbfc9e 25.5px,#e0ff94 26.5px,#b5ff86 27.5px,#7aff77 28.5px,#56ff9f 29.5px,#41f4ef 30.5px,#409aff 31.5px,#5657ff 32.5px,#955dff 33.5px,#c66aff 34.5px,#e872ff 35.5px,#fd78fb 36.5px,#ff83cc 39.5px,#ff89b0 42.5px,#ff94a0 47.5px,#ff7176 74.5px,#ff7065 80.5px,#ff804c 85.5px,#ff9433 87.5px,#ffa81e 88.5px,#ffcf06 89.5px,#e5fc00 90.5px,#7aff00 91.5px,#0aff1a 92.5px,#00ff8b 93.5px,#14fce5 94.5px,#3cddff 95.5px,#5cbdff 96.5px,#879cff 98.5px,#9c98ff 99.5px,#d6aeff 101.5px,#fdbffc 103.5px,#ffc6cc 106.5px,#ffe3c1 108.5px,#fef8bb 109.5px,#eaffb2 110.5px,#c3ffa5 111.5px,#95ff9f 112.5px,#80ffc6 113.5px,#71f6f8 114.5px,#6b80ff 116.5px,#886eff 117.5px,#b272ff 118.5px,#d277ff 119.5px,#ec7bff 120.5px,#fd7ffd 121.5px,#ff86d9 124.5px,#ff7ab7 129.5px,#ff5e9e 136.5px,#ff3694 148.5px,#ff14a3 158.5px,#ff01c4 165.5px,#ff03de 170.5px,#ff0adc 173.5px,#ff07c2 176.5px,#ff0094 179.5px,#ff0062 182.5px,#ff0057 183.5px,#ff0057 184.5px,#ff0070 185.5px,#fa00ce 186.5px,#6f00ff 187.5px,#1409ff 188.5px,#0412ff 189.5px,#0308ff 191.5px,#0b01ff 192.5px,#4e01ff 196.5px,#850fff 199.5px,#c10dff 204.5px,#eb00ff 209.5px,#fe00fe 212.5px,#ff00e4 220.5px,#ff00e3 228.5px,#fc00ff 238.5px,#ce00ff 245.5px,#7f00ff 253.5px,#0400ff 264.5px,#0052ff 274.5px,#0089ff 284.5px)"></i><i style="background:linear-gradient(90deg,#ff95a5 0.5px,#ff92b3 7.5px,#ff9eca 13.5px,#ffa4c5 16.5px,#ffa8a7 20.5px,#ffcea0 23.5px,#fff390 25.5px,#efff81 26.5px,#c5ff6a 27.5px,#7aff44 28.5px,#16ff3e 29.5px,#01f2d1 30.5px,#0259ff 31.5px,#4018ff 32.5px,#9e3cff 33.5px,#d255ff 34.5px,#f266ff 35.5px,#ff70f5 36.5px,#ff82cb 39.5px,#ff8eaf 43.5px,#ff94a0 49.5px,#ff7077 74.5px,#ff695e 81.5px,#ff6d43 85.5px,#ff7323 87.5px,#ff7c08 88.5px,#ff9d00 89.5px,#fcd800 90.5px,#a0ff00 91.5px,#02ff4f 92.5px,#00f2e5 93.5px,#01baff 94.5px,#2594ff 95.5px,#4d86ff 96.5px,#687eff 97.5px,#837fff 98.5px,#c398ff 100.5px,#f2a8ff 102.5px,#ffadf8 103.5px,#ffb0ba 106.5px,#ffbaad 107.5px,#ffe99e 109.5px,#f2fe91 110.5px,#c2ff7e 111.5px,#78ff67 112.5px,#49ff8f 113.5px,#37f7e9 114.5px,#38a5ff 115.5px,#465cff 116.5px,#7854ff 117.5px,#ab60ff 118.5px,#cf6bff 119.5px,#e973ff 120.5px,#fc79fe 121.5px,#ff82d4 125.5px,#ff6cae 132.5px,#ff4d9b 141.5px,#ff279d 153.5px,#ff0cb6 162.5px,#ff05d7 169.5px,#ff08d8 173.5px,#ff03c3 176.5px,#ff008d 181.5px,#ff0089 183.5px,#ff0096 184.5px,#f0b 185.5px,#f300f5 186.5px,#a100ff 187.5px,#5a00ff 188.5px,#3500ff 189.5px,#2700ff 190.5px,#2600ff 191.5px,#4000ff 194.5px,#7803ff 198.5px,#b50aff 203.5px,#ed00ff 210.5px,#ff00fc 214.5px,#ff00e9 222.5px,#f0e 230.5px,#fd00ff 236.5px,#ce00ff 244.5px,#8600ff 252.5px,#0600ff 264.5px,#000dff 266.5px,#0054ff 275.5px,#0085ff 284.5px)"></i><i style="background:linear-gradient(90deg,#ff96a7 0.5px,#ff96b7 8.5px,#ffa2c5 14.5px,#ffa6b5 18.5px,#ffa7a5 20.5px,#ffc69a 23.5px,#ffe287 25.5px,#fef575 26.5px,#eafe58 27.5px,#b5ff22 28.5px,#62ff01 29.5px,#16d483 30.5px,#3d10ff 31.5px,#8a01ff 32.5px,#c728ff 33.5px,#ec4bff 34.5px,#fd60f9 35.5px,#ff76dd 37.5px,#ff8abc 41.5px,#ff95a7 47.5px,#ff828f 60.5px,#ff6f79 74.5px,#ff5e4f 83.5px,#ff583c 85.5px,#ff4d17 87.5px,#ff4901 88.5px,#ff6900 90.5px,#f67e07 91.5px,#208ae0 92.5px,#0062ff 93.5px,#0047ff 94.5px,#183eff 95.5px,#6f61ff 97.5px,#b484ff 99.5px,#f99fff 102.5px,#ffa6de 104.5px,#ffa9a1 107.5px,#ffd38d 109.5px,#fef17b 110.5px,#dbff5e 111.5px,#82ff32 112.5px,#10ff33 113.5px,#00f4d3 114.5px,#0374ff 115.5px,#2422ff 116.5px,#7739ff 117.5px,#af50ff 118.5px,#d260ff 119.5px,#eb6bff 120.5px,#fc73fe 121.5px,#ff7dde 124.5px,#ff72b9 130.5px,#ff57a3 138.5px,#ff339e 150.5px,#ff15b2 160.5px,#ff08d5 169.5px,#ff07d5 173.5px,#ff00b0 179.5px,#ff00a6 181.5px,#ff00ae 183.5px,#ff00c0 184.5px,#ff00e1 185.5px,#ec00fe 186.5px,#8400ff 188.5px,#6300ff 189.5px,#5100ff 190.5px,#4900ff 191.5px,#4d00ff 193.5px,#7e00ff 198.5px,#bd04ff 204.5px,#e0f 211.5px,#fe00fe 215.5px,#ff00f0 223.5px,#ff00fb 232.5px,#f100ff 237.5px,#c000ff 245.5px,#6e00ff 254.5px,#0102ff 265.5px,#0050ff 275.5px,#0081ff 284.5px)"></i><i style="background:linear-gradient(90deg,#ff97a9 0.5px,#ff99b9 9.5px,#ffa3c1 14.5px,#ffa6b2 18.5px,#ffa7a4 20.5px,#ffbd98 23.5px,#ffcf83 25.5px,#ffd970 26.5px,#ffe253 27.5px,#fce61e 28.5px,#f8d300 29.5px,#ff5118 30.5px,#f800c9 31.5px,#f301f2 32.5px,#fa27f6 33.5px,#ff4bf0 34.5px,#ff60e6 35.5px,#ff78d5 37.5px,#ff8fb9 42.5px,#ff94a7 48.5px,#ff808e 62.5px,#ff6c77 75.5px,#ff595a 81.5px,#ff4438 85.5px,#ff2813 87.5px,#ff1700 88.5px,#ff1102 89.5px,#ff0614 90.5px,#ff006c 91.5px,#bf00fc 92.5px,#4900ff 93.5px,#2b00ff 94.5px,#3f18ff 95.5px,#6b41ff 96.5px,#8f5cff 97.5px,#c57fff 99.5px,#ef93ff 101.5px,#fe99fc 102.5px,#ff9ec6 105.5px,#ff9a99 107.5px,#ffb87f 109.5px,#ffcd68 110.5px,#fceb43 111.5px,#cffd0b 112.5px,#61ff04 113.5px,#01d7ba 114.5px,#0d21ff 115.5px,#4701ff 116.5px,#8f23ff 117.5px,#be43ff 118.5px,#dc57ff 119.5px,#f164ff 120.5px,#fe6efc 121.5px,#ff79df 124.5px,#ff6cb8 131.5px,#ff51a4 140.5px,#ff2fa5 152.5px,#ff14bc 162.5px,#ff0ad6 170.5px,#ff04d2 174.5px,#ff00ba 180.5px,#ff00bf 182.5px,#ff00c9 183.5px,#ff00db 184.5px,#fe00f5 185.5px,#e500ff 186.5px,#9c00ff 188.5px,#8200ff 189.5px,#7000ff 190.5px,#6300ff 192.5px,#6d00ff 195.5px,#d200ff 207.5px,#f600ff 214.5px,#ff00fb 219.5px,#ff00fa 228.5px,#f600ff 234.5px,#cf00ff 242.5px,#80f 251.5px,#0201ff 265.5px,#0052ff 276.5px,#007dff 284.5px)"></i><i style="background:linear-gradient(90deg,#ff98aa 0.5px,#ff9cba 10.5px,#ffa4bb 15.5px,#ffa6a3 20.5px,#ffb597 23.5px,#ffbd83 25.5px,#ffbe72 26.5px,#ffb959 27.5px,#ffa433 28.5px,#ff6a08 29.5px,#ff120b 30.5px,#ff0169 31.5px,#ff11ad 32.5px,#ff37cb 33.5px,#ff53d4 34.5px,#ff72d1 36.5px,#ff8bc1 40.5px,#ff94ae 46.5px,#ff8292 60.5px,#ff6c79 75.5px,#ff575f 81.5px,#ff373b 85.5px,#ff151e 87.5px,#ff0215 88.5px,#ff0029 89.5px,#ff0052 90.5px,#ff009d 91.5px,#f100f4 92.5px,#ac00ff 93.5px,#8302ff 94.5px,#8622ff 95.5px,#9a44ff 96.5px,#c46eff 98.5px,#f88eff 101.5px,#ff97e6 103.5px,#ff95b0 106.5px,#ff8f98 107.5px,#ff9085 108.5px,#ff9a76 109.5px,#ffa25d 110.5px,#ffa735 111.5px,#ffab03 112.5px,#ffa100 113.5px,#e61d8b 114.5px,#a800ff 115.5px,#a400ff 116.5px,#bd1aff 117.5px,#d83cff 118.5px,#eb51ff 119.5px,#fa5fff 120.5px,#ff72e6 123.5px,#ff72c7 128.5px,#ff5aac 137.5px,#ff39a6 149.5px,#ff1cb9 160.5px,#ff0bd5 170.5px,#ff00ce 176.5px,#ff00c8 180.5px,#ff00d1 182.5px,#ff00ec 184.5px,#fa00fd 185.5px,#9700ff 189.5px,#7d00ff 191.5px,#7600ff 193.5px,#8700ff 197.5px,#d600ff 208.5px,#f700ff 216.5px,#ff00fd 224.5px,#f500ff 232.5px,#cf00ff 241.5px,#8d00ff 250.5px,#0300ff 265.5px,#005aff 278.5px,#0079ff 284.5px)"></i><i style="background:linear-gradient(90deg,#ff98ab 0.5px,#ff9eb9 11.5px,#ffa4b6 16.5px,#ffa79f 21.5px,#ffaf8f 24.5px,#fa7 26.5px,#ff9f65 27.5px,#ff864d 28.5px,#ff5833 29.5px,#ff252e 30.5px,#ff2462 31.5px,#ff3794 32.5px,#ff4cb1 33.5px,#ff5ec0 34.5px,#ff76c7 36.5px,#ff8cbf 40.5px,#ff93ac 47.5px,#ff7e90 63.5px,#ff6979 76.5px,#ff515f 82.5px,#ff384a 85.5px,#ff093b 88.5px,#ff004d 89.5px,#ff0073 90.5px,#ff00a8 91.5px,#fe00e5 92.5px,#e200ff 93.5px,#c20fff 94.5px,#bc2fff 95.5px,#cc5dff 97.5px,#f483ff 100.5px,#fe8afc 101.5px,#ff93d3 104.5px,#ff899d 107.5px,#ff7d70 109.5px,#ff7a5a 110.5px,#ff6a37 111.5px,#ff4209 112.5px,#ff120a 113.5px,#ff006f 114.5px,#fd00dc 115.5px,#f102fc 116.5px,#ed1fff 117.5px,#f33cff 118.5px,#ff5cf9 120.5px,#ff6ee3 123.5px,#ff6dc4 129.5px,#ff55ac 139.5px,#ff35ab 151.5px,#ff18c4 163.5px,#ff0bd6 171.5px,#ff00d1 177.5px,#ff00d8 181.5px,#ff00e9 183.5px,#ff00f7 184.5px,#f500ff 185.5px,#a600ff 189.5px,#8f00ff 191.5px,#8600ff 194.5px,#9c00ff 199.5px,#d0f 210.5px,#f600ff 218.5px,#f800ff 227.5px,#e100ff 236.5px,#b000ff 245.5px,#4c00ff 257.5px,#0500ff 265.5px,#0013ff 268.5px,#005cff 279.5px,#0076ff 284.5px)"></i><i style="background:linear-gradient(90deg,#ff99ac 0.5px,#ffa0b8 13.5px,#ffa3ac 18.5px,#ffa690 24.5px,#ff9d7d 26.5px,#ff9070 27.5px,#ff7c61 28.5px,#ff5e53 29.5px,#ff4a59 30.5px,#ff4a75 31.5px,#ff5da7 33.5px,#ff72bc 35.5px,#ff8abf 39.5px,#ff92af 46.5px,#ff7e92 63.5px,#ff6579 77.5px,#ff4a62 83.5px,#ff2457 87.5px,#ff175b 88.5px,#ff0a68 89.5px,#ff0383 90.5px,#ff04d4 92.5px,#fc0ff7 93.5px,#ec24ff 94.5px,#e13aff 95.5px,#e45fff 97.5px,#fd80fd 100.5px,#ff8edd 103.5px,#ff8ab4 106.5px,#ff7b8e 108.5px,#ff5e5f 110.5px,#ff4745 111.5px,#ff222c 112.5px,#ff0538 113.5px,#ff0073 114.5px,#ff02b1 115.5px,#ff11db 116.5px,#ff2bee 117.5px,#ff4ff2 119.5px,#ff67e5 122.5px,#ff6dcd 127.5px,#ff5ab2 137.5px,#ff3cad 149.5px,#ff1dc4 162.5px,#ff0bd7 172.5px,#ff00d7 177.5px,#ff00e2 181.5px,#fd00fd 184.5px,#a500ff 190.5px,#9400ff 193.5px,#90f 197.5px,#e200ff 212.5px,#f400ff 221.5px,#ed00ff 230.5px,#cd00ff 239.5px,#9500ff 248.5px,#0002ff 266.5px,#0053ff 278.5px,#0072ff 284.5px)"></i><i style="background:linear-gradient(90deg,#ff99ad 0.5px,#ffa1b5 14.5px,#ffa1a6 19.5px,#ff9a89 25.5px,#ff8878 27.5px,#ff6768 29.5px,#ff6082 31.5px,#ff71ae 34.5px,#ff83bb 37.5px,#ff91b5 43.5px,#ff8297 60.5px,#ff657d 77.5px,#ff4669 84.5px,#ff2d6b 87.5px,#ff1c7f 89.5px,#ff15ae 91.5px,#ff25e5 93.5px,#fe34f8 94.5px,#f652ff 96.5px,#fe75fc 99.5px,#ff89d9 103.5px,#ff85b6 106.5px,#ff6c88 109.5px,#ff4b68 111.5px,#ff3761 112.5px,#ff246b 113.5px,#ff1a87 114.5px,#ff1daa 115.5px,#ff28c8 116.5px,#ff37da 117.5px,#ff50e5 119.5px,#ff64e0 122.5px,#ff69ca 128.5px,#ff55b2 139.5px,#ff36b3 152.5px,#ff09da 173.5px,#ff00dc 177.5px,#ff00ea 181.5px,#ff00fa 183.5px,#ed00ff 185.5px,#b000ff 190.5px,#9f00ff 193.5px,#a000ff 197.5px,#e200ff 213.5px,#ef00ff 222.5px,#e500ff 231.5px,#c300ff 240.5px,#8200ff 250.5px,#0101ff 266.5px,#05f 279.5px,#006fff 284.5px)"></i><i style="background:linear-gradient(90deg,#ff9aad 0.5px,#ff9fb3 14.5px,#ff9da1 20.5px,#ff938b 25.5px,#ff7978 28.5px,#ff6e81 30.5px,#ff73a1 33.5px,#ff80b5 36.5px,#ff8fb6 42.5px,#ff889f 55.5px,#ff6882 76.5px,#ff4974 84.5px,#ff367a 87.5px,#ff2b8e 89.5px,#ff28b2 91.5px,#ff3fe8 94.5px,#ff56f7 96.5px,#ff72f2 99.5px,#ff83d6 103.5px,#ff7bad 107.5px,#ff608b 110.5px,#ff4682 112.5px,#ff3a89 113.5px,#ff34ae 115.5px,#ff41ce 117.5px,#ff52db 119.5px,#ff64d8 123.5px,#ff65c5 130.5px,#ff4eb3 142.5px,#ff31bb 155.5px,#ff08dd 174.5px,#ff00e1 177.5px,#ff00f7 182.5px,#fe00fe 183.5px,#b800ff 190.5px,#a600ff 194.5px,#ac00ff 199.5px,#e100ff 214.5px,#e900ff 224.5px,#d600ff 234.5px,#a800ff 244.5px,#4900ff 257.5px,#0200ff 266.5px,#0057ff 280.5px,#006cff 284.5px)"></i><i style="background:linear-gradient(90deg,#ff9aae 0.5px,#ff9eb1 14.5px,#ff9a9e 21.5px,#ff8887 26.5px,#ff7986 29.5px,#ff79a1 33.5px,#ff85b4 37.5px,#ff8fb0 45.5px,#ff728d 71.5px,#ff557d 82.5px,#ff4281 86.5px,#ff3698 89.5px,#ff39c3 92.5px,#ff50e5 95.5px,#ff69eb 98.5px,#ff7dda 102.5px,#ff7bbb 106.5px,#ff6299 110.5px,#ff4f95 112.5px,#ff43a5 114.5px,#ff49c9 117.5px,#ff58d7 120.5px,#ff66cf 126.5px,#ff55b8 139.5px,#ff37bb 153.5px,#ff0ae0 174.5px,#ff00e8 178.5px,#fb00ff 183.5px,#b800ff 191.5px,#ac00ff 195.5px,#b900ff 202.5px,#df00ff 215.5px,#e400ff 225.5px,#ce00ff 235.5px,#9d00ff 245.5px,#2900ff 261.5px,#0300ff 266.5px,#005fff 282.5px,#0068ff 284.5px)"></i><i style="background:linear-gradient(90deg,#ff9baf 0.5px,#ff9eaf 15.5px,#ff9397 23.5px,#ff818c 28.5px,#ff7da2 33.5px,#ff88b3 38.5px,#ff8dab 48.5px,#ff6d8c 74.5px,#ff4f85 84.5px,#ff4196 88.5px,#ff43c0 92.5px,#ff54db 95.5px,#ff68e2 98.5px,#ff7ad0 103.5px,#ff74b5 107.5px,#ff5ca2 111.5px,#ff4dad 114.5px,#ff52cb 118.5px,#ff5fd3 122.5px,#ff62c6 130.5px,#ff4bb8 144.5px,#ff2fc5 158.5px,#ff09e4 175.5px,#ff00ef 179.5px,#fe00fe 182.5px,#be00ff 191.5px,#b200ff 196.5px,#c400ff 205.5px,#de00ff 217.5px,#dc00ff 227.5px,#c100ff 237.5px,#8700ff 248.5px,#0003ff 267.5px,#0057ff 281.5px,#0065ff 284.5px)"></i><i style="background:linear-gradient(90deg,#ff9baf 0.5px,#ff9dae 15.5px,#ff9097 24.5px,#ff8294 29.5px,#ff83aa 35.5px,#ff8cb1 42.5px,#ff829e 59.5px,#ff648b 78.5px,#ff4f8e 85.5px,#ff46a4 89.5px,#ff4dc7 93.5px,#ff62db 97.5px,#ff75d2 102.5px,#ff71b8 107.5px,#ff5faa 111.5px,#ff53b2 114.5px,#ff58cc 119.5px,#ff62ce 125.5px,#ff58be 137.5px,#ff3ebe 151.5px,#ff0ce7 175.5px,#ff00f3 179.5px,#fc00ff 182.5px,#c300ff 191.5px,#b700ff 196.5px,#c400ff 205.5px,#db00ff 218.5px,#d600ff 228.5px,#b800ff 238.5px,#7d00ff 249.5px,#0002ff 267.5px,#0059ff 282.5px,#0062ff 284.5px)"></i><i style="background:linear-gradient(90deg,#ff9bb0 0.5px,#ff9cae 15.5px,#ff8e99 25.5px,#ff849b 30.5px,#ff89b0 39.5px,#ff88a5 53.5px,#ff6a90 76.5px,#ff5591 84.5px,#ff4ca7 89.5px,#ff56ca 94.5px,#ff66d5 98.5px,#ff73c8 104.5px,#ff64b2 110.5px,#ff57b7 114.5px,#ff5dce 121.5px,#ff60c6 131.5px,#ff49be 146.5px,#ff2bd1 162.5px,#ff08ef 177.5px,#ff00fe 181.5px,#c300ff 192.5px,#b0f 198.5px,#d800ff 219.5px,#cd00ff 230.5px,#a600ff 241.5px,#5900ff 254.5px,#0101ff 267.5px,#005bff 283.5px,#005fff 284.5px)"></i><i style="background:linear-gradient(90deg,#ff9cb0 0.5px,#ff9aac 16.5px,#ff899b 28.5px,#ff88ad 37.5px,#ff8bab 48.5px,#ff7095 73.5px,#ff5b94 83.5px,#ff51aa 89.5px,#ff5ccb 95.5px,#ff6cd0 100.5px,#ff6ec0 106.5px,#ff5fb6 112.5px,#ff5ac7 118.5px,#ff60cd 125.5px,#ff55c1 139.5px,#ff3ac8 155.5px,#ff0fef 176.5px,#fd00ff 181.5px,#c700ff 192.5px,#be00ff 199.5px,#d500ff 219.5px,#c900ff 230.5px,#a300ff 241.5px,#5800ff 254.5px,#0200ff 267.5px,#005dff 284.5px)"></i><i style="background:linear-gradient(90deg,#ff9cb0 0.5px,#ff99ab 17.5px,#ff8a9e 28.5px,#ff8aaf 40.5px,#ff83a2 58.5px,#ff6396 80.5px,#ff56a3 87.5px,#ff5bc4 94.5px,#ff68ce 99.5px,#ff6cc1 106.5px,#ff60ba 112.5px,#ff5dca 120.5px,#ff5ec7 132.5px,#ff45c4 149.5px,#ff21e4 170.5px,#fc04ff 181.5px,#c700ff 193.5px,#c100ff 201.5px,#d100ff 220.5px,#c200ff 231.5px,#9a00ff 242.5px,#4300ff 257.5px,#0200ff 267.5px,#005aff 284.5px)"></i><i style="background:linear-gradient(90deg,#ff9cb1 0.5px,#ff98aa 18.5px,#ff8aa2 29.5px,#ff8bae 43.5px,#ff7a9d 66.5px,#ff619b 82.5px,#ff59b2 90.5px,#ff64c9 97.5px,#ff6cc4 105.5px,#ff60be 113.5px,#ff60cc 124.5px,#ff55c5 139.5px,#ff3bce 156.5px,#ff13f6 177.5px,#fa08ff 181.5px,#db00ff 188.5px,#c400ff 196.5px,#c800ff 208.5px,#cd00ff 222.5px,#b900ff 233.5px,#80f 245.5px,#0003ff 268.5px,#0057ff 284.5px)"></i><i style="background:linear-gradient(90deg,#ff9cb1 0.5px,#ff97a9 19.5px,#ff8aa5 30.5px,#ff8aae 44.5px,#ff779d 69.5px,#ff639e 82.5px,#ff5dba 92.5px,#ff67c9 99.5px,#ff68c0 108.5px,#ff5ec5 117.5px,#ff5fcb 128.5px,#ff49c8 148.5px,#ff27e5 169.5px,#fd0fff 180.5px,#d501ff 190.5px,#c502ff 198.5px,#c900ff 222.5px,#b200ff 234.5px,#8000ff 246.5px,#0002ff 268.5px,#05f 284.5px)"></i><i style="background:linear-gradient(90deg,#ff9cb2 0.5px,#ff95a8 21.5px,#ff8aa9 33.5px,#ff89ac 48.5px,#ff6f9e 75.5px,#ff60a9 86.5px,#ff65c5 97.5px,#ff69c2 107.5px,#ff5fc6 117.5px,#ff5eca 131.5px,#ff45cc 151.5px,#ff22ef 173.5px,#fc13ff 180.5px,#d105ff 192.5px,#c605ff 202.5px,#c600ff 222.5px,#ae00ff 234.5px,#7900ff 247.5px,#0001ff 268.5px,#0053ff 284.5px)"></i><i style="background:linear-gradient(90deg,#ff9cb2 0.5px,#ff91a7 25.5px,#ff89ad 48.5px,#ff6ea0 76.5px,#ff61ad 87.5px,#ff68c6 99.5px,#ff65c2 111.5px,#ff5ecb 130.5px,#ff46ce 151.5px,#ff24f1 173.5px,#fb17ff 180.5px,#d109ff 193.5px,#c707ff 204.5px,#c300ff 222.5px,#ab00ff 234.5px,#7600ff 247.5px,#0100ff 268.5px,#0050ff 284.5px)"></i><i style="background:linear-gradient(90deg,#ff9db2 0.5px,#ff8ea8 28.5px,#ff89ac 49.5px,#ff6da3 78.5px,#ff62b6 90.5px,#ff68c5 100.5px,#ff61c7 117.5px,#ff56cb 139.5px,#ff3ed8 158.5px,#fd1cff 179.5px,#d10cff 194.5px,#c707ff 208.5px,#bf00ff 223.5px,#a100ff 236.5px,#6500ff 250.5px,#0100ff 268.5px,#004eff 284.5px)"></i><i style="background:linear-gradient(90deg,#ff9db3 0.5px,#ff8cac 33.5px,#ff86ab 54.5px,#ff6ca6 79.5px,#ff65bd 93.5px,#ff69c5 104.5px,#ff56cd 140.5px,#ff3cdd 160.5px,#fc1fff 179.5px,#d10fff 195.5px,#b0f 224.5px,#9b00ff 237.5px,#5900ff 252.5px,#0003ff 269.5px,#004cff 284.5px)"></i><i style="background:linear-gradient(90deg,#ff9db3 0.5px,#ff8cad 34.5px,#ff81a9 60.5px,#ff6baa 81.5px,#ff67c1 96.5px,#ff64c7 115.5px,#ff54cf 142.5px,#ff3ae3 163.5px,#fe23ff 178.5px,#d012ff 196.5px,#b700ff 225.5px,#9500ff 238.5px,#4d00ff 254.5px,#0002ff 269.5px,#004aff 284.5px)"></i><i style="background:linear-gradient(90deg,#ff9db4 0.5px,#ff7ea9 64.5px,#ff6bae 83.5px,#ff69c5 102.5px,#ff55d0 141.5px,#ff3be4 163.5px,#fd26ff 178.5px,#d015ff 197.5px,#b600ff 224.5px,#9200ff 238.5px,#4c00ff 254.5px,#0001ff 269.5px,#0048ff 284.5px)"></i><i style="background:linear-gradient(90deg,#ff9db4 0.5px,#ff7daa 65.5px,#ff6bb0 84.5px,#ff69c6 103.5px,#ff55d1 142.5px,#ff3be7 164.5px,#fc29ff 178.5px,#d017ff 198.5px,#b301ff 224.5px,#8c00ff 239.5px,#3c00ff 257.5px,#0001ff 269.5px,#0046ff 284.5px)"></i><i style="background:linear-gradient(90deg,#ff9db4 0.5px,#ff7dab 66.5px,#ff6cb3 85.5px,#ff69c6 105.5px,#ff55d3 143.5px,#ff3bec 166.5px,#fb2bff 178.5px,#cf1aff 199.5px,#b204ff 224.5px,#8600ff 240.5px,#3200ff 259.5px,#0100ff 269.5px,#04f 284.5px)"></i><i style="background:linear-gradient(90deg,#ff9db5 0.5px,#ff7dac 66.5px,#ff6cb6 86.5px,#ff69c7 107.5px,#ff53d6 145.5px,#ff39f2 169.5px,#fa2eff 178.5px,#cf1cff 200.5px,#b107ff 224.5px,#8e00ff 237.5px,#4500ff 255.5px,#0004ff 270.5px,#0042ff 284.5px)"></i><i style="background:linear-gradient(90deg,#ff9db5 0.5px,#ff7dae 67.5px,#ff6db9 88.5px,#ff68ca 112.5px,#ff51d9 148.5px,#ff36fa 173.5px,#f12cff 182.5px,#cc1dff 203.5px,#ae09ff 225.5px,#8900ff 238.5px,#3b00ff 257.5px,#0003ff 270.5px,#0040ff 284.5px)"></i><i style="background:linear-gradient(90deg,#ff9db6 0.5px,#ff7caf 68.5px,#ff6dbc 90.5px,#ff61d1 128.5px,#ff49e3 157.5px,#fb33ff 177.5px,#cd20ff 202.5px,#ad0cff 225.5px,#8000ff 240.5px,#2300ff 262.5px,#0002ff 270.5px,#003eff 284.5px)"></i><i style="background:linear-gradient(90deg,#ff9eb6 0.5px,#ff7cb0 69.5px,#ff6dc2 95.5px,#ff59d7 141.5px,#ff40f2 167.5px,#fa35ff 177.5px,#cb21ff 204.5px,#a90eff 226.5px,#70f 242.5px,#0001ff 270.5px,#003cff 284.5px)"></i><i style="background:linear-gradient(90deg,#ff9eb7 0.5px,#ff7cb2 70.5px,#ff6cc7 102.5px,#ff55dc 146.5px,#ff3cfb 172.5px,#c31fff 210.5px,#a10dff 229.5px,#6b00ff 245.5px,#0001ff 270.5px,#003aff 284.5px)"></i><i style="background:linear-gradient(90deg,#ff9eb7 0.5px,#ff7bb3 71.5px,#ff5dd8 137.5px,#ff45f0 164.5px,#fb3aff 176.5px,#c623ff 208.5px,#a311ff 228.5px,#6d00ff 244.5px,#0100ff 270.5px,#0039ff 284.5px)"></i><i style="background:linear-gradient(90deg,#ff9eb8 0.5px,#ff7bb5 72.5px,#ff56de 146.5px,#fc3dff 175.5px,#a515ff 227.5px,#7204ff 243.5px,#0100ff 270.5px,#0239ff 284.5px)"></i><i style="background:linear-gradient(90deg,#ff9eb8 0.5px,#ff7ab6 74.5px,#ff57df 146.5px,#fd3fff 174.5px,#a417ff 227.5px,#6e06ff 244.5px,#1f00ff 263.5px,#0002ff 271.5px,#0539ff 284.5px)"></i><i style="background:linear-gradient(90deg,#ff9eb9 0.5px,#ff7ab8 75.5px,#ff57e1 147.5px,#fc41ff 174.5px,#a41aff 227.5px,#6f09ff 244.5px,#1b00ff 264.5px,#0001ff 271.5px,#083aff 284.5px)"></i><i style="background:linear-gradient(90deg,#ff9eb9 0.5px,#ff79ba 77.5px,#ff57e3 148.5px,#fb42ff 174.5px,#a61dff 226.5px,#6f0cff 244.5px,#0c01ff 268.5px,#0207ff 272.5px,#0b3bff 284.5px)"></i><i style="background:linear-gradient(90deg,#ff9eba 0.5px,#ff7abb 77.5px,#ff57e5 149.5px,#fc44ff 173.5px,#a520ff 226.5px,#700fff 244.5px,#1004ff 268.5px,#0509ff 272.5px,#0d3cff 284.5px)"></i><i style="background:linear-gradient(90deg,#ff9eba 0.5px,#ff7bbc 77.5px,#ff57e7 150.5px,#fb46ff 173.5px,#a522ff 226.5px,#6d11ff 245.5px,#0c08ff 270.5px,#0a1cff 276.5px,#103cff 284.5px)"></i><i style="background:linear-gradient(90deg,#ff9ebb 0.5px,#ff7bbd 77.5px,#ff56ea 152.5px,#fc48ff 172.5px,#a524ff 226.5px,#6e14ff 245.5px,#100bff 270.5px,#0c19ff 275.5px,#123dff 284.5px)"></i><i style="background:linear-gradient(90deg,#ff9fbb 0.5px,#ff7cbe 77.5px,#ff57ec 153.5px,#fb49ff 172.5px,#a727ff 225.5px,#6e16ff 245.5px,#130dff 270.5px,#0f17ff 274.5px,#153eff 284.5px)"></i><i style="background:linear-gradient(90deg,#ff9fbc 0.5px,#ff7dbf 76.5px,#ff57ed 154.5px,#fb4aff 172.5px,#a729ff 225.5px,#6c18ff 246.5px,#1310ff 271.5px,#173fff 284.5px)"></i><i style="background:linear-gradient(90deg,#ff9fbc 0.5px,#ff7dc0 76.5px,#ff58ee 154.5px,#fb4cff 171.5px,#a62bff 225.5px,#6d1aff 246.5px,#1613ff 271.5px,#1a3fff 284.5px)"></i><i style="background:linear-gradient(90deg,#ff9fbc 0.5px,#ff7ec1 76.5px,#ff59ee 153.5px,#fb4dff 171.5px,#a82eff 224.5px,#6d1dff 246.5px,#1716ff 272.5px,#1c40ff 284.5px)"></i><i style="background:linear-gradient(90deg,#ff9fbd 0.5px,#ff7ec1 76.5px,#ff5aef 153.5px,#fb4fff 170.5px,#a82fff 224.5px,#6b1fff 247.5px,#1a18ff 272.5px,#1e41ff 284.5px)"></i><i style="background:linear-gradient(90deg,#ff9fbd 0.5px,#ff7fc2 76.5px,#ff5bf0 153.5px,#fb50ff 170.5px,#a831ff 224.5px,#6c21ff 247.5px,#1d1bff 272.5px,#2142ff 284.5px)"></i><i style="background:linear-gradient(90deg,#ff9fbe 0.5px,#ff7fc3 76.5px,#ff5cf0 152.5px,#fb52ff 169.5px,#aa34ff 223.5px,#6d23ff 247.5px,#1e1eff 273.5px,#2342ff 284.5px)"></i><i style="background:linear-gradient(90deg,#ff9fbe 0.5px,#ff80c4 76.5px,#ff5df1 152.5px,#fb53ff 169.5px,#aa35ff 223.5px,#6b25ff 248.5px,#2020ff 273.5px,#2543ff 284.5px)"></i><i style="background:linear-gradient(90deg,#ffa0bf 0.5px,#ff80c5 76.5px,#ff5ef2 152.5px,#fb55ff 168.5px,#ac38ff 222.5px,#6f27ff 247.5px,#2322ff 273.5px,#2744ff 284.5px)"></i><i style="background:linear-gradient(90deg,#ffa0bf 0.5px,#ff81c6 76.5px,#ff5ff1 151.5px,#fb55ff 168.5px,#ac39ff 222.5px,#6d29ff 248.5px,#2526ff 274.5px,#2945ff 284.5px)"></i></div>
<div class="f" style="left:384px;top:194px"><i style="background:linear-gradient(90deg,#ffc0a0 0.5px,#ffc87e 85.5px,#ffeb60 146.5px,#fbff54 168.5px,#adff39 221.5px,#6cff29 248.5px,#26ff24 273.5px,#29ff45 284.5px)"></i><i style="background:linear-gradient(90deg,#ffbfa0 0.5px,#ffc77e 85.5px,#ffeb5f 147.5px,#fcff53 168.5px,#adff37 221.5px,#6eff27 247.5px,#23ff22 273.5px,#27ff44 284.5px)"></i><i style="background:linear-gradient(90deg,#ffbf9f 0.5px,#ffc67e 85.5px,#ffea5e 147.5px,#fbff51 169.5px,#abff35 222.5px,#6dff25 247.5px,#20ff20 273.5px,#25ff43 284.5px)"></i><i style="background:linear-gradient(90deg,#ffbe9f 0.5px,#ffc57e 84.5px,#ffe95d 147.5px,#fcff50 169.5px,#abff34 222.5px,#6cff23 247.5px,#1eff1e 273.5px,#23ff43 284.5px)"></i><i style="background:linear-gradient(90deg,#ffbe9f 0.5px,#ffc47d 84.5px,#ffe85d 147.5px,#fbff4f 170.5px,#abff32 222.5px,#6eff21 246.5px,#1dff1b 272.5px,#21ff42 284.5px)"></i><i style="background:linear-gradient(90deg,#ffbd9f 0.5px,#ffc37d 84.5px,#ffe85b 148.5px,#fbff4d 170.5px,#acff30 222.5px,#71ff20 245.5px,#1aff19 272.5px,#1fff41 284.5px)"></i><i style="background:linear-gradient(90deg,#ffbd9f 0.5px,#ffc27e 81.5px,#ffe65c 146.5px,#fcff4c 170.5px,#aaff2d 223.5px,#6cff1d 246.5px,#17ff16 272.5px,#1cff40 284.5px)"></i><i style="background:linear-gradient(90deg,#ffbc9f 0.5px,#ffc07f 78.5px,#ffe25d 143.5px,#fbff4a 171.5px,#aaff2c 223.5px,#6fff1b 245.5px,#16ff13 271.5px,#1aff40 284.5px)"></i><i style="background:linear-gradient(90deg,#ffbc9e 0.5px,#ffbe80 75.5px,#ffdf5e 140.5px,#fcff49 171.5px,#aaff2a 223.5px,#71ff19 244.5px,#16ff10 270.5px,#12ff19 274.5px,#18ff3f 284.5px)"></i><i style="background:linear-gradient(90deg,#ffbb9e 0.5px,#ffbc81 72.5px,#ffdb60 136.5px,#fffa4b 166.5px,#f0ff43 179.5px,#a8ff27 224.5px,#6dff16 245.5px,#10ff0e 271.5px,#15ff3e 284.5px)"></i><i style="background:linear-gradient(90deg,#ffbb9e 0.5px,#ffbb82 70.5px,#ffd862 132.5px,#fff44d 162.5px,#faff45 173.5px,#a8ff25 224.5px,#70ff14 244.5px,#10ff0b 270.5px,#0dff1e 276.5px,#13ff3d 284.5px)"></i><i style="background:linear-gradient(90deg,#ffba9e 0.5px,#ffba83 68.5px,#ffd465 126.5px,#ffed4e 158.5px,#fcff45 172.5px,#a8ff23 224.5px,#73ff12 243.5px,#10ff08 269.5px,#09ff10 273.5px,#10ff3d 284.5px)"></i><i style="background:linear-gradient(90deg,#ffba9e 0.5px,#ffb883 66.5px,#ffd067 121.5px,#ffea4f 156.5px,#fbff43 173.5px,#a9ff20 224.5px,#72ff10 243.5px,#10ff05 268.5px,#06ff0a 272.5px,#0eff3c 284.5px)"></i><i style="background:linear-gradient(90deg,#ffb99e 0.5px,#ffb784 64.5px,#ffce67 118.5px,#ffe84f 155.5px,#fcff41 173.5px,#a7ff1d 225.5px,#71ff0d 243.5px,#0cff02 268.5px,#03ff08 272.5px,#0bff3b 284.5px)"></i><i style="background:linear-gradient(90deg,#ffb99e 0.5px,#ffb685 62.5px,#ffcb67 116.5px,#ffe54e 154.5px,#fcff40 173.5px,#a7ff1b 225.5px,#71ff0a 243.5px,#1bff00 264.5px,#00ff02 271.5px,#08ff3a 284.5px)"></i><i style="background:linear-gradient(90deg,#ffb89d 0.5px,#ffb68b 54.5px,#ffbf72 96.5px,#ffde52 149.5px,#fdff3e 173.5px,#a7ff18 225.5px,#74ff08 242.5px,#2bff00 260.5px,#00ff03 271.5px,#05ff3a 284.5px)"></i><i style="background:linear-gradient(90deg,#ffb79d 0.5px,#ffb68c 52.5px,#ffba78 84.5px,#ffda54 146.5px,#fbff3c 174.5px,#a8ff16 225.5px,#74ff05 242.5px,#16ff00 265.5px,#00ff03 271.5px,#02ff39 284.5px)"></i><i style="background:linear-gradient(90deg,#ffb79d 0.5px,#ffb68d 50.5px,#ffb67b 76.5px,#ffd854 145.5px,#fffb3d 170.5px,#e5ff31 187.5px,#a8ff13 225.5px,#77ff03 241.5px,#01ff00 270.5px,#00ff39 284.5px)"></i><i style="background:linear-gradient(90deg,#ffb69d 0.5px,#ffb68e 49.5px,#ffb47c 73.5px,#ffd555 143.5px,#fff33e 166.5px,#faff37 175.5px,#a7ff0f 226.5px,#6dff00 244.5px,#00ff01 270.5px,#00ff3a 284.5px)"></i><i style="background:linear-gradient(90deg,#ffb69d 0.5px,#ffb68f 48.5px,#ffb27e 69.5px,#ffc764 115.5px,#ffd355 142.5px,#ffee3f 164.5px,#fbff35 175.5px,#a7ff0c 226.5px,#75ff00 242.5px,#00ff02 270.5px,#00ff3c 284.5px)"></i><i style="background:linear-gradient(90deg,#ffb59d 0.5px,#ffb68f 47.5px,#ffb07f 67.5px,#ffc564 114.5px,#ffd157 140.5px,#ffe840 161.5px,#fbff33 175.5px,#a8ff09 226.5px,#7eff00 240.5px,#2f0 262.5px,#00ff02 270.5px,#00ff3e 284.5px)"></i><i style="background:linear-gradient(90deg,#ffb49d 0.5px,#ffb990 36.5px,#ffb08a 54.5px,#ffb379 77.5px,#ffc463 114.5px,#ffce5d 132.5px,#ffda47 153.5px,#fcff31 175.5px,#caff19 206.5px,#a6ff05 227.5px,#71ff00 244.5px,#00ff03 270.5px,#00ff40 284.5px)"></i><i style="background:linear-gradient(90deg,#ffb49c 0.5px,#ffb78f 34.5px,#ffb690 47.5px,#ffac80 64.5px,#ffc262 113.5px,#ffcd60 128.5px,#ffd54a 150.5px,#fcff2f 175.5px,#ccff18 204.5px,#aaff03 226.5px,#7f0 243.5px,#01ff00 269.5px,#00ff42 284.5px)"></i><i style="background:linear-gradient(90deg,#ffb39c 0.5px,#ffb68f 33.5px,#ffb892 44.5px,#ffaa81 62.5px,#ffbf61 112.5px,#ffcc60 126.5px,#ffd14b 148.5px,#fff233 168.5px,#faff2c 176.5px,#cdff16 203.5px,#abff00 226.5px,#80ff00 241.5px,#2f0 262.5px,#01ff01 269.5px,#00ff43 284.5px)"></i><i style="background:linear-gradient(90deg,#ffb39c 0.5px,#ffb48e 32.5px,#ffba92 43.5px,#ffa983 60.5px,#ffbe60 112.5px,#ffcc60 124.5px,#ffcd4e 145.5px,#ffe836 164.5px,#fdff2b 175.5px,#d1ff16 200.5px,#adff00 226.5px,#82ff00 241.5px,#27ff00 261.5px,#00ff01 269.5px,#00ff45 284.5px)"></i><i style="background:linear-gradient(90deg,#ffb29c 0.5px,#ffb48d 32.5px,#ffbb93 42.5px,#ffa989 55.5px,#ffac79 72.5px,#ffb763 108.5px,#ffc95e 119.5px,#ffc95c 133.5px,#ffd145 151.5px,#fff52d 170.5px,#faff27 176.5px,#d2ff14 199.5px,#b1ff00 225.5px,#8cff00 239.5px,#41ff00 256.5px,#00ff02 269.5px,#00ff47 284.5px)"></i><i style="background:linear-gradient(90deg,#ffb19c 0.5px,#ffb18c 31.5px,#ffbd93 41.5px,#ffab8e 52.5px,#ffa57e 63.5px,#ffb567 104.5px,#ffbb5c 112.5px,#ffcc60 122.5px,#ffc758 136.5px,#ffd340 154.5px,#fdff26 175.5px,#d6ff14 196.5px,#b9ff00 222.5px,#9f0 236.5px,#5bff00 251.5px,#00ff03 269.5px,#00ff49 284.5px)"></i><i style="background:linear-gradient(90deg,#ffb19c 0.5px,#ffad8c 29.5px,#ffbd8e 37.5px,#ffbb96 44.5px,#ffa385 57.5px,#ffac76 76.5px,#ffb467 104.5px,#ffb85a 112.5px,#ffcd5f 121.5px,#ffc75c 133.5px,#fc4 150.5px,#ffeb2b 167.5px,#fdff23 175.5px,#d8ff13 194.5px,#beff00 219.5px,#a4ff00 233.5px,#70ff00 247.5px,#00ff04 269.5px,#00ff4c 284.5px)"></i><i style="background:linear-gradient(90deg,#ffb09c 0.5px,#ffac91 25.5px,#ffad88 31.5px,#ffc190 38.5px,#ffba98 45.5px,#ffa085 57.5px,#ffaa76 74.5px,#ffb369 103.5px,#ffb15b 110.5px,#ffc859 117.5px,#ffcd61 124.5px,#ffc355 138.5px,#ffd03b 155.5px,#fdff20 175.5px,#dbff12 192.5px,#c3ff00 216.5px,#adff00 231.5px,#7fff00 244.5px,#01ff00 268.5px,#00ff4e 284.5px)"></i><i style="background:linear-gradient(90deg,#ffaf9c 0.5px,#ffad92 24.5px,#ffa787 30.5px,#ffba87 35.5px,#ffc595 40.5px,#ffb598 47.5px,#ff9e86 56.5px,#ffa577 69.5px,#ffb36a 102.5px,#ffad59 110.5px,#ffc153 115.5px,#ffd05d 120.5px,#ffc861 129.5px,#ffc24d 143.5px,#ffd533 159.5px,#fdff1d 175.5px,#df1 190.5px,#c7ff00 211.5px,#b8ff00 227.5px,#93ff00 240.5px,#4f0 256.5px,#01ff01 268.5px,#00ff50 284.5px)"></i><i style="background:linear-gradient(90deg,#ffaf9c 0.5px,#ffad93 23.5px,#ffa284 30.5px,#ffb581 34.5px,#ffc88f 38.5px,#ffc39b 43.5px,#ffa693 51.5px,#ff9981 58.5px,#ffa875 73.5px,#ffb36a 102.5px,#ffa65a 109.5px,#ffb44e 113.5px,#ffcf57 118.5px,#ffcf63 124.5px,#ffc058 136.5px,#ffc73d 152.5px,#ffe723 167.5px,#fdff1a 175.5px,#deff10 189.5px,#c9ff00 208.5px,#bdff00 226.5px,#9dff00 238.5px,#5bff00 252.5px,#00ff01 268.5px,#00ff52 284.5px)"></i><i style="background:linear-gradient(90deg,#ffae9b 0.5px,#ffb093 18.5px,#ffab93 24.5px,#ff9a80 30.5px,#ffaa78 33.5px,#ffc683 36.5px,#ffce94 39.5px,#ffc29f 44.5px,#ffa091 52.5px,#ff9680 58.5px,#ffa574 71.5px,#ffb56b 100.5px,#ffa765 106.5px,#ffa053 110.5px,#ffb048 113.5px,#ffcf51 117.5px,#ffd660 121.5px,#ffc864 128.5px,#ffbd51 140.5px,#ffca34 156.5px,#fff01c 170.5px,#fdff16 175.5px,#e0ff0f 187.5px,#cbff00 204.5px,#c2ff00 225.5px,#a4ff00 237.5px,#68ff00 250.5px,#00ff02 268.5px,#0f5 284.5px)"></i><i style="background:linear-gradient(90deg,#ffad9b 0.5px,#ffae92 16.5px,#ffad94 23.5px,#ff9587 28.5px,#ff8e73 31.5px,#ffa26c 33.5px,#ffcc7e 36.5px,#ffd595 39.5px,#ffc4a2 44.5px,#ffa195 51.5px,#ff9181 57.5px,#ff9f74 67.5px,#ffab70 84.5px,#ffb268 96.5px,#ffb36c 102.5px,#ff9e61 107.5px,#ff954e 110.5px,#ff9f42 112.5px,#ffc342 115.5px,#ffd954 118.5px,#ffd566 123.5px,#ffc161 131.5px,#ffbb4a 143.5px,#ffce2c 159.5px,#fcff13 175.5px,#e0ff0d 186.5px,#cdff00 201.5px,#c5ff00 225.5px,#a8ff00 237.5px,#6aff00 250.5px,#00ff03 268.5px,#00ff57 284.5px)"></i><i style="background:linear-gradient(90deg,#ffad9b 0.5px,#ffab91 15.5px,#ffaf93 22.5px,#ff9d8e 26.5px,#ff827c 29.5px,#ff7765 31.5px,#ff805b 32.5px,#ff9556 33.5px,#ffb15c 34.5px,#ffc968 35.5px,#ffd776 36.5px,#ffde8d 38.5px,#ffd1a3 42.5px,#ffb5a3 47.5px,#ff908a 54.5px,#ff8d7a 59.5px,#ffa572 72.5px,#ffaa6a 91.5px,#ffb769 99.5px,#ffb06d 103.5px,#ff9761 107.5px,#ff8648 110.5px,#ff883d 111.5px,#ff9135 112.5px,#ffb532 114.5px,#ffd540 116.5px,#ffe152 118.5px,#ffdb67 122.5px,#ffc667 128.5px,#ffb855 137.5px,#ffc036 153.5px,#ffde1c 166.5px,#fcff0f 175.5px,#e2ff0b 184.5px,#cfff00 199.5px,#c8ff00 225.5px,#afff00 236.5px,#78ff00 248.5px,#02ff00 267.5px,#00ff5a 284.5px)"></i><i style="background:linear-gradient(90deg,#ffac9b 0.5px,#ffa98e 15.5px,#ffb091 22.5px,#ffa190 25.5px,#ff767e 29.5px,#ff6670 30.5px,#ff5457 31.5px,#ff533a 32.5px,#ff7b2e 33.5px,#ffb439 34.5px,#ffdb53 35.5px,#ffea6c 36.5px,#ffea8d 38.5px,#ffdaa3 41.5px,#ffbba8 46.5px,#ff8f8e 53.5px,#ff857c 57.5px,#ff9871 65.5px,#ffa971 78.5px,#ffa867 92.5px,#ffb765 98.5px,#ffb66d 102.5px,#ff9a68 106.5px,#ff784e 109.5px,#ff6f3f 110.5px,#ff6e2f 111.5px,#ff7920 112.5px,#ff9319 113.5px,#ffb41c 114.5px,#ffd027 115.5px,#ffe237 116.5px,#ffed51 118.5px,#ffe467 121.5px,#ffcc6c 126.5px,#ffb75c 134.5px,#ffb93d 149.5px,#ffd021 162.5px,#fbff0b 175.5px,#e2ff09 183.5px,#d0ff00 198.5px,#ceff00 212.5px,#cbff00 226.5px,#afff00 237.5px,#75ff00 249.5px,#01ff01 267.5px,#00ff5c 284.5px)"></i><i style="background:linear-gradient(90deg,#ffac9b 0.5px,#ffa68b 15.5px,#ffb28c 21.5px,#ffa78f 24.5px,#ff718c 29.5px,#ff5c84 30.5px,#ff3968 31.5px,#ff0f25 32.5px,#ff5700 33.5px,#fdd308 34.5px,#f3fa37 35.5px,#f3fe61 36.5px,#fafd7b 37.5px,#fff098 39.5px,#ffd8aa 42.5px,#ffb4a9 47.5px,#ff8d94 53.5px,#ff7e79 57.5px,#ff936f 64.5px,#ffa771 75.5px,#ffa66b 89.5px,#ffab5f 95.5px,#ffbc65 100.5px,#ffb36d 103.5px,#ff9469 106.5px,#ff7458 108.5px,#ff4d34 110.5px,#ff411a 111.5px,#ff4f05 112.5px,#ff8100 113.5px,#ffba02 114.5px,#ffe410 115.5px,#fef72a 116.5px,#fefb51 118.5px,#ffe96b 121.5px,#ffd171 125.5px,#ffb761 132.5px,#ffb346 144.5px,#ffc525 159.5px,#ffe60e 169.5px,#faff06 175.5px,#dfff06 183.5px,#cf0 201.5px,#d1ff00 224.5px,#baff00 235.5px,#89ff00 246.5px,#01ff01 267.5px,#00ff5a 283.5px,#00ff5f 284.5px)"></i><i style="background:linear-gradient(90deg,#ffab9b 0.5px,#ffa18f 12.5px,#ffa681 17.5px,#ffb586 21.5px,#ffa88d 24.5px,#ff908c 26.5px,#ff7f9b 28.5px,#ff70a2 29.5px,#ff58a7 30.5px,#ff28a6 31.5px,#ff009c 32.5px,#e85343 33.5px,#93fe00 34.5px,#9cff21 35.5px,#c6ff5d 36.5px,#e2ff7c 37.5px,#f5ff8f 38.5px,#fffa9b 39.5px,#ffdbad 42.5px,#ffbbaf 46.5px,#ff93a2 52.5px,#ff7676 57.5px,#ff896c 62.5px,#ffa16f 70.5px,#ffa970 84.5px,#ffa162 92.5px,#ffa758 95.5px,#ffba57 98.5px,#ffc165 101.5px,#ffac6e 104.5px,#ff8f6a 106.5px,#ff6257 108.5px,#ff2a37 110.5px,#ff0a14 111.5px,#ff1d02 112.5px,#ff7600 113.5px,#fddb00 114.5px,#e9fe01 115.5px,#dfff1d 116.5px,#e6ff3e 117.5px,#f1ff53 118.5px,#fff86a 120.5px,#ffdf75 123.5px,#ffbd6b 129.5px,#ffaf56 136.5px,#ffb92f 154.5px,#ffd313 165.5px,#feff02 174.5px,#e0ff02 181.5px,#cbff00 205.5px,#d5ff00 223.5px,#c2ff00 234.5px,#92ff00 245.5px,#1aff00 263.5px,#00ff02 267.5px,#00ff58 282.5px,#00ff62 284.5px)"></i><i style="background:linear-gradient(90deg,#ffaa9c 0.5px,#ff9f90 11.5px,#ff9b79 16.5px,#ffaf74 19.5px,#ffba7d 21.5px,#ffb589 23.5px,#ff928f 26.5px,#ff84ab 28.5px,#ff77bc 29.5px,#ff61d3 30.5px,#f637f3 31.5px,#a103ff 32.5px,#0f6bfa 33.5px,#03ff64 34.5px,#48ff38 35.5px,#9cff66 36.5px,#caff82 37.5px,#e6ff94 38.5px,#faffa0 39.5px,#ffe9ad 41.5px,#ffc3b4 45.5px,#ffadb3 48.5px,#ff9bb0 51.5px,#ff839a 54.5px,#ff7076 57.5px,#ff7469 59.5px,#ff986b 66.5px,#ffa870 77.5px,#ffa36d 88.5px,#ff9a59 93.5px,#ffa648 96.5px,#ffbc49 98.5px,#ffc957 100.5px,#ffc366 102.5px,#ff9e6f 105.5px,#ff5a63 108.5px,#ff4568 109.5px,#ff0060 111.5px,#f05 112.5px,#ff5f0c 113.5px,#b6fc00 114.5px,#94ff00 115.5px,#a6ff17 116.5px,#c6ff3f 117.5px,#deff57 118.5px,#fdfe70 120.5px,#ffe07b 123.5px,#ffb96d 129.5px,#ffac56 136.5px,#ffb72b 155.5px,#ffd010 165.5px,#fffa00 173.5px,#edff00 177.5px,#d9ff01 183.5px,#d3ff00 195.5px,#caff00 205.5px,#daff00 222.5px,#cf0 232.5px,#a6ff00 242.5px,#5bff00 254.5px,#00ff03 267.5px,#00ff56 281.5px,#00ff65 284.5px)"></i><i style="background:linear-gradient(90deg,#ffaa9c 0.5px,#ff9e91 10.5px,#ff8f7d 14.5px,#ff8d6b 16.5px,#ffa05f 18.5px,#ffbd69 20.5px,#ffc47f 22.5px,#ffb58f 24.5px,#ff9896 26.5px,#ff8fbb 28.5px,#ff85d4 29.5px,#fd76f4 30.5px,#d05dff 31.5px,#663aff 32.5px,#2389ff 33.5px,#34fdd6 34.5px,#5dff8a 35.5px,#89ff7c 36.5px,#bbff8f 37.5px,#dbff9d 38.5px,#f2ffa6 39.5px,#fffaad 40.5px,#ffcbb8 44.5px,#ffb3b9 47.5px,#ffa4be 50.5px,#ff89ae 53.5px,#ff6875 57.5px,#ff6567 58.5px,#ff7d63 61.5px,#ff9769 66.5px,#ffa870 77.5px,#ffa46f 87.5px,#ff9761 91.5px,#ff8d47 94.5px,#ff903c 95.5px,#ff9b33 96.5px,#ffad2f 97.5px,#ffd03d 99.5px,#ffd74a 100.5px,#ffcf62 102.5px,#ffb470 104.5px,#ff8a71 106.5px,#ff6f6e 107.5px,#ff4e8e 109.5px,#ff2da5 110.5px,#fe04cb 111.5px,#d600f2 112.5px,#425ae8 113.5px,#08ff44 114.5px,#24ff04 115.5px,#6dff20 116.5px,#a8ff48 117.5px,#ccff5f 118.5px,#f8ff77 120.5px,#ffeb80 122.5px,#ffc67b 126.5px,#ffae66 131.5px,#ffa84b 140.5px,#ffb623 157.5px,#ffd108 166.5px,#ffed00 171.5px,#fdff00 174.5px,#dcff00 180.5px,#d7ff00 186.5px,#d5ff00 194.5px,#c8ff00 203.5px,#deff00 222.5px,#d1ff00 232.5px,#af0 242.5px,#5cff00 254.5px,#03ff00 266.5px,#00ff5e 282.5px,#00ff68 284.5px)"></i><i style="background:linear-gradient(90deg,#ffa99c 0.5px,#ff9e93 9.5px,#ff897e 13.5px,#ff7657 16.5px,#ff7e48 17.5px,#ff9540 18.5px,#ffb545 19.5px,#ffce56 20.5px,#ffd96a 21.5px,#ffcf8a 23.5px,#ffa8a3 26.5px,#ffa3e8 29.5px,#f69cfe 30.5px,#cc91ff 31.5px,#9089ff 32.5px,#7bbbff 33.5px,#7df9f4 34.5px,#87ffc0 35.5px,#95ff9e 36.5px,#b7ffa0 37.5px,#d7ffa8 38.5px,#eeffaf 39.5px,#fefcb4 40.5px,#ffc0bb 45.5px,#ffa6cb 50.5px,#ff92c4 52.5px,#ff7aad 54.5px,#ff5e72 57.5px,#ff5a5f 58.5px,#ff6f5b 60.5px,#ff9064 64.5px,#ffa26d 71.5px,#ffa971 84.5px,#ff9c6a 89.5px,#ff8755 92.5px,#ff7737 94.5px,#ff7723 95.5px,#ff8611 96.5px,#ffa70b 97.5px,#ffce10 98.5px,#ffe824 99.5px,#fff03c 100.5px,#ffec50 101.5px,#ffd06d 103.5px,#ffa879 105.5px,#ff777e 107.5px,#ff5eb4 109.5px,#ff46dd 110.5px,#d81efe 111.5px,#5a02ff 112.5px,#0067ff 113.5px,#00fcc4 114.5px,#10ff4a 115.5px,#50ff3b 116.5px,#95ff57 117.5px,#c1ff6a 118.5px,#dfff77 119.5px,#f4ff7f 120.5px,#fff884 121.5px,#ffcb82 125.5px,#ffab6b 130.5px,#ffa353 136.5px,#ffb321 157.5px,#ffcd04 166.5px,#fcff00 174.5px,#d7ff00 180.5px,#d3ff00 185.5px,#d9ff00 192.5px,#c7ff00 202.5px,#e2ff00 222.5px,#d6ff00 232.5px,#b4ff00 241.5px,#6eff00 252.5px,#02ff00 266.5px,#00ff57 280.5px,#00ff6b 284.5px)"></i><i style="background:linear-gradient(90deg,#ffa99c 0.5px,#ff9c93 9.5px,#ff8883 12.5px,#ff6f6b 14.5px,#ff513f 16.5px,#ff5221 17.5px,#ff7f10 18.5px,#ffc918 19.5px,#fcf23e 20.5px,#fbf864 21.5px,#ffeaa7 23.5px,#ffe4c1 24.5px,#ffe4e1 26.5px,#ffeefc 29.5px,#f4ecff 31.5px,#eaeaff 32.5px,#defdfd 34.5px,#d5ffed 35.5px,#ccffd5 36.5px,#cdffc3 37.5px,#efb 39.5px,#fdfdbc 40.5px,#ffbfbf 45.5px,#ffafd7 49.5px,#ff91d4 52.5px,#ff72bb 54.5px,#ff5688 56.5px,#ff4d54 58.5px,#ff594e 59.5px,#ff835a 62.5px,#f96 66.5px,#ffa970 79.5px,#ffa671 86.5px,#ff9164 90.5px,#ff784f 92.5px,#ff5624 94.5px,#ff4d08 95.5px,#ff6a00 96.5px,#fbed00 98.5px,#e4ff09 99.5px,#e3ff2e 100.5px,#f2fe4e 101.5px,#fef664 102.5px,#ffcb7e 104.5px,#ff9986 106.5px,#ff8591 107.5px,#ff76d2 109.5px,#f766f9 110.5px,#b750ff 111.5px,#513cff 112.5px,#268dff 113.5px,#2df6e9 114.5px,#43ff96 115.5px,#5dff65 116.5px,#91ff6b 117.5px,#bdff78 118.5px,#dcff81 119.5px,#f4ff87 120.5px,#fff88a 121.5px,#ffc687 125.5px,#ffa971 129.5px,#ff9e58 134.5px,#ffb01b 158.5px,#ffca00 166.5px,#fbff00 174.5px,#d5ff00 179.5px,#cf0 183.5px,#dcff00 191.5px,#c4ff00 202.5px,#e6ff00 221.5px,#e0ff00 230.5px,#c3ff00 239.5px,#87ff00 249.5px,#01ff01 266.5px,#0f5 279.5px,#00ff6e 284.5px)"></i><i style="background:linear-gradient(90deg,#ffa99c 0.5px,#ff9e95 8.5px,#ff8b87 11.5px,#ff626a 14.5px,#ff4b59 15.5px,#ff2738 16.5px,#ff0f0b 17.5px,#f60 18.5px,#e2f405 19.5px,#c2ff45 20.5px,#e4ffa4 21.5px,#faffda 22.5px,#fffef2 23.5px,#fffffe 25.5px,#fdfffd 36.5px,#f6fff0 38.5px,#fefed1 40.5px,#fff1c8 41.5px,#ffc9c4 44.5px,#ffb2e4 49.5px,#ff8fe9 52.5px,#ff7ce2 53.5px,#ff66d0 54.5px,#ff50b1 55.5px,#ff3f87 56.5px,#ff385d 57.5px,#ff3b40 58.5px,#ff5340 59.5px,#ff7a4f 61.5px,#ff945f 64.5px,#ffa36c 71.5px,#ffa973 85.5px,#ff9e6e 88.5px,#ff8c63 90.5px,#ff694a 92.5px,#ff4d34 93.5px,#ff2814 94.5px,#ff1700 95.5px,#ff3600 96.5px,#ffa600 97.5px,#bfff00 98.5px,#8aff00 99.5px,#a2ff28 100.5px,#caff55 101.5px,#ecff75 102.5px,#fef68b 103.5px,#ffcca4 105.5px,#ffaab4 107.5px,#ff9fe9 109.5px,#ef93ff 110.5px,#ba84ff 111.5px,#7a7eff 112.5px,#69b8ff 113.5px,#69f8f4 114.5px,#6fffba 115.5px,#78ff8a 116.5px,#99ff80 117.5px,#c0ff87 118.5px,#f6ff8f 120.5px,#fff491 121.5px,#ffbf8a 125.5px,#ffa071 129.5px,#ff985a 133.5px,#ffac19 158.5px,#ffc000 165.5px,#fff100 172.5px,#faff00 174.5px,#ceff00 179.5px,#c5ff00 182.5px,#dfff00 191.5px,#d1ff00 196.5px,#c2ff00 201.5px,#cdff00 208.5px,#eaff00 220.5px,#e8ff00 229.5px,#cdff00 238.5px,#9f0 247.5px,#00ff02 266.5px,#00ff53 278.5px,#00ff72 284.5px)"></i><i style="background:linear-gradient(90deg,#ffa89c 0.5px,#ff9d95 8.5px,#ff8684 11.5px,#ff5e74 14.5px,#ff476f 15.5px,#ff1f65 16.5px,#ff016d 17.5px,#f0327d 18.5px,#98fd90 19.5px,#daffd3 20.5px,#fcfffa 21.5px,#fff 24.5px,#fffffe 39.5px,#fffff8 40.5px,#fff9ea 41.5px,#ffe9d7 42.5px,#ffd7cc 43.5px,#ffcbcb 44.5px,#ffb4f3 49.5px,#fc9efd 51.5px,#f975fc 53.5px,#fd55f1 54.5px,#ff32c9 55.5px,#ff1783 56.5px,#ff133e 57.5px,#ff2821 58.5px,#ff522f 59.5px,#ff6e3e 60.5px,#ff8b52 62.5px,#ff9e64 66.5px,#ffac73 84.5px,#ff9e6e 88.5px,#ff8862 90.5px,#ff7557 91.5px,#ff5b47 92.5px,#ff0f22 94.5px,#ff0031 95.5px,#ff004b 96.5px,#d0555a 97.5px,#20ff3c 98.5px,#30ff2d 99.5px,#8bff6d 100.5px,#d0ffad 101.5px,#f0ffd0 102.5px,#fdffe3 103.5px,#fff8f2 105.5px,#fff1fd 109.5px,#faebff 110.5px,#ebe1ff 111.5px,#d2d7ff 112.5px,#bce3ff 113.5px,#a6fcf8 114.5px,#97ffcf 115.5px,#93ffa4 116.5px,#a9ff95 117.5px,#e5ff98 119.5px,#fafe98 120.5px,#ffc292 124.5px,#ff9b79 128.5px,#ff9062 131.5px,#ff984b 137.5px,#ffa321 155.5px,#ffb700 164.5px,#ffe600 171.5px,#faff00 174.5px,#c4ff00 179.5px,#bf0 182.5px,#e2ff00 190.5px,#e0ff00 193.5px,#bfff00 200.5px,#c2ff00 205.5px,#edff00 219.5px,#efff00 228.5px,#d7ff00 237.5px,#a5ff00 246.5px,#38ff00 259.5px,#04ff00 265.5px,#00ff23 270.5px,#00ff6b 282.5px,#00ff75 284.5px)"></i><i style="background:linear-gradient(90deg,#ffa89d 0.5px,#ff9f96 7.5px,#ff8d89 10.5px,#ff6d7e 13.5px,#ff4e8a 15.5px,#ff39a3 16.5px,#fe58e0 17.5px,#e5beff 18.5px,#f7fcff 19.5px,#fff 20.5px,#fffffe 41.5px,#fffaf8 42.5px,#ffd3d9 44.5px,#ffbef9 48.5px,#f0adff 50.5px,#d98cff 52.5px,#cf6eff 53.5px,#ce3fff 54.5px,#ef09f4 55.5px,#ff008f 56.5px,#ff031b 57.5px,#ff2f04 58.5px,#ff601f 59.5px,#ff7c35 60.5px,#ff944f 62.5px,#ffa164 66.5px,#ffad74 85.5px,#ff9f6e 88.5px,#ff8661 90.5px,#ff7157 91.5px,#ff5349 92.5px,#ff3745 93.5px,#ff1b52 94.5px,#ff0279 95.5px,#fa06d3 96.5px,#8037ff 97.5px,#7de2f8 98.5px,#c6ffe4 99.5px,#f1fff3 100.5px,#fdfffd 101.5px,#fcfeff 113.5px,#f4fffe 114.5px,#e1fff0 115.5px,#c7ffcd 116.5px,#c2ffb0 117.5px,#edffa5 119.5px,#fefaa2 120.5px,#ffb894 124.5px,#ff8d77 128.5px,#ff845e 131.5px,#ff914b 136.5px,#ff9b36 147.5px,#ffa50c 160.5px,#ffb300 164.5px,#ffda00 170.5px,#fff700 173.5px,#faff00 174.5px,#b9ff00 179.5px,#afff00 181.5px,#baff01 184.5px,#d5ff03 187.5px,#e8ff00 190.5px,#e6ff00 193.5px,#bdff00 199.5px,#baff00 203.5px,#f0ff00 218.5px,#f6ff00 227.5px,#e1ff00 236.5px,#b1ff00 245.5px,#54ff00 256.5px,#03ff00 265.5px,#00ff5a 278.5px,#00ff79 284.5px)"></i><i style="background:linear-gradient(90deg,#ffa89d 0.5px,#ff9e95 7.5px,#ff8a86 10.5px,#ff777d 12.5px,#ff678b 14.5px,#ff69a5 15.5px,#ffa3dc 16.5px,#ffeafd 17.5px,#fff 18.5px,#fffdfd 43.5px,#ffeef3 44.5px,#ffd8ec 45.5px,#fec9fb 47.5px,#ebbbff 49.5px,#cba3ff 51.5px,#b48eff 52.5px,#946bff 53.5px,#652cff 54.5px,#6b00ff 55.5px,#ec049b 56.5px,#ff4302 57.5px,#ff6f00 58.5px,#ff8415 59.5px,#ff9532 60.5px,#ffa150 62.5px,#ffa565 66.5px,#ffaf73 85.5px,#ffa16c 88.5px,#ff8761 90.5px,#ff7259 91.5px,#ff5650 92.5px,#ff445c 93.5px,#ff367a 94.5px,#ff3cb6 95.5px,#f681f9 96.5px,#e5d5ff 97.5px,#fafbff 98.5px,#fff 100.5px,#fff 115.5px,#fbfffb 116.5px,#f0ffe9 117.5px,#ebffcb 118.5px,#f8ffb4 119.5px,#fff3ad 120.5px,#ffaa97 124.5px,#ff837f 127.5px,#ff756a 129.5px,#ff7a52 132.5px,#ff9345 138.5px,#ff9827 152.5px,#ffa400 162.5px,#ffcd00 169.5px,#fbfe00 174.5px,#a9ff00 179.5px,#9eff00 181.5px,#a7ff00 183.5px,#cbff09 186.5px,#f1ff00 190.5px,#f3ff00 192.5px,#dbff00 195.5px,#bcff00 198.5px,#b1ff00 201.5px,#c1ff00 206.5px,#efff00 216.5px,#fdff00 224.5px,#f5ff00 232.5px,#d6ff00 240.5px,#9fff00 248.5px,#01ff01 265.5px,#00ff52 276.5px,#00ff7c 284.5px)"></i><i style="background:linear-gradient(90deg,#ffa89d 0.5px,#ff9c94 7.5px,#ff7e7b 11.5px,#ff7679 12.5px,#ff7280 13.5px,#ff7c98 14.5px,#ffbdd6 15.5px,#fff7fc 16.5px,#fff 17.5px,#fffeff 44.5px,#fff2fb 45.5px,#ffdbfc 46.5px,#ebc8ff 48.5px,#cab6ff 50.5px,#979aff 52.5px,#728aff 53.5px,#3475ff 54.5px,#0090fd 55.5px,#31ec59 56.5px,#e4e900 57.5px,#ffca01 58.5px,#ffb81b 59.5px,#ffb337 60.5px,#ffae53 62.5px,#ffa966 66.5px,#ffaa6d 77.5px,#ffb272 85.5px,#ffa56a 88.5px,#ff8d61 90.5px,#ff625a 92.5px,#ff596e 93.5px,#ff7fac 94.5px,#ffcded 95.5px,#fff9ff 96.5px,#fff 98.5px,#fff 117.5px,#fdfff8 118.5px,#fefddf 119.5px,#ffecbe 120.5px,#ffc2a9 122.5px,#ff9c9b 124.5px,#ff8594 126.5px,#ff6d7b 128.5px,#ff6267 129.5px,#ff5e57 130.5px,#ff7747 133.5px,#ff8d44 137.5px,#ff9436 146.5px,#ff970f 158.5px,#ff9f00 162.5px,#ffc800 169.5px,#ffef00 173.5px,#fdfd00 174.5px,#d6ff00 176.5px,#a7ff00 178.5px,#95ff00 179.5px,#8aff00 180.5px,#8f0 181.5px,#98ff01 183.5px,#caff0f 186.5px,#f4ff00 189.5px,#fefc00 191.5px,#f9ff00 193.5px,#b4ff00 198.5px,#a8ff00 201.5px,#beff00 206.5px,#f0ff00 215.5px,#fffd00 221.5px,#fffe00 230.5px,#ebff00 237.5px,#bcff00 245.5px,#62ff00 255.5px,#01ff02 265.5px,#00ff4f 275.5px,#00ff80 284.5px)"></i><i style="background:linear-gradient(90deg,#ffa89e 0.5px,#ff9e96 6.5px,#ff8077 11.5px,#ff7a75 12.5px,#ff7e83 13.5px,#ffc0c9 14.5px,#fff9fb 15.5px,#fff 17.5px,#fff 45.5px,#fdf3ff 46.5px,#f0daff 47.5px,#bec0ff 50.5px,#9dc4ff 52.5px,#82ccff 53.5px,#56e4fd 54.5px,#19fdc3 55.5px,#0fff26 56.5px,#8fff02 57.5px,#ebfd12 58.5px,#ffe430 59.5px,#ffce43 60.5px,#ffbb59 62.5px,#ffab69 67.5px,#ffa86c 76.5px,#ffb570 85.5px,#ffaa67 88.5px,#ff8963 91.5px,#ff7a69 92.5px,#ff9da3 93.5px,#ffe7ee 94.5px,#fffeff 95.5px,#fffffd 119.5px,#fff4e8 120.5px,#ffd5c3 121.5px,#ffb8b1 122.5px,#ff9bb0 124.5px,#ff82ab 126.5px,#ff729f 127.5px,#ff628b 128.5px,#ff4850 130.5px,#ff4f41 131.5px,#ff7a3f 134.5px,#ff8c41 137.5px,#ff9138 145.5px,#ff9011 157.5px,#ff9500 161.5px,#fb0 168.5px,#ffe700 173.5px,#fff700 174.5px,#f2ff00 175.5px,#b3ff00 177.5px,#91ff00 178.5px,#78ff00 179.5px,#6bff00 180.5px,#6bff00 181.5px,#74ff00 182.5px,#9eff0e 184.5px,#caff15 186.5px,#f0ff0b 188.5px,#fdfc01 189.5px,#ffea00 191.5px,#ffeb00 192.5px,#fff400 193.5px,#f8fe00 194.5px,#b6ff00 197.5px,#9fff00 199.5px,#a1ff00 202.5px,#efff00 214.5px,#fffc00 219.5px,#fff300 227.5px,#faff00 235.5px,#d1ff00 243.5px,#8dff00 251.5px,#06ff00 264.5px,#00ff0d 266.5px,#00ff53 275.5px,#00ff84 284.5px)"></i><i style="background:linear-gradient(90deg,#ffa89e 0.5px,#ff9f98 5.5px,#ff8472 11.5px,#ff8677 12.5px,#ffb8b3 13.5px,#fff7f8 14.5px,#fff 15.5px,#fffeff 46.5px,#f5f0ff 47.5px,#dbd8ff 48.5px,#ccd3ff 49.5px,#b7deff 51.5px,#93f8fb 53.5px,#78ffdd 54.5px,#57ff98 55.5px,#4cff43 56.5px,#94ff36 57.5px,#d8ff3e 58.5px,#fcf94a 59.5px,#ffe154 60.5px,#ffc661 62.5px,#ffb06b 66.5px,#ffa66b 74.5px,#ffb86c 85.5px,#ffae61 89.5px,#ff9f6c 91.5px,#ffb8a3 92.5px,#ffefee 93.5px,#fff 94.5px,#fffefe 120.5px,#ffedeb 121.5px,#ffc2cb 122.5px,#ffadc7 123.5px,#ff8fcd 125.5px,#ff7cca 126.5px,#ff67bd 127.5px,#ff4fa3 128.5px,#ff3a78 129.5px,#ff2d48 130.5px,#ff352b 131.5px,#ff532e 132.5px,#ff6933 133.5px,#ff813b 135.5px,#ff8f40 139.5px,#ff8c2c 149.5px,#ff8c00 160.5px,#ffad00 167.5px,#ffdc00 173.5px,#fbfb00 175.5px,#dbff00 176.5px,#72ff00 178.5px,#4eff00 179.5px,#40ff00 180.5px,#45ff00 181.5px,#5f0 182.5px,#afff1a 185.5px,#e3ff17 187.5px,#fafd0e 188.5px,#ffec02 189.5px,#ffda00 190.5px,#ffcf00 191.5px,#ffcf00 192.5px,#ffdb00 193.5px,#fef400 194.5px,#e6ff00 195.5px,#c2ff00 196.5px,#a6ff00 197.5px,#95ff00 198.5px,#8cff00 200.5px,#9dff00 203.5px,#e8ff00 212.5px,#fffc00 217.5px,#ffec00 225.5px,#fff600 233.5px,#faff00 237.5px,#d1ff00 244.5px,#87ff00 252.5px,#03ff00 264.5px,#00ff58 275.5px,#00ff89 284.5px)"></i><i style="background:linear-gradient(90deg,#ffa89e 0.5px,#ff9d96 5.5px,#ff8474 9.5px,#ff896a 11.5px,#ffae96 12.5px,#fff2ef 13.5px,#fff 14.5px,#fefdff 47.5px,#eaeeff 48.5px,#d3e7ff 49.5px,#bff6ff 51.5px,#b2fef7 52.5px,#a3ffe2 53.5px,#91ffc0 54.5px,#7fff90 55.5px,#8aff6e 56.5px,#dbff61 58.5px,#fafd62 59.5px,#ffd967 61.5px,#ffbc6c 64.5px,#ffa86d 70.5px,#ffa969 77.5px,#ffba69 84.5px,#ffbd5a 88.5px,#ffbb64 90.5px,#ffca97 91.5px,#fff3ec 92.5px,#fff 93.5px,#fffefe 121.5px,#ffe7f1 122.5px,#ffbae4 123.5px,#fd77f2 126.5px,#fe57ec 127.5px,#ff30cd 128.5px,#ff0f88 129.5px,#ff0635 130.5px,#ff1c0c 131.5px,#ff4c1a 132.5px,#ff6a27 133.5px,#ff7a31 134.5px,#ff8c3e 137.5px,#ff8c39 144.5px,#ff8415 155.5px,#ff8600 160.5px,#ffa700 167.5px,#ffd400 174.5px,#ffe400 175.5px,#effc00 176.5px,#a0ff00 177.5px,#3eff00 178.5px,#11ff06 179.5px,#0aff07 180.5px,#14ff01 181.5px,#2fff00 182.5px,#84ff1a 184.5px,#cbff21 186.5px,#ebff1c 187.5px,#fff411 188.5px,#ffd503 189.5px,#ffbc00 190.5px,#ffab00 191.5px,#ffa600 192.5px,#ffb300 193.5px,#ffd800 194.5px,#eafe00 195.5px,#b1ff00 196.5px,#8bff00 197.5px,#79ff00 198.5px,#74ff00 199.5px,#7fff00 201.5px,#dcff00 210.5px,#fefe00 215.5px,#ffe600 223.5px,#ffe900 231.5px,#fdfe00 238.5px,#d0ff00 245.5px,#80ff00 253.5px,#02ff01 264.5px,#00ff4f 273.5px,#0f8 283.5px,#00ff8d 284.5px)"></i><i style="background:linear-gradient(90deg,#ffa89f 0.5px,#ffa09a 4.5px,#ff8983 7.5px,#ff7a68 9.5px,#ff7e5e 10.5px,#ff976d 11.5px,#ffe3d4 12.5px,#fff 13.5px,#fff 47.5px,#fafdff 48.5px,#e1f8ff 49.5px,#d0fdfd 50.5px,#bbffe3 52.5px,#a3ffb1 54.5px,#a1ff96 55.5px,#cbff80 57.5px,#fbfd76 59.5px,#ffd172 62.5px,#ffb471 66.5px,#ffa46b 73.5px,#ffb068 80.5px,#ffbc63 84.5px,#ffca50 88.5px,#ffd056 89.5px,#ffda7a 90.5px,#fff4df 91.5px,#fff 92.5px,#fffdfe 122.5px,#fedbfc 123.5px,#f6acfe 124.5px,#d474ff 126.5px,#c546ff 127.5px,#d10bfd 128.5px,#fb00bf 129.5px,#ff022a 130.5px,#ff3100 131.5px,#ff5907 132.5px,#ff751e 133.5px,#ff832d 134.5px,#ff8e3d 137.5px,#ff8938 144.5px,#ff7f14 155.5px,#ff8000 160.5px,#ff9f00 167.5px,#fb0 171.5px,#ffbc00 173.5px,#ffb300 175.5px,#ffc300 176.5px,#aff800 177.5px,#05ff3d 178.5px,#00ff64 179.5px,#00ff50 180.5px,#00ff2a 181.5px,#0bff09 182.5px,#79ff23 184.5px,#ceff29 186.5px,#f3fe23 187.5px,#ffe316 188.5px,#ffba05 189.5px,#ff9600 190.5px,#ff7b00 191.5px,#ff6b00 192.5px,#ff7100 193.5px,#ffa300 194.5px,#e6f600 195.5px,#89ff00 196.5px,#5cff00 197.5px,#50ff00 198.5px,#5fff00 200.5px,#bfff00 207.5px,#f0ff00 212.5px,#fefe00 214.5px,#ffe200 221.5px,#fd0 229.5px,#fff300 237.5px,#fbff00 240.5px,#c6ff00 247.5px,#6bff00 255.5px,#09ff00 263.5px,#00ff03 264.5px,#00ff4c 272.5px,#00ff83 281.5px,#00ff91 284.5px)"></i><i style="background:linear-gradient(90deg,#ffa99f 0.5px,#ff9e99 4.5px,#ff8d8a 6.5px,#ff6859 9.5px,#ff704a 10.5px,#ffbc96 11.5px,#fffcfa 12.5px,#fff 14.5px,#fff 48.5px,#f2fffd 49.5px,#d8fff2 50.5px,#baffbf 53.5px,#b8ffaf 54.5px,#ceff9b 56.5px,#fefa85 59.5px,#ffd27a 62.5px,#ffb474 66.5px,#ffa36b 73.5px,#ffab65 79.5px,#ffba60 83.5px,#ffcc43 87.5px,#ffd942 88.5px,#ffe851 89.5px,#fff8bb 90.5px,#fffffd 91.5px,#fff 122.5px,#fdf8ff 123.5px,#e4c5ff 124.5px,#be99ff 125.5px,#9676ff 126.5px,#5d42ff 127.5px,#2d10ff 128.5px,#782de6 129.5px,#ff5e07 130.5px,#ff8000 131.5px,#ff8403 132.5px,#ff8d1c 133.5px,#ff922d 134.5px,#ff933c 136.5px,#ff8b3e 141.5px,#ff7c1f 152.5px,#f70 159.5px,#ff9100 166.5px,#ffb700 171.5px,#ffb800 172.5px,#ffaf00 173.5px,#ff9a00 174.5px,#ff7500 175.5px,#ff3b04 176.5px,#cb2f80 177.5px,#0496fc 178.5px,#00ebe9 179.5px,#00ffb2 180.5px,#00ff6e 181.5px,#0fff39 182.5px,#37ff27 183.5px,#73ff32 184.5px,#d3ff35 186.5px,#fafa2e 187.5px,#ffd120 188.5px,#ff9c0b 189.5px,#ff6a00 190.5px,#ff4000 191.5px,#ff1e02 192.5px,#ff130c 193.5px,#ff2c10 194.5px,#b7d500 195.5px,#26ff0a 196.5px,#13ff06 197.5px,#1aff00 198.5px,#91ff00 204.5px,#cf0 208.5px,#fdfe00 213.5px,#ffdc00 220.5px,#ffd300 227.5px,#ffe200 235.5px,#fdfe00 241.5px,#cdff00 247.5px,#7bff00 254.5px,#06ff00 263.5px,#0f1 265.5px,#00ff51 272.5px,#0f8 281.5px,#00ff96 284.5px)"></i><i style="background:linear-gradient(90deg,#ffaaa0 0.5px,#ff9d9a 4.5px,#ff787c 7.5px,#ff6368 8.5px,#ff4b4a 9.5px,#ff5e44 10.5px,#ffe4d4 11.5px,#fff 12.5px,#fdfffe 49.5px,#d2ffd8 51.5px,#cdffc0 53.5px,#e4ffa7 56.5px,#fcfe97 58.5px,#ffc87e 63.5px,#ffac74 68.5px,#ffa067 75.5px,#ffad61 80.5px,#ffbb59 83.5px,#ffc73c 86.5px,#ffd230 87.5px,#ffe82b 88.5px,#fafd70 89.5px,#fdfff1 90.5px,#fff 91.5px,#fff 123.5px,#ece9ff 124.5px,#abb2ff 125.5px,#81a3ff 126.5px,#4c9fff 127.5px,#07bcfb 128.5px,#00f888 129.5px,#a4fd00 130.5px,#fce100 131.5px,#ffb809 132.5px,#ffaa23 133.5px,#ff9d3b 135.5px,#ff8f41 139.5px,#ff7b2a 149.5px,#ff7000 159.5px,#ff8700 166.5px,#ffa000 169.5px,#ffb900 171.5px,#ffbd00 172.5px,#ffb000 173.5px,#ff8c00 174.5px,#ff4b00 175.5px,#ff0328 176.5px,#ec00d3 177.5px,#3709ff 178.5px,#007aff 179.5px,#00e6f7 180.5px,#10ffb5 181.5px,#2dff77 182.5px,#43ff4b 183.5px,#dbff48 186.5px,#fdf240 187.5px,#ffc032 188.5px,#ff831c 189.5px,#ff3b03 190.5px,#ff090a 191.5px,#ff003d 192.5px,#ff0080 193.5px,#ea00d0 194.5px,#2c69f6 195.5px,#00fda2 196.5px,#00ff53 197.5px,#00ff21 198.5px,#0aff04 199.5px,#5fff00 202.5px,#a2ff07 205.5px,#dcff01 209.5px,#fcff00 212.5px,#ffd700 219.5px,#ffca00 226.5px,#ffd500 234.5px,#fff600 241.5px,#f9ff00 243.5px,#bfff00 249.5px,#46ff00 258.5px,#03ff00 263.5px,#00ff4f 271.5px,#00ff84 279.5px,#00ff9b 284.5px)"></i><i style="background:linear-gradient(90deg,#ffaba1 0.5px,#ffa39e 3.5px,#ff878d 6.5px,#ff5f75 8.5px,#ff3d5d 9.5px,#ff7787 10.5px,#fffbfa 11.5px,#fff 13.5px,#fff 49.5px,#f4fff3 50.5px,#e0ffd8 51.5px,#e6ffbd 54.5px,#fdfea7 57.5px,#ffc683 63.5px,#ffa773 69.5px,#ff9d66 75.5px,#ffa65d 79.5px,#ffbc51 83.5px,#ffc23c 85.5px,#ffcf19 87.5px,#ffee19 88.5px,#f5ffb5 89.5px,#fff 90.5px,#fcfdff 124.5px,#c9e6ff 125.5px,#91e4ff 126.5px,#68f6f4 127.5px,#30ffb5 128.5px,#10ff2f 129.5px,#7bff04 130.5px,#e6fe0c 131.5px,#fd2 132.5px,#ffc133 133.5px,#ffa642 135.5px,#ff8c42 140.5px,#ff711d 152.5px,#ff6800 158.5px,#ff7d00 166.5px,#ff8a00 168.5px,#ff9600 169.5px,#ffc200 171.5px,#ffd200 172.5px,#ffc800 173.5px,#ff9c00 174.5px,#ff4a00 175.5px,#ff012f 176.5px,#fb00ca 177.5px,#8100ff 178.5px,#0d2bff 179.5px,#22b0ff 180.5px,#46fceb 181.5px,#61ffb1 182.5px,#74ff87 183.5px,#98ff7e 184.5px,#e9ff7c 186.5px,#ffed70 187.5px,#ffbc5c 188.5px,#ff7a40 189.5px,#ff2823 190.5px,#ff0243 191.5px,#ff0091 192.5px,#f400e6 193.5px,#8600ff 194.5px,#043eff 195.5px,#00e3f4 196.5px,#00ff9e 197.5px,#00ff53 198.5px,#00ff1c 199.5px,#11ff01 200.5px,#58ff05 202.5px,#91ff11 204.5px,#c7ff0f 207.5px,#f9ff00 211.5px,#fff200 213.5px,#ffce00 219.5px,#ffc000 226.5px,#ffcb00 234.5px,#ffec00 241.5px,#fbff00 244.5px,#bf0 250.5px,#0cff00 262.5px,#01ff02 263.5px,#00ff4d 270.5px,#00ff84 278.5px,#00ffa0 284.5px)"></i><i style="background:linear-gradient(90deg,#ffaca2 0.5px,#ffa5a0 3.5px,#ff8993 6.5px,#ff648c 8.5px,#ff5396 9.5px,#ffc8e4 10.5px,#fff 11.5px,#fdfffc 50.5px,#f2ffe0 51.5px,#f0ffd0 52.5px,#fffab3 56.5px,#ffc288 63.5px,#ffa172 70.5px,#ff9961 76.5px,#ffa755 80.5px,#ffbd47 83.5px,#ffc231 85.5px,#ffbd07 87.5px,#ffde4a 88.5px,#feffef 89.5px,#fff 90.5px,#fff 124.5px,#eafefe 125.5px,#a7ffec 126.5px,#83ffc4 127.5px,#62ff83 128.5px,#64ff46 129.5px,#a5ff37 130.5px,#e6ff39 131.5px,#ffea40 132.5px,#ffcc46 133.5px,#ffac4a 135.5px,#ff8f46 139.5px,#ff6e21 151.5px,#ff6100 158.5px,#ff7900 168.5px,#ff8500 169.5px,#ffa000 170.5px,#ffd200 171.5px,#f4f800 172.5px,#f2f700 173.5px,#ffcf00 174.5px,#ff7100 175.5px,#ff121f 176.5px,#ff17ab 177.5px,#cb3bff 178.5px,#8977ff 179.5px,#aaceff 180.5px,#cffafe 181.5px,#e3fff4 182.5px,#f9fff3 185.5px,#fffbed 187.5px,#fff1e3 188.5px,#ffd7cf 189.5px,#ffa6b4 190.5px,#ff65af 191.5px,#fe22db 192.5px,#c004ff 193.5px,#40f 194.5px,#0048ff 195.5px,#00cdff 196.5px,#00ffc5 197.5px,#00ff73 198.5px,#00ff34 199.5px,#06ff06 200.5px,#31ff08 201.5px,#5cff14 202.5px,#7dff1b 203.5px,#acff1e 205.5px,#e9ff0f 209.5px,#fefc03 211.5px,#ffd400 216.5px,#ffbc00 222.5px,#ffb800 230.5px,#fc0 237.5px,#fcff00 245.5px,#c3ff00 250.5px,#08ff00 262.5px,#00ff06 263.5px,#00ff4a 269.5px,#00ff7f 276.5px,#00ffa5 284.5px)"></i><i style="background:linear-gradient(90deg,#ffaea2 0.5px,#ffa7a1 3.5px,#ff8d99 6.5px,#ff71a3 8.5px,#ff8bca 9.5px,#fff5fc 10.5px,#fff 11.5px,#fff 50.5px,#fefdd2 52.5px,#ffe1a9 58.5px,#ffb383 65.5px,#ff976a 73.5px,#ff9657 78.5px,#ffab48 81.5px,#ffc733 84.5px,#ffc729 85.5px,#ffbd1c 86.5px,#ffa70e 87.5px,#ffd39f 88.5px,#fff 89.5px,#fff 124.5px,#fbfffd 125.5px,#c4ffd8 126.5px,#99ffa5 127.5px,#93ff80 128.5px,#aaff6b 129.5px,#d0ff5f 130.5px,#f5fe59 131.5px,#ffe758 132.5px,#ffbc55 134.5px,#ff9a4e 137.5px,#ff7d3d 143.5px,#ff600e 155.5px,#ff5a00 158.5px,#ff6500 167.5px,#ff6500 169.5px,#f70 170.5px,#f6d400 171.5px,#8cff00 172.5px,#87ff00 173.5px,#d1fc03 174.5px,#ffc225 175.5px,#ff795c 176.5px,#ff9dc7 177.5px,#fbd9fd 178.5px,#f9f5ff 179.5px,#fefeff 180.5px,#fff 190.5px,#fff7fc 191.5px,#fcd6fe 192.5px,#c686ff 193.5px,#4330ff 194.5px,#035eff 195.5px,#00cbff 196.5px,#00ffd2 197.5px,#00ff82 198.5px,#01ff40 199.5px,#0eff16 200.5px,#65ff23 202.5px,#9fff2b 204.5px,#d6ff23 207.5px,#fdfe11 210.5px,#ffe000 213.5px,#ffbf00 218.5px,#ffad00 225.5px,#ffb300 233.5px,#ffd000 240.5px,#fcfe00 246.5px,#bcff00 251.5px,#04ff00 262.5px,#00ff3d 267.5px,#00ff72 273.5px,#00ffa3 282.5px,#0fa 284.5px)"></i><i style="background:linear-gradient(90deg,#ffb0a3 0.5px,#ffaba3 3.5px,#ff929d 6.5px,#ff8aa3 7.5px,#ff83b2 8.5px,#ffc4e6 9.5px,#fff 10.5px,#fff 50.5px,#fffcf6 51.5px,#fff0d5 52.5px,#ffe3bc 55.5px,#ffaf85 65.5px,#ff8d62 75.5px,#ff8c51 78.5px,#ff9742 80.5px,#ffd427 84.5px,#ffd725 85.5px,#ffc924 86.5px,#ffb442 87.5px,#ffece1 88.5px,#fff 89.5px,#fff 125.5px,#e3ffe0 126.5px,#c0ffa8 127.5px,#c7ff92 128.5px,#f0ff76 130.5px,#fef46e 131.5px,#ffb960 134.5px,#ff9953 137.5px,#ff7a3e 143.5px,#ff590d 155.5px,#ff5400 158.5px,#ff5b00 166.5px,#ff4e00 168.5px,#ff3900 169.5px,#ff1a09 170.5px,#c2436c 171.5px,#00ed8d 172.5px,#0aff37 173.5px,#78ff35 174.5px,#effa8f 175.5px,#ffecdb 176.5px,#fffbfb 177.5px,#fff 182.5px,#fdfcff 193.5px,#d9dcff 194.5px,#75b6ff 195.5px,#1dddff 196.5px,#0dffd1 197.5px,#0fff89 198.5px,#17ff51 199.5px,#23ff2a 200.5px,#4bff29 201.5px,#72ff31 202.5px,#aaff37 204.5px,#dfff2d 207.5px,#faff20 209.5px,#ffd601 213.5px,#ffb400 218.5px,#ffa200 225.5px,#ffa800 233.5px,#ffc400 240.5px,#ffeb00 245.5px,#fcfe00 247.5px,#c5ff00 251.5px,#0fff00 261.5px,#01ff03 262.5px,#00ff45 267.5px,#00ff7a 273.5px,#00ffa8 282.5px,#00ffb0 284.5px)"></i><i style="background:linear-gradient(90deg,#ffb3a3 0.5px,#ffb0a4 3.5px,#ff989e 6.5px,#ff94a7 7.5px,#ff9abc 8.5px,#ffe7f3 9.5px,#fff 10.5px,#fffdfc 51.5px,#ffe5da 52.5px,#ffdac9 53.5px,#ffbe99 61.5px,#ff9572 71.5px,#ff8055 77.5px,#ff8042 79.5px,#ff8634 80.5px,#ff9625 81.5px,#ffb218 82.5px,#ffd613 83.5px,#fef018 84.5px,#fdf524 85.5px,#ffe834 86.5px,#ffdd89 87.5px,#fffdfb 88.5px,#fff 95.5px,#fff 125.5px,#f9fff3 126.5px,#e6ffb8 127.5px,#edff9f 128.5px,#f9fd8f 129.5px,#ffe07b 131.5px,#ffa862 135.5px,#ff884e 139.5px,#ff6124 150.5px,#ff4c01 157.5px,#ff5200 166.5px,#ff4f00 167.5px,#ff4300 168.5px,#ff2000 169.5px,#ff0039 170.5px,#d800e1 171.5px,#1242ff 172.5px,#34eae2 173.5px,#adffc1 174.5px,#f8fff2 175.5px,#fff 176.5px,#fff 194.5px,#f5fbff 195.5px,#acfafe 196.5px,#4affd1 197.5px,#32ff90 198.5px,#31ff5d 199.5px,#3aff39 200.5px,#82ff3e 202.5px,#b6ff42 204.5px,#eaff37 207.5px,#fff928 209.5px,#ffc100 214.5px,#ffa100 220.5px,#ff9600 227.5px,#ffa200 235.5px,#ffbe00 241.5px,#ffe900 246.5px,#fbfe00 248.5px,#bdff00 252.5px,#0aff00 261.5px,#00ff08 262.5px,#00ff4d 267.5px,#00ff82 273.5px,#00ffaf 282.5px,#00ffb6 284.5px)"></i><i style="background:linear-gradient(90deg,#ffb5a3 0.5px,#ffb6a5 3.5px,#ffa09f 6.5px,#ff9da6 7.5px,#ffb2c4 8.5px,#fff7fa 9.5px,#fff 10.5px,#fffefe 51.5px,#ffc8c7 53.5px,#ffc1b3 56.5px,#ffb394 62.5px,#ff7f61 75.5px,#ff6f48 78.5px,#ff6a23 80.5px,#ff7a0a 81.5px,#ffae00 82.5px,#faf000 83.5px,#d6ff05 84.5px,#cfff22 85.5px,#e6ff48 86.5px,#fdfbc2 87.5px,#fff 88.5px,#fffffc 126.5px,#fdfbc8 127.5px,#fff2a6 128.5px,#ffcc82 131.5px,#ff9860 136.5px,#ff7643 142.5px,#ff4c0b 155.5px,#ff4600 158.5px,#ff4e00 168.5px,#ff3600 169.5px,#ff061d 170.5px,#fc08af 171.5px,#a243ff 172.5px,#b7ceff 173.5px,#f8fffe 174.5px,#fff 175.5px,#fff 195.5px,#fbffff 196.5px,#bdffe7 197.5px,#5fff9b 198.5px,#4aff63 199.5px,#55ff48 200.5px,#95ff4a 202.5px,#c4ff4c 204.5px,#f5ff40 207.5px,#fefb39 208.5px,#ffb502 214.5px,#f90 219.5px,#ff8a00 226.5px,#ff9300 234.5px,#ffb100 241.5px,#ffdc00 246.5px,#fafe00 249.5px,#b3ff00 253.5px,#17ff00 260.5px,#04ff01 261.5px,#00ff4b 266.5px,#00ff7c 271.5px,#00ffa9 279.5px,#0fb 284.5px)"></i><i style="background:linear-gradient(90deg,#ffb8a2 0.5px,#ffbaa5 4.5px,#ffa8a5 7.5px,#ffc8cd 8.5px,#fffdfe 9.5px,#fff 51.5px,#ffe9f1 52.5px,#ffc1d3 53.5px,#ffb2b7 55.5px,#ffaf99 61.5px,#ff846c 73.5px,#ff6852 77.5px,#ff4d32 79.5px,#ff3b13 80.5px,#ff4b00 81.5px,#ff9e00 82.5px,#cdfe00 83.5px,#73ff00 84.5px,#79ff22 85.5px,#b0ff63 86.5px,#f6ffe4 87.5px,#fff 88.5px,#fff 126.5px,#ffeed9 127.5px,#ffd6aa 128.5px,#ffbf8e 130.5px,#ff7f51 139.5px,#ff450b 155.5px,#ff3f00 158.5px,#f40 166.5px,#ff5000 167.5px,#ff8400 169.5px,#ff6106 170.5px,#ff596c 171.5px,#fcb3ec 172.5px,#faf7ff 173.5px,#fff 174.5px,#fff 196.5px,#fafffd 197.5px,#b7ffc9 198.5px,#68ff6d 199.5px,#74ff59 200.5px,#c0ff55 203.5px,#f4ff4f 206.5px,#fefb49 207.5px,#ffa805 214.5px,#ff9400 217.5px,#ff8000 224.5px,#ff8200 232.5px,#ff9800 239.5px,#ffb900 244.5px,#ffe600 248.5px,#fff500 249.5px,#f8ff00 250.5px,#bcff00 253.5px,#1f0 260.5px,#01ff05 261.5px,#00ff48 265.5px,#00ff7e 270.5px,#00ffa8 277.5px,#00ffc1 284.5px)"></i><i style="background:linear-gradient(90deg,#ffbaa0 0.5px,#ffc3a5 4.5px,#ffbbab 7.5px,#ffdeda 8.5px,#fff 9.5px,#fff 51.5px,#ffeffa 52.5px,#ffbbe2 53.5px,#ffafd0 54.5px,#ffa5a9 57.5px,#ffa593 62.5px,#ff8571 72.5px,#ff695d 76.5px,#ff4c48 78.5px,#ff3537 79.5px,#ff111b 80.5px,#ff0815 81.5px,#ff341c 82.5px,#44f646 83.5px,#04ff3e 84.5px,#2fff4d 85.5px,#8dff8a 86.5px,#f7fff5 87.5px,#fff 88.5px,#fff 126.5px,#ffeae6 127.5px,#ffb9ac 128.5px,#ffa28d 130.5px,#ff754d 140.5px,#ff3800 157.5px,#ff3500 165.5px,#f30 166.5px,#ff3d00 167.5px,#ff8200 168.5px,#d0f200 169.5px,#d0f322 170.5px,#fcde98 171.5px,#fff1f1 172.5px,#fff 173.5px,#fff 197.5px,#f3fff4 198.5px,#a8ff9e 199.5px,#94ff6a 200.5px,#d2ff5e 203.5px,#f4ff5b 205.5px,#fefb57 206.5px,#ffbe2a 211.5px,#ff9201 215.5px,#ff7900 221.5px,#ff7200 229.5px,#ff8200 237.5px,#ffa100 243.5px,#ffc900 247.5px,#fff600 250.5px,#f4ff00 251.5px,#adff00 254.5px,#09ff00 260.5px,#00ff0e 261.5px,#00ff46 264.5px,#0f7 268.5px,#00ffa2 274.5px,#00ffc7 284.5px)"></i><i style="background:linear-gradient(90deg,#ffbc9d 0.5px,#ffcda4 4.5px,#ffcea8 6.5px,#ffcfb1 7.5px,#ffefe7 8.5px,#fff 9.5px,#fff 51.5px,#fef4ff 52.5px,#ffb3f3 53.5px,#ffa1dc 54.5px,#ff9cb8 56.5px,#ff9d9c 59.5px,#ff9c8b 64.5px,#ff8272 72.5px,#ff6461 76.5px,#ff4e5c 78.5px,#ff3c5a 79.5px,#ff1b59 80.5px,#ff0178 81.5px,#e600de 82.5px,#1249ff 83.5px,#06dcee 84.5px,#49fecf 85.5px,#a5ffd2 86.5px,#fcfffd 87.5px,#fff 126.5px,#ffeff3 127.5px,#ffabbe 128.5px,#ff94a3 129.5px,#ff878e 130.5px,#ff8280 131.5px,#ff8269 135.5px,#ff5a35 146.5px,#ff3100 157.5px,#ff2f00 164.5px,#ff1d00 166.5px,#ff0a08 167.5px,#fc1955 168.5px,#0cc5a1 169.5px,#52ff8e 170.5px,#e1ffd8 171.5px,#fffffe 172.5px,#fff 198.5px,#e5ffdb 199.5px,#b8ff83 200.5px,#c2ff6f 201.5px,#f5ff64 204.5px,#fefa62 205.5px,#ffd64f 208.5px,#ff8302 215.5px,#ff6c00 221.5px,#f60 230.5px,#f70 238.5px,#f90 244.5px,#ffc400 248.5px,#fef800 251.5px,#ef0 252.5px,#9f0 255.5px,#1aff00 259.5px,#03ff04 260.5px,#00ff43 263.5px,#00ff6f 266.5px,#00ff9b 271.5px,#00ffc0 279.5px,#00ffce 284.5px)"></i><i style="background:linear-gradient(90deg,#ffbd99 0.5px,#ffdda4 5.5px,#ffe0a9 6.5px,#ffe3b6 7.5px,#fff8f0 8.5px,#fff 9.5px,#fff 51.5px,#fcf7ff 52.5px,#f6a8fe 53.5px,#ff8ce9 54.5px,#ff8bcc 55.5px,#ff8eb8 56.5px,#ff969b 59.5px,#ff9587 65.5px,#ff7b71 73.5px,#ff666a 76.5px,#ff5872 78.5px,#ff4c7b 79.5px,#ff398e 80.5px,#ff1cba 81.5px,#d70afc 82.5px,#4912ff 83.5px,#3775ff 84.5px,#6fd2ff 85.5px,#c3fafc 86.5px,#fff 87.5px,#fff 126.5px,#fff4fc 127.5px,#ffa8dd 128.5px,#ff87bd 129.5px,#ff799f 130.5px,#ff7077 132.5px,#ff7661 136.5px,#ff3209 155.5px,#ff2b00 158.5px,#ff2a00 164.5px,#ff2400 165.5px,#ff1400 166.5px,#ff001c 167.5px,#fd00a1 168.5px,#7c1dff 169.5px,#9cc1ff 170.5px,#f5fdfd 171.5px,#fff 172.5px,#fff 198.5px,#fbfff8 199.5px,#ddffac 200.5px,#daff7a 201.5px,#f8fe6e 203.5px,#ffeb68 205.5px,#ffc854 208.5px,#ff7505 215.5px,#f60 218.5px,#ff5800 227.5px,#ff6200 236.5px,#ff8000 243.5px,#ffa400 247.5px,#ffd100 250.5px,#fcfb00 252.5px,#e4ff00 253.5px,#7cff00 256.5px,#10ff00 259.5px,#00ff0e 260.5px,#00ff3f 262.5px,#00ff71 265.5px,#0f9 269.5px,#00ffbe 276.5px,#00ffd4 284.5px)"></i><i style="background:linear-gradient(90deg,#ffbd93 0.5px,#ffefa0 5.5px,#fff4a8 6.5px,#fff6ba 7.5px,#fffdf5 8.5px,#fff 9.5px,#fff 51.5px,#fbf9ff 52.5px,#dd92ff 53.5px,#fc6af3 54.5px,#ff72cb 55.5px,#ff7db4 56.5px,#ff8d9f 58.5px,#ff938d 62.5px,#ff897d 69.5px,#ff6f71 75.5px,#ff6483 78.5px,#ff5f92 79.5px,#ff56a9 80.5px,#ff4dd0 81.5px,#ee48fc 82.5px,#ac52ff 83.5px,#826fff 84.5px,#8fa5ff 85.5px,#d7e9ff 86.5px,#fff 87.5px,#fff 126.5px,#fef8ff 127.5px,#f99efa 128.5px,#ff6fda 129.5px,#ff62ae 130.5px,#ff608e 131.5px,#ff656d 133.5px,#ff6b5a 137.5px,#ff3d1e 151.5px,#ff2400 157.5px,#ff2600 166.5px,#ff1503 167.5px,#ff0b38 168.5px,#fd5ec0 169.5px,#f4cdfa 170.5px,#fefeff 171.5px,#fff 199.5px,#f5ffd3 200.5px,#f2ff87 201.5px,#fcfc7a 202.5px,#ffc562 207.5px,#ff7e20 213.5px,#ff5e00 216.5px,#ff4c00 224.5px,#ff5000 234.5px,#ff6800 242.5px,#ff8400 246.5px,#ffa900 249.5px,#ffcf00 251.5px,#ffe800 252.5px,#f6fd00 253.5px,#abff00 255.5px,#28ff00 258.5px,#06ff04 259.5px,#00ff3b 261.5px,#00ff65 263.5px,#00ff8e 266.5px,#00ffb3 271.5px,#00ffd3 280.5px,#00ffdb 284.5px)"></i><i style="background:linear-gradient(90deg,#ffba8c 0.5px,#ffe88d 3.5px,#fef891 4.5px,#f3ffa5 6.5px,#f4ffbd 7.5px,#fefff8 8.5px,#fff 9.5px,#fff 51.5px,#fafaff 52.5px,#ba66ff 53.5px,#f931ed 54.5px,#ff50bb 55.5px,#ff69a6 56.5px,#ff8499 58.5px,#ff8e8b 62.5px,#ff867d 69.5px,#ff7575 74.5px,#ff7083 77.5px,#ff6f9d 79.5px,#ff6eb2 80.5px,#fd70f3 82.5px,#e37aff 83.5px,#c68cff 84.5px,#baa5ff 85.5px,#e6e5ff 86.5px,#fff 87.5px,#fff 126.5px,#fbfaff 127.5px,#c785ff 128.5px,#f23df4 129.5px,#ff3ab4 130.5px,#ff4689 131.5px,#ff5275 132.5px,#ff605d 135.5px,#ff6151 139.5px,#ff2e14 153.5px,#ff1d00 157.5px,#ff2400 164.5px,#ff2e00 165.5px,#ff4500 166.5px,#ff6d00 167.5px,#ff9019 168.5px,#ffb686 169.5px,#ffece9 170.5px,#fff 171.5px,#fff 199.5px,#feffeb 200.5px,#fff799 201.5px,#ffea81 202.5px,#ffac5d 208.5px,#ff4d01 216.5px,#ff3e00 225.5px,#f40 236.5px,#ff5b00 243.5px,#f70 247.5px,#ffa000 250.5px,#ffcd00 252.5px,#ffed00 253.5px,#e9ff00 254.5px,#84ff00 256.5px,#1aff00 258.5px,#00ff12 259.5px,#00ff52 261.5px,#00ff7b 263.5px,#00ffa0 266.5px,#00ffc0 271.5px,#00ffdc 281.5px,#00ffe1 284.5px)"></i><i style="background:linear-gradient(90deg,#ffb281 0.5px,#ffc27d 1.5px,#fef57a 3.5px,#ebff81 4.5px,#d9ff8e 5.5px,#d4ff9f 6.5px,#deffbe 7.5px,#fcfffa 8.5px,#fff 11.5px,#fbfeff 52.5px,#d45cf2 53.5px,#ff03b0 54.5px,#ff2f91 55.5px,#ff568e 56.5px,#ff6e8f 57.5px,#ff8490 59.5px,#ff8b85 65.5px,#ff7778 74.5px,#f78 77.5px,#ff7ba1 79.5px,#ff82c8 81.5px,#fd91f7 83.5px,#f0a0ff 84.5px,#e5b4ff 85.5px,#f5ecff 86.5px,#fff 87.5px,#fff 126.5px,#fafdff 127.5px,#6a6bff 128.5px,#d100f5 129.5px,#ff089c 130.5px,#ff2672 131.5px,#ff4067 132.5px,#ff4f62 133.5px,#ff5c58 136.5px,#ff5748 141.5px,#ff1700 157.5px,#ff1d00 164.5px,#ff2700 165.5px,#ff4c00 166.5px,#f0c800 167.5px,#8dff11 168.5px,#c3ff94 169.5px,#fafff3 170.5px,#fff 171.5px,#fff 199.5px,#fffdf7 200.5px,#ffe8aa 201.5px,#ffd687 202.5px,#ff9d61 208.5px,#ff3d01 216.5px,#ff3000 226.5px,#ff3900 238.5px,#ff5100 245.5px,#ff7300 249.5px,#ff9400 251.5px,#ffac00 252.5px,#fc0 253.5px,#fbf400 254.5px,#ceff00 255.5px,#4f0 257.5px,#0aff05 258.5px,#00ff2d 259.5px,#00ff52 260.5px,#00ff84 262.5px,#00ffab 265.5px,#00ffca 270.5px,#00ffe3 280.5px,#00ffe8 284.5px)"></i><i style="background:linear-gradient(90deg,#ffa475 0.5px,#ffb369 1.5px,#ffd55c 2.5px,#f0fc58 3.5px,#bfff65 4.5px,#a8ff7d 5.5px,#a9ff97 6.5px,#c5ffbe 7.5px,#fbfffb 8.5px,#fff 15.5px,#fffffd 52.5px,#ff7b72 53.5px,#ff0040 54.5px,#ff1d5a 55.5px,#ff4a72 56.5px,#ff657f 57.5px,#ff7686 58.5px,#ff858a 60.5px,#ff8681 67.5px,#ff797b 74.5px,#ff7d8a 77.5px,#ff89ad 80.5px,#ff9fdf 83.5px,#fdbdfa 85.5px,#fef0ff 86.5px,#fff 87.5px,#fff 126.5px,#fbfffc 127.5px,#74e7a4 128.5px,#f50978 129.5px,#ff005a 130.5px,#ff0d48 131.5px,#ff3051 132.5px,#ff4556 133.5px,#ff5456 135.5px,#ff574f 139.5px,#ff2b1e 151.5px,#ff1000 157.5px,#ff0d00 165.5px,#ff0e0c 166.5px,#b64f6e 167.5px,#0fc2d1 168.5px,#9ef2eb 169.5px,#f8fefd 170.5px,#fff 171.5px,#fffefc 200.5px,#ffddb8 201.5px,#ffc28b 202.5px,#ff8d63 208.5px,#ff2c02 216.5px,#f20 227.5px,#ff2b00 240.5px,#ff3e00 246.5px,#ff5400 249.5px,#ff6e00 251.5px,#ff8300 252.5px,#ffa000 253.5px,#fc0 254.5px,#ebfb00 255.5px,#94ff00 256.5px,#31ff00 257.5px,#01ff1f 258.5px,#0f5 259.5px,#00ff79 260.5px,#00ff92 261.5px,#00ffb0 263.5px,#00ffce 267.5px,#00ffe6 276.5px,#00ffef 284.5px)"></i><i style="background:linear-gradient(90deg,#ff8b68 0.5px,#ff914f 1.5px,#ffb529 2.5px,#cffd15 3.5px,#5dff31 4.5px,#68ff7a 5.5px,#8dffab 6.5px,#bcffd2 7.5px,#fbfffd 8.5px,#fff 34.5px,#fffefe 52.5px,#ff876b 53.5px,#ff030a 54.5px,#ff1f38 55.5px,#ff445a 56.5px,#ff606f 57.5px,#ff727c 58.5px,#ff8386 60.5px,#ff8583 66.5px,#ff7b7c 74.5px,#ff8590 78.5px,#ffa6c9 83.5px,#ffc3e4 85.5px,#fff2fa 86.5px,#fff 87.5px,#fefffc 127.5px,#f8d75a 128.5px,#ff3301 129.5px,#ff0016 130.5px,#ff0523 131.5px,#ff273a 132.5px,#ff3e49 133.5px,#ff5153 135.5px,#ff534e 139.5px,#ff261e 151.5px,#ff0900 157.5px,#ff0400 164.5px,#ff0009 165.5px,#ff0036 166.5px,#f600b7 167.5px,#a124fd 168.5px,#c9b2ff 169.5px,#fbfbff 170.5px,#fff 175.5px,#fffefd 200.5px,#ffd5c2 201.5px,#ffad8e 202.5px,#ff7d65 208.5px,#ff1b02 216.5px,#ff1400 230.5px,#ff2000 244.5px,#ff3200 249.5px,#ff4300 251.5px,#ff5100 252.5px,#f60 253.5px,#ff8b00 254.5px,#fecf00 255.5px,#a7ff00 256.5px,#14ff10 257.5px,#00ff5e 258.5px,#00ff8f 259.5px,#00ffab 260.5px,#00ffc8 262.5px,#00ffdf 266.5px,#00fff1 277.5px,#00fff5 284.5px)"></i><i style="background:linear-gradient(90deg,#ff6b5f 0.5px,#ff533a 1.5px,#ff4704 2.5px,#adc814 3.5px,#04ff89 4.5px,#4effce 5.5px,#86ffe5 6.5px,#bbfff2 7.5px,#fcfffe 8.5px,#fffefe 52.5px,#ff7c73 53.5px,#ff0b0a 54.5px,#ff2329 55.5px,#ff4349 56.5px,#ff5e62 57.5px,#ff7073 58.5px,#ff8283 60.5px,#ff8383 66.5px,#ff7b7c 74.5px,#ff878a 78.5px,#ffaab3 83.5px,#ffc5cf 85.5px,#fff3f5 86.5px,#fff 87.5px,#fffdfd 127.5px,#ff8464 128.5px,#ff1500 129.5px,#ff0102 130.5px,#ff050b 131.5px,#ff2329 132.5px,#ff3b3e 133.5px,#ff4f50 135.5px,#ff4f4e 139.5px,#ff201e 151.5px,#ff0300 157.5px,#ff0100 164.5px,#ff0005 165.5px,#ff0016 166.5px,#ff0039 167.5px,#ff468c 168.5px,#ffb8da 169.5px,#fffbfd 170.5px,#fff 182.5px,#fffefe 200.5px,#ff988f 202.5px,#ff6d66 208.5px,#ff0a03 216.5px,#ff0800 242.5px,#ff1300 251.5px,#ff1f00 253.5px,#ff2c00 254.5px,#ff4c00 255.5px,#b8c00a 256.5px,#00ff8a 257.5px,#00ffc9 258.5px,#0fd 259.5px,#00ffef 262.5px,#00fffb 275.5px,#00fffc 284.5px)"></i><i style="background:linear-gradient(90deg,#ff6071 0.5px,#ff3d61 1.5px,#ff0765 2.5px,#b103e7 3.5px,#0c5cff 4.5px,#51b8ff 5.5px,#87d8ff 6.5px,#bbebff 7.5px,#fcfeff 8.5px,#fffefe 52.5px,#ff717e 53.5px,#ff080a 54.5px,#ff2b22 55.5px,#ff4c44 56.5px,#ff655e 57.5px,#ff7571 58.5px,#ff8382 60.5px,#ff8384 66.5px,#ff7c7b 74.5px,#ff8c87 78.5px,#ffb8a9 83.5px,#ffd3c5 85.5px,#fff6f3 86.5px,#fff 87.5px,#fffdfe 127.5px,#ff6293 128.5px,#ff001f 129.5px,#ff0401 130.5px,#ff0f05 131.5px,#ff2c24 132.5px,#ff403b 133.5px,#ff504f 135.5px,#ff4e50 139.5px,#ff1e21 151.5px,#ff0004 157.5px,#ff0001 164.5px,#ff0800 165.5px,#ff2000 166.5px,#f50 167.5px,#ffae41 168.5px,#fce8b7 169.5px,#fffefb 170.5px,#fff 179.5px,#fffefe 200.5px,#ff8f9c 202.5px,#ff6570 208.5px,#ff030d 216.5px,#ff000a 238.5px,#ff0016 249.5px,#ff0024 252.5px,#ff002e 253.5px,#ff0041 254.5px,#ff006e 255.5px,#bb00e1 256.5px,#035fff 257.5px,#00b0ff 258.5px,#0cf 259.5px,#00e2ff 261.5px,#00f3ff 267.5px,#00fbff 284.5px)"></i><i style="background:linear-gradient(90deg,#ff6a91 0.5px,#ff559a 1.5px,#ff35c0 2.5px,#d721fe 3.5px,#773cff 4.5px,#7275ff 5.5px,#8fa2ff 6.5px,#bcccff 7.5px,#fbfcff 8.5px,#fff 26.5px,#fffefe 52.5px,#ff6b88 53.5px,#ff0f02 54.5px,#ff3c1e 55.5px,#ff5e45 56.5px,#ff7261 57.5px,#ff7e73 58.5px,#ff8783 60.5px,#ff8386 66.5px,#ff7c7a 74.5px,#ff8980 77.5px,#ffb395 81.5px,#ffdbb1 84.5px,#ffe9c2 85.5px,#fffbf2 86.5px,#fff 87.5px,#fefcff 127.5px,#ee59e7 128.5px,#ff042f 129.5px,#ff2000 130.5px,#ff2906 131.5px,#ff3e28 132.5px,#ff4c3f 133.5px,#ff5351 135.5px,#ff4e53 139.5px,#ff1e27 151.5px,#ff000b 157.5px,#ff0006 164.5px,#ff0700 165.5px,#f30 166.5px,#ecc400 167.5px,#73ff27 168.5px,#b9ffb7 169.5px,#fafffb 170.5px,#fff 174.5px,#fffdfe 200.5px,#ffc0d6 201.5px,#ff8db1 202.5px,#ff6581 208.5px,#ff021e 216.5px,#ff0017 229.5px,#f02 243.5px,#ff0039 249.5px,#ff004c 251.5px,#ff005b 252.5px,#ff0073 253.5px,#ff009a 254.5px,#fc00dd 255.5px,#a200ff 256.5px,#1a08ff 257.5px,#004eff 258.5px,#0082ff 259.5px,#00a0ff 260.5px,#00c0ff 262.5px,#00daff 266.5px,#0ef 276.5px,#00f4ff 284.5px)"></i><i style="background:linear-gradient(90deg,#ff77a7 0.5px,#ff6db7 1.5px,#ff63d7 2.5px,#f461fc 3.5px,#ca6cff 4.5px,#b481ff 5.5px,#b399ff 6.5px,#cabeff 7.5px,#fbfbff 8.5px,#fff 13.5px,#fefdff 52.5px,#ff8073 53.5px,#ff5400 54.5px,#ff641f 55.5px,#ff774b 56.5px,#ff8267 57.5px,#f87 58.5px,#ff8b86 60.5px,#ff8186 67.5px,#ff7a79 74.5px,#ff8a7c 77.5px,#ffaf87 80.5px,#ffe49c 83.5px,#fff4a9 84.5px,#fbfcbc 85.5px,#fdffef 86.5px,#fff 87.5px,#fff 126.5px,#fbfdff 127.5px,#5dc3cc 128.5px,#eda300 129.5px,#ff6a00 130.5px,#ff5110 131.5px,#f53 132.5px,#ff5946 133.5px,#ff5755 135.5px,#ff4f58 139.5px,#ff1e2d 151.5px,#f01 157.5px,#ff0012 165.5px,#ff051b 166.5px,#b6447a 167.5px,#0f9ce4 168.5px,#9cd7fb 169.5px,#f7fbff 170.5px,#fff 171.5px,#fff 199.5px,#fffbfd 200.5px,#ffb6df 201.5px,#ff8ac6 202.5px,#ff6391 208.5px,#ff022f 216.5px,#ff0024 227.5px,#ff002f 240.5px,#ff0043 246.5px,#ff005a 249.5px,#ff0076 251.5px,#ff008c 252.5px,#f0a 253.5px,#ff00d6 254.5px,#e500fd 255.5px,#9100ff 256.5px,#3600ff 257.5px,#0117ff 258.5px,#004cff 259.5px,#0071ff 260.5px,#008aff 261.5px,#0af 263.5px,#00caff 267.5px,#00e2ff 275.5px,#00edff 284.5px)"></i><i style="background:linear-gradient(90deg,#ff83b4 0.5px,#ff7ed9 2.5px,#fe7ff3 3.5px,#f185ff 4.5px,#e191ff 5.5px,#dba0ff 6.5px,#e3beff 7.5px,#fdfaff 8.5px,#fff 10.5px,#fff 51.5px,#fbfffd 52.5px,#c6fc59 53.5px,#fec407 54.5px,#ff9b35 55.5px,#ff9359 56.5px,#ff9270 57.5px,#ff9185 59.5px,#ff858b 65.5px,#ff7776 74.5px,#ff8876 77.5px,#ffa179 79.5px,#ffca7e 81.5px,#fbfb8d 83.5px,#deffb1 85.5px,#f3ffeb 86.5px,#fff 87.5px,#fff 126.5px,#fafffc 127.5px,#7cff68 128.5px,#d4f708 129.5px,#ffa40f 130.5px,#ff782c 131.5px,#ff6a43 132.5px,#ff6451 133.5px,#ff565f 137.5px,#ff394a 145.5px,#ff0018 157.5px,#ff001f 164.5px,#ff002a 165.5px,#ff0050 166.5px,#f900bc 167.5px,#bc13f8 168.5px,#da92fc 169.5px,#fcf1fe 170.5px,#fff 171.5px,#fff 199.5px,#fff5fe 200.5px,#ffa7eb 201.5px,#ff86da 202.5px,#ff60a0 208.5px,#ff0140 216.5px,#ff0032 226.5px,#ff003c 238.5px,#f05 245.5px,#ff0079 249.5px,#ff009b 251.5px,#ff00b3 252.5px,#f900f8 254.5px,#c900ff 255.5px,#4600ff 257.5px,#0d03ff 258.5px,#0027ff 259.5px,#004cff 260.5px,#007eff 262.5px,#00a7ff 265.5px,#00c7ff 270.5px,#00e1ff 280.5px,#00e7ff 284.5px)"></i><i style="background:linear-gradient(90deg,#ff8dbb 0.5px,#ff94f5 4.5px,#f7a6ff 6.5px,#f8bdff 7.5px,#fef7ff 8.5px,#fff 9.5px,#fff 51.5px,#fafffa 52.5px,#c1ff70 53.5px,#f8f03f 54.5px,#ffc057 55.5px,#ffa96d 56.5px,#ff9b86 58.5px,#ff8a90 63.5px,#ff7981 71.5px,#ff7672 75.5px,#ff8c6d 78.5px,#ffb169 80.5px,#fcf66a 82.5px,#daff74 83.5px,#bbff87 84.5px,#b0ffa2 85.5px,#e3ffe5 86.5px,#fff 87.5px,#fff 126.5px,#fbfff9 127.5px,#d5ff8c 128.5px,#f7f14b 129.5px,#ffb444 130.5px,#ff8c4c 131.5px,#ff7756 132.5px,#ff625f 134.5px,#ff5564 138.5px,#ff1934 152.5px,#ff001f 157.5px,#ff0025 164.5px,#ff002d 165.5px,#ff003f 166.5px,#ff0059 167.5px,#ff176b 168.5px,#ff879e 169.5px,#ffeae6 170.5px,#fff 171.5px,#fff 199.5px,#fde8ff 200.5px,#fe95fa 201.5px,#ff80ee 202.5px,#ff5daf 208.5px,#ff0051 216.5px,#ff0041 225.5px,#ff0047 236.5px,#ff005f 243.5px,#ff007c 247.5px,#ff00a5 250.5px,#ff00d3 252.5px,#fe00f2 253.5px,#e400ff 254.5px,#8300ff 256.5px,#1e00ff 258.5px,#010eff 259.5px,#004dff 261.5px,#0076ff 263.5px,#009cff 266.5px,#00beff 271.5px,#00dbff 281.5px,#00e0ff 284.5px)"></i><i style="background:linear-gradient(90deg,#ff95bd 0.5px,#ffa1eb 5.5px,#ffa8ef 6.5px,#ffb9f2 7.5px,#fff4fd 8.5px,#fff 9.5px,#fff 51.5px,#fbfff9 52.5px,#e3ff98 53.5px,#fdf272 54.5px,#fc7 55.5px,#ffb581 56.5px,#ffa08f 58.5px,#ff9092 61.5px,#ff828e 67.5px,#ff7074 74.5px,#ff726b 76.5px,#ff8062 78.5px,#ff8e5b 79.5px,#ffa551 80.5px,#ffce44 81.5px,#e9fd3c 82.5px,#9cff46 83.5px,#72ff6b 84.5px,#88ffab 85.5px,#d4ffec 86.5px,#fff 87.5px,#fff 126.5px,#fefff7 127.5px,#fdf6a1 128.5px,#ffd475 129.5px,#ffac68 130.5px,#ff8d65 131.5px,#ff6d67 133.5px,#ff5b6d 137.5px,#ff1435 153.5px,#ff0025 157.5px,#ff0027 165.5px,#ff0020 166.5px,#ff080c 167.5px,#ff4e04 168.5px,#f6d551 169.5px,#e8fdc5 170.5px,#fdfffd 171.5px,#fffeff 199.5px,#f2ccff 200.5px,#ed84ff 201.5px,#fa79fe 202.5px,#ff6cde 205.5px,#ff58bd 208.5px,#ff0769 215.5px,#ff0061 216.5px,#ff004f 224.5px,#ff0053 234.5px,#ff0067 241.5px,#ff0089 246.5px,#ff00ae 249.5px,#ff00d4 251.5px,#ff00ed 252.5px,#f200fe 253.5px,#a900ff 255.5px,#2a00ff 258.5px,#0702ff 259.5px,#001bff 260.5px,#004eff 262.5px,#007fff 265.5px,#00a4ff 269.5px,#00c6ff 276.5px,#00d9ff 284.5px)"></i><i style="background:linear-gradient(90deg,#ff9abd 0.5px,#ffa4da 5.5px,#ffb5df 7.5px,#ffeef7 8.5px,#fff 9.5px,#fff 51.5px,#fdfff7 52.5px,#f9fdab 53.5px,#ffe791 54.5px,#ffcc8f 55.5px,#ffac95 57.5px,#ff9698 60.5px,#ff8494 66.5px,#ff717b 73.5px,#ff6865 76.5px,#ff6e56 78.5px,#ff7549 79.5px,#ff8533 80.5px,#ffb112 81.5px,#d6fa03 82.5px,#36ff0e 83.5px,#2aff83 84.5px,#67fedf 85.5px,#bdf8fd 86.5px,#feffff 87.5px,#fff 126.5px,#fffaf3 127.5px,#ffd6a9 128.5px,#ffb78a 129.5px,#ff9c7c 130.5px,#ff7773 132.5px,#ff6177 136.5px,#ff002c 157.5px,#ff002a 164.5px,#ff0025 165.5px,#ff0014 166.5px,#ff1c00 167.5px,#fba900 168.5px,#54ff26 169.5px,#89fccf 170.5px,#f1fbfe 171.5px,#fff 172.5px,#fff 198.5px,#f9f5ff 199.5px,#d6a3ff 200.5px,#d678ff 201.5px,#f56cff 203.5px,#fe69fa 204.5px,#ff5cd7 207.5px,#ff0478 215.5px,#ff0063 220.5px,#ff005b 229.5px,#ff006b 238.5px,#ff008b 244.5px,#ff00b5 248.5px,#ff00ea 251.5px,#fa00fd 252.5px,#c100ff 254.5px,#1200ff 259.5px,#000cff 260.5px,#004fff 263.5px,#007aff 266.5px,#00a4ff 271.5px,#00c6ff 279.5px,#00d3ff 284.5px)"></i><i style="background:linear-gradient(90deg,#ff9ebc 0.5px,#ffa4cb 4.5px,#ffa8cb 6.5px,#ffb0cb 7.5px,#ffe5ec 8.5px,#fff 9.5px,#fff 51.5px,#fffef3 52.5px,#ffefb5 53.5px,#ffd9a4 54.5px,#ffb79f 56.5px,#ff9d9f 59.5px,#ff879a 65.5px,#ff6f7e 73.5px,#ff6065 76.5px,#ff574c 78.5px,#ff5339 79.5px,#ff4c17 80.5px,#ff6500 81.5px,#eec400 82.5px,#0cfa6a 83.5px,#03d8ee 84.5px,#42b8ff 85.5px,#9fc5ff 86.5px,#fbfcff 87.5px,#fff 100.5px,#fff 126.5px,#fff0ed 127.5px,#ffb8ac 128.5px,#ff9e96 129.5px,#ff8c8b 130.5px,#ff7a88 132.5px,#ff6381 136.5px,#f03 157.5px,#ff0030 164.5px,#ff0021 166.5px,#ff0313 167.5px,#ff2e2d 168.5px,#2269e5 169.5px,#5868ff 170.5px,#e4ccff 171.5px,#fffdff 172.5px,#fefeff 198.5px,#dbd1ff 199.5px,#b07dff 200.5px,#bd6dff 201.5px,#f163ff 204.5px,#fd60fc 205.5px,#ff4dd8 208.5px,#ff0286 215.5px,#ff006e 221.5px,#ff0069 230.5px,#ff007a 238.5px,#ff009c 244.5px,#ff00c8 248.5px,#fd00fb 251.5px,#eb00ff 252.5px,#9700ff 255.5px,#1c00ff 259.5px,#0403ff 260.5px,#0050ff 264.5px,#0081ff 268.5px,#0af 274.5px,#0cf 284.5px)"></i><i style="background:linear-gradient(90deg,#ffa0ba 0.5px,#ffa5c1 4.5px,#ffaab7 7.5px,#fff 9.5px,#fff 51.5px,#fff9ee 52.5px,#ffdfbd 53.5px,#ffbeab 55.5px,#ffa9a7 57.5px,#ff93a7 62.5px,#ff7186 72.5px,#ff5d6b 76.5px,#ff474e 78.5px,#ff3438 79.5px,#ff1415 80.5px,#ff0912 81.5px,#ff044f 82.5px,#6c0fff 83.5px,#1021ff 84.5px,#3439ff 85.5px,#907fff 86.5px,#f7f3ff 87.5px,#fff 88.5px,#fff 126.5px,#ffe3ea 127.5px,#ffacbe 128.5px,#ff8da8 130.5px,#ff527b 139.5px,#ff0039 157.5px,#ff0037 166.5px,#f04 167.5px,#ff0083 168.5px,#eb00e3 169.5px,#e91ce2 170.5px,#ff8ac8 171.5px,#ffedea 172.5px,#fff 173.5px,#fff 197.5px,#eceeff 198.5px,#9992ff 199.5px,#8d66ff 200.5px,#e15cff 204.5px,#fd55fd 206.5px,#ff28c1 211.5px,#ff0095 215.5px,#ff007c 221.5px,#ff0075 229.5px,#ff0084 237.5px,#ff00a5 243.5px,#f0c 247.5px,#fe00f9 250.5px,#f100ff 251.5px,#ab00ff 254.5px,#0b00ff 260.5px,#000cff 261.5px,#0043ff 264.5px,#0075ff 268.5px,#00a0ff 274.5px,#00c6ff 284.5px)"></i><i style="background:linear-gradient(90deg,#ffa2b7 0.5px,#ffa4b8 4.5px,#ffa5a5 7.5px,#ffcbc4 8.5px,#fffdfd 9.5px,#fff 51.5px,#ffefe7 52.5px,#ffd0c2 53.5px,#ffb6b4 55.5px,#ff99b0 61.5px,#ff6780 74.5px,#ff526a 77.5px,#ff3353 79.5px,#ff1546 80.5px,#ff0057 81.5px,#ff00a5 82.5px,#da00fc 83.5px,#8c00ff 84.5px,#8c21ff 85.5px,#bb5dff 86.5px,#f7dfff 87.5px,#fff 88.5px,#fffeff 126.5px,#ffaadb 128.5px,#ff8ec4 130.5px,#ff5686 138.5px,#ff2358 150.5px,#ff0040 157.5px,#ff0046 166.5px,#ff0050 167.5px,#ff0065 168.5px,#ff0070 169.5px,#ff0544 170.5px,#ff7042 171.5px,#f6f09f 172.5px,#f5fff1 173.5px,#fff 174.5px,#fff 196.5px,#f5faff 197.5px,#a4beff 198.5px,#6069ff 199.5px,#6e56ff 200.5px,#bc54ff 203.5px,#f14dff 206.5px,#fd47fd 207.5px,#ff04ab 214.5px,#ff008f 219.5px,#ff0081 227.5px,#ff008b 235.5px,#ff00a6 241.5px,#ff00d0 246.5px,#ff00f8 249.5px,#f500ff 250.5px,#a300ff 254.5px,#1200ff 260.5px,#0104ff 261.5px,#0046ff 265.5px,#007cff 270.5px,#00a7ff 277.5px,#00c0ff 284.5px)"></i><i style="background:linear-gradient(90deg,#ffa3b5 0.5px,#ffa5b4 3.5px,#ff9e9e 6.5px,#ffa79b 7.5px,#ffc3ad 8.5px,#fff9f5 9.5px,#fff 10.5px,#fffefe 51.5px,#ffc7cb 53.5px,#ff9ab8 61.5px,#ff5b7c 76.5px,#ff3a6f 79.5px,#ff2771 80.5px,#ff0f81 81.5px,#ff03af 82.5px,#fd01eb 83.5px,#e408ff 84.5px,#dc23ff 85.5px,#ef44fd 86.5px,#feb8f8 87.5px,#fff 88.5px,#fff 125.5px,#fefaff 126.5px,#fbc5fd 127.5px,#fea5f7 128.5px,#ff8ade 130.5px,#ff66a2 135.5px,#ff4b80 140.5px,#ff0b4d 155.5px,#ff0047 158.5px,#ff004e 167.5px,#ff004a 168.5px,#ff002d 169.5px,#ff2802 170.5px,#f7c003 171.5px,#7fff30 172.5px,#9effcb 173.5px,#f0fbff 174.5px,#fff 175.5px,#fff 195.5px,#f5feff 196.5px,#a7e1ff 197.5px,#5397ff 198.5px,#4562ff 199.5px,#4f45ff 200.5px,#9147ff 202.5px,#c24aff 204.5px,#f33eff 207.5px,#fe37fc 208.5px,#ff01b7 214.5px,#ff0098 220.5px,#ff008d 228.5px,#ff009b 236.5px,#ff00ba 242.5px,#ff00ea 247.5px,#f800ff 249.5px,#b100ff 253.5px,#0501ff 261.5px,#001eff 263.5px,#05f 267.5px,#08f 273.5px,#00b4ff 282.5px,#00baff 284.5px)"></i><i style="background:linear-gradient(90deg,#ffa3b2 0.5px,#ffa4af 3.5px,#ff9e97 6.5px,#ffa692 7.5px,#ffba95 8.5px,#fff1e2 9.5px,#fff 10.5px,#fff 50.5px,#fffbfc 51.5px,#ffd9e7 52.5px,#ffc9dd 53.5px,#ff99bf 61.5px,#ff7599 70.5px,#ff5583 77.5px,#ff4384 79.5px,#ff378a 80.5px,#ff2a9a 81.5px,#ff19d2 83.5px,#ff1be9 84.5px,#ff24ef 85.5px,#ff30e0 86.5px,#ff7bd5 87.5px,#fff8fb 88.5px,#fff 90.5px,#fff 125.5px,#f6f0ff 126.5px,#e0b5ff 127.5px,#e69dff 128.5px,#f48dfe 129.5px,#fe81f6 130.5px,#ff66b5 134.5px,#ff528f 138.5px,#ff346d 146.5px,#ff004e 158.5px,#ff0054 166.5px,#ff0050 167.5px,#f04 168.5px,#ff0021 169.5px,#f30 170.5px,#d0e100 171.5px,#08ff64 172.5px,#21caf4 173.5px,#97a4ff 174.5px,#f4e6ff 175.5px,#fffeff 176.5px,#fff 194.5px,#e9fff6 195.5px,#8efef6 196.5px,#39cfff 197.5px,#2b90ff 198.5px,#2c5bff 199.5px,#3536ff 200.5px,#7f3bff 202.5px,#b440ff 204.5px,#e835ff 207.5px,#ff27fb 209.5px,#ff00c4 214.5px,#ff00a3 220.5px,#ff0098 227.5px,#ff00a4 235.5px,#ff00c1 241.5px,#ff00ec 246.5px,#fa00ff 248.5px,#b0f 252.5px,#0b00ff 261.5px,#0007ff 262.5px,#004bff 267.5px,#0080ff 273.5px,#00adff 282.5px,#00b4ff 284.5px)"></i><i style="background:linear-gradient(90deg,#ffa3b0 0.5px,#ffa2aa 3.5px,#ff9c91 6.5px,#ffa288 7.5px,#ffb07f 8.5px,#ffe2ba 9.5px,#fffffe 10.5px,#fff 50.5px,#fff4fc 51.5px,#ffd5f2 52.5px,#ffb7e2 56.5px,#ff84b0 65.5px,#ff628f 75.5px,#ff528e 78.5px,#ff459a 80.5px,#ff2ad1 84.5px,#ff26d2 85.5px,#ff22c5 86.5px,#ff35ad 87.5px,#ffd6e7 88.5px,#fff 89.5px,#fff 125.5px,#ddf 126.5px,#b6a5ff 127.5px,#be8fff 128.5px,#d07eff 129.5px,#ea72ff 130.5px,#fe6bf7 131.5px,#ff62cb 133.5px,#ff56a2 136.5px,#ff4482 141.5px,#ff125d 154.5px,#f05 158.5px,#ff005d 166.5px,#ff0052 168.5px,#ff032b 170.5px,#cc3667 171.5px,#105efb 172.5px,#171dff 173.5px,#8323ff 174.5px,#f374f5 175.5px,#ffc6dd 176.5px,#fff6f4 177.5px,#fff 178.5px,#fff 192.5px,#f9fff5 193.5px,#beffc1 194.5px,#50ff9f 195.5px,#0effd7 196.5px,#06d1ff 197.5px,#0987ff 198.5px,#114dff 199.5px,#1f26ff 200.5px,#4726ff 201.5px,#6f2eff 202.5px,#a835ff 204.5px,#dd2bff 207.5px,#f91eff 209.5px,#ff0fed 211.5px,#ff01d8 213.5px,#ff00b6 218.5px,#ff00a4 225.5px,#f0a 233.5px,#ff00c7 240.5px,#f0e 245.5px,#fa00ff 247.5px,#b300ff 252.5px,#1000ff 261.5px,#0202ff 262.5px,#004eff 268.5px,#007fff 274.5px,#00abff 283.5px,#00afff 284.5px)"></i><i style="background:linear-gradient(90deg,#ffa2ae 0.5px,#ffa1a7 3.5px,#ff988c 6.5px,#ff9f6e 8.5px,#ffc27f 9.5px,#fffbef 10.5px,#fff 11.5px,#fffeff 50.5px,#fcd2fe 52.5px,#ffb6f0 56.5px,#ff86b9 64.5px,#ff6d9a 72.5px,#ff5c95 77.5px,#ff4fa2 80.5px,#ff35c5 84.5px,#ff2ac5 85.5px,#ff1bbd 86.5px,#ff09aa 87.5px,#ff8fd2 88.5px,#fffeff 89.5px,#fff 124.5px,#f9fdff 125.5px,#bedaff 126.5px,#94a9ff 127.5px,#887dff 128.5px,#9f65ff 129.5px,#c858ff 130.5px,#f254fe 131.5px,#ff54e8 132.5px,#ff53bc 134.5px,#ff4d9a 137.5px,#ff3d7e 143.5px,#ff0e61 155.5px,#ff005c 158.5px,#ff006c 169.5px,#ff0084 170.5px,#fa00d8 171.5px,#ab00ff 172.5px,#a400ff 173.5px,#e201f8 174.5px,#ff18b0 175.5px,#ff465e 176.5px,#ffba7d 177.5px,#f7fdbf 178.5px,#efffe9 179.5px,#fafffb 180.5px,#fff 184.5px,#fffcfb 190.5px,#fff7ea 191.5px,#fbfcb7 192.5px,#baff5e 193.5px,#35ff18 194.5px,#00ff58 195.5px,#00ffca 196.5px,#00d1ff 197.5px,#0080ff 198.5px,#003eff 199.5px,#0a12ff 200.5px,#6320ff 202.5px,#9d28ff 204.5px,#d421ff 207.5px,#fc0ffe 210.5px,#ff00e2 213.5px,#ff00c1 218.5px,#ff00af 225.5px,#ff00b5 233.5px,#ff00d2 240.5px,#ff00f9 245.5px,#f000ff 247.5px,#ac00ff 252.5px,#0500ff 262.5px,#0024ff 265.5px,#0061ff 271.5px,#0094ff 279.5px,#00a9ff 284.5px)"></i><i style="background:linear-gradient(90deg,#ffa1ac 0.5px,#ff9fa4 3.5px,#ff9288 6.5px,#ff8762 8.5px,#ff894b 9.5px,#ffd7b9 10.5px,#fff 11.5px,#fff 49.5px,#fcfaff 50.5px,#efdeff 51.5px,#f0c7ff 53.5px,#feb2fc 56.5px,#ff87c3 63.5px,#ff74a5 69.5px,#ff629a 76.5px,#ff57a8 80.5px,#ff49bc 83.5px,#ff33c2 85.5px,#ff09c2 87.5px,#ff3be3 88.5px,#fce7ff 89.5px,#fff 90.5px,#fff 124.5px,#e5fefc 125.5px,#a2f2fe 126.5px,#7ecdff 127.5px,#5989ff 128.5px,#523dff 129.5px,#9b2cff 130.5px,#e431ff 131.5px,#ff3ae9 132.5px,#ff42cb 133.5px,#ff49ab 135.5px,#ff458f 139.5px,#ff216f 151.5px,#ff0062 158.5px,#f07 167.5px,#ff0089 169.5px,#ff00a3 170.5px,#ff00cf 171.5px,#fb00f2 172.5px,#fa00f0 173.5px,#ff00c2 174.5px,#ff0067 175.5px,#ff200a 176.5px,#ffb00b 177.5px,#bf2 178.5px,#67ff58 179.5px,#88ffbf 180.5px,#b2fcf9 181.5px,#cdebff 182.5px,#dce2ff 183.5px,#fbe2ff 186.5px,#ffdbf9 187.5px,#ffcce6 188.5px,#ffb0c0 189.5px,#ff9182 190.5px,#ff9441 191.5px,#ffcd0e 192.5px,#ccfe00 193.5px,#4fff00 194.5px,#0f4 195.5px,#00ffd0 196.5px,#00c0ff 197.5px,#006eff 198.5px,#0030ff 199.5px,#0704ff 200.5px,#3005ff 201.5px,#5b11ff 202.5px,#7c18ff 203.5px,#ab1cff 205.5px,#e80eff 209.5px,#fe02fd 211.5px,#ff00d6 216.5px,#ff00be 222.5px,#ff00ba 230.5px,#ff00ce 237.5px,#ff00f3 243.5px,#fa00ff 245.5px,#c100ff 250.5px,#0900ff 262.5px,#0005ff 263.5px,#0049ff 269.5px,#007dff 276.5px,#00a4ff 284.5px)"></i><i style="background:linear-gradient(90deg,#ffa1aa 0.5px,#ff9ea3 3.5px,#ff8c87 6.5px,#ff725f 8.5px,#ff553d 9.5px,#ff716b 10.5px,#fff5f7 11.5px,#fff 12.5px,#fff 49.5px,#f1f1ff 50.5px,#dcd6ff 51.5px,#e2bcff 54.5px,#fba6ff 57.5px,#ff86ce 62.5px,#ff77af 67.5px,#ff689e 74.5px,#ff5ea7 79.5px,#ff53bb 83.5px,#ff3ec2 85.5px,#ff2fc6 86.5px,#ff1dd1 87.5px,#ff19ef 88.5px,#f4a6ff 89.5px,#fffeff 90.5px,#fff 123.5px,#fafffb 124.5px,#c2ffdd 125.5px,#8dffd9 126.5px,#62faec 127.5px,#26c6fd 128.5px,#0737ff 129.5px,#7a00ff 130.5px,#ea06fc 131.5px,#ff1cd8 132.5px,#ff30bd 133.5px,#ff40a4 135.5px,#ff428c 140.5px,#ff2274 151.5px,#ff0169 158.5px,#ff007f 166.5px,#ff008c 168.5px,#ff00ab 170.5px,#ff00bf 171.5px,#f0c 172.5px,#ff00c1 173.5px,#ff0096 174.5px,#ff0047 175.5px,#ff3100 176.5px,#f9ce00 177.5px,#73ff00 178.5px,#05ff33 179.5px,#15ffb7 180.5px,#37e3fd 181.5px,#51a4ff 182.5px,#6275ff 183.5px,#8a6aff 184.5px,#e568ff 186.5px,#ff5eec 187.5px,#ff4cb9 188.5px,#f37 189.5px,#ff1726 190.5px,#ff3601 191.5px,#ff8200 192.5px,#fad900 193.5px,#9aff00 194.5px,#07ff40 195.5px,#00eeea 196.5px,#0092ff 197.5px,#004aff 198.5px,#0016ff 199.5px,#1500ff 200.5px,#5903ff 202.5px,#900fff 204.5px,#c60dff 207.5px,#f800ff 211.5px,#ff00f4 213.5px,#ff00d0 219.5px,#ff00c2 226.5px,#ff00cd 234.5px,#f0e 241.5px,#f900ff 244.5px,#b900ff 250.5px,#0102ff 263.5px,#004cff 270.5px,#0083ff 278.5px,#009fff 284.5px)"></i><i style="background:linear-gradient(90deg,#ffa0a9 0.5px,#ff999d 4.5px,#ff8988 6.5px,#ff6765 8.5px,#ff4b51 9.5px,#ff4261 10.5px,#ffc8dd 11.5px,#fff 12.5px,#fff 48.5px,#fbfdff 49.5px,#e1edff 50.5px,#d1daff 51.5px,#c8bfff 53.5px,#e0a5ff 56.5px,#fa95ff 58.5px,#ff84db 61.5px,#ff79ba 65.5px,#ff6ea4 71.5px,#ff64a3 77.5px,#ff5bbb 83.5px,#ff3fc6 86.5px,#ff34d1 87.5px,#ff30e5 88.5px,#fc66fb 89.5px,#feeaff 90.5px,#fff 91.5px,#fff 123.5px,#e8ffe3 124.5px,#aaffa9 125.5px,#7fff94 126.5px,#47ff87 127.5px,#04ff97 128.5px,#009fe5 129.5px,#be00f6 130.5px,#fe00d1 131.5px,#ff07ae 132.5px,#ff21a4 133.5px,#ff319f 134.5px,#ff4094 137.5px,#ff3984 144.5px,#ff1174 155.5px,#ff0072 159.5px,#ff0089 166.5px,#ff00a2 169.5px,#ff00b8 171.5px,#f0b 172.5px,#ff00ae 173.5px,#ff008d 174.5px,#ff0050 175.5px,#ff2106 176.5px,#e9cf00 177.5px,#29ff13 178.5px,#00ff91 179.5px,#00f0f1 180.5px,#0aa7ff 181.5px,#266bff 182.5px,#3f43ff 183.5px,#aa47ff 185.5px,#d944ff 186.5px,#fd3cf3 187.5px,#ff2ec3 188.5px,#ff1887 189.5px,#ff0244 190.5px,#ff0511 191.5px,#ff2b00 192.5px,#ff6500 193.5px,#f7ac00 194.5px,#39b67e 195.5px,#007fff 196.5px,#0040ff 197.5px,#0116ff 198.5px,#0f01ff 199.5px,#6200ff 202.5px,#a205ff 205.5px,#db00ff 209.5px,#fa00ff 212.5px,#ff00e7 216.5px,#ff00cf 223.5px,#ff00d0 231.5px,#ff00e7 238.5px,#fe00fe 242.5px,#c900ff 248.5px,#6200ff 256.5px,#0400ff 263.5px,#004eff 271.5px,#08f 280.5px,#009aff 284.5px)"></i><i style="background:linear-gradient(90deg,#ff9fa9 0.5px,#ff999e 4.5px,#ff8b8e 6.5px,#ff5c6d 9.5px,#ff4e74 10.5px,#ff8bb4 11.5px,#fff5fa 12.5px,#fff 13.5px,#fff 48.5px,#effeff 49.5px,#d6f4ff 50.5px,#c1d6ff 52.5px,#b3aeff 54.5px,#ca98ff 56.5px,#fe82fb 59.5px,#ff79d2 62.5px,#ff74b4 66.5px,#ff6ba3 73.5px,#ff65ab 79.5px,#ff62ba 83.5px,#ff47cb 87.5px,#ff45d5 88.5px,#ff51e3 89.5px,#ffacf4 90.5px,#fffbfe 91.5px,#fff 98.5px,#fff 122.5px,#fdfff4 123.5px,#e5ffbf 124.5px,#a2ff75 126.5px,#6fff3e 127.5px,#49ff01 128.5px,#b3e700 129.5px,#ff0e35 130.5px,#ff006d 131.5px,#ff037a 132.5px,#ff1b88 133.5px,#ff2c8e 134.5px,#ff3b91 136.5px,#ff3e8c 141.5px,#ff1f7d 152.5px,#ff0078 159.5px,#ff0092 166.5px,#ff00b7 171.5px,#ff00b9 172.5px,#ff00b1 173.5px,#ff009f 174.5px,#ff0081 175.5px,#ff0054 176.5px,#c35649 177.5px,#00e2bb 178.5px,#00d6f7 179.5px,#009eff 180.5px,#0060ff 181.5px,#0b2dff 182.5px,#3822ff 183.5px,#742eff 184.5px,#d232ff 186.5px,#f92bfb 187.5px,#ff1ed4 188.5px,#ff09a2 189.5px,#ff0073 190.5px,#ff004c 191.5px,#ff002e 192.5px,#ff0323 193.5px,#ff0245 194.5px,#cc00e3 195.5px,#3b00ff 196.5px,#2000ff 197.5px,#2600ff 198.5px,#a300ff 205.5px,#e200ff 210.5px,#fc00ff 213.5px,#ff00de 220.5px,#ff00d5 227.5px,#ff00e4 235.5px,#fc00ff 241.5px,#c0f 247.5px,#6d00ff 255.5px,#0700ff 263.5px,#0010ff 265.5px,#0050ff 272.5px,#0087ff 281.5px,#0095ff 284.5px)"></i><i style="background:linear-gradient(90deg,#ff9fa8 0.5px,#ff959b 5.5px,#ff7782 8.5px,#ff6a7d 9.5px,#ff617f 10.5px,#ff6a93 11.5px,#ffc8da 12.5px,#fffefe 13.5px,#fff 47.5px,#f8fffb 48.5px,#ddfff5 49.5px,#c5f7ff 51.5px,#add1ff 53.5px,#a0b3ff 54.5px,#9a94ff 55.5px,#ac85ff 56.5px,#e375ff 58.5px,#fb72fd 59.5px,#ff71d0 62.5px,#ff70b4 66.5px,#ff6ba5 73.5px,#ff68b0 80.5px,#ff64bc 84.5px,#ff53c7 88.5px,#ff57cb 89.5px,#ff72d3 90.5px,#ffd2ef 91.5px,#fffeff 92.5px,#fff 121.5px,#fffefb 122.5px,#fff9d4 123.5px,#fafca9 124.5px,#e0ff74 126.5px,#d7ff4a 127.5px,#e5f811 128.5px,#ffb200 129.5px,#ff2e01 130.5px,#ff0027 131.5px,#ff0a54 132.5px,#ff2072 133.5px,#ff2d81 134.5px,#ff3d8e 137.5px,#ff398a 144.5px,#ff1480 155.5px,#ff0081 160.5px,#ff00a1 167.5px,#ff00bf 172.5px,#ff00be 175.5px,#fe00d6 176.5px,#a900fd 177.5px,#0d21ff 178.5px,#0049ff 179.5px,#003eff 180.5px,#001eff 181.5px,#1004ff 182.5px,#7b21ff 184.5px,#cd27ff 186.5px,#f221ff 187.5px,#ff15e7 188.5px,#ff04c0 189.5px,#ff009e 190.5px,#ff0085 191.5px,#ff0079 192.5px,#ff0081 193.5px,#ff00b1 194.5px,#e800f9 195.5px,#9400ff 196.5px,#6700ff 197.5px,#5a00ff 198.5px,#5b00ff 199.5px,#8b00ff 203.5px,#d500ff 209.5px,#fd00ff 214.5px,#ff00e1 222.5px,#ff00e0 230.5px,#ff00f9 238.5px,#f400ff 241.5px,#b0f 248.5px,#0102ff 264.5px,#004bff 272.5px,#0082ff 281.5px,#0090ff 284.5px)"></i><i style="background:linear-gradient(90deg,#ff9ea8 0.5px,#ff979e 5.5px,#ff7686 9.5px,#ff6c88 11.5px,#ff8ca3 12.5px,#ffe6ea 13.5px,#fff 14.5px,#fcfffc 47.5px,#e6ffe9 48.5px,#d2ffe3 49.5px,#b0fbfc 52.5px,#a0e7ff 53.5px,#8dc4ff 54.5px,#7890ff 55.5px,#7f66ff 56.5px,#ac5cff 57.5px,#d95bff 58.5px,#fa5efd 59.5px,#ff65d8 61.5px,#ff6bbb 64.5px,#ff6da8 70.5px,#ff6aa9 77.5px,#ff6ab9 84.5px,#ff5cba 88.5px,#ff64b6 90.5px,#ff8ac0 91.5px,#ffe2ec 92.5px,#fff 93.5px,#fffdfd 121.5px,#ffebe0 122.5px,#ffdeb5 123.5px,#ffea78 126.5px,#ffe15b 127.5px,#ffc238 128.5px,#ff8318 129.5px,#ff380d 130.5px,#ff121f 131.5px,#ff1e4d 132.5px,#ff2a69 133.5px,#ff3883 135.5px,#ff3f8e 139.5px,#ff2c89 149.5px,#ff0087 160.5px,#ff00a8 167.5px,#ff00d9 174.5px,#ff00eb 175.5px,#ea00fe 176.5px,#a100ff 177.5px,#4c00ff 178.5px,#1c01ff 179.5px,#1302ff 180.5px,#1e00ff 181.5px,#3700ff 182.5px,#8719ff 184.5px,#cb20ff 186.5px,#e91bff 187.5px,#fe11f6 188.5px,#ff03da 189.5px,#ff00c3 190.5px,#ff00b3 191.5px,#ff00af 192.5px,#ff00bc 193.5px,#ff00df 194.5px,#ea00ff 195.5px,#b600ff 196.5px,#9200ff 197.5px,#8000ff 198.5px,#7a00ff 199.5px,#8200ff 201.5px,#e400ff 211.5px,#fd00ff 215.5px,#ff00e7 223.5px,#ff00ea 231.5px,#fc00ff 238.5px,#cf00ff 245.5px,#7f00ff 253.5px,#0201ff 264.5px,#004eff 273.5px,#0087ff 283.5px,#008cff 284.5px)"></i><i style="background:linear-gradient(90deg,#ff9ea8 0.5px,#ff949c 6.5px,#ff7383 11.5px,#ff7583 12.5px,#ffa5aa 13.5px,#fff2f1 14.5px,#fff 15.5px,#fefffd 46.5px,#f3ffec 47.5px,#dbffd5 48.5px,#ccffcf 49.5px,#b5ffd8 51.5px,#90fdf3 53.5px,#72e5fe 54.5px,#4c9dff 55.5px,#3c38ff 56.5px,#8e29ff 57.5px,#d936ff 58.5px,#fd45f6 59.5px,#ff50de 60.5px,#ff5fc4 62.5px,#ff6aaf 66.5px,#ff6ba7 74.5px,#ff6db7 85.5px,#ff61ab 89.5px,#ff699a 91.5px,#ff93a8 92.5px,#ffe4e4 93.5px,#fffefe 94.5px,#fffdfd 120.5px,#ffe4e7 121.5px,#ffc3bd 122.5px,#ffc68f 125.5px,#ffc37e 126.5px,#ffb669 127.5px,#ff9d54 128.5px,#ff7640 129.5px,#ff4a34 130.5px,#ff303a 131.5px,#ff356a 133.5px,#ff3c81 135.5px,#ff408f 139.5px,#ff2d8d 149.5px,#ff018e 160.5px,#ff00af 167.5px,#ff00de 173.5px,#f900fd 175.5px,#d900ff 176.5px,#7900ff 178.5px,#5800ff 179.5px,#4a00ff 180.5px,#4d00ff 181.5px,#5c00ff 182.5px,#b019ff 185.5px,#e216ff 187.5px,#f80efe 188.5px,#ff02f0 189.5px,#ff00df 190.5px,#ff00d5 191.5px,#ff00d5 192.5px,#ff00e1 193.5px,#fe00f7 194.5px,#e500ff 195.5px,#a0f 197.5px,#90f 198.5px,#9000ff 200.5px,#9f00ff 203.5px,#e700ff 212.5px,#ff00fd 217.5px,#ff00ed 225.5px,#ff00f7 233.5px,#f900ff 237.5px,#cf00ff 244.5px,#8600ff 252.5px,#0400ff 264.5px,#0050ff 274.5px,#08f 284.5px)"></i><i style="background:linear-gradient(90deg,#ff9ea8 0.5px,#ff969e 6.5px,#ff7678 12.5px,#ff807a 13.5px,#ffbdb0 14.5px,#fff7f3 15.5px,#fff 16.5px,#fffffe 45.5px,#fdffee 46.5px,#f1ffd7 47.5px,#beffbc 50.5px,#9bffbb 52.5px,#7effc0 53.5px,#4efed4 54.5px,#0ed3f8 55.5px,#0f2cff 56.5px,#9a00ff 57.5px,#f20cf9 58.5px,#ff2bdc 59.5px,#ff40c9 60.5px,#ff57b9 62.5px,#ff68ac 66.5px,#ff6ca8 76.5px,#ff70b4 85.5px,#ff67a9 88.5px,#ff6186 91.5px,#ff6473 92.5px,#ff938a 93.5px,#ffe4d8 94.5px,#fffefc 95.5px,#fff 118.5px,#fffafe 119.5px,#ffe0f1 120.5px,#ffbdd3 121.5px,#ffafba 122.5px,#ffab9b 124.5px,#ffa682 126.5px,#ff9b74 127.5px,#ff8865 128.5px,#ff514c 130.5px,#ff4454 131.5px,#ff407b 134.5px,#ff428f 138.5px,#ff2e91 149.5px,#ff0097 161.5px,#ff00bc 168.5px,#f0d 172.5px,#ff00f8 174.5px,#f000ff 175.5px,#9600ff 178.5px,#7f00ff 179.5px,#7300ff 180.5px,#7200ff 181.5px,#7a00ff 182.5px,#a00dff 184.5px,#ca14ff 186.5px,#fc01fd 189.5px,#f0e 191.5px,#ff00ef 192.5px,#ff00f8 193.5px,#f600ff 194.5px,#b800ff 197.5px,#a200ff 199.5px,#a300ff 202.5px,#e0f 214.5px,#ff00fd 219.5px,#ff00f5 227.5px,#fc00ff 234.5px,#d600ff 242.5px,#9600ff 250.5px,#0600ff 264.5px,#000dff 266.5px,#0052ff 275.5px,#0084ff 284.5px)"></i><i style="background:linear-gradient(90deg,#ff9da8 0.5px,#ff949c 7.5px,#ff8389 10.5px,#ff7a76 12.5px,#ff8172 13.5px,#ff9374 14.5px,#ffcbaa 15.5px,#fff8ee 16.5px,#fff 17.5px,#fffefd 44.5px,#fffad7 46.5px,#edffc7 48.5px,#cdffb5 50.5px,#9aff95 52.5px,#73ff7e 53.5px,#30ff5a 54.5px,#00ff60 55.5px,#5d6fae 56.5px,#f300d1 57.5px,#ff00b8 58.5px,#ff18ad 59.5px,#ff35ad 60.5px,#ff52ab 62.5px,#ff66a8 66.5px,#ff6dab 78.5px,#ff72b1 85.5px,#ff6ba4 88.5px,#ff618c 90.5px,#ff585f 92.5px,#ff6a54 93.5px,#ff9e69 94.5px,#ffe4b3 95.5px,#fefef0 96.5px,#fff 97.5px,#fefeff 117.5px,#fcf3ff 118.5px,#fed5fd 119.5px,#ffb9ed 120.5px,#ff999e 124.5px,#ff877b 127.5px,#ff6665 129.5px,#ff5963 130.5px,#ff4978 133.5px,#ff448e 137.5px,#ff3695 146.5px,#ff0b99 159.5px,#ff00a0 162.5px,#ff00c9 169.5px,#ff00f1 173.5px,#fd00fd 174.5px,#d700ff 176.5px,#a0f 178.5px,#90f 179.5px,#8f00ff 180.5px,#9100ff 182.5px,#ab08ff 184.5px,#ca0eff 186.5px,#f100ff 189.5px,#fd00fe 191.5px,#f600ff 193.5px,#b600ff 198.5px,#a0f 201.5px,#bf00ff 206.5px,#f200ff 216.5px,#ff00fd 222.5px,#fa00ff 232.5px,#db00ff 240.5px,#a300ff 248.5px,#0102ff 265.5px,#004eff 275.5px,#0080ff 284.5px)"></i><i style="background:linear-gradient(90deg,#ff9da8 0.5px,#ff969e 7.5px,#ff868b 10.5px,#ff7d77 12.5px,#ff8965 14.5px,#ff9f60 15.5px,#ffd289 16.5px,#fefbd8 17.5px,#fefffd 18.5px,#fff 42.5px,#fffafa 43.5px,#ffeee8 44.5px,#ffe9d5 45.5px,#f9ffc2 48.5px,#d0ffa2 51.5px,#bcff8d 52.5px,#a0ff6b 53.5px,#7dff2f 54.5px,#92ff00 55.5px,#f89e00 56.5px,#ff052a 57.5px,#ff005e 58.5px,#ff167b 59.5px,#ff328f 60.5px,#ff4f9e 62.5px,#ff64a4 66.5px,#ff73ae 85.5px,#ff6da1 88.5px,#ff6187 90.5px,#ff5872 91.5px,#ff4e55 92.5px,#ff5741 93.5px,#ff7330 94.5px,#ffaa26 95.5px,#f4f65c 96.5px,#d2ffb8 97.5px,#effff6 98.5px,#feffff 99.5px,#fefeff 115.5px,#f5f6ff 116.5px,#e8deff 117.5px,#e6c1ff 118.5px,#f6b0ff 119.5px,#ffabf4 120.5px,#ff96ad 124.5px,#ff7f87 127.5px,#ff6278 130.5px,#ff4c86 134.5px,#ff4396 140.5px,#ff219a 154.5px,#ff01a5 162.5px,#ff00ce 169.5px,#fb00ff 174.5px,#ad00ff 179.5px,#a200ff 181.5px,#a0f 183.5px,#cb08ff 186.5px,#ef00ff 190.5px,#f000ff 192.5px,#da00ff 195.5px,#b800ff 199.5px,#b300ff 202.5px,#f400ff 218.5px,#fc00ff 226.5px,#ea00ff 235.5px,#c300ff 243.5px,#7b00ff 252.5px,#0201ff 265.5px,#0051ff 276.5px,#007cff 284.5px)"></i><i style="background:linear-gradient(90deg,#ff9da8 0.5px,#ff949b 8.5px,#ff8283 11.5px,#ff7e5f 14.5px,#ff854c 15.5px,#ff972f 16.5px,#fed038 17.5px,#dcfe9e 18.5px,#ebfefa 19.5px,#fff 20.5px,#fffdfe 41.5px,#fff3f7 42.5px,#ffdee3 43.5px,#ffd5d0 44.5px,#fcfdb6 49.5px,#eaff9f 51.5px,#e0ff8c 52.5px,#d9ff6f 53.5px,#deff44 54.5px,#f7eb10 55.5px,#ff8a00 56.5px,#ff2101 57.5px,#ff0829 58.5px,#ff225c 59.5px,#ff3779 60.5px,#ff5092 62.5px,#ff64a1 66.5px,#ff74ac 85.5px,#ff6e9f 88.5px,#ff6186 90.5px,#ff5672 91.5px,#ff4035 93.5px,#ff4817 94.5px,#ff6c01 95.5px,#fcc001 96.5px,#7dfe26 97.5px,#58eae9 98.5px,#a4cbff 99.5px,#e2e4ff 100.5px,#f9f7ff 101.5px,#fff 103.5px,#fdfffd 112.5px,#f7fffc 113.5px,#e9fdff 114.5px,#d3e9ff 115.5px,#b9c1ff 116.5px,#bba8ff 117.5px,#eba2ff 119.5px,#fda0fb 120.5px,#ff94ba 124.5px,#ff7890 128.5px,#ff5f87 131.5px,#ff4c92 136.5px,#ff349c 148.5px,#ff08a9 161.5px,#ff00b4 164.5px,#ff00e3 171.5px,#fa00ff 174.5px,#b0f 179.5px,#b200ff 181.5px,#bc01ff 184.5px,#e200ff 189.5px,#e800ff 192.5px,#b0f 200.5px,#c000ff 205.5px,#ef00ff 218.5px,#f500ff 227.5px,#e000ff 236.5px,#b000ff 245.5px,#5400ff 256.5px,#0300ff 265.5px,#0059ff 278.5px,#0078ff 284.5px)"></i><i style="background:linear-gradient(90deg,#ff9ca8 0.5px,#ff959d 8.5px,#ff8587 11.5px,#ff725f 14.5px,#ff6946 15.5px,#ff5a1e 16.5px,#ff5200 17.5px,#f85435 18.5px,#9965ff 19.5px,#cbb8ff 20.5px,#f7f2ff 21.5px,#fffeff 22.5px,#fefcff 39.5px,#fff3fe 40.5px,#ffe2f7 41.5px,#ffd1e6 42.5px,#ffcaca 44.5px,#fff0b4 49.5px,#fefa9e 51.5px,#fdf876 53.5px,#ffea59 54.5px,#ffc339 55.5px,#ff8422 56.5px,#ff471c 57.5px,#ff282c 58.5px,#ff3352 59.5px,#ff406d 60.5px,#ff528a 62.5px,#ff649d 66.5px,#ff73ab 84.5px,#ff6e9e 88.5px,#ff6288 90.5px,#ff5777 91.5px,#ff475d 92.5px,#ff1b10 94.5px,#ff2100 95.5px,#ff2e03 96.5px,#df2d74 97.5px,#3a1aff 98.5px,#3213ff 99.5px,#8251ff 100.5px,#c792ff 101.5px,#ebbaff 102.5px,#fdd2fe 103.5px,#ffe6f2 105.5px,#fff3e8 108.5px,#fffae4 109.5px,#f7ffdd 110.5px,#e0ffcf 111.5px,#beffc5 112.5px,#a7ffd9 113.5px,#96f7fb 114.5px,#8dcaff 115.5px,#8e9fff 116.5px,#a691ff 117.5px,#e395ff 119.5px,#f997fe 120.5px,#ff96df 122.5px,#ff87ae 126.5px,#ff7198 129.5px,#ff5892 133.5px,#ff359f 148.5px,#ff0fac 160.5px,#ff00bd 165.5px,#ff00ef 172.5px,#fa00ff 174.5px,#c700ff 179.5px,#bd00ff 182.5px,#e100ff 190.5px,#df00ff 193.5px,#c000ff 200.5px,#c300ff 205.5px,#ec00ff 219.5px,#e0f 228.5px,#d600ff 237.5px,#a400ff 246.5px,#2f00ff 260.5px,#0003ff 266.5px,#0050ff 277.5px,#0074ff 284.5px)"></i><i style="background:linear-gradient(90deg,#ff9ca9 0.5px,#ff959e 8.5px,#ff888d 11.5px,#ff6964 14.5px,#ff564d 15.5px,#ff352d 16.5px,#ff081a 17.5px,#ff006e 18.5px,#ef02ec 19.5px,#cf38ff 20.5px,#e58dff 21.5px,#fac7ff 22.5px,#ffe7fd 23.5px,#fff6fc 24.5px,#fff 27.5px,#fdfeff 35.5px,#f4f2ff 37.5px,#f4d7ff 39.5px,#fdcafd 40.5px,#ffc4d6 43.5px,#ffc6c1 45.5px,#ffe2b1 49.5px,#ffe48f 52.5px,#ffdc7d 53.5px,#ffcb69 54.5px,#ffae54 55.5px,#ff8845 56.5px,#ff613d 57.5px,#ff453f 58.5px,#ff4354 59.5px,#ff5179 61.5px,#ff5f93 64.5px,#ff6ca3 71.5px,#ff72a9 85.5px,#ff6a97 89.5px,#ff597f 91.5px,#ff3553 93.5px,#ff1632 94.5px,#ff0023 95.5px,#ff0045 96.5px,#ff00a9 97.5px,#d300fd 98.5px,#a001ff 99.5px,#b028ff 100.5px,#d252ff 101.5px,#f16eff 102.5px,#ff82f2 103.5px,#ff98c4 105.5px,#ff9dad 106.5px,#ffa99d 107.5px,#ffe492 109.5px,#effe86 110.5px,#b6ff77 111.5px,#70ff71 112.5px,#5effb1 113.5px,#5ff3f8 114.5px,#67b5ff 115.5px,#7384ff 116.5px,#977cff 117.5px,#bf84ff 118.5px,#f68eff 120.5px,#ff90f5 121.5px,#ff8ac1 125.5px,#ff71a2 129.5px,#ff5b99 133.5px,#ff19ad 158.5px,#ff00c1 165.5px,#ff00f1 172.5px,#fb00ff 174.5px,#cf00ff 179.5px,#c600ff 182.5px,#de00ff 191.5px,#cd00ff 197.5px,#c200ff 202.5px,#d600ff 211.5px,#ea00ff 221.5px,#e500ff 230.5px,#c700ff 239.5px,#9100ff 248.5px,#0002ff 266.5px,#0052ff 278.5px,#0071ff 284.5px)"></i><i style="background:linear-gradient(90deg,#ff9ca9 0.5px,#ff939d 9.5px,#ff838a 12.5px,#ff6c73 14.5px,#ff445a 16.5px,#ff2a5d 17.5px,#ff1884 18.5px,#ff23c2 19.5px,#ff43eb 20.5px,#fe64f3 21.5px,#ffb2dc 24.5px,#ffd3d6 26.5px,#fff9e1 29.5px,#fbffe0 30.5px,#dbffdb 32.5px,#cbfcfc 34.5px,#bdc7ff 36.5px,#c4b8ff 37.5px,#fdbafd 40.5px,#ffbebf 45.5px,#ffd4af 49.5px,#ffd191 52.5px,#ffb874 54.5px,#ff8859 56.5px,#ff5650 58.5px,#ff515b 59.5px,#ff5b83 62.5px,#f69 66.5px,#ff70a9 79.5px,#ff71a6 86.5px,#ff6492 90.5px,#ff507b 92.5px,#ff285d 94.5px,#ff0c56 95.5px,#ff0070 96.5px,#fe00e6 98.5px,#f00dfd 99.5px,#ed30ff 100.5px,#f74efd 101.5px,#ff63f2 102.5px,#ff7cc8 104.5px,#ff8396 106.5px,#ff8d82 107.5px,#ffcd71 109.5px,#f9f660 110.5px,#bbff47 111.5px,#49ff2b 112.5px,#18ff83 113.5px,#1ee4f6 114.5px,#388aff 115.5px,#585dff 116.5px,#9167ff 117.5px,#bd75ff 118.5px,#dc7fff 119.5px,#f485ff 120.5px,#ff89f8 121.5px,#ff86c7 125.5px,#ff71aa 129.5px,#ff599f 134.5px,#ff1faf 157.5px,#ff04c6 165.5px,#ff00f2 172.5px,#fb00ff 174.5px,#d600ff 179.5px,#cd00ff 183.5px,#dc00ff 191.5px,#c500ff 202.5px,#e600ff 222.5px,#d0f 231.5px,#bd00ff 240.5px,#7f00ff 250.5px,#0101ff 266.5px,#0054ff 279.5px,#006eff 284.5px)"></i><i style="background:linear-gradient(90deg,#ff9ca9 0.5px,#ff919c 10.5px,#ff808c 13.5px,#ff5c7c 16.5px,#ff4f83 17.5px,#ff4897 18.5px,#ff4cb3 19.5px,#ff5aca 20.5px,#ff6cd4 21.5px,#ff89cc 23.5px,#ff9ea2 26.5px,#ffc99e 28.5px,#ffe399 29.5px,#f7fd90 30.5px,#c8ff82 31.5px,#82ff77 32.5px,#69ffb1 33.5px,#6ef0f9 34.5px,#7eb8ff 35.5px,#9197ff 36.5px,#d7a6ff 38.5px,#efadff 39.5px,#feb2fc 40.5px,#ffbac0 45.5px,#ffc8a5 50.5px,#ffb887 53.5px,#ff8667 56.5px,#ff615d 58.5px,#ff5c70 60.5px,#ff6490 64.5px,#ff6da2 71.5px,#ff71a9 84.5px,#ff6a9c 89.5px,#ff5689 92.5px,#ff3a7c 94.5px,#ff297d 95.5px,#ff198b 96.5px,#ff12a8 97.5px,#ff18ca 98.5px,#ff2ae2 99.5px,#ff3fea 100.5px,#ff52e6 101.5px,#ff6ccd 103.5px,#ff77a6 105.5px,#ff7b74 107.5px,#ffad5a 109.5px,#ffd440 110.5px,#e3fb15 111.5px,#6dff00 112.5px,#02ff63 113.5px,#00b6fe 114.5px,#0a37ff 115.5px,#5234ff 116.5px,#9854ff 117.5px,#c268ff 118.5px,#e075ff 119.5px,#f57dff 120.5px,#ff82f8 121.5px,#ff82cc 125.5px,#ff6bac 130.5px,#ff51a5 137.5px,#ff21b3 157.5px,#ff05ce 166.5px,#fc00ff 174.5px,#d800ff 180.5px,#d400ff 185.5px,#d900ff 192.5px,#c700ff 203.5px,#e100ff 222.5px,#d500ff 232.5px,#ae00ff 242.5px,#60f 253.5px,#0200ff 266.5px,#005cff 281.5px,#006aff 284.5px)"></i><i style="background:linear-gradient(90deg,#ff9caa 0.5px,#ff929f 10.5px,#ff7e92 14.5px,#ff6e90 16.5px,#ff64a1 18.5px,#ff6cbb 20.5px,#ff7fc2 22.5px,#ff8eb3 24.5px,#ff9496 26.5px,#ffb88c 28.5px,#ffd082 29.5px,#feef71 30.5px,#d6ff55 31.5px,#65ff2b 32.5px,#14ff80 33.5px,#25c9fe 34.5px,#547aff 35.5px,#8a77ff 36.5px,#bd8cff 37.5px,#dd9bff 38.5px,#f4a5ff 39.5px,#ffacf9 40.5px,#ffb7cb 44.5px,#ffb8b3 47.5px,#ffbca4 50.5px,#ffac8a 53.5px,#ff756a 57.5px,#ff6867 58.5px,#ff6584 62.5px,#ff6c9d 68.5px,#ff71a9 82.5px,#ff6a9f 89.5px,#ff5391 93.5px,#ff4094 95.5px,#ff35ae 97.5px,#ff41cd 99.5px,#ff4dd4 100.5px,#ff63cc 102.5px,#ff6fb2 104.5px,#ff6f8a 106.5px,#ff6c6f 107.5px,#ff864b 109.5px,#ff982a 110.5px,#ffb702 111.5px,#eade00 112.5px,#70b857 113.5px,#1e29ff 114.5px,#3801ff 115.5px,#771cff 116.5px,#ad45ff 117.5px,#cf5dff 118.5px,#f976ff 120.5px,#ff7fea 122.5px,#ff7ac7 126.5px,#ff66af 131.5px,#ff4ba9 140.5px,#ff24b7 157.5px,#ff09d2 166.5px,#ff00ed 171.5px,#fd00ff 174.5px,#d0f 180.5px,#d700ff 186.5px,#d500ff 194.5px,#c900ff 203.5px,#d0f 222.5px,#d000ff 232.5px,#a900ff 242.5px,#5c00ff 254.5px,#0300ff 266.5px,#005eff 282.5px,#0067ff 284.5px)"></i><i style="background:linear-gradient(90deg,#ff9caa 0.5px,#ff90a0 11.5px,#ff7b9d 16.5px,#ff77af 19.5px,#ff7fb8 21.5px,#ff89b3 23.5px,#ff8f91 26.5px,#ffa782 28.5px,#ffb775 29.5px,#ffcb5e 30.5px,#fbe831 31.5px,#bffc01 32.5px,#24ed64 33.5px,#0842ff 34.5px,#502dff 35.5px,#a363ff 36.5px,#ce80ff 37.5px,#e993ff 38.5px,#fb9efe 39.5px,#ffb0de 42.5px,#ffb1ac 48.5px,#ffae9b 51.5px,#ff9984 54.5px,#ff7671 57.5px,#ff6b75 59.5px,#ff6c98 66.5px,#ff70a8 78.5px,#ff6da4 88.5px,#ff5a9b 93.5px,#ff4ba8 96.5px,#ff52c3 99.5px,#ff60c7 101.5px,#ff6bb9 103.5px,#ff6e9e 105.5px,#ff6573 107.5px,#ff5f5a 108.5px,#ff6045 109.5px,#ff5a24 110.5px,#ff4d01 111.5px,#ff3802 112.5px,#ff0463 113.5px,#d400fa 114.5px,#a900ff 115.5px,#b317ff 116.5px,#cd3eff 117.5px,#e156ff 118.5px,#fe6ffd 120.5px,#ff7ae0 123.5px,#ff6cba 129.5px,#ff56ac 136.5px,#ff2bb7 155.5px,#ff10d1 165.5px,#ff00fa 173.5px,#ed00ff 177.5px,#da01ff 183.5px,#d200ff 196.5px,#ca00ff 205.5px,#d900ff 222.5px,#cb00ff 232.5px,#a500ff 242.5px,#5a00ff 254.5px,#0003ff 267.5px,#0056ff 281.5px,#0064ff 284.5px)"></i><i style="background:linear-gradient(90deg,#ff9bab 0.5px,#ff8da2 13.5px,#ff82ab 18.5px,#ff87b4 21.5px,#ff8ea8 24.5px,#ff9087 27.5px,#ff9d70 29.5px,#ff9f57 30.5px,#ff9629 31.5px,#ff7800 32.5px,#fc1752 33.5px,#bc00fb 34.5px,#b123ff 35.5px,#d05cff 36.5px,#e77bff 37.5px,#f88eff 38.5px,#ffa3ed 40.5px,#ffb0cb 44.5px,#ffa8a5 49.5px,#ff9a8d 53.5px,#f77 57.5px,#ff6d8a 62.5px,#ff6fa1 70.5px,#ff70a9 84.5px,#ff63a2 92.5px,#ff57ad 96.5px,#ff61c0 100.5px,#ff6db5 103.5px,#ff6a90 106.5px,#ff5765 108.5px,#ff322e 110.5px,#ff0f11 111.5px,#ff0028 112.5px,#ff0079 113.5px,#ff00d3 114.5px,#f302fb 115.5px,#e820ff 116.5px,#ec3eff 117.5px,#fd60fe 119.5px,#ff73e6 122.5px,#ff70c6 127.5px,#ff5cb1 134.5px,#ff38b5 150.5px,#ff1cca 162.5px,#ff05f4 172.5px,#f902ff 175.5px,#df04ff 182.5px,#cb00ff 205.5px,#d500ff 223.5px,#c100ff 234.5px,#9100ff 245.5px,#1a00ff 263.5px,#0002ff 267.5px,#0058ff 282.5px,#0061ff 284.5px)"></i><i style="background:linear-gradient(90deg,#ff9bac 0.5px,#ff8ca7 15.5px,#ff8db2 21.5px,#ff90a7 24.5px,#ff8972 29.5px,#ff7e5d 30.5px,#ff613e 31.5px,#ff211a 32.5px,#ff055d 33.5px,#ff10c9 34.5px,#fa3df6 35.5px,#f963fc 36.5px,#fd7cfb 37.5px,#ff98ee 39.5px,#ffa9d8 42.5px,#ffa9b4 47.5px,#ff938e 53.5px,#ff7e80 56.5px,#ff708d 62.5px,#ff71a4 72.5px,#ff6ea8 87.5px,#ff61a9 94.5px,#ff63bb 99.5px,#ff6cb8 102.5px,#ff6ca1 105.5px,#ff5877 108.5px,#ff3755 110.5px,#ff1f4c 111.5px,#ff0958 112.5px,#ff0384 113.5px,#ff05b7 114.5px,#ff15df 115.5px,#ff2df3 116.5px,#ff51f8 118.5px,#ff6ae8 121.5px,#ff70d1 125.5px,#ff61b8 132.5px,#ff46b4 144.5px,#ff26c6 159.5px,#ff0deb 170.5px,#fb07ff 175.5px,#e007ff 183.5px,#cd00ff 200.5px,#d000ff 224.5px,#ba00ff 235.5px,#80f 246.5px,#0101ff 267.5px,#005aff 283.5px,#005fff 284.5px)"></i><i style="background:linear-gradient(90deg,#ff9bac 0.5px,#ff8faa 15.5px,#ff91b0 22.5px,#ff90a1 25.5px,#ff7c77 29.5px,#ff6e69 30.5px,#ff585b 31.5px,#ff425f 32.5px,#ff3882 33.5px,#ff42b3 34.5px,#ff58d6 35.5px,#ff6ee5 36.5px,#ff8de7 38.5px,#ffa3d9 41.5px,#ffa7bb 46.5px,#ff898b 54.5px,#ff7789 59.5px,#ff72a4 72.5px,#ff6da9 88.5px,#ff64ae 95.5px,#ff69b9 100.5px,#ff6dab 104.5px,#ff6291 107.5px,#ff4174 110.5px,#ff3274 111.5px,#ff257f 112.5px,#ff1f96 113.5px,#ff21b4 114.5px,#ff2bce 115.5px,#ff39df 116.5px,#ff52ea 118.5px,#ff66e3 121.5px,#ff6ccc 126.5px,#ff5cb8 134.5px,#ff3dba 149.5px,#ff22d0 162.5px,#fb0cff 175.5px,#e109ff 184.5px,#d000ff 198.5px,#ce00ff 212.5px,#ca00ff 226.5px,#ae00ff 237.5px,#7400ff 249.5px,#0100ff 267.5px,#005cff 284.5px)"></i><i style="background:linear-gradient(90deg,#ff9bad 0.5px,#ff91ab 15.5px,#ff93af 22.5px,#ff8e9d 26.5px,#ff7d85 29.5px,#ff687d 31.5px,#ff5f85 32.5px,#ff5c99 33.5px,#ff6bc7 35.5px,#ff78d4 36.5px,#ff8edc 38.5px,#ffa2d0 42.5px,#ffa2b5 47.5px,#ff8a92 54.5px,#ff7a8e 59.5px,#ff72a6 73.5px,#ff68ac 93.5px,#ff6cb6 101.5px,#ff66a0 106.5px,#ff498a 110.5px,#ff3894 112.5px,#ff35b5 114.5px,#ff42d3 116.5px,#ff53df 118.5px,#ff66da 122.5px,#ff67c6 128.5px,#ff53b8 138.5px,#ff35c2 154.5px,#ff1cdf 166.5px,#fc10ff 175.5px,#e10bff 185.5px,#cf00ff 199.5px,#c800ff 225.5px,#ae00ff 236.5px,#70f 248.5px,#0200ff 267.5px,#0059ff 284.5px)"></i><i style="background:linear-gradient(90deg,#ff9bae 0.5px,#ff92ae 16.5px,#ff94ad 23.5px,#ff8797 28.5px,#ff7592 31.5px,#ff6fa4 33.5px,#ff7fcb 36.5px,#ff94d3 39.5px,#ffa1c4 44.5px,#ff95a1 51.5px,#ff8192 57.5px,#ff749f 67.5px,#ff70ab 84.5px,#ff68b2 96.5px,#ff6cb3 102.5px,#ff619f 107.5px,#ff4f98 110.5px,#ff44a1 112.5px,#ff44c3 115.5px,#ff54d8 118.5px,#ff66d5 123.5px,#ff5fbf 132.5px,#ff47bc 145.5px,#ff2bd0 160.5px,#fd14ff 175.5px,#e10dff 186.5px,#cd00ff 202.5px,#c400ff 225.5px,#a700ff 237.5px,#6a00ff 250.5px,#0003ff 268.5px,#0057ff 284.5px)"></i><i style="background:linear-gradient(90deg,#ff9bae 0.5px,#ff94ad 23.5px,#ff859c 29.5px,#ff7aa3 32.5px,#ff7fbd 35.5px,#ff8fcc 38.5px,#ff9ec5 43.5px,#ff96a8 50.5px,#ff8297 57.5px,#ff75a3 69.5px,#ff6bb4 101.5px,#ff61a5 107.5px,#ff4fa4 111.5px,#ff49b9 114.5px,#ff56d2 118.5px,#ff64d2 123.5px,#ff5ec1 132.5px,#ff46bf 146.5px,#ff2bd5 161.5px,#fd17ff 175.5px,#e00fff 187.5px,#cb00ff 205.5px,#c100ff 225.5px,#a400ff 237.5px,#6800ff 250.5px,#0002ff 268.5px,#0054ff 284.5px)"></i><i style="background:linear-gradient(90deg,#ff9caf 0.5px,#ff93ad 23.5px,#ff85a3 30.5px,#ff82b5 34.5px,#ff8fc7 38.5px,#ff9bc2 43.5px,#ff92a7 51.5px,#ff819a 58.5px,#ff75a8 73.5px,#ff6ab3 102.5px,#ff5aa7 109.5px,#ff50b4 113.5px,#ff58ce 118.5px,#ff63cf 124.5px,#ff58c0 136.5px,#ff3dc8 152.5px,#ff24e7 167.5px,#fd1bff 175.5px,#de10ff 189.5px,#c900ff 209.5px,#bd00ff 226.5px,#9d00ff 238.5px,#5b00ff 252.5px,#0001ff 268.5px,#0052ff 284.5px)"></i><i style="background:linear-gradient(90deg,#ff9cb0 0.5px,#ff92ad 24.5px,#ff86aa 31.5px,#ff8abe 36.5px,#ff96c4 41.5px,#ff95ae 49.5px,#ff829d 58.5px,#ff75aa 75.5px,#ff6ab3 102.5px,#ff59ae 110.5px,#ff55c5 116.5px,#ff5fd0 121.5px,#ff60c7 130.5px,#ff4ac3 145.5px,#ff30d9 161.5px,#fd1eff 175.5px,#dc11ff 191.5px,#c700ff 212.5px,#b600ff 228.5px,#8e00ff 241.5px,#3e00ff 257.5px,#0101ff 268.5px,#0050ff 284.5px)"></i><i style="background:linear-gradient(90deg,#ff9cb0 0.5px,#ff90ac 26.5px,#ff88b0 32.5px,#ff92c1 39.5px,#ff96b5 47.5px,#ff85a1 57.5px,#ff76ab 74.5px,#ff68b3 103.5px,#ff5ab4 111.5px,#ff5bca 118.5px,#ff61cc 126.5px,#ff4fc4 142.5px,#ff35d7 159.5px,#fd21ff 175.5px,#db13ff 192.5px,#c300ff 216.5px,#ac00ff 231.5px,#7f00ff 244.5px,#0100ff 268.5px,#004dff 284.5px)"></i><i style="background:linear-gradient(90deg,#ff9cb1 0.5px,#ff8baf 31.5px,#ff93bf 40.5px,#ff93b0 49.5px,#ff82a3 59.5px,#ff6cb5 96.5px,#ff5fb4 109.5px,#ff5bc7 117.5px,#ff61cc 125.5px,#ff4fc7 143.5px,#ff35db 160.5px,#fd23ff 175.5px,#d814ff 194.5px,#be00ff 219.5px,#a400ff 233.5px,#6f00ff 247.5px,#0003ff 269.5px,#004bff 284.5px)"></i><i style="background:linear-gradient(90deg,#ff9cb1 0.5px,#ff8cb1 31.5px,#ff93bd 41.5px,#ff8eab 52.5px,#ff7ea6 63.5px,#ff67b5 104.5px,#ff5cbd 113.5px,#ff60cc 122.5px,#ff59c7 136.5px,#ff40d3 154.5px,#fd26ff 175.5px,#d614ff 196.5px,#b800ff 222.5px,#9800ff 236.5px,#5a00ff 251.5px,#0003ff 269.5px,#0049ff 284.5px)"></i><i style="background:linear-gradient(90deg,#ff9cb2 0.5px,#ff8db4 32.5px,#ff93bb 42.5px,#ff89a9 55.5px,#ff79ac 72.5px,#ff63b8 108.5px,#ff5fca 120.5px,#ff5ac9 135.5px,#ff43d4 153.5px,#fd29ff 175.5px,#d315ff 198.5px,#b100ff 225.5px,#8c00ff 239.5px,#4100ff 256.5px,#0002ff 269.5px,#0047ff 284.5px)"></i><i style="background:linear-gradient(90deg,#ff9cb3 0.5px,#ff8eb5 32.5px,#ff92ba 43.5px,#ff82a9 61.5px,#ff60be 112.5px,#ff60cc 125.5px,#ff4ccf 147.5px,#ff34ed 166.5px,#fa2aff 176.5px,#cf15ff 202.5px,#ab00ff 227.5px,#7e00ff 242.5px,#1800ff 264.5px,#0001ff 269.5px,#0045ff 284.5px)"></i><i style="background:linear-gradient(90deg,#ff9cb3 0.5px,#ff8fb6 33.5px,#ff92b8 45.5px,#ff82ab 62.5px,#ff61c0 112.5px,#ff60cc 126.5px,#ff4bd2 148.5px,#ff34f2 168.5px,#fa2dff 176.5px,#cc16ff 204.5px,#ab01ff 226.5px,#7c00ff 242.5px,#0f00ff 266.5px,#0005ff 270.5px,#0043ff 284.5px)"></i><i style="background:linear-gradient(90deg,#ff9cb4 0.5px,#ff90b7 34.5px,#ff90b6 47.5px,#ff80ad 64.5px,#ff62c2 113.5px,#ff5fcd 129.5px,#ff49d7 151.5px,#fc30ff 175.5px,#cc18ff 204.5px,#aa04ff 226.5px,#70f 243.5px,#0100ff 269.5px,#0041ff 284.5px)"></i><i style="background:linear-gradient(90deg,#ff9db5 0.5px,#ff90b9 37.5px,#ff89b0 55.5px,#ff74b6 86.5px,#ff62c5 115.5px,#ff59cf 137.5px,#ff42e2 158.5px,#fc32ff 175.5px,#c819ff 207.5px,#a606ff 227.5px,#7800ff 242.5px,#0003ff 270.5px,#003fff 284.5px)"></i><i style="background:linear-gradient(90deg,#ff9db5 0.5px,#ff8fb6 47.5px,#ff7fb0 67.5px,#ff64c5 114.5px,#ff57d1 140.5px,#ff40e8 161.5px,#fb34ff 175.5px,#a80aff 226.5px,#7a00ff 241.5px,#1500ff 265.5px,#0002ff 270.5px,#003eff 284.5px)"></i><i style="background:linear-gradient(90deg,#ff9db6 0.5px,#ff8fb6 48.5px,#ff7eb2 70.5px,#ff54d4 143.5px,#ff3ef0 165.5px,#fb36ff 175.5px,#a70dff 226.5px,#7200ff 243.5px,#0001ff 270.5px,#003cff 284.5px)"></i><i style="background:linear-gradient(90deg,#ff9db6 0.5px,#ff8eb6 49.5px,#ff7db4 73.5px,#ff54d6 144.5px,#ff3ef5 167.5px,#fa38ff 175.5px,#a610ff 226.5px,#7000ff 243.5px,#0001ff 270.5px,#003aff 284.5px)"></i><i style="background:linear-gradient(90deg,#ff9db7 0.5px,#ff8db6 50.5px,#ff7bb7 77.5px,#ff54d9 145.5px,#fc3aff 174.5px,#a613ff 226.5px,#7302ff 242.5px,#0100ff 270.5px,#0039ff 284.5px)"></i><i style="background:linear-gradient(90deg,#ff9db8 0.5px,#ff8cb6 52.5px,#ff77ba 85.5px,#ff54db 146.5px,#fb3cff 174.5px,#a816ff 225.5px,#7406ff 242.5px,#2700ff 261.5px,#0003ff 271.5px,#0339ff 284.5px)"></i><i style="background:linear-gradient(90deg,#ff9db8 0.5px,#ff8bb6 54.5px,#ff71c0 97.5px,#ff52df 149.5px,#fd3eff 173.5px,#a719ff 225.5px,#7409ff 242.5px,#2b00ff 260.5px,#0002ff 271.5px,#063aff 284.5px)"></i><i style="background:linear-gradient(90deg,#ff9eb9 0.5px,#ff85b6 63.5px,#ff67cc 117.5px,#ff4fe5 154.5px,#fc40ff 173.5px,#a71bff 225.5px,#710bff 243.5px,#1700ff 265.5px,#0002ff 271.5px,#093bff 284.5px)"></i><i style="background:linear-gradient(90deg,#ff9eb9 0.5px,#ff84b7 64.5px,#ff67ce 118.5px,#ff4fe8 155.5px,#fb41ff 173.5px,#a71eff 225.5px,#720dff 243.5px,#0d02ff 268.5px,#0308ff 272.5px,#0c3bff 284.5px)"></i><i style="background:linear-gradient(90deg,#ff9eba 0.5px,#ff84b9 66.5px,#ff67d0 121.5px,#ff4fea 156.5px,#fb43ff 173.5px,#a921ff 224.5px,#7210ff 243.5px,#1105ff 268.5px,#060aff 272.5px,#0e3cff 284.5px)"></i><i style="background:linear-gradient(90deg,#ff9eba 0.5px,#ff83ba 68.5px,#ff65d4 126.5px,#ff4fee 158.5px,#fc45ff 172.5px,#a823ff 224.5px,#7313ff 243.5px,#1008ff 269.5px,#0a10ff 273.5px,#113dff 284.5px)"></i><i style="background:linear-gradient(90deg,#ff9ebb 0.5px,#ff82bb 70.5px,#ff62d8 132.5px,#ff4df4 162.5px,#fa46ff 173.5px,#a825ff 224.5px,#7015ff 244.5px,#100cff 270.5px,#0e1eff 276.5px,#133eff 284.5px)"></i><i style="background:linear-gradient(90deg,#ff9ebb 0.5px,#ff81bd 73.5px,#ff60dc 137.5px,#ff4afd 168.5px,#ac29ff 222.5px,#7418ff 243.5px,#140eff 270.5px,#101cff 275.5px,#163eff 284.5px)"></i><i style="background:linear-gradient(90deg,#ff9ebc 0.5px,#ff80be 75.5px,#ff5edf 140.5px,#fc49ff 171.5px,#aa2aff 223.5px,#711aff 244.5px,#1411ff 271.5px,#183fff 284.5px)"></i><i style="background:linear-gradient(90deg,#ff9fbc 0.5px,#ff7fc0 78.5px,#ff5de2 143.5px,#fb4bff 171.5px,#aa2cff 223.5px,#6f1bff 245.5px,#1714ff 271.5px,#1b40ff 284.5px)"></i><i style="background:linear-gradient(90deg,#ff9fbd 0.5px,#ff7ec2 81.5px,#ff5ce6 146.5px,#fc4dff 170.5px,#aa2eff 223.5px,#6d1dff 246.5px,#1717ff 272.5px,#1d41ff 284.5px)"></i><i style="background:linear-gradient(90deg,#ff9fbd 0.5px,#ff7dc4 84.5px,#ff5be9 148.5px,#fb4eff 170.5px,#ab30ff 222.5px,#7120ff 245.5px,#1a19ff 272.5px,#1f41ff 284.5px)"></i><i style="background:linear-gradient(90deg,#ff9fbe 0.5px,#ff7dc4 84.5px,#ff5de9 147.5px,#fc4fff 169.5px,#ab32ff 222.5px,#6f22ff 246.5px,#1d1cff 272.5px,#2142ff 284.5px)"></i><i style="background:linear-gradient(90deg,#ff9fbe 0.5px,#ff7ec5 84.5px,#ff5ee9 147.5px,#fb50ff 169.5px,#ab34ff 222.5px,#6c23ff 247.5px,#1e1fff 273.5px,#2443ff 284.5px)"></i><i style="background:linear-gradient(90deg,#ff9fbf 0.5px,#ff7ec6 85.5px,#ff5eea 147.5px,#fb52ff 169.5px,#ab36ff 222.5px,#6a25ff 248.5px,#2121ff 273.5px,#2644ff 284.5px)"></i><i style="background:linear-gradient(90deg,#ffa0bf 0.5px,#ff7ec7 85.5px,#ff5feb 147.5px,#fc53ff 168.5px,#ad38ff 221.5px,#6e27ff 247.5px,#2423ff 273.5px,#2844ff 284.5px)"></i></div>
<svg width="675" height="361" viewBox="0 0 675 361">
<defs>
<clipPath id="ka"><path clip-rule="evenodd" d="M38 6h285v135h-285Z"/></clipPath>
<clipPath id="kb"><path clip-rule="evenodd" d="M38 194h285v135h-285ZM228.3 261.9L228.3 261.3L228.2 260.6L228.1 260.0L227.9 259.4L227.6 258.8L227.3 258.2L226.9 257.7L226.5 257.2L226.1 256.7L225.6 256.2L225.0 255.8L224.5 255.5L223.9 255.2L223.2 255.0L222.6 254.8L221.9 254.6L221.3 254.5L220.6 254.5L219.9 254.5L219.2 254.6L218.6 254.8L217.9 255.0L217.3 255.2L216.7 255.5L216.1 255.8L215.6 256.2L215.1 256.7L214.6 257.2L214.2 257.7L213.9 258.2L213.5 258.8L213.3 259.4L213.1 260.0L212.9 260.6L212.8 261.3L212.8 261.9L212.8 262.5L212.9 263.2L213.1 263.8L213.3 264.4L213.5 265.0L213.9 265.6L214.2 266.1L214.6 266.6L215.1 267.1L215.6 267.6L216.1 268.0L216.7 268.3L217.3 268.6L217.9 268.8L218.6 269.0L219.2 269.2L219.9 269.3L220.6 269.3L221.3 269.3L221.9 269.2L222.6 269.0L223.2 268.8L223.9 268.6L224.5 268.3L225.0 268.0L225.6 267.6L226.1 267.1L226.5 266.6L226.9 266.1L227.3 265.6L227.6 265.0L227.9 264.4L228.1 263.8L228.2 263.2L228.3 262.5ZM155.8 261.9L155.8 260.6L155.7 259.4L155.5 258.3L155.3 257.3L155.0 256.3L154.6 255.4L154.1 254.5L153.6 253.7L153.0 253.0L152.4 252.3L151.7 251.7L151.0 251.2L150.2 250.8L149.4 250.4L148.5 250.1L147.6 249.9L146.6 249.8L145.5 249.7L144.4 249.8L143.4 249.9L142.5 250.1L141.6 250.4L140.8 250.8L140.0 251.2L139.3 251.7L138.6 252.3L138.0 253.0L137.4 253.7L136.9 254.5L136.4 255.4L136.0 256.3L135.7 257.3L135.5 258.3L135.3 259.4L135.2 260.6L135.2 261.9L135.2 263.2L135.3 264.4L135.5 265.5L135.7 266.5L136.0 267.5L136.4 268.4L136.9 269.3L137.4 270.1L138.0 270.8L138.6 271.5L139.3 272.1L140.0 272.6L140.8 273.0L141.6 273.4L142.5 273.7L143.4 273.9L144.4 274.0L145.5 274.1L146.6 274.0L147.6 273.9L148.5 273.7L149.4 273.4L150.2 273.0L151.0 272.6L151.7 272.1L152.4 271.5L153.0 270.8L153.6 270.1L154.1 269.3L154.6 268.4L155.0 267.5L155.3 266.5L155.5 265.5L155.7 264.4L155.8 263.2ZM72.1 261.9L72.1 261.4L72.1 260.8L72.0 260.3L71.8 259.8L71.6 259.2L71.4 258.8L71.1 258.3L70.8 257.9L70.5 257.5L70.2 257.1L69.8 256.8L69.4 256.5L68.9 256.2L68.5 256.0L68.0 255.8L67.6 255.7L67.1 255.6L66.6 255.6L66.1 255.6L65.6 255.7L65.2 255.8L64.7 256.0L64.3 256.2L63.8 256.5L63.4 256.8L63.0 257.1L62.7 257.5L62.4 257.9L62.1 258.3L61.8 258.8L61.6 259.2L61.4 259.8L61.2 260.3L61.1 260.8L61.1 261.4L61.1 261.9L61.1 262.4L61.1 263.0L61.2 263.5L61.4 264.0L61.6 264.6L61.8 265.0L62.1 265.5L62.4 265.9L62.7 266.3L63.0 266.7L63.4 267.0L63.8 267.3L64.3 267.6L64.7 267.8L65.2 268.0L65.6 268.1L66.1 268.2L66.6 268.2L67.1 268.2L67.6 268.1L68.0 268.0L68.5 267.8L68.9 267.6L69.4 267.3L69.8 267.0L70.2 266.7L70.5 266.3L70.8 265.9L71.1 265.5L71.4 265.0L71.6 264.6L71.8 264.0L72.0 263.5L72.1 263.0L72.1 262.4Z"/></clipPath>
<clipPath id="kc"><path clip-rule="evenodd" d="M384 6h285v135h-285ZM581.8 73.4L581.8 72.0L581.7 70.8L581.4 69.7L581.1 68.7L580.8 67.7L580.3 66.7L579.8 65.8L579.1 65.0L578.4 64.2L577.7 63.5L576.9 62.9L576.0 62.4L575.0 61.9L574.0 61.5L573.0 61.2L571.8 61.0L570.6 60.9L569.3 60.8L567.9 60.9L566.7 61.0L565.6 61.2L564.5 61.5L563.5 61.9L562.6 62.4L561.7 62.9L560.9 63.5L560.1 64.2L559.4 65.0L558.8 65.8L558.3 66.7L557.8 67.7L557.4 68.7L557.1 69.7L556.9 70.8L556.8 72.0L556.7 73.4L556.8 74.8L556.9 76.0L557.1 77.1L557.4 78.1L557.8 79.1L558.3 80.1L558.8 81.0L559.4 81.8L560.1 82.6L560.9 83.3L561.7 83.9L562.6 84.4L563.5 84.9L564.5 85.3L565.6 85.6L566.7 85.8L567.9 85.9L569.3 86.0L570.6 85.9L571.8 85.8L573.0 85.6L574.0 85.3L575.0 84.9L576.0 84.4L576.9 83.9L577.7 83.3L578.4 82.6L579.1 81.8L579.8 81.0L580.3 80.1L580.8 79.1L581.1 78.1L581.4 77.1L581.7 76.0L581.8 74.8ZM506.4 73.4L506.4 69.8L506.3 67.7L506.1 65.9L505.8 64.4L505.5 63.0L505.1 61.8L504.6 60.7L504.0 59.6L503.4 58.7L502.7 57.9L501.8 57.2L501.0 56.6L500.0 56.1L498.9 55.7L497.7 55.4L496.2 55.1L494.6 55.0L491.7 54.9L488.7 55.0L487.1 55.1L485.6 55.4L484.4 55.7L483.3 56.1L482.3 56.6L481.5 57.2L480.6 57.9L479.9 58.7L479.3 59.6L478.7 60.7L478.2 61.8L477.8 63.0L477.5 64.4L477.2 65.9L477.0 67.7L476.9 69.8L476.9 73.4L476.9 77.0L477.0 79.1L477.2 80.9L477.5 82.4L477.8 83.8L478.2 85.0L478.7 86.1L479.3 87.2L479.9 88.1L480.6 88.9L481.5 89.6L482.3 90.2L483.3 90.7L484.4 91.1L485.6 91.4L487.1 91.7L488.7 91.8L491.6 91.9L494.6 91.8L496.2 91.7L497.7 91.4L498.9 91.1L500.0 90.7L501.0 90.2L501.8 89.6L502.7 88.9L503.4 88.1L504.0 87.2L504.6 86.1L505.1 85.0L505.5 83.8L505.8 82.4L506.1 80.9L506.3 79.1L506.4 77.0ZM429.0 73.4L429.0 69.5L428.9 67.3L428.7 65.6L428.5 64.1L428.2 62.8L427.8 61.7L427.3 60.6L426.8 59.7L426.2 58.8L425.5 58.1L424.7 57.4L423.9 56.9L422.9 56.4L421.9 56.0L420.7 55.7L419.3 55.5L417.6 55.3L414.4 55.3L411.2 55.3L409.5 55.5L408.1 55.7L406.9 56.0L405.9 56.4L404.9 56.9L404.1 57.4L403.3 58.1L402.6 58.8L402.0 59.7L401.5 60.6L401.0 61.7L400.6 62.8L400.3 64.1L400.1 65.6L399.9 67.3L399.8 69.5L399.8 73.4L399.8 77.3L399.9 79.5L400.1 81.2L400.3 82.7L400.6 84.0L401.0 85.1L401.5 86.2L402.0 87.1L402.6 88.0L403.3 88.7L404.1 89.4L404.9 89.9L405.9 90.4L406.9 90.8L408.1 91.1L409.5 91.3L411.2 91.5L414.4 91.5L417.6 91.5L419.3 91.3L420.7 91.1L421.9 90.8L422.9 90.4L423.9 89.9L424.7 89.4L425.5 88.7L426.2 88.0L426.8 87.1L427.3 86.2L427.8 85.1L428.2 84.0L428.5 82.7L428.7 81.2L428.9 79.5L429.0 77.3Z"/></clipPath>
<clipPath id="kd"><path clip-rule="evenodd" d="M384 194h285v135h-285ZM584.4 261.9L584.4 260.4L584.2 259.0L584.0 257.8L583.6 256.6L583.2 255.5L582.6 254.4L582.0 253.4L581.2 252.5L580.4 251.7L579.5 250.9L578.6 250.2L577.5 249.6L576.4 249.1L575.2 248.6L574.0 248.3L572.7 248.1L571.3 247.9L569.6 247.9L568.0 247.9L566.6 248.1L565.3 248.3L564.1 248.6L562.9 249.1L561.8 249.6L560.7 250.2L559.8 250.9L558.9 251.7L558.1 252.5L557.3 253.4L556.7 254.4L556.1 255.5L555.7 256.6L555.3 257.8L555.1 259.0L554.9 260.4L554.9 261.9L554.9 263.4L555.1 264.8L555.3 266.0L555.7 267.2L556.1 268.3L556.7 269.4L557.3 270.4L558.1 271.3L558.9 272.1L559.8 272.9L560.7 273.6L561.8 274.2L562.9 274.7L564.1 275.2L565.3 275.5L566.6 275.7L568.0 275.9L569.6 275.9L571.3 275.9L572.7 275.7L574.0 275.5L575.2 275.2L576.4 274.7L577.5 274.2L578.6 273.6L579.5 272.9L580.4 272.1L581.2 271.3L582.0 270.4L582.6 269.4L583.2 268.3L583.6 267.2L584.0 266.0L584.2 264.8L584.4 263.4ZM511.4 261.9L511.3 258.9L511.1 256.5L510.8 254.3L510.3 252.2L509.7 250.2L509.0 248.4L508.2 246.6L507.2 245.0L506.1 243.6L505.0 242.3L503.7 241.1L502.3 240.1L500.8 239.2L499.2 238.5L497.5 237.9L495.7 237.5L493.7 237.2L491.3 237.2L488.9 237.2L486.9 237.5L485.1 237.9L483.4 238.5L481.8 239.2L480.3 240.1L478.9 241.1L477.6 242.3L476.4 243.6L475.3 245.0L474.4 246.6L473.5 248.4L472.8 250.2L472.2 252.2L471.8 254.3L471.4 256.5L471.2 258.9L471.2 261.9L471.2 264.9L471.4 267.3L471.8 269.5L472.2 271.6L472.8 273.6L473.5 275.4L474.4 277.2L475.3 278.8L476.4 280.2L477.6 281.5L478.9 282.7L480.3 283.7L481.8 284.6L483.4 285.3L485.1 285.9L486.9 286.3L488.9 286.6L491.3 286.6L493.7 286.6L495.7 286.3L497.5 285.9L499.2 285.3L500.8 284.6L502.3 283.7L503.7 282.7L505.0 281.5L506.1 280.2L507.2 278.8L508.2 277.2L509.0 275.4L509.7 273.6L510.3 271.6L510.8 269.5L511.1 267.3L511.3 264.9ZM436.4 261.9L436.3 258.7L436.1 256.1L435.8 253.7L435.3 251.4L434.6 249.3L433.9 247.3L432.9 245.5L431.9 243.8L430.7 242.2L429.5 240.8L428.1 239.5L426.6 238.4L424.9 237.5L423.2 236.7L421.4 236.1L419.4 235.7L417.2 235.4L414.6 235.3L412.0 235.4L409.9 235.7L407.9 236.1L406.1 236.7L404.3 237.5L402.7 238.4L401.2 239.5L399.8 240.8L398.5 242.2L397.3 243.8L396.3 245.5L395.4 247.3L394.6 249.3L394.0 251.4L393.5 253.7L393.1 256.1L392.9 258.7L392.8 261.9L392.9 265.1L393.1 267.7L393.5 270.1L394.0 272.4L394.6 274.5L395.4 276.5L396.3 278.3L397.3 280.0L398.5 281.6L399.8 283.0L401.2 284.3L402.7 285.4L404.3 286.3L406.1 287.1L407.9 287.7L409.9 288.1L412.0 288.4L414.6 288.5L417.2 288.4L419.4 288.1L421.4 287.7L423.2 287.1L424.9 286.3L426.6 285.4L428.1 284.3L429.5 283.0L430.7 281.6L431.9 280.0L432.9 278.3L433.9 276.5L434.6 274.5L435.3 272.4L435.8 270.1L436.1 267.7L436.3 265.1Z"/></clipPath>
</defs>
<path clip-path="url(#ka)" class="c" d="M242.8 72.7l-.4 .8 .1 .3 .7 .3 .5-.3 .1-.6-.3-.4-.7-.1M152.8 73.1l0 .6 .4 .2 .3-.2 0-.6-.7 0M242.5 72.1l-.7 .7 0 1.3 1 .8 1-.2 .7-.9 0-1-1-.8-1 .1M153.2 72.4l-.7 .4-.2 .7 .2 .5 .7 .4 .6-.2 .4-.7-.2-.7-.8-.4M70.5 73.2l0 .4 .5-.1-.2-.4-.3 .1M243.2 71.2l-1 .2-.6 .4-.5 .7-.1 1 .5 1.4 .7 .5 1 .2 1-.2 .6-.5 .6-1.4-.2-1-.4-.7-.6-.4-1-.2M152.8 72l-.8 .8 0 1 .8 1 1 0 .8-.6 .1-1.4-.9-.8-1 0M70.5 73l-.2 .5 .2 .3 .6 0 .2-.6-.5-.3-.3 .1M242.8 70.4l-1.1 .4-.9 .9-.4 1.1-.1 1 .4 1 .8 1 1 .5 1 .1 1-.3 1-.8 .6-1.1 .1-1-.3-1-.7-1.1-1-.5-1.4-.2M153.2 71.4l-.7 .3-.7 .8-.2 1.3 .9 1.3 1.3 .3 1.4-.8 .3-1.4-.7-1.4-.6-.3-1-.1M70.5 72.8l-.3 .7 .3 .5 .7 .1 .3-.2 .2-.4-.3-.7-.9 0M242.5 69.7l-1.3 .7-1 1.1-.5 1.3 0 1.4 .6 1.3 1.2 1.2 1.3 .4 1.4 0 1.3-.6 1-1.2 .5-1.5-.1-1.3-.6-1.3-1.1-1-1.4-.5-1.3 0M153.8 70.8l-1 .2-.7 .5-.6 .9-.2 1.1 .2 1 .7 .8 .6 .5 1 .2 1-.2 .9-.6 .7-1.7-.2-1-.7-1-.7-.5-1-.2M70.8 72.4l-.6 .7 0 .6 .6 .7 .7 0 .6-.6 .1-.6-.5-.7-.9-.1M242.2 69l-1.5 .8-1.1 1.4-.5 1.6 .1 1.7 .8 1.7 1.2 1.1 1.6 .6 1.7-.1 1.4-.6 1.3-1.4 .6-1.6-.1-2-.8-1.7-1.4-1.1-1.7-.5-1.6 .1M152.8 70.5l-1 .7-.5 1-.3 1 .2 1.3 .6 1.1 1 .7 1 .3 1.4-.2 1-.6 .7-1 .4-1.3-.3-1.3-.6-1-1.2-.8-1.4-.2-1 .3M70.8 72.1l-.6 .7 0 1.2 .6 .7 .7 .2 .7-.2 .7-.9-.1-1-1-.8-1 .1M242.5 68.2l-1.7 .7-1.5 1.6-.8 2 .1 2 .8 2 1.4 1.4 1.7 .7 2 .1 2-.9 1.3-1.3 .8-2 0-2-.7-2-1.4-1.5-2-.9-2 .1M154.2 69.5l-1.4 .4-1.3 1.2-.6 1.4-.1 1.3 .4 1.4 1 1.3 1.3 .7 1.3 .1 1.5-.5 1.2-1 .6-1.3 .2-1.3-.3-1.4-.9-1.3-1.3-.8-1.6-.2M71.2 71.5l-1 1.1 0 1.6 1 1.1 1 .2 .6-.2 1.1-1.1 .1-1-.1-.7-1.1-1-1-.2-.6 .2M38.2 21.6l7-15.4M45.3 140.8l-7.1-15.6M242.2 67.4l-2 1.1-1.6 2-.7 2.3 .3 2.4 1 2 1.6 1.6 2 .7 2.4-.1 2-1 1.6-1.9 .7-2.3-.1-2.4-1.1-2.3-1.8-1.6-2-.6-2.3 .1M153.8 68.8l-1.6 .9-1 1.3-.6 1.8 .1 1.7 .7 1.7 1.1 1.1 1.7 .8 1.6 0 1.7-.8 1.1-1.1 .7-1.7 .1-2-.7-1.7-1.2-1.3-1.7-.8-2 .1M72.8 70.1l-1 .3-1 .7-.6 1.1-.2 1.3 .2 1.1 .6 1.1 1 .7 1 .3 1-.2 1.1-.7 .7-1 .3-1.3-.2-1.3-.6-1-.9-.8-1.4-.3M94.4 140.8l-3.8-6-3.5-6-3.1-6-2.7-6-2.3-6-1.9-6-1.2-5.3-.4-4 .3-2.7 .8-2.3 4.9-6.5 1.9-3.5 1.1-3.3 .4-3.4-.4-4-1.3-4.1-2-3.4-4-5.1-1.2-2.4-.4-1.6 0-2.4 .7-5.6 2.6-9 4-10 5.2-10 6.2-10M64.5 60.8l1.3 .1 1.4 .4 1.5 1.5 .8 2.9 .3 4.5-.1 8.3-.5 4.2-.7 1.5-.7 .8-1.3 .8-1.3 .2-2-.3-2-.7-1.7-1.1-1.7-1.6-1.3-1.8-1-2-.7-2.3-.3-2.4 .1-2.3 .6-2.3 .8-2 1.3-2 1.5-1.7 1.7-1.3 2-.9 2-.5M243.5 65.5l-2.7 .8-2.2 1.9-1.4 2.6-.3 3 .7 3 1.6 2.4 2.3 1.6 1.3 .4 1.7 .1 2.7-.7 2.3-2 1.5-2.8 .3-3-.8-3-1.7-2.4-2.3-1.5-1.3-.4-1.7 0M154.5 66.8l-2 1.2-1.5 1.8-.8 2.4 .1 2.6 .9 2.5 1.6 1.8 2 1 2.4 0 2.3-1 1.7-1.9 .9-2.7 0-2.7-1-2.3-1.9-2-2.4-.9-2.3 .2M156 140.8l-15.7-15.3-15.1-14.1-4.4-4.6-3.6-4.6-3.9-6.4-2.8-7-1.7-7.3-.7-8 .6-8 1.7-7.3 2.8-7 4-6.6 3.6-4.6 4.4-4.6 14.9-13.9 15.7-15.3M157.2 60.4l-1.7 .6-1.7 1.1-1.3 1.4-1 1.5-1 2.3-.6 2.5-.3 5 .9 4.7 1 2.3 1 1.5 1.3 1.4 1.7 1.1 1.7 .6 1.6 0 2-.4 1.7-.8 1.7-1.4 1.6-2 1.2-2.3 .7-2.3 .4-2.4 0-2.6-.4-2.7-.8-2.3-1.1-2.1-1.3-1.8-1.7-1.4-2-1.1-2-.4-1.6 0M244.2 62.1l-1.7 .3-1.7 .7-1.6 1.1-1.4 1.4-1.1 1.9-.8 2-.5 2-.1 2.3 .3 2.4 .6 2 .9 2 1.1 1.4 1.3 1.2 1.7 1.1 1.6 .6 2 .2 2-.3 1.7-.7 1.7-1.1 1.3-1.4 1.1-1.7 .9-2 .5-2 .2-2.3-.3-2.4-.5-2-1-2-1.2-1.6-1.7-1.5-1.7-.9-1.6-.5-2-.2M66.5 71.1l1.7-.1 1 .7 .4 .8 .2 1-.3 1-.7 .9-.6 .4-1 .1-1-.3-1.1-1.4-.1-1 .3-1 1.2-1.1M204.1 140.8l-7.3-4.1-6.6-4.5-5.6-4.7-4.9-5-4.1-5.3-2.9-5.4-1.7-5-.6-5 .6-5.6 3.3-14 .7-7.7-.1-4.7-.6-5-3.2-13.6-.6-4 .1-5 1.1-4.7 1.7-4 2.6-4.3 3.3-4.4 3.9-4.1 4.3-3.9 5-3.8 5.3-3.5 6-3.3M136.5 54.1l2.7-.2 2.3 .3 2 .9 1.8 1.4 1.3 1.7 1 2.3 .8 3 .5 3.7 .2 5.6-.2 6-.5 4.4-.8 3.3-1.4 2.7-1.7 1.8-2 1.2-2.7 .7-3-.2-3-.8-3-1.7-2.6-2.2-2.3-2.8-1.7-3-1.2-3.4-.6-3.6 0-3.7 .6-3.3 1.1-3.4 1.7-3.1 2-2.6 2.7-2.3 3-1.7 3-1M243.5 58.1l-2 .7-2 1.2-1.7 1.6-1.6 2.4-1.1 2.5-.8 2.7-.3 3 0 3 .4 2.6 .8 2.8 1.2 2.6 1.4 2 1.7 1.6 2 1.2 2 .7 2.3 .1 2.4-.5 2.3-1.2 2-1.7 1.7-2.1 1.3-2.6 1-2.9 .4-3 0-3-.5-3-.9-2.7-1.3-2.6-1.7-2.1-2-1.7-2.3-1.2-2.4-.5-2.3 .1M67.8 72l.7 0 .7 .3 .5 .9-.2 .9-.7 .6-1 .1-.9-1 .1-1 .8-.8M261.3 140.8l-6.5-2.8-12.6-6-5.7-2.3-6.3-2-14.7-3.8-7-2.5-7-3.4-6-4.1-3.7-3.4-3.1-3.7-2.5-4-1.9-4.3-1.3-4.3-.9-5-.4-5.7-.1-8 0-9.7 .4-6.3 .6-5 1.1-4.7 1.8-4.4 2.4-4.2 2.9-3.8 3.7-3.7 6-4.3 7.3-3.8 7.4-2.6 15-3.9 6.3-2 5.7-2.3 18.6-8.6M244.2 51.8l-2.4 .6-2.3 1.5-2 2.2-1.7 2.8-1.3 3.2-1 3.7-.6 4-.1 4.4 .3 4.3 .7 3.9 1.2 3.8 1.5 3 2 2.7 2 1.7 2.3 1.1 2.4 .4 2.6-.5 2.7-1.3 2.7-2.3 2.3-3 1.9-3.5 1.2-3.7 .8-4 .2-4-.4-4-.9-4-1.5-3.7-2-3.3-2.3-2.7-2.7-2-3-1.2-2.6-.1M137.8 62.1l2-.2 1.7 .1 1.7 .6 1.6 1.1 1.4 1.3 1.1 1.8 .8 2 .5 2.4 .1 2.6-.2 2.4-.6 2.3-.9 2-1.2 1.7-1.3 1.2-1.7 .9-2 .6-1.6 0-2-.4-1.7-.7-1.8-1.3-1.5-1.7-1.1-1.6-.8-2-.4-2-.1-2.4 .2-2 .6-2 1-2 1.3-1.6 1.4-1.4 1.9-1.1 1.6-.6M68.2 72.5l1 0 .4 .7-.1 .6-.7 .6-.6-.1-.6-.5 0-.6 .6-.7M322.8 127.2l-5.3 2-5.3 1.5-5.4 1.1-5.3 .5-5.3 .1-5.4-.5-5-.8-5-1.4-5-2-4.6-2.4-4.2-2.8-3.5-3.2-2.9-3.5-1.9-3.3-1.1-3.3-.4-3.7 .7-5.7 3.7-15 1.1-8.3 0-6-.7-6.3-1.2-5.9-3-11.5-.6-5 .1-3 .8-3 1.3-3 1.8-2.6 2.3-2.7 2.5-2.3 3.1-2.4 3.4-2.1 3.7-1.8 4-1.6 4-1.2 4.3-.9 4.3-.6 4.4-.2 8.6 .5 8.7 1.8 8.3 2.9M215.5 40.2l3.7 .1 3.3 .8 3 1.4 2.4 2 1.7 2.3 1.1 2.7 .7 3.3 .2 4.4-.2 16 .2 17-.2 4-.7 3.3-.8 2-1.1 1.7-1.3 1.5-1.7 1.4-2 1-2.3 .9-5 .7-2.7-.2-3-.5-5.3-1.8-5-3-4.2-4-3.2-4.7-2.4-5.3-1.4-6-.6-7 .4-7 1.3-6.4 2.2-5.6 3-4.7 3.9-4.1 2.3-1.7 2.7-1.6 5.3-2.1 3-.6 2.7-.2M140.2 66.1l2.6-.1 2.4 1 2 2.1 1 2.7 0 3-1 2.9-2 2.1-2.4 1-2.6-.1-2.4-1.1-1.8-2.1-1.1-2.7 .1-3 1-2.6 1.8-2 2.4-1.1M68.5 72.7l.7 0 .3 .5-.3 .9-.7 0-.4-.3-.1-.6 .5-.5M322.8 112.5l-6 2.7-6 1.9-6.3 1.1-6 .2-6-.6-5.7-1.5-5-2.2-4.6-3.1-3.3-3.2-2.5-3.3-1.9-3.7-1.4-4.3-.8-4.3-.4-5-.1-20 .1-7.4 .4-5.3 .8-4.3 1.3-4 1.9-3.7 2.5-3.5 3.3-3.2 3.7-2.5 4.4-2.2 5-1.6 5.3-.9 5.3-.2 5.4 .4 5.6 1.2 5.4 1.7 5.6 2.6M211.8 51.8l3.4-.3 3.3 .5 3 1.3 2.7 2 2 2.5 1.5 3 1.2 3.7 .7 4.3 .2 5.4-.4 5-.9 4.5-1.5 3.8-1.8 2.9-2.7 2.5-3 1.5-3.3 .8-3.7-.1-3.3-.9-3.4-1.6-3-2.4-2.6-3-1.9-3.4-1.3-3.6-.8-4-.1-4.4 .6-4 1.2-4 1.9-3.6 2.4-3 3-2.6 3.3-1.8 3.3-1M142.5 68.5l1.7 0 1.6 .8 1.4 1.5 .6 1.7 0 2-.7 1.7-1.6 1.5-1.7 .6-1.6 0-1.7-.8-1.3-1.3-.7-2 .1-2 .7-1.7 1.4-1.3 1.8-.7M68.5 73l.7-.1 .2 .3-.2 .7-.7-.1-.2-.3 .2-.5M322.8 96.4l-4 3-4.3 2.5-4.3 1.8-4.7 1.2-4.7 .6-4.6-.1-4.4-.8-4-1.5-3.6-2-3.4-2.6-2.6-3-2.2-3.3-1.8-4-1.2-4.4-.8-5-.3-5.3 .3-5.3 .7-5 1.3-4.4 1.7-4 2.3-3.5 2.6-3 3.4-2.6 3.6-2 4-1.5 4.7-.8 4.3-.1 4.7 .6 4.7 1.2 4.3 1.8 4.3 2.5 4 3M213.8 59.4l2.7-.2 2.3 .4 2.4 1 2 1.4 1.6 1.8 1.4 2.1 .9 2.6 .6 2.7 .1 3-.4 3-.8 2.6-1.1 2.3-1.6 2.1-1.7 1.4-2.4 1.3-2.3 .6-2.3 0-2.7-.5-2.3-1-2-1.4-1.8-1.8-1.5-2.3-1-2.3-.6-2.7-.2-2.7 .4-2.6 .8-2.7 1.2-2.3 1.7-2.1 2-1.7 2.3-1.3 2.3-.7M143.8 70.1l1.4 .2 1 .5 .8 1 .4 1.4-.2 1.3-.6 1-1.1 .9-1 .3-1.3-.2-1-.5-.7-.8-.5-1.4 .1-1.3 .4-1 1-.9 1.3-.5M68.8 73l.5 .2 .1 .3-.2 .3-.6-.3 .2-.5"/>
<path clip-path="url(#kb)" class="c" d="M67.8 267.8l2.7-.3 1.3-.6 1-.7 .7-1.4 .4-3-.4-2.9-.8-1.4-.9-.7-1.3-.5-2.7-.3M227.5 264.6l1-1.1 .5-1.7-.5-1.6-1-1M137.2 255.2l-1.4 2-.6 2.6 .2 5.7 .7 1.7 1.1 1.4M155.2 264.5l.5-1.3 .1-1.4-.2-1.3-.5-1.3M66.8 254.8l-1.3 .3-1.3 .7-1 1-.7 1.4M62.4 265.5l.8 1.5 1 1 1.3 .7 1.3 .3 2-.2 3-.9 1.3-.7 .8-1 .2-1 .1-3.4-.1-3.3-.3-1-.9-1-1.2-.7-2.9-.8-2-.2M217.8 254.8l-1 .3-1 .6-.6 .8-.3 1M214.9 266.5l.6 1.2 1 .9 1.3 .4 2-.1M223.8 268.2l3-.7 2.4-1.4 1.4-1.9 .5-2.4-.5-2.3-1.4-1.8-2.4-1.4-3-.7M219.8 254.9l-2-.1M144.8 249.8l-2.3 .6-2.3 1.2-2.8 2.2-1.9 2.2-.8 2.5 .1 7.7 .7 1.6 1.7 2 2.6 2.2 2.7 1.4 2 .6 2 0 2-.6 1.7-1.1M154.7 266.5l1.5-2.3 .5-2.4-.5-2.2-1.6-2.4M150.2 251.5l-2.4-1.4-3-.3M65.8 253.8l-1.3 .3-1 .5-1 .9-.6 1-.6 2.3-.1 4.4 .3 2.9 .9 2.1 1.6 1.3 2.2 .5 1.6-.2 4.1-1.3 1.4-.7 .9-.7 .4-1.3-.4-2.3 .2-1.7-.2-1.3 .5-2.3-.5-1.5-1.4-1-4.6-1.6-2.4-.3M218.8 253.8l-2 .4-1.4 1-1 1.3-.4 2M214 265.2l.5 2.3 1.3 1.5 2 .9 2.7 .1 4.7-.3 3-.9 2.5-1.6 1.7-2.4 .6-2.3-.2-2.3-1-2.2-1.6-1.8-2-1.3-2.4-.7-3.4-.4-3.6 0M144.5 248.5l-2.3 .8-2.4 1.5-3.3 3-1.6 2-.8 2.4 .5 3.6-.4 4 .3 1.4 1 1.6 4 3.9 3.3 2.1 1.7 .5 1.7 .1 1.6-.3 1.4-.5 2.3-2.1 5.2-8 .5-1.3 .2-1.7-.8-2.3-2.3-3.4-2.1-3.6-1.4-1.7-1.3-1.1-1.7-.7-1.6-.3-1.7 .1M64.8 252.8l-1.3 .3-1 .6-1 1.1-.5 1-.4 2.4 0 7.3 .4 2.3 .9 1.7 1.6 1.2 2 .3 1.7-.3 6-2.2 1.4-1 .4-.7 .2-1-.8-2.3 .2-1.7-.2-1.3 .8-2.7-.4-1.3-1.2-1-6.4-2.4-2.4-.3M220.8 252.8l-3.6 .6-2.4 1.4-.7 1-.5 1.4-.1 3M213.5 263.8l.1 2.7 .9 2.1 2 1.5 2.7 .7 5 .2 3.6-.5 3-1.3 2.4-2.4 1.2-2.6 .3-2.7-.7-3-1.5-2.3-2-1.8-2.7-1.1-3-.5-4 0M144.8 247.2l-2 .6-2.3 1.5-4.3 4.1-1.8 2.1-.6 1.3-.1 1 .7 4-.7 4.4 .5 1.6 .9 1.4 5.1 5 1.6 1.2 1.7 .9 3 .5 2.7-.8 1.3-.9 1-1 1-1.6 2.1-4.3 2.9-4 .5-1.4 0-1.3-.6-2-2.7-3.7-2.2-4.5-1.3-2-1.4-1.1-1.6-.9-1.7-.3-1.7 .2M63.2 251.8l-1 .4-1.1 1-.7 1-.4 1.3-.1 2 .3 4.7-.3 5.3 .5 2 1.1 1.6 1.7 .9 1.6 .1 2-.6 3.7-1.8 3.3-1 1-.5 .6-.7 .4-1.3-1.3-2.7 .3-1.7-.3-1.3 1.2-2.3 .1-1-.6-1.2-1.1-.8-3.9-1.2-4.4-2.1-1.3-.2-1.3 .1M223.2 251.8l-3.4 .4-2.6 .6-2 1.1-1.4 1.4-.6 1.2-.3 1.7 0 7 .3 2 .6 1.3 1 1.2 1.4 .8 1.6 .7 3.4 .6 3.3 .2 2.3 0 2.4-.5 2-.9 1.6-1.1 1.3-1.3 1.1-1.7 .7-1.7 .4-2-.1-2-.4-2-.7-1.6-1.1-1.7-1.3-1.3-1.5-1-1.7-.8-2-.5-4.3-.1M145.2 245.8l-2.4 .9-2 1.4-5.6 5.7-1.3 1.7-.6 1.3-.1 1 1.1 4.4-.9 2.6-.2 1.4 .3 1.4 1 1.6 6.3 6.5 3 1.9 1.4 .4 1.6 .1 2.7-.8 1.3-.9 1-1.1 1-1.7 1.9-5.1 3.3-4.3 .5-1 .2-1.4-.3-1.3-.5-1-3.2-4.3-1.9-5-1.3-2.1-1.3-1.2-1.7-.9-1.7-.3-1.6 .1M62.2 250.5l-1 .4-1 .9-.7 1-.4 1.4-.1 2 .9 5.6-.8 5.7-.1 1.7 .5 1.8 1 1.4 1.7 .9 1.6 .2 2.4-.8 4-2.6 4.3-1.1 1.6-1.2 .3-.6 0-1-.5-1-1.3-1.7 .3-1.7-.4-1.3 .3-.7 1.4-1.6 .3-1-.5-1.4-1.2-.8-4.6-1.3-3.7-2.4-1.3-.7-1.7-.3-1.3 .2M225.2 250.8l-4 .6-3.7 .8-2.1 1-1.6 1.3-.9 1.7-.4 1.6 .1 8.7 .5 1.7 .7 1.1 1.3 1.2 1.4 .7 2.7 .8 4 .8 3 .2 2.3-.2 2-.5 2-.9 1.7-1.2 1.5-1.7 1.2-2 .6-2 .3-2-.1-2.3-.5-2-.9-2-1.2-1.7-1.6-1.5-1.7-1-2-.7-2.3-.5-2.3 0M145.2 244.5l-2 .8-2 1.4-7.9 8.8-.5 1.2-.1 1.1 1.4 3.4 0 1-1.2 3-.2 1.3 .4 1.3 .9 1.4 7.2 7.9 1.3 1 1.7 .9 1.3 .4 1.7 .1 2.6-.8 1.4-.9 1-1.1 1.1-2.2 1.7-6 3.6-4.3 .5-1 .2-1.4-.3-1.3-.5-1-2.7-3-.9-1.3-1.7-6-1.4-2.5-1.3-1.2-1.7-.9-1.6-.3-2 .2M61.8 248.5l-1.3 .3-1.3 .8-.9 1.2-.4 1.4 0 2.6 1.5 5 .2 2-.3 2.4-1.3 4.3-.3 2 .4 2 .8 1.3 1.6 1.2 1.7 .3 1.6-.2 1.7-.8 4.7-4 1.6-.6 3.4-.4 1.6-1.1 .5-1-.1-1-.6-1-1.4-1-.6-.7 .5-1.7-.5-1.3 .6-.9 1.5-1.1 .6-1.3-.3-1.4-1.1-1-1.1-.4-3-.3-1.3-.4-1.3-.9-4-3.5-1.7-.7-1.7-.1M224.2 250.2l-4.6 1-3.1 .9-2 1.1-1.3 1.4-.8 1.6-.2 1.6-.1 8 .4 2 .7 1.4 1.2 1.3 1.7 1 2.1 .7 4.3 1.1 3.3 .6 2.7 0 2.7-.5 2.1-.9 1.9-1.3 1.6-1.7 1.2-2 .9-2.3 .4-2.4-.1-2.3-.4-2.3-.8-2-1.3-2-1.6-1.7-1.9-1.3-2-.8-2-.4-2.4-.1-2.6 .3M38.2 214.7l4-10.9 4.3-9.6M46.1 328.8l-4-9.3-3.9-10.4M146.2 242.8l-2.4 .7-2.3 1.8-4.4 5.5-4.3 4.7-.5 1.3 0 1 .3 1 1.3 2.4 .1 1-1.5 3-.2 1.3 .2 1 .7 1.3 3.8 4 4.5 5.7 2.7 1.9 1.3 .5 1.7 .2 1.6-.3 1.6-.6 1.3-1 1.1-1.4 1.1-2.6 .7-4.7 .5-1.7 1.1-1.6 3-3 .5-1 .2-1.4-.3-1.3-.5-1-3-3-1.1-1.7-1.2-6.4-1.3-2.8-1.3-1.4-1.4-.8-1.6-.6-2 0M58.5 245.4l-1.3 .7-1 1.2-.6 1.5-.2 1.7 .9 3.3 2.8 6 .3 2.7-.6 2.3-2.9 6-.4 1.7-.1 1.7 .6 2 1 1.3 1.5 .9 2 .2 2-.5 2-1.2 1.7-1.7 2.8-3.7 1.5-1.2 1.3-.4 4-.2 1.4-.5 .7-.7 .6-1.3-.2-1.4-1-1-1.8-.6-.7-.4-.2-.6 .6-1.4-.6-1.3 .6-.8 2-.7 .7-.5 .4-.7 .2-1-.7-1.6-1.3-.9-1.3-.3-3.4-.1-1.8-.7-1.4-1.4-2.8-3.6-2.3-2-2.7-.9-2.3 .1M226.2 249.1l-3.7 .8-5.7 1.7-2.3 1.2-1.5 1.4-.8 1.5-.4 1.7 .1 9.8 .6 1.6 .9 1.4 1.4 1.1 1.9 .9 8.8 2.4 2.7 .3 2.6-.2 2.4-.7 2.1-1.2 1.9-1.6 1.5-2 1.2-2.4 .6-2.3 .2-2.7-.2-2.6-.7-2.4-1.1-2.3-1.5-1.9-1.7-1.5-2-1.1-2.3-.8-2.4-.2-2.6 .1M93.9 328.8l-4.4-5.7-3.8-5.6-3.5-5.7-3.2-5.6-3.8-8-4.4-9.9-1.6-4.7-.9-3.8-.2-3 .3-2.6 .7-2 1.1-1.4 1-.5 1.3-.1 4.7 1.1 2.3 .1 2-.8 1.5-1.4 .9-2 .4-2.4 0-5.6-.4-2.7-.6-1.3-1-1.4-1.1-.8-1.3-.5-2.4 0-5 1.1-1 0-1-.4-1.1-1-.7-1.4-.4-1.6-.2-2.4 .5-4.3 1.3-4.7 3.6-8.5 4.4-9.5 3.6-6.6 3.8-6.4 4.4-6.3 4.8-6.3M145.8 239.1l-2 1-2 1.7-1.6 2.4-3.5 6.3-4.1 4-.9 1.3-.4 1.4 .1 1 .6 1 1.5 1.6 .4 1-.4 1.2-1.9 2.2-.3 1.3 .2 1 .7 1.3 3.5 3.4 1.4 1.6 3.4 6.3 1.7 2.2 2.6 2 1.7 .5 1.7 .1 2-.4 1.6-.9 1.4-1.1 1.1-1.7 .7-1.6 .4-2-.4-6 .3-2 1.2-1.9 2.9-2.1 1-1 .5-1 .3-1.4-.3-1.3-.6-1-3.8-3-1.1-1.7-.4-2 .4-4.6-.1-2-.5-2.1-1-1.9-1.6-1.8-2-1.1-2-.4-2.4 .2M228.5 247.2l-3.7 .9-8.6 3.1-2.1 1-1.6 1.3-.9 1.7-.4 1.6 .3 5-.2 5.4 .4 1.6 .7 1.4 1.4 1.2 1.7 1 11 3.8 3 .6 2.7-.1 2.6-.7 2.4-1.2 2-1.6 1.6-2 1.4-2.6 .8-2.8 .5-3-.1-3-.7-3-1-2.6-1.5-2.4-1.9-2-2.1-1.4-2.4-1-2.6-.4-2.7 .2M49.2 254.8l1.3-.1 1.7 .2 3 1.3 2.6 2.4 .8 1.2 .4 1.4-.2 2.3-1.6 2.5-2.7 2-2.7 1-2.6 0-2.4-1.1-1.7-1.7-1.1-2.7 0-3 1-2.7 1.8-1.9 2.4-1.1M75.5 259.8l1 .2 .7 .5 .7 1.3-.6 1.4-1.5 .8-.6-.1-.5-.7 .9-1.4-.9-1.3 .8-.7M162.2 328.8l-3.7-5.3-2.8-5-1.9-4.7-.9-4.3 0-3 .7-2.7 5.6-12.1 1.1-3.5 .5-3.4-.1-2.6-.6-2.7-1-2.3-2.9-4.7-.6-1.7 0-1.3 .6-1.3 1-.9 3.9-1.5 1.7-1 .9-1.3 .3-1.7-.4-1.6-1-1.4-1.4-.8-4-1.5-1-1-.5-1-.1-1.3 .5-1.7 3.1-5 1-2.3 .5-2.7 .1-2.7-.6-3.3-1-3.4-5.6-11.9-.6-2.4-.2-2.3 .6-4.3 2-5.4 3.2-5.6 4.2-6M125.5 223.8l3-.2 2.7 .4 2.3 1 1.7 1.3 1.2 1.9 .8 2.1 .5 2.9 .3 4-.2 7.3-.4 2.7-.7 2-1.9 2.5-4.6 3.5-1 1.3-.3 1.3 .3 1 .6 .7 2.7 .9 1.2 1.1 0 .7-.5 .8-3.7 1.6-.5 .9 0 1 .3 1 1 1.3 3.9 2.8 1.3 1.2 1.6 2.7 .6 2.7 .3 3.6 0 5.4-.4 4.3-1 3.7-.8 1.4-1 1.2-2.6 1.7-3.7 .7-4.3-.4-4.4-1.6-4.3-2.6-3.6-3.4-2.9-4-2-4.4-1.4-5-.5-5.3 .1-24.7 .7-5.3 1.5-4.7 1.4-2.9 1.7-2.5 2-2.5 2.3-2.1 2.4-1.8 2.6-1.4 3-1.2 2.7-.6M231.5 243.5l-4.3 1.4-7 3.7-6.3 2.6-2.3 1.6-.9 1.4-.4 1.6 .6 6-.6 6 .3 1.4 .6 1.3 1 1 1.5 1 6.1 2.5 9 4.6 3 .8 3 .1 3-.7 2.5-1.3 2.3-2 2-2.7 1.6-3.2 1-3.4 .5-3.7-.1-4-.6-3.7-1.2-3.5-1.6-3-2-2.5-2.4-1.8-2.6-1.2-2.7-.5-3 .2M71.5 247.5l1.3-.3 1.2 .3 .8 .7 .5 1.3 0 1-.7 1.3-1.1 1-1.3 .5-.7 0-1-.5-.6-.6-.3-1 .3-2 .6-1 1-.7M53.2 258.5l1.3-.3 1.7 .3 1.3 .9 .8 1.1 .3 1.3-.2 1.4-.9 1.2-1 .7-1.7 .5-1.3-.2-1.3-.7-1-1.2-.4-1.3 .3-1.7 .9-1.3 1.2-.7M75.2 260l.6 .2 .2 .3-.2 .6-.6 0-.3-.3-.1-.3 .4-.5M75.2 262.7l.8 .1-.1 .7-.4 .3-.6-.3-.1-.3 .4-.5M70.8 270.8l1-.3 1 .1 1 .6 1 1 .5 1.3 0 1-.4 1-.7 .7-1 .4-1-.1-1-.4-1-.9-.6-1.4 0-1.3 .4-1 .8-.7M203.5 328.8l-7-4-6-4.5-5.1-4.8-4.2-5.4-2.7-4.4-2.2-4.9-1.8-5.3-3.7-13.3-1.3-3.4-1.7-2.6-1-.9-1.3-.6-4.3-.5-2-.5-1.7-.9-1-1.1-.5-1.2 0-1.3 .6-1 1.2-.8 2.7-.2 5 1.2 1-.1 1-.6 1-1.1 .7-1.4 .4-1.7 .2-2-.8-3.3-.8-1.5-1-.9-1-.4-1 0-4.4 1.1-2.3 .1-1-.3-1-.8-.4-.7-.2-1 .6-1.7 1.7-1.6 2.3-.8 5.3-.7 1.4-.8 1.4-1.7 1.3-2.3 1.1-3 3.6-13.4 2.1-6 3.1-6 4-5.6 4.4-4.7 5-4.1 5.6-3.8 6.3-3.4M127.2 237.5l2-.1 2 .5 1.6 1 1.4 1.2 1.3 1.9 .7 1.8 .4 2-.1 2-.4 1.4-.8 1.3-2.1 1.8-5.7 2-2 .3-1.7-.1-2.2-1-1.6-2-.9-3 .1-3 1.1-3 1.7-2.3 2.5-1.9 2.7-.8M236.5 238.2l-2.7 .3-3 1.3-3 1.9-7.3 5.8-2.7 1.4-5.1 1.9-2.2 1.6-.9 1.4-.2 1.4 1.1 6.6-1.1 6.4 .5 2.3 .7 1 1.2 1 6.4 2.5 2.1 1.2 7.9 6.1 2.6 1.7 3 1.3 3 .3 3-.5 2.7-1.3 2.7-2.3 2.2-3 1.8-3.5 1.3-4.2 .8-4.6 .3-4.7-.4-4.7-.8-4.3-1.3-4-1.9-3.6-2.4-3-2.6-2.1-2.7-1.2-3-.4M71.5 249.1l1 0 .7 .2 .7 1.2 0 .7-.4 1-1.3 .9-1.4-.3-.8-1.3 .3-1.3 1.2-1.1M54.5 259.5l1-.2 1 .1 1 .6 .6 .8 .2 1-.2 1-.6 1-.7 .4-1 .3-1 0-1-.5-.6-.8-.4-1 .1-1 .6-1 1-.7M75.2 260.2l.6 .3-.3 .5-.3 0-.4-.5 .4-.3M131.5 260.8l1-.1 .8 .5 .3 .6-.4 1-1.4 .3-1-.6-.1-1 .8-.7M75.2 262.8l.6 .4-.2 .3-.4 .2-.4-.5 .4-.4M124.8 269.1l3.4 .6 4.6 1.7 2.1 1.4 .8 1 .6 1.4 .3 1.6-.1 1.7-1 3.3-2 2.6-2.7 1.6-1.6 .4-1.7 0-1.7-.4-1.6-.7-2.7-2.2-1.1-1.6-.8-1.7-.4-1.6-.2-2 .3-2 .6-1.7 .9-1.3 1-1 1.4-.7 1.6-.4M71.5 270.7l.7 0 .9 .5 .8 1.3-.2 1.3-.5 .7-.7 .2-1 0-.7-.4-.7-1.1 0-1 .3-.7 1.1-.8M261.8 328.8l-7.6-4-12.7-7.8-4.3-2-2.4-.7-2.6-.4-13.4 0-4-.4-3.6-.7-4-1.1-4-1.7-3.7-2.1-3.3-2.4-3.8-3.7-3.2-4.1-2.9-4.9-2.5-5.6-2.4-7.4-1.6-6.6-.6-5.7-.2-7.3 .4-6.4 .9-5.3 2-7.3 2.4-6.7 2.4-5 2.7-4.4 3.3-3.9 3.7-3.4 3.4-2.3 3.3-1.8 4-1.7 4-1.1 3.7-.6 4-.4 13 0 2.6-.4 2.4-.7 5-2.4 14-8.5 7.4-3.7M237.8 228.5l-2.6 1-3 2.5-2.7 3.2-5.6 8-3.2 3.3-3.2 2-6.3 2.1-2.1 1.6-.6 1.3-.1 1.7 1.5 5 .2 2-.4 2-1.1 3.3-.3 1.7 .5 2 1.7 1.6 1.7 .8 5.3 1.7 3.5 2.2 3.1 3.3 5.7 8.2 2.7 3.2 1.7 1.4 1.6 1.1 1.7 .6 1.3 .1 1.4-.2 1.6-.5 3-2.1 3-3.5 2.7-4.6 2-5.1 1.5-5.9 .8-6.3 .2-6.4-.4-6.3-1-6-1.6-5.7-2.2-4.8-2.6-4.2-3-3.2-1.7-1.1-1.7-.8-1.6-.3-1.4 .1M129.5 241.5l2.3 .2 2 1.1 1.4 1.6 .7 2.1-.1 2.3-.9 1.7-1.4 1.1-2.3 .8-2.7 0-2-.8-1.4-1.4-.8-2 .2-2.4 1-2.1 1.7-1.5 2.3-.7M71.8 249.8l1 .3 .6 1.1-.3 1-.6 .5-.7 .2-1-.4-.5-1 .5-1.3 1-.4M158.5 251.4l1 0 1.2 .4 .7 .7 .3 1-.3 1-.8 1-1.1 .6-1 .1-1-.2-.7-.4-.5-.8-.1-.6 .1-1 .5-.8 1.7-1M55.8 259.8l1 .2 .7 .5 .6 1.3-.1 .7-.5 .8-1.3 .7-1-.1-.7-.4-.7-1.3 .1-1 .4-.7 .9-.6 .6-.1M75.2 260.2l.4 .3-.4 .4-.3-.4 .3-.3M131.8 261.1l.7-.2 .7 .3 .3 .6-.3 .8-.7 .2-.9-.3-.2-.7 .4-.7M75.2 262.9l.4 .3-.4 .4-.3-.4 .3-.3M157.5 267.8l1-.2 1 .1 1.6 1.1 .5 1 .1 .7-.8 1.3-1.1 .5-1 .1-1-.3-1-.7-.5-.9-.1-1.3 .6-1 .7-.4M71.2 271l1-.1 1 .9 0 1.4-.7 .7-1 .1-1-.9-.1-1.3 .8-.8M128.5 271.4l2.3 0 2.4 .6 1.5 1.2 1 1.6 .3 2-.7 2.4-1.5 1.8-2 1.1-2.3 .3-2-.7-1.9-1.5-1.1-2-.2-2.4 .7-2 1.5-1.6 2-.8M322.8 316.6l-8 2.8-8.3 1.6-8.3 .6-8.4-.7-4-.8-4-1.2-3.6-1.4-3.7-1.7-3.3-2-3-2.2-2.7-2.4-2-2.3-2.2-3.4-1.6-3.3-1-3.7-.6-4 0-6 .8-15.7 .2-9.3-1.1-26.7 .3-5 .8-4.3 1.4-3.7 2.1-3.6 2.9-3.5 3.7-3.3 4.3-2.8 4.7-2.3 5-1.8 5.3-1.3 5.7-.8 5.6-.2 6 .5 5.7 .9 5.7 1.5 5.6 2.1M210.5 224.2l2.7-.2 2.6 .3 2.4 .8 2 1.2 1.6 1.6 1.4 2.1 .7 2.2 .4 2.6-.3 3-.7 3-1.2 2.7-1.8 2.3-1.8 1.5-2 1-5.8 1.2-2 .7-1.4 1-.8 1.6 .3 2 2.4 4.7 .6 2.3-.5 2.4-2.6 5-.2 1.3 .3 1.3 .7 1 1.7 1 7 1.6 1.6 .7 1.6 1.1 1.7 1.6 1.3 2 1 2.4 .7 3 .2 2.6-.4 2.7-.8 2.3-1.2 2-1.7 1.7-2 1.2-2.4 .8-2.6 .3-4.4-.5-4.3-1.7-4-3-3.1-3.8-2.2-4-1.8-5-3.6-12.6-.9-6.4 .3-4.6 1-5 3.8-13 2.5-5.7 2.7-3.9 3.3-3.1 4-2.2 4-1.1M130.5 243.8l1.7 0 1.3 .6 1.2 1.1 .6 1.3 .2 1.4-.4 1.3-.9 1.2-1.4 .7-1.6 .3-1.7-.4-1.5-1.1-.7-1.4-.1-1.6 .6-1.6 1-1.1 1.7-.7M71.2 250.5l1-.1 .7 .8-.1 1-.6 .5-.7 .1-.8-.6-.1-1 .6-.7M157.5 252.5l1.3-.2 1.3 .9 .1 1.3-1 1.1-1 .3-.7-.1-1-1 0-1.3 1-1M55.5 260.4l1.3 0 .9 .8 .1 1.3-1 .9-1.3 0-.9-.9 .1-1.3 .8-.8M75.2 260.2l.3 .3-.3 .3-.3-.3 .3-.3M132.2 261.3l1 .1 .2 .4-.2 .6-.7 .3-.4-.2-.3-.7 .4-.5M75.2 262.9l.3 .3-.3 .3-.3-.3 .3-.3M157.5 268l1.3 0 1.1 .8 .3 1.4-.7 1-.7 .3-1 0-1.2-1-.2-1.3 .4-.7 .7-.5M71.5 271l1 .3 .5 .9-.2 .6-.6 .6-1-.1-.6-.8 .2-1 .7-.5M130.8 272.2l1.7 .1 1.3 .5 1.2 1.4 .4 1.3-.1 1.7-.8 1.4-1.3 1-1.4 .5-1.6-.2-1.4-.6-1-1.1-.6-1.7 .2-1.7 .7-1.3 1.1-.8 1.6-.5M322.8 302l-6 2.6-5.6 1.8-6 1-5.7 .3-5.7-.4-5.3-1.2-5-1.9-4.7-2.6-3.6-2.9-3.3-3.5-2.6-4-2-4.4-1.4-5-1-5.6-.7-6.7-.2-7.7 .2-7.6 .7-6.7 1-5.7 1.5-5 2-4.3 2.6-4 3.2-3.4 3.6-2.9 4.7-2.6 5-1.9 5.3-1.2 5.7-.4 5.7 .3 6 1 6 1.9 5.6 2.5M212.2 232.1l3 .2 2.6 1.2 2 2 1.3 3 .2 1.7-.2 1.6-.4 1.7-.7 1.3-2.2 2.1-2.6 1.1-4 0-4.4-.9-1.3-.8-.9-.8-1-2.3-.2-1.7 .3-2 .8-2 1.1-1.7 1.3-1.3 1.6-1.1 1.7-.8 2-.5M131.2 245.4l1.3-.1 1 .4 .9 .8 .5 1 .1 1-.3 1-.9 1-1 .5-1.3 0-1-.4-.9-.8-.5-1 0-1 .3-1 .8-.9 1-.5M71.5 250.8l.7 .1 .4 .6-.1 .7-.7 .4-.6-.2-.4-.6 .1-.6 .6-.4M157.2 253.2l1-.3 1 .5 .2 .8-.4 1-1.2 .4-.8-.4-.4-1 .6-1M200.8 255.8l1-.2 1.4 .1 2.3 .9 2.7 2.3 1.1 2.3-.2 2-1.3 2.1-2.6 2-2.4 .9-1.6-.1-1.8-.9-1.3-1.7-.8-2.3 0-2.4 .7-2.3 1.2-1.7 1.6-1M75.2 260.2l.3 .3-.3 .3-.3-.3 .3-.3M55.8 260.7l1 0 .8 .8-.1 1-.7 .6-1 0-.6-.6-.1-1 .7-.8M132.5 261.3l.3 0 .5 .5-.5 .7-.6-.3-.1-.4 .4-.5M75.2 262.9l.2 .3-.2 .3-.3-.3 .3-.3M157.2 268.5l1-.3 .9 .6 .3 1-.6 .9-1 .2-1-.6-.2-1.1 .6-.7M71.2 271.4l.6-.2 .6 .3 .2 .7-.4 .8-.7 .1-.6-.6-.1-.7 .4-.4M131.5 272.8l1.3 .1 1 .4 .8 .9 .3 1 0 1-.4 1-1 .9-1 .4-1.3-.1-1-.5-.7-.7-.4-1 .1-1.4 .5-1 .8-.6 1-.4M210.8 275.8l3.7-.1 2.7 .8 2.1 1.7 1.5 2.6 .4 1.7 .1 1.7-.8 3-.8 1.3-1.2 1.3-2.7 1.5-1.6 .3-2 .1-1.7-.4-1.7-.7-1.6-1.1-1.4-1.3-1.2-1.7-.7-1.7-.4-1.6 0-1.7 .3-1.7 .7-1.3 .9-1 1.2-.7 4.2-1M322.8 286l-4.3 3.1-4.3 2.4-4.7 1.8-4.7 1.1-4.6 .5-4.7-.2-4.7-1-4-1.5-3.6-2-3.4-2.7-3-3.3-2.4-3.7-1.9-4-1.4-4.7-.8-5-.3-5 .3-5 .8-5 1.5-4.6 1.9-4 2.4-3.7 2.9-3.2 3.4-2.7 3.6-2 4.4-1.6 4.3-.9 4.7-.2 4.6 .5 4.7 1.1 4.7 1.8 4.3 2.4 4.3 3.1M213.2 237.1l2 0 1.6 .6 1.7 1.5 .8 1.6 .1 2-.6 2-1.3 1.4-1.7 .8-2 .2-2.1-.7-1.7-1.3-.9-1.7-.2-2 .8-2 1.5-1.5 2-.9M132.2 246.5l1.3 .3 .7 .7 .2 .7-.2 1.3-.7 .7-.7 .2-1.5-.2-.6-.7-.3-.7 .1-1 .3-.6 1.4-.7M71.5 251.1l.8 .4 .1 .3-.6 .6-.3 0-.5-.6 .5-.7M157.5 253.4l.7 0 .5 .4 .1 .7-.6 .7-.7 0-.6-.7 .1-.7 .5-.4M204.5 258.7l1-.1 1.3 .4 1 .6 .9 1.2 .2 1-.3 1.4-.8 1-1.3 .8-1.3 .1-1.4-.3-1-.8-.6-1.2-.1-1.3 .4-1.3 1-1 1-.5M75.2 260.2l.2 .3-.2 .3-.3-.3 .3-.3M56.2 261l.6 0 .5 .5 .1 .7-.6 .6-.6 0-.6-.6 0-.7 .6-.5M132.8 261.5l.4 .3-.4 .6-.5-.6 .5-.3M75.2 263l.2 .2-.2 .2-.2-.2 .2-.2M157.2 268.8l.6-.3 .7 .3 .3 .7-.3 .7-.7 .3-.6-.3-.4-.7 .4-.7M71.5 271.4l.8 .4 .1 .4-.6 .5-.3 0-.5-.5 0-.4 .5-.4M131.8 273.4l1-.1 .7 .3 .9 1.2-.2 1.5-.7 .7-.7 .3-1.3-.2-.7-.5-.4-.8 .2-1.3 .5-.7 .7-.4M213.2 276.8l2-.2 2 .7 1.5 1.5 .7 1.7 0 2-.8 2-1.4 1.4-1.7 .7-2 .1-2-.7-1.7-1.5-.8-1.7-.1-2 .7-1.6 1.6-1.6 2-.8"/>
<path class="bo" d="M228.4 261.9L228.3 261.3L228.3 260.6L228.1 260.0L227.9 259.4L227.6 258.8L227.3 258.2L227.0 257.6L226.5 257.1L226.1 256.6L225.6 256.2L225.0 255.8L224.5 255.5L223.9 255.2L223.2 254.9L222.6 254.7L221.9 254.6L221.3 254.5L220.6 254.5L219.9 254.5L219.2 254.6L218.6 254.7L217.9 254.9L217.3 255.2L216.7 255.5L216.1 255.8L215.6 256.2L215.1 256.6L214.6 257.1L214.2 257.6L213.8 258.2L213.5 258.8L213.2 259.4L213.0 260.0L212.9 260.6L212.8 261.3L212.8 261.9L212.8 262.5L212.9 263.2L213.0 263.8L213.2 264.4L213.5 265.0L213.8 265.6L214.2 266.2L214.6 266.7L215.1 267.2L215.6 267.6L216.1 268.0L216.7 268.3L217.3 268.6L217.9 268.9L218.6 269.1L219.2 269.2L219.9 269.3L220.6 269.3L221.3 269.3L221.9 269.2L222.6 269.1L223.2 268.9L223.9 268.6L224.5 268.3L225.0 268.0L225.6 267.6L226.1 267.2L226.5 266.7L227.0 266.2L227.3 265.6L227.6 265.0L227.9 264.4L228.1 263.8L228.3 263.2L228.3 262.5ZM155.9 261.9L155.9 260.6L155.8 259.4L155.6 258.3L155.3 257.3L155.0 256.3L154.6 255.4L154.2 254.5L153.7 253.7L153.1 253.0L152.5 252.3L151.8 251.7L151.0 251.2L150.3 250.7L149.4 250.3L148.5 250.0L147.6 249.8L146.6 249.7L145.5 249.6L144.4 249.7L143.4 249.8L142.5 250.0L141.6 250.3L140.7 250.7L140.0 251.2L139.2 251.7L138.5 252.3L137.9 253.0L137.3 253.7L136.8 254.5L136.4 255.4L136.0 256.3L135.7 257.3L135.4 258.3L135.2 259.4L135.1 260.6L135.1 261.9L135.1 263.2L135.2 264.4L135.4 265.5L135.7 266.5L136.0 267.5L136.4 268.4L136.8 269.3L137.3 270.1L137.9 270.8L138.5 271.5L139.2 272.1L140.0 272.6L140.7 273.1L141.6 273.5L142.5 273.8L143.4 274.0L144.4 274.1L145.5 274.2L146.6 274.1L147.6 274.0L148.5 273.8L149.4 273.5L150.3 273.1L151.0 272.6L151.8 272.1L152.5 271.5L153.1 270.8L153.7 270.1L154.2 269.3L154.6 268.4L155.0 267.5L155.3 266.5L155.6 265.5L155.8 264.4L155.9 263.2ZM72.2 261.9L72.1 261.3L72.1 260.8L72.0 260.3L71.8 259.7L71.6 259.2L71.4 258.7L71.2 258.3L70.9 257.8L70.5 257.4L70.2 257.1L69.8 256.7L69.4 256.4L69.0 256.2L68.5 256.0L68.0 255.8L67.6 255.7L67.1 255.6L66.6 255.6L66.1 255.6L65.6 255.7L65.2 255.8L64.7 256.0L64.2 256.2L63.8 256.4L63.4 256.7L63.0 257.1L62.7 257.4L62.3 257.8L62.0 258.3L61.8 258.7L61.6 259.2L61.4 259.7L61.2 260.3L61.1 260.8L61.1 261.3L61.0 261.9L61.1 262.5L61.1 263.0L61.2 263.5L61.4 264.1L61.6 264.6L61.8 265.1L62.0 265.5L62.3 266.0L62.7 266.4L63.0 266.7L63.4 267.1L63.8 267.4L64.2 267.6L64.7 267.8L65.2 268.0L65.6 268.1L66.1 268.2L66.6 268.2L67.1 268.2L67.6 268.1L68.0 268.0L68.5 267.8L69.0 267.6L69.4 267.4L69.8 267.1L70.2 266.7L70.5 266.4L70.9 266.0L71.2 265.5L71.4 265.1L71.6 264.6L71.8 264.1L72.0 263.5L72.1 263.0L72.1 262.5Z"/>
<path clip-path="url(#kc)" class="c" d="M489.2 55.8l-.7 .2M488.5 90.8l2.3 .3 2.7-.3M493.5 56l-2.3-.3-2 .1M401 65.2l-.4 1.6 0 1.7M400.6 78.2l0 1.6 .3 1.7M428.4 76.5l.8-1.7 .2-1.3-.3-1.7-.8-1.6M557.8 69.5l-1 1.7-.4 2.3 .4 2.1 1 1.7M488.2 54.1l-1.7 .6-1.7 1-3.6 3.1M480.4 59.8l-1.6 2.4-.9 2.3-.3 2.3 .1 3M477.7 77.2l-.1 2.6 .3 2.4 .8 2.3 1.6 2.3M481.4 88.2l2.8 2.5 2.6 1.5 2.7 .7 2.7-.2 5.7-1.9 3.3-1.7 1.3-1.2 1-1.3 .7-1.4 .4-1.7M504.6 63.2l-.6-2-1-1.7-1.2-1.3-2-1.4-4-1.6-3.2-1-2.4-.3-2 .2M406.5 55.8l-2 1-1.7 1.6-1.6 2.7-2 4.4-.6 2.3 0 2 .8 1.7 1.1 .5M400.5 74.8l-.9 .4-.7 1-.3 1.3 0 1.7 1.6 4.3 2.6 4.9 1.9 1.8 2.1 .9 2.7 .1 3.1-.7M428.2 78.9l1.9-3.4 .5-2-.5-2.3-2-3.4M412.5 56.3l-3.3-.7-2.7 .2M558.8 67.1l-2.3 2.8-.7 1.9-.1 1.7 .2 1.7 .6 1.6 2.3 2.9M580.8 77.2l.8-2 .2-2-.4-2-.7-1.7M488.2 52.8l-2.7 1-3 2.2-3.7 3.8-1.9 3-.5 1.7-.2 2 .9 7.3-.9 7 .4 2.4 .9 2 1.4 2 2.6 2.6 2.3 2.1 2 1.3 2 .7 2.4 .3 3-.7 7.9-3 2.4-1.6 1.5-2.1 .6-1.6 .2-2-.2-4.7 .4-5-.4-5 .2-5-.3-2-.7-1.8-1.1-1.5-1.6-1.4-2-1-7.6-2.8-2.3-.4-2 .2M405.5 54.4l-2 1-1.7 1.9-4.6 10.2-.6 3.3 .1 5.7 .4 2.3 4.4 10.1 1.3 1.9 1.4 1 1.9 .7 2.1 .1 8-2.1M427.8 81.4l1.2-2.6 2-3.3 .5-2-.6-2.3-2-3.4-1.1-2.4M416.2 56.3l-7.4-2-1.6-.1-1.7 .2M560.5 64.8l-2.3 2.1-1.9 2.3-.8 1.8-.3 2.5 .3 2.3 .9 2 1.8 2.1 2.3 2.1M578.5 81.6l2.1-1.4 1.7-2 1.1-2.4 .3-2.3-.3-2.7-1.1-2.3-1.8-2-2.1-1.3M487.5 51.8l-2.7 1.3-3 2.5-4.3 4.2-1.9 3-.5 1.7 0 2 1.2 5 .2 2-.2 2-1.1 4-.1 2 .4 2.3 1.1 2 1.7 2 3.5 3.4 2.4 2 2 1.3 1.6 .5 2 .2 2.4-.5 4.3-1.8 6-2.1 2-1.3 1.3-1.8 .6-1.5 .3-1.7-.6-6 .5-5-.5-5.3 .6-6-.4-2-.8-1.7-1.2-1.3-1.4-1-11.4-4.3-2-.3-2 .2M404.5 53.2l-2 1.1-1.3 1.7-2.3 6.5-3.6 6.3-.9 3.7 .1 2.7 .6 2.3 3.9 7 2.2 6.3 1 1.4 1.2 1 1.4 .5 1.7 .2 2.3-.4 5.4-1.9 6.6-.8 2.9-1 1.8-1.3 1.5-2 .8-2 1.3-4.7 2.6-4.3 .5-1.7-.3-2-2.6-4.3-1.7-5.7-.7-1.6-1.9-2.4-2.8-1.5-7.7-1.1-7-2.2-1.7-.1-1.3 .3M564.5 62.3l-2 .6-1.7 .9-3.6 3.5-1.9 2.9-.5 3.3 .6 3.3 1.8 2.7 3.6 3.5 1.7 .9 2 .6M575.8 83.7l4-1.3 1.5-.9 1.5-1.3 1.9-3 .5-1.7 .3-2-.2-2-.5-1.7-.8-1.6-1.2-1.6-1.3-1.2-1.7-1-4-1.3M487.8 50.8l-2.3 .9-2.3 1.7-6.5 6.1-1.4 1.7-.7 1.3-.5 1.7 0 2 1.7 5 .3 2.3-.4 2.3-1.5 4-.2 2 .5 2.4 1.2 2 7.1 6.9 3.4 2.4 1.6 .5 1.7 .2 2.7-.7 5.3-2.5 6-1.7 2-1.3 1.3-1.8 .6-1.7 .1-1.7-1.1-6 .6-5.3-.6-5 1.1-7-.2-1.7-.8-1.7-1-1.3-1.7-1.2-2-.7-4.6-1.3-6-2.7-1.7-.3-1.7 .2M403.5 51.8l-1.7 1-1.3 1.7-.7 1.9-.8 4.4-.6 1.7-1 1.7-3.9 5-.8 1.6-.4 2 .1 2 .8 2.4 4.3 5.6 1.1 2 1.3 5.7 .7 2 .9 1.2 1 .8 1.3 .6 1.7 .2 2.3-.5 4.4-2 2-.7 2.3-.2 5.3 0 3-.9 1.7-1.2 1.4-2 .6-2 .9-5.6 .9-2 2-2.7 .6-1.7-.1-1.3-.4-1-2.1-3-.9-1.7-.9-6-.9-2.3-1.8-2.1-2.5-1.2-2.1-.3-4.7 0-2-.2-2.3-.7-5-2.2-2-.3-1.7 .3M565.5 61.5l-2.3 .4-2 1-2 1.7-2.7 3-1.1 1.6-.6 1.5-.2 2.1 .1 2.4 .5 1.9 1 1.7 2.6 3 2 1.9 1.7 .9 1.7 .5 4.3 .2M572.8 84.9l6-.9 2.2-.8 2.1-1.4 1.6-1.6 1.2-2 .8-2.4 .3-2.3-.2-2.3-.8-2.4-1.1-2-1.7-1.8-1.8-1.2-2.4-1-2.5-.5-3.7-.4M568.5 61.5l-3 0M488.2 49.8l-2 .6-2 1.3-4.4 4.2-4.2 3.6-2 2.7-.6 1.6 0 2 .5 1.7 1.9 3.7 .4 2.3-.4 2-2.1 4.3-.3 2.4 .7 2.6 2.1 2.7 9 8.1 2 1.1 2.4 .4 2.6-.7 5.7-3 5-1 1.9-.6 2-1.3 1.2-1.7 .6-1.6 .1-1.7-.2-1.7-1.4-5 .1-1.6 .6-3.7-.7-5 .2-1.7 1.2-4 .2-2-.2-1.6-.7-1.7-1.1-1.3-1.5-1-2-.8-5.6-1.1-6.4-3.3-2.6-.2M402.5 50.2l-1.7 1-1.3 2-.5 2-.3 5-.7 2.3-1.5 2.1-5.2 4.9-1 1.7-.4 2 .2 2 1.1 2 1.5 1.6 3.8 3.4 1.6 2.3 .7 2.3 .3 5.4 .7 2.1 .9 1.2 1.1 .9 1.4 .4 1.3 .1 2.7-.7 4.6-2.8 2.4-.9 2.6-.2 6 .8 1.7-.2 1.7-.7 1.7-1.4 1.2-2 .4-2.3 0-4.7 .2-1.6 .8-1.8 2.7-3.2 .4-1.7-.5-2-2.5-3-.9-1.7-.2-2 0-5-.8-2.6-1.6-2-2.3-1.2-2.6-.3-5.4 .8-2.3-.1-2.3-.8-5.7-3.3-2-.4-2 .3M563.8 61.1l-2.3 1-2 1.6-4 4.8-1 2.4-.1 3.6 .5 2.7 1.2 2 3.7 4.2 2.4 1.7 2.6 .7 11.4-.5 3-.4 2.3-.7 2-1.1 1.9-1.6 1.2-1.7 1.1-2 .6-2.3 .2-2.3-.3-2.4-.7-2.3-1.2-2-1.4-1.7-3-2-3.4-1-11.7-.9-3 .2M401.5 47.8l-2 1.1-.7 .9-.6 1.5-.3 2.5 .5 6-.7 2.7-.9 1.2-1.3 1.2-5.1 2.9-1.8 1.4-1.5 2-.6 2 .4 2 1.3 2 2 1.6 5.3 3.1 1.3 1.2 1 1.4 .5 1.3 .1 1.7-.5 6.7 .8 2.6 .8 1.1 1.3 .9 1.4 .3 1.3 0 1.7-.4 1.3-.7 5-4 2.7-1.2 2.6 0 5 1.4 2 .3 2-.2 1.7-.6 2-1.9 1.1-2.6 0-2.4-.8-5 .2-2 1-1.6 2.6-2.7 .6-1 .2-1-.1-1-.5-1-2.9-3-.9-1.7-.1-2.3 .8-5.7-.2-1.6-.7-1.7-1-1.3-1-.9-1.3-.6-1.7-.4-2.6 .3-5.4 1.4-1.6 .1-1.4-.2-2.2-1.1-3.8-3.1-2-1.3-2.3-.7-2 .1M487.2 49.1l-1.7 .7-1.3 1-4.7 4.8-5.3 4.2-1.7 2.4-.6 1.6 .1 2 .7 1.7 2.3 3.7 .5 2.3-.6 2.3-2.6 4.4-.4 2.3 .7 2.3 1.8 2.4 5.1 4 5.3 5.3 2 1.1 2 .3 2.7-.6 4-2.6 2-1 6-.8 1.7-.5 2-1.2 1.2-1.7 .6-1.7 .2-2-.5-2-1.7-5 0-1.6 .7-3.7-.8-5 .4-2 1.6-4 .3-2.3-.3-1.7-.7-1.7-1-1.2-1.4-.9-2.3-.8-4.3-.4-2-.6-1.7-.8-3.3-2.2-1.7-.8-1.7-.2-1.6 .2M564.5 60.5l-2.4 .7-2.3 1.6-4.4 5.4-1.1 2.3-.2 4 .5 2.7 .9 1.6 4.3 5.2 2 1.5 2.7 .8 13-.4 2.7-.3 2.3-.7 2-1.1 1.7-1.3 1.6-2 1.1-2 .7-2.3 .3-2.7-.3-2.7-.7-2.3-1.1-2.2-1.4-1.8-2.9-2.1-3.6-1.2-15.4-.7M384.2 24.9l3.4-10.4 3.2-8.3M384.2 79.4l6.3 1.2 3 .8 2.3 1.2 1.5 1.6 .7 1.6 .1 2-.5 2-2.1 6.4-.3 2 .1 1.6 .6 1.7 1.3 1.3 1.6 .6 1.7 0 2.3-.7 2.4-1.4 2-1.9 3.9-4.6 1.4-1.1 1.3-.5 1.7-.3 1.7 .3 5.6 2.5 2.4 .6 2.4-.1 2.2-1.2 1.7-2.2 .5-1.3 .2-1.7-.3-2.6-1.7-5 0-2.4 1-1.6 3.2-2.7 .6-1 .2-1-.1-1-.6-1-3.3-2.9-1-1.8 0-2.3 1.7-5 .3-2.7-.6-2.6-.8-1.4-.9-1-2.1-1.1-2.6-.2-2.4 .6-5.6 2.5-1.7 .3-1.7-.2-1.3-.6-1.2-.9-4.5-5.2-2-1.8-2-1.1-2.3-.7-2 .1-1.5 .7-1.2 1.3-.5 1.7-.1 1.6 .4 2 2.5 8-.1 2-.8 2-1.7 1.6-2 1-3 .8-6.3 1.2M390.9 140.8l-3.2-8.3-3.5-10.6M487.5 48.1l-1.7 .6-1.3 1-4.7 5.1-6.4 4.7-1.3 1.3-.8 1.4-.6 2 .4 2 .9 1.6 2.7 3.4 .6 2.3-.7 2.3-3.3 4.4-.6 2.3 .7 2.3 1.5 2 6.6 4.9 5.3 5.7 2 1.1 2 .3 1.4-.2 1.3-.6 4-3 2-1 2-.4 4.7-.2 2-.5 1.8-1.1 1.3-1.6 .7-2 0-2-.5-2-1.8-3.7-.5-1.7 0-1.6 .8-3.7-.9-5 .5-2 2.1-4.3 .4-2.7-.3-1.7-.6-1.4-1-1.2-1.4-1-2.6-.8-4.4-.2-2-.3-2-.9-4.6-3.4-1.7-.5-2 0M563.8 60.1l-2.1 .7-1.9 1.5-4.7 5.9-.7 1.3-.3 1.3-.1 4.4 .5 2.3 1 1.7 4.7 5.6 2 1.4 2.3 .6 7.3-.4 7.7 .1 2.3-.4 2-.6 2-1.1 1.8-1.6 1.5-2 1.2-2.3 .7-2.7 .2-2.6-.3-2.7-.8-2.7-1.3-2.3-1.6-2-3-2-3.4-1-2.6-.2-6.7 .1-5.7-.4-2 .1M437 140.8l-4.3-7.3-5.9-11.7-2-3.4-1.2-1.6-1.5-1.3-6.6-3.8-3-2.5-1.3-1.9-.9-1.8-.5-2-.2-2 .4-3 1.1-2.7 1.5-1.6 1.9-.8 2.3 .3 2.3 1.5 2 2.3 4.4 6.4 1.3 1.2 1.7 .7 1.3 0 1.4-.4 2.6-1.8 2.3-2.8 1.4-3.3 .5-3.7-.7-3.3-1.7-2.7-4.1-4.2-.8-1.4-.3-1.4 .3-1.3 .8-1.1 4.7-2.6 .9-1 .4-1-.1-1.3-.6-1-1.3-1-3.7-1.8-1-1.2-.4-1.3 .2-1.4 .7-1.3 4.7-5 1.6-3 .4-2-.1-2.3-.5-2.4-.9-2.1-1.7-2.5-2.3-2.1-2.3-1-1.4-.2-1 .3-1.3 .7-1.3 1.4-4 5.9-1.9 2.3-2.1 1.5-2.4 .4-2-.6-1.6-1.6-1.2-2.7-.4-3 .2-2.3 .5-2 .9-1.7 1.3-1.9 3-2.5 6.7-3.9 2.6-2.8 2-3.5 6-11.7 4.1-7M487.2 46.2l-1.7 .7-1.3 1.2-3.4 4.7-2 2.1-2 1.4-6.1 3.2-1.5 1.3-1 1.4-.5 2 .5 2 1.5 1.6 4.1 3 .9 1.4 .3 1.3-.3 1.3-.9 1.2-5 3.8-.8 1.4-.3 1.3 .5 2 1.5 2 1.8 1.3 5 2.5 2 1.3 1.9 1.9 4.1 5.5 2 1.4 2 .4 1.7-.4 1.3-.7 3.8-3.9 1.9-1.2 2.3-.5 5.3 .7 2.4-.2 2.3-1.1 1.7-2 .8-2.7-.3-2.6-1.1-2.4-2.6-3.6-.6-1.7 .1-1.3 1-3.7-1.1-4.7 .2-1.3 .4-1 3.3-4.7 .5-1.6 .2-1.7-.2-1.7-.7-1.6-1-1.4-1.6-1.1-2.7-.7-6 .7-2.3-.3-2-1.2-3-3.2-1.7-1.3-1.6-.6-2 .1M390.8 54.1l2 .2 1.7 .7 1.7 1.5 1 1.6 .5 1.7-.2 1.7-1 1.5-1.3 .9-2.4 .5-2.3-.4-2-1.2-1.5-2-.4-2.3 .7-2 1.5-1.7 2-.7M564.8 59.2l-2.6 .4-2 1.3-5.6 7.3-.8 2-.1 5.3 .3 2 .8 1.3 2.2 2.7 2.8 4 1.7 1.4 2.3 .7 8.4-.6 9 .9 2.3-.3 2-.5 2-1 1.7-1.3 1.9-2.3 1.4-2.7 .9-3 .3-3-.2-3.3-.8-3-1.3-2.7-1.8-2.3-1.4-1.3-1.7-1-3.7-1.2-3.3 0-7.7 .8-7-.6M391.8 82.5l2.4 .1 2 .9 1.2 1.7 .2 2-.8 2.2-1.6 1.9-2 1.1-2.4 .3-1.6-.5-1.6-1.4-.8-1.6-.2-1.7 .5-1.7 1.2-1.6 1.5-1.1 2-.6M500.8 140.8l-8-6.2-6-4.1-5-2.8-11.3-5.4-3.3-2.1-2.7-2.1-3.3-3.5-2.5-4.1-1.5-4.3-.5-4.4 .1-2.3 .5-2.3 .9-2 1-1.6 1.3-1.3 1.3-.9 2-.8 2-.4 3.7-.1 3.7 .3 2.6 .6 2.4 1.3 1.2 1.2 1.1 1.7 2.3 6.1 1.4 2.5 1.6 1.8 2 .8 2-.4 1.7-1.2 1.3-2.1 2.5-5.9 .9-1 1.3-.9 1.7-.3 1.6 .4 6 3.2 1.7 .5 1.3 .1 1.7-.3 1.7-.9 1.3-1.4 1-1.7 .6-2 .2-2-.2-2-.7-2-2-2.7-4.6-3.4-.8-1.2-.3-1 .3-1.4 1.2-2.3 .2-1-.3-1.3-1.3-2.7-.1-1 .3-1 1.2-1.5 3.6-2.5 1.4-1.3 1.2-2 .7-2 .1-2.7-.4-2.3-1.2-2.4-1.4-1.6-2.4-1.1-2.3 0-2.3 .8-5 2.8-1.7 .4-1.7-.1-1.5-.8-1.1-1.4-2.4-5.7-1.3-2.1-2-1.4-2-.1-1.7 .7-1.6 1.8-1.4 2.5-2.2 6-1.1 1.7-1 1.1-1.7 1-2.6 .9-3 .4-3.4 .1-4.3-.6-1.7-.7-1.3-.9-1.3-1.3-.9-1.4-.9-2-.5-2-.2-2.3 .1-2.7 .5-2.6 .7-2.4 2.5-4.6 3.3-3.9 3-2.5 3.4-2.1 11.6-5.5 5-2.9 6-4.1 7.8-6M414.2 45.4l1.3-.2 1.3 .4 1.1 .9 .7 1.7 0 1.3-.6 1.7-1.2 1.1-1.3 .6-1.3 0-1.3-.7-.8-1-.4-1.4 0-1.3 .5-1.3 1-1.2 1-.6M583.5 56.1l-2.7 .5-5.6 1.8-3 .6-2.7-.1-4.7-.9-2 0-2 .7-1.6 1.6-2.2 4.2-2.8 3.3-.7 1.3-.3 1.4 0 5.7 .2 1.3 .5 1 2.8 3.3 2.1 4.1 1.7 2 1.7 .8 1.6 .2 6-1 3 0 2.4 .5 6.3 1.9 3.7 .4 2.3-.4 2.3-1 2.1-1.5 1.9-2.1 1.2-1.9 1.1-2.3 1.2-5 .1-5.3-.4-2.7-.7-2.7-1-2.3-1.1-2-1.4-1.7-1.6-1.5-1.7-1-2-.8-2-.4-2 0M392.5 57.5l1-.3 1.3 .2 1 .5 .9 .9 .4 1 0 1.4-.5 1-.8 .7-1 .4-1.3 0-1.2-.5-1-1-.5-1.3 .1-1.3 .6-1 1-.7M433.2 63.5l1-.2 1.3 .1 1 .6 .8 .8 .3 1-.2 1-1.2 1.4-1.4 .5-1.6 0-1.4-.5-.6-.7-.4-1 .3-1.3 .7-1 1.4-.7M470.5 70.5l2.3 .4 1 .7 .6 .9 .2 1-.3 1-.8 1-1 .6-1.7 .2-1.6-.3-1.3-.8-.6-1-.1-1.4 .5-1 1.1-.9 1.7-.4M432.8 78.1l2.4 .1 1.3 .6 .6 .7 .4 1.7-.3 1-.7 .6-1.3 .6-1.4 .1-1.3-.5-1-.8-.6-1 0-1.4 .6-.9 1.3-.8M393.8 83.5l1.4 .1 1 .6 .7 1 .3 1-.3 1.3-.7 1.1-1 .7-1.4 .3-1-.1-1.1-.7-.7-1-.2-1.3 .2-1 .7-1 .9-.7 1.2-.3M413.8 94l1.4-.2 1.3 .4 1.1 1 .8 1.3 .2 1.7-.2 1.3-.9 1.2-1 .6-1.3 .3-1.4-.4-1-.7-.8-1.3-.3-1.7 .2-1.3 .8-1.4 1.1-.8M552.8 140.8l-8-4.7-6.6-4.9-5.7-5.2-4.4-5.2-3-5-1.7-5-.5-4.3 .1-8.3-.2-4-.6-3.7-1.2-3.3-1.7-2.7-1.8-1.6-2.3-1.1-5.4-1.2-1.3-1.1-.5-1.3 .3-1.4 1.7-2.3 .3-1-.4-1.3-1.8-2.7-.1-1 .3-1 .9-.9 1-.5 5.3-1.2 2.2-1.1 2.1-2.2 1.7-3.1 .8-3 .6-3.7 0-11 .3-4 1.3-4.3 2.1-4.3 4.3-5.7 5.9-5.8 7.3-5.5 8.3-5M472.5 39.1l1.7-.1 1.3 .3 2.3 1.2 1.7 2.1 1 3.2-.1 3.7-.4 1.7-.6 1.3-1.9 1.8-2.7 1-3-.2-3-1.3-1.2-1-1-1.3-1-2.7-.1-1.6 .2-1.7 1.5-3 2.3-2.2 1.3-.7 1.7-.5M498.8 41.5l2-.2 1.7 .7 1.2 1.5 .3 2-.5 2.3-1.1 2-1.9 1.6-1.7 .4-1.3-.3-1.3-1-.7-1.3-.2-2 .3-2 .8-1.7 1.1-1.3 1.3-.7M414.2 47.4l1-.2 1 .3 .7 .7 .5 1 0 1.3-.4 1-.8 .8-1 .3-1-.1-.8-.3-.6-.7-.4-1 0-1 .4-1 1.4-1.1M585.5 52.5l-3 1-6.5 3.7-2.8 1-3.4 .2-5.3-1.5-2-.3-2 .6-1.7 1.6-2.2 5.7-3 3.3-.6 1-.2 1.4 .2 3.3-.2 3.3 .7 2 2.3 2.4 .9 1.3 1.8 4.9 .7 1.1 1 .9 1.3 .6 1.7 .2 6.3-1.7 3-.1 3.2 1.1 7.5 4.1 2.3 .7 2.3 .2 2.7-.4 2.3-1.1 2.2-1.8 1.8-2.3 1.4-2.4 1.2-3 .8-3 .6-3.3 .2-3.4-.2-3.6-.5-3.4-.7-3-1.1-2.9-1.3-2.5-1.7-2.2-1.7-1.6-2-1.3-2-.8-2-.2-2.3 .2M393.5 58.4l1.7 0 1 .6 .5 .8 0 1.7-1.2 1.2-1.7 0-.9-.5-.5-.7-.2-1.7 .6-.9 .7-.5M432.8 64.4l1 0 .7 .3 .8 1.1 0 1-.4 .7-1.4 .8-1-.1-.7-.3-.7-1.1 0-.6 .4-1 1.3-.8M471.2 71.4l1.6 0 1.3 1.1 .2 1.3-.5 .9-.6 .5-1 .3-1-.1-1-.6-.5-.6-.1-1 .2-.7 .6-.7 .8-.4M432.2 78.7l1.6-.1 1.3 .9 .3 1.3-.9 1.3-.7 .3-1 0-1.3-.9-.4-1 .1-.7 1-1.1M393.8 84.1l1.7 .1 .7 .4 .6 .9-.2 1.7-.8 .9-.6 .3-1.7 0-.7-.6-.6-1 .3-1.6 .6-.7 .7-.4M473.5 91.5l3 .5 2.2 1.5 1.4 2.3 .5 3-.4 3.6-1.4 2.9-2 1.7-1.3 .5-1.7 .3-3-.6-2.6-1.8-1.9-2.6-.6-1.6-.2-1.7 .5-3 .6-1.3 1.1-1.4 2.6-1.6 3.2-.7M414.8 94.2l1 .2 .8 .4 .7 1 .2 1-.1 1-.6 .9-.6 .6-1 .3-1-.2-1-.6-.6-1-.2-1 .1-1 .7-.9 .6-.5 1-.2M497.8 95.2l1.7-.1 1.7 .7 1.3 1.4 1.1 2 .4 2-.3 2-.9 1.3-1.3 .9-1.7 .2-1.6-.6-1.4-1.2-1.1-2-.4-2.3 .3-2 .7-1.3 1.5-1M609.7 140.8l-22.9-10.5-5.6-1.9-11.7-2.8-5.3-1.6-6-2.4-5.7-3.1-4.7-3.2-4.3-3.5-3.7-3.6-3.1-3.7-2.2-3.2-2-3.5-6.7-14.5-1.7-2.8-1.9-2.1-1.7-1.1-2-.2-1.3 .5-3.9 2.2-2.1 .5-2-.5-.7-.7-.3-.9 .1-1 .5-.7 2.4-2 .5-1-.3-1-2.2-1.8-.8-.9-.2-1.3 .4-1 1.6-.9 2 0 1.6 .6 3.7 2.1 1.7 .5 1.6-.4 1.4-1 1.7-1.9 1.9-3 6.4-13.8 3.6-6.3 2.7-3.4 3-3.1 3.7-3.3 3.6-2.9 6-3.8 6.4-3 6.6-2.2 12.4-3 5.6-1.8 5-2.1 12-5.8 6.4-2.8M473.5 43.5l2 0 2 1 1.3 1.6 .8 2.1 .1 2-.6 2-1.3 1.4-2 1-2.3-.1-2-.8-1.6-1.5-.9-2 0-2.4 .9-2 1.6-1.5 2-.8M498.2 45l1.3-.1 1.3 .5 .7 .8 .5 1.3-.1 1.3-.7 1.4-1 .9-1 .4-1 0-1-.5-.8-.8-.4-1 0-1.4 .5-1.3 .7-.9 1-.6M588.5 46.1l-2 .7-2 1.2-2 1.8-5.6 5.7-1.8 1.3-1.9 .9-2 .3-2-.2-5-2.1-2-.6-1.7 .1-1.3 .7-.8 .9-.6 1.4-.9 4.6-.6 1.7-.8 1.1-2.2 1.9-.8 1.3-.1 1.4 .4 3.3-.4 3.7 .5 1.6 2.6 2.4 .9 1.3 .6 1.7 .8 4.6 .7 1.3 1 1 1.3 .5 1.7 0 6.7-2.6 2-.2 2 .3 1.7 .7 1.9 1.4 5.7 5.8 2.3 2 2.7 1.4 2.7 .4 3-.7 2.6-1.8 2.5-2.8 2.1-3.7 1.7-4.3 1.1-4.7 .7-5.3 .1-5.7-.4-5.6-1-5-1.4-4.5-2-4.1-2.4-3.1-2.6-2.2-2.7-1.2-3 0M414.8 48.2l1.4 .4 .4 .6 .3 1-.2 1-.5 .6-1.4 .6-1.4-.6-.4-.6-.2-1 .7-1.5 1.3-.5M394.5 58.8l1.3 .4 .8 1.3-.4 1.3-1 .7-1.5-.3-.6-.7-.2-.7 .4-1.3 1.2-.7M432.2 65.1l1-.2 1 .6 .4 1-.2 .7-.6 .5-1.3 .3-1.1-.8-.1-1 .9-1.1M471.8 71.8l1.4 .1 .9 .9-.1 1.4-1.2 .8-1.3-.1-.9-1.1 .2-1.3 1-.7M432.5 78.8l1 .1 1 .9-.2 1.4-.8 .6-1.3-.1-.9-.9-.1-.6 .3-.7 1-.7M394.2 84.4l1-.1 .6 .3 .8 1.2-.3 1.4-1.1 .7-1.4-.1-.8-1 0-1.3 .4-.7 .8-.4M474.2 92.2l2 .1 2 1.2 1.1 1.7 .4 2-.3 2.3-1.2 2.1-1.7 1.3-2 .5-2-.4-1.9-1.2-1.3-2-.4-2 .4-2 .9-1.6 1.7-1.4 2.3-.6M414.5 94.4l.7 0 .9 .4 .8 1.4-.1 1-.3 .6-1.3 .8-.7 0-.9-.4-.8-1.4 .1-1 .3-.6 1.3-.8M497.8 95.4l1.4-.1 1 .4 .9 .8 .6 1 .3 1.3-.2 1.4-.6 .9-1 .7-1 .2-1.4-.4-1-.8-.6-1.1-.3-1.5 .4-1.4 .5-.7 1-.7M668.8 127l-5.3 2-5.3 1.5-5.4 1-5.3 .5-5.3 0-5.4-.5-5-.9-5-1.5-5-2.1-4.3-2.5-3.7-2.7-3.3-3.2-2.5-3.4-1.6-3.4-.9-3.3-.3-4 .3-4.7 1.7-15.3 .4-11-.3-10.7-1.9-16.6-.2-5.4 .4-3 .8-3 1.3-2.6 1.7-2.7 2.1-2.4 2.7-2.4 3-2.2 3.3-2 3.7-1.8 3.6-1.3 4-1.2 4-.8 8.4-.6 8.3 .5 8.3 1.7 8 2.8M567.5 38.2l3-.2 2.7 .6 2.3 1.2 1.7 1.7 1 2 .5 2.7-.1 3-.9 3-1.3 2.3-1.6 1.7-2 1.1-2 .3-1.6-.3-1.7-.8-5.3-4.1-2.4-1.4-2-.5-1 .3-.6 1.1-.4 2.3 .8 7-.1 2-1 2-2.6 2-1 1.3-.1 1.3 .8 3.7-.8 4 .6 1.7 3 2.3 1 1.7 .2 2.3-.7 5-.1 2.3 .5 2.4 .8 1 1.4 .1 2-.8 2.3-1.6 4.4-3.4 1.6-.9 1.4-.3 2 0 1.6 .7 1.6 1.2 1.5 2 1.1 2.3 .7 3 0 2.7-.7 2.6-1.2 2-2 1.7-2.3 1-2.3 .3-2-.1-2-.4-2-.7-2-1.1-2.8-2.3-3.2-4.3-1-.9-5.4-.8-2.6-.8-3-1.5-2.8-2.1-3.6-4-2.9-5-2.3-5.6-.8-5 0-2.4 .4-2.6 1.8-5.4 3-5.6 3.5-4.4 3-2.5 3-1.6 3-1 5.7-.9 1-.9 2.7-3.7 2.3-2.2 3-1.8 3.3-1M473.8 46.1l1.7-.2 1.3 .4 1.4 1.2 .7 1.3 .2 1.7-.4 1.3-.9 1.3-1.3 .8-1.7 .2-1.6-.6-1.3-1-.7-1.3-.2-1.7 .4-1.3 1.1-1.4 1.3-.7M498.5 46.5l1 .1 .7 .3 .6 .9 .2 1-.7 1.7-.8 .6-1 .2-1-.3-.5-.5-.4-.7-.2-1 .3-1 .5-.6 1.3-.7M414.2 49l1.3 0 .8 .8 0 1.4-.8 .8-1.3 .1-.9-.9 0-1.4 .9-.8M394.2 59.4l.6-.1 .7 .1 .8 .8 .1 1-.9 .9-1 .1-.9-.7-.2-1 .8-1.1M432.2 65.4l1-.1 .8 .9-.2 1-.6 .5-1 0-.6-.5-.1-1 .7-.8M509.8 67.1l1.4 .1 1.3 1 .3 1.3-.6 1.1-.7 .2-1 0-1-.3-.8-.7-.4-1 .2-.6 .7-.9 .6-.2M472.2 72.1l1 .1 .8 1-.3 1-.9 .5-1-.1-.6-.8 0-1 1-.7M509.8 76.1l1.7-.1 .7 .2 .5 .6 .1 1-.3 .7-.5 .7-.8 .4-1.7 0-.7-.4-.4-.7 .2-1.3 1.2-1.1M432.2 79.1l1 0 .7 .7 0 1-.7 .7-1-.1-.6-.6-.1-1 .7-.7M394.2 84.8l1.3-.1 .8 .8 0 1-.8 .9-1 .1-.9-.7-.2-1 .8-1M474.5 92.8l1.7 0 1.3 .6 1.2 1.4 .4 1.4-.2 1.6-.7 1.5-1.4 1.2-1.3 .4-1.7-.2-1.3-.7-1-1.2-.4-1.3 .1-1.7 .6-1.3 1-1 1.7-.7M414.2 94.7l1.3 .1 .9 1 0 1-.9 1-1.3 0-.9-1 0-1.3 .9-.8M497.8 95.7l1-.1 .7 .1 1 .8 .3 .7 .2 1-.3 1-1.2 1-1 .1-.7-.2-.6-.4-.6-.9-.2-1 .2-1 1.2-1.1M668.8 112.4l-5.6 2.5-5.7 1.8-6 1.2-5.7 .3-5.6-.4-5.4-1.2-5-1.9-4.3-2.5-3.3-2.7-3.1-3.3-2.3-3.7-1.9-4.3-1.2-4.7-.9-5.3-.5-6.7-.2-8 .2-8 .5-6.7 .9-5.6 1.3-4.7 1.8-4.3 2.4-3.6 3-3.3 3.3-2.7 4.3-2.5 5-1.9 5.4-1.2 5.6-.4 5.7 .3 6 1.2 5.7 1.8 5.6 2.5M569.2 46.1l2-.1 2 .8 1.5 1.4 .9 2 .1 2.3-.6 2-1.3 1.5-1.6 .9-2 .1-1.9-.8-1.6-1.7-1-2-.3-2 .6-2 1.2-1.4 2-1M498.5 47.5l.7 .1 .6 .4 .5 1.2-.6 1.3-1.2 .5-1.1-.5-.5-1.3 .6-1.3 1-.4M474.5 47.7l1.3-.1 1 .3 .8 .6 .7 1 .2 1.3-.3 1-.7 1-1 .6-1 .2-1.3-.4-.9-.7-.6-1-.1-1.3 .3-1 .6-.8 1-.7M414.5 49.4l1 .2 .5 .9-.3 1-.9 .5-1-.5-.3-.7 .3-1 .7-.4M548.8 57.5l2.4-.2 2.3 .9 1.7 1.7 .6 1.3 .3 1.3-.2 1.3-.5 1-.9 .8-3 1.6-.7 1.3 .2 1.3 1.1 2.4 .2 1.3-.3 1.3-1.1 2.7 0 1.3 .8 1 2.5 1.2 1.1 .8 .7 1.4 0 1.6-.6 1.7-1.2 1.6-1.7 1.1-1.7 .4-1.6-.2-1.7-.7-1.7-1.2-1.5-1.7-1.9-3-1.7-3.3-.9-2.7-.4-2.6 .1-2.4 .4-2.3 .9-2.5 1.5-2.8 1.7-2.7 1.5-1.9 1.7-1.3 1.6-.8M394.5 59.8l.7-.2 .8 .6 .1 1-.6 .6-1 0-.6-.6 0-.7 .6-.7M432.2 65.7l.6-.1 .7 .6 0 .6-.3 .5-.7 .2-.7-.3-.2-.7 .6-.8M509.8 67.4l1 .3 .6 .8 0 1-.9 .7-1-.1-.9-.9 0-.7 .2-.6 1-.5M472.2 72.5l.6-.2 .8 .5 .1 1-.5 .6-1-.1-.5-.5-.1-.6 .6-.7M509.5 76.7l1.3 .1 .6 .7 0 1-.9 .8-1 0-.9-.8 0-1 .9-.8M432.2 79.3l.6 0 .7 .5 0 .7-.3 .5-1 .1-.6-.6 .1-.7 .5-.5M394.5 85l1-.1 .6 .6 0 1-.6 .6-1-.1-.5-.5 0-1 .5-.5M570.2 89.8l2 .1 1.7 .9 1.4 2 .5 2-.3 2.2-1 1.9-1.7 1.3-2.3 .6-2-.3-1.6-1-1.1-1.5-.4-1.8 .3-2 1.1-2 1.7-1.7 1.7-.7M474.5 93.5l1.3-.3 1 .3 .9 .7 .6 1 .2 1.3-.3 1-.7 .9-1 .7-1.3 .1-1-.3-1-.7-.5-1-.1-1.4 .3-1 .6-.7 1-.6M414.2 95l1-.1 .8 .9-.2 1-.6 .6-1-.1-.7-.8 .1-1 .6-.5M498.5 95.8l1 .4 .6 .6 .2 .7-.5 1.3-1 .5-1.3-.4-.6-1.1 .3-1.3 .6-.5 .7-.2M668.8 96.3l-4 3-4.3 2.5-4.3 1.8-4.7 1.2-4.7 .6-4.3-.1-4.3-.8-4.4-1.5-3.6-2-3.4-2.6-2.6-2.9-2.4-3.6-1.8-4.1-1.4-4.3-.8-5-.3-5 .3-5 .8-5 1.4-4.7 1.8-3.9 2.4-3.6 2.6-2.9 3.4-2.6 3.6-2 4-1.4 4.4-.8 4.6-.2 4.7 .6 4.7 1.2 4.3 1.8 4.3 2.5 4 3M497.8 48.4l1-.1 .7 .5 .2 1-.9 .9-1-.2-.5-.7 0-.6 .5-.8M475.8 48.8l1.4 .5 .6 .9 .1 .6-.2 1-.5 .7-1.4 .5-1.3-.5-.6-.7-.2-1 .3-1 .5-.5 1.3-.5M570.2 49.8l1.3 0 1 .4 1 .9 .5 1.1 .1 1.3-.3 1.3-.9 1-1.1 .6-1.3 .1-1.3-.6-.8-.7-.7-1.4 0-1.3 .4-1.3 .7-.8 1.4-.6M414.2 50l.6-.1 .7 .4 .2 .5-.5 .8-.7 .1-.6-.5 0-.7 .3-.5M394.8 60l.7 .1 .5 .7-.4 .7-.4 .2-.7-.3-.3-.6 .6-.8M552.2 60.4l1 0 1 .4 1.2 1.4 .2 1-.2 1-1.2 1.1-1.4 .3-1.3-.2-1-.4-.7-.8-.1-1 .4-1.4 1-1 1.1-.4M432.2 66l.8 .2 .2 .6-.4 .4-.6 0-.4-.4 .4-.8M509.8 67.8l.7 .4 .3 .6-.4 .7-.9 .2-.7-.5 0-.7 .4-.5 .6-.2M547.5 69.7l1.3 .1 1.4 .7 1.3 1.4 .5 1.3-.3 1.3-.9 1.2-1.3 1-1.3 .4-1-.1-1-.7-.8-1.1-.3-1.4 0-1.3 .6-1.3 .8-1 1-.5M472.5 72.7l.7 0 .3 .5 .1 .3-.4 .6-.7 0-.5-.6 .5-.8M509.5 77.1l.7 .1 .6 .6-.2 .7-.8 .5-.6-.2-.5-.6 .2-.7 .6-.4M432.2 79.6l.6 0 .3 .2 0 .7-.3 .3-.6 0-.3-.3 0-.7 .3-.2M551.2 81.5l2.3-.2 1 .3 .6 .6 .5 1 0 .6-.3 1-.8 1-1 .5-1.3 .1-1-.4-1-.8-.4-1-.1-1.4 .5-.7 1-.6M395.2 85.1l.8 .7-.3 .7-.5 .3-.7-.3-.2-.7 .2-.4 .7-.3M569.8 90.5l1.4-.2 1.3 .4 1 .8 .5 1 .2 1.3-.4 1.4-.7 1-1.3 .7-1.3 .2-1.3-.5-.9-.8-.5-1-.2-1.3 .4-1.3 .8-1 1-.7M475.5 93.8l1.5 .4 .6 .6 .3 .7-.4 1.6-1.3 .9-1-.1-.7-.4-.8-1.3 .2-1 .4-.7 1.2-.7M414.5 95.1l.7 .1 .4 .6-.1 .7-.7 .5-.6-.2-.4-.6 .2-.7 .5-.4M498.2 96.1l1 .2 .5 .9-.2 .8-.7 .5-1-.1-.5-.9 .1-.7 .8-.7"/>
<path class="bo" d="M581.9 73.4L581.9 72.0L581.7 70.8L581.5 69.7L581.2 68.6L580.8 67.6L580.4 66.7L579.8 65.8L579.2 65.0L578.5 64.2L577.7 63.5L576.9 62.9L576.0 62.3L575.0 61.9L574.0 61.5L573.0 61.2L571.8 61.0L570.6 60.8L569.3 60.8L567.9 60.8L566.7 61.0L565.6 61.2L564.5 61.5L563.5 61.9L562.6 62.3L561.7 62.9L560.8 63.5L560.1 64.2L559.4 65.0L558.7 65.8L558.2 66.7L557.7 67.6L557.3 68.6L557.0 69.7L556.8 70.8L556.7 72.0L556.7 73.4L556.7 74.8L556.8 76.0L557.0 77.1L557.3 78.2L557.7 79.2L558.2 80.1L558.7 81.0L559.4 81.8L560.1 82.6L560.8 83.3L561.7 83.9L562.6 84.5L563.5 84.9L564.5 85.3L565.6 85.6L566.7 85.8L567.9 86.0L569.3 86.0L570.6 86.0L571.8 85.8L573.0 85.6L574.0 85.3L575.0 84.9L576.0 84.5L576.9 83.9L577.7 83.3L578.5 82.6L579.2 81.8L579.8 81.0L580.4 80.1L580.8 79.2L581.2 78.2L581.5 77.1L581.7 76.0L581.9 74.8ZM506.5 73.4L506.5 69.8L506.3 67.6L506.2 65.9L505.9 64.3L505.6 62.9L505.1 61.7L504.7 60.6L504.1 59.6L503.4 58.7L502.7 57.9L501.9 57.1L501.0 56.5L500.0 56.0L498.9 55.6L497.7 55.3L496.3 55.0L494.6 54.9L491.7 54.8L488.7 54.9L487.0 55.0L485.6 55.3L484.4 55.6L483.3 56.0L482.3 56.5L481.4 57.1L480.6 57.9L479.9 58.7L479.2 59.6L478.6 60.6L478.2 61.7L477.7 62.9L477.4 64.3L477.1 65.9L477.0 67.6L476.8 69.8L476.8 73.4L476.8 77.0L477.0 79.2L477.1 80.9L477.4 82.5L477.7 83.9L478.2 85.1L478.6 86.2L479.2 87.2L479.9 88.1L480.6 88.9L481.4 89.7L482.3 90.3L483.3 90.8L484.4 91.2L485.6 91.5L487.0 91.8L488.7 91.9L491.6 92.0L494.6 91.9L496.3 91.8L497.7 91.5L498.9 91.2L500.0 90.8L501.0 90.3L501.9 89.7L502.7 88.9L503.4 88.1L504.1 87.2L504.7 86.2L505.1 85.1L505.6 83.9L505.9 82.5L506.2 80.9L506.3 79.2L506.5 77.0ZM429.1 73.4L429.1 69.4L429.0 67.3L428.8 65.6L428.5 64.1L428.2 62.8L427.8 61.6L427.4 60.5L426.8 59.6L426.2 58.8L425.6 58.0L424.8 57.3L423.9 56.8L423.0 56.3L421.9 55.9L420.7 55.6L419.3 55.4L417.6 55.3L414.4 55.2L411.2 55.3L409.5 55.4L408.1 55.6L406.9 55.9L405.8 56.3L404.9 56.8L404.0 57.3L403.2 58.0L402.6 58.8L402.0 59.6L401.4 60.5L401.0 61.6L400.6 62.8L400.3 64.1L400.0 65.6L399.8 67.3L399.7 69.4L399.7 73.4L399.7 77.4L399.8 79.5L400.0 81.2L400.3 82.7L400.6 84.0L401.0 85.2L401.4 86.3L402.0 87.2L402.6 88.0L403.2 88.8L404.0 89.5L404.9 90.0L405.8 90.5L406.9 90.9L408.1 91.2L409.5 91.4L411.2 91.5L414.4 91.6L417.6 91.5L419.3 91.4L420.7 91.2L421.9 90.9L423.0 90.5L423.9 90.0L424.8 89.5L425.6 88.8L426.2 88.0L426.8 87.2L427.4 86.3L427.8 85.2L428.2 84.0L428.5 82.7L428.8 81.2L429.0 79.5L429.1 77.4Z"/>
<path clip-path="url(#kd)" class="c" d="M394.1 261.2l-.1 1.3M421.5 286.2l3.6-.4 2.7-.9 2.4-1.5 2.3-2.4 2-3.1 .9-2.7 0-2.7-.8-2.7M434.7 253.8l.7-2.6 0-2.7-.9-2.7-2-3-2.3-2.4-2.5-1.6-2.9-.9-3.3-.3M472.5 256.8l-1 2.7-.3 2.3 .3 2.4 1 2.8M500.5 283.2l1.7-.8 1.6-1.1 2.7-3.2 2.7-5.3 .5-2.3 .1-2.3M509.8 255.6l0-2.1-.6-2.3-2.7-5.5-2.7-3.2-1.4-1-1.9-.9M560.5 251.3l-2.7 1.5-2 2.3-1.1 2.7-.4 4 .4 4 1.1 2.9 1.8 2.1 2.9 1.7M411.5 235.8l-2.2 .7-2 1.3M394.8 252.7l-1.3 1.8-.7 2-.2 8.3 .1 2 .4 1.7 .7 1.3 1.1 1.4M407.5 286.2l2.3 1.4 2.7 .5 5.7-.3 7 .4 2.3-.5 2-1 2-1.7 2-2.4 2.3-3.6 1.3-2.8 .3-2-.2-2-.7-1.9-1.5-2.5M434.9 256.2l1.6-2.7 .7-1.7 .2-1.6-.2-2-.7-2.1-1.7-2.9-2.3-3.3-2-2.1-2.7-1.6-2.6-.6-7 .4-6.7-.2M490.8 237.8l-3 .9M473.1 253.5l-2.6 5-.6 1.7-.2 1.6 .2 1.7 .5 1.7 2.6 5M487.8 285.1l3.4 .9 4.4-.2 6.2-1.3 1.7-.7 1.7-1.3 2.3-3.2 2.3-4.6 1-2.5 .3-3-.9-5M510.2 259.5l.9-5-.2-2.7-.7-2-2.4-4.7-2.1-3.3-2.2-1.8-3-1.2-6-1-3.7 0M564.2 249.4l-2.7 .7-1.7 .7-2.1 1.4-1.4 1.3-1.9 3.7-.6 4.6 .5 4.7 1.9 3.7 1.4 1.3 1.9 1.3 2.3 1 2.4 .6M582 268.8l1.5-1.6 .9-1.7 .6-1.7 .2-2-.2-2-.6-1.6-1-1.7-1.5-1.7M423.5 234.1l-5.3 1-5.7-.5-2 .1-2.3 1.2-2.7 2.6M395.5 250.8l-2 1.4-1.1 1.3-.7 1.7-.2 1.6 .3 4.7-.3 5 .2 2 1.1 2.3 2.4 2M405.5 285.3l3 2.8 1.3 .8 1.4 .3 7-.5 5.6 1 2 .1 2-.3 2-.9 1.7-1.4 1.7-2.1 4.3-6.9 1.1-2.7 .2-2-.4-2-.9-1.7-2.3-3M435.1 257.2l2.7-3.7 .9-2 0-2.7-.9-2.6-4.6-7.5-2.4-2.7-1.6-1.2-1.7-.6-2-.2-2 .1M490.2 236.8l-2 .7-2.8 1.7M473.5 251.9l-1.3 1.7-2.6 4.9-.7 1.7-.2 1.6 .2 1.7 .6 1.7 2.7 5 1.3 1.7M485.5 284.7l3.3 1.9 3 .6 9.4-1.3 3-1.1 1.7-1.3 1.6-2.1 4-8.2 .6-2.4-.2-2-1.1-3.6-.2-1.7 .1-4.3 1.2-4.4 .1-2.3-.7-2.3-4.1-8.3-2.2-2.4-2.8-1.3-9-1.5-3 .1M567.2 248.2l-3.4 .6-3.3 1.1-2.9 1.9-1.8 1.8-1.6 3.1-.4 1.2-.3 3.9 .3 4.1 .7 1.9 1.7 2.9 1.6 1.5 2.6 1.6 2.9 1 4.5 .9 2.7-.1 2.3-.7M579.5 271.9l3.3-1.9 2.2-2.2 1.5-2.7 .6-3.3-.5-3-1.4-2.6-2.4-2.4-3.3-1.9M572.8 248.9l-2.6-.7-3 0M424.2 232.8l-4 1.3-2 .4-2-.1-4.4-.8-2.3 .3-1.7 1.2-3.3 3.7-4.5 2.7-.8 1.1-.5 1.6M395.5 250.1l-3.4 1.7-.9 1-.6 1.4-.1 2.3 .7 5.7-.8 6 .4 2 .8 1.3 1.3 1 2.6 1.2M398.7 279.8l.5 1.4 1 1.3 4.3 2.5 3.3 3.7 2 1.3 2.4 .2 5.6-.9 2 .3 5.4 1.6 2 .1 1.6-.4 2-1.2 2-2.2 2.8-5 3.3-5 1-2.3 .1-2-.5-2-1.2-1.7-2.5-2.4-.7-1.3M435.2 257.8l1-1.4 2.5-2.6 1-1.6 .3-2.4-.6-2.6-3.8-6-2.4-4.3-2-2.5-1.7-1.2-1.7-.5-1.6-.2-2 .3M491.2 235.8l-1.7 .3-1.3 .5-4.4 3-5 2.4-1.5 1.5-.8 2M473.6 251.2l-1.7 2-3 5.3-.8 1.7-.2 1.6 .2 1.7 .7 1.7 3 5.4 1.7 1.9M476.5 278.2l.7 1.8 1.3 1.5 5 2.5 4 2.9 1.7 .7 3 .3 5-.8 4.6-.5 3-.9 1.4-1 1-1.1 1-1.7 1.9-4.7 2.4-4.7 .3-2.7-1.8-5-.1-5 .3-1.6 1.4-3.4 .2-2.3-.6-2-2.2-4-2.2-5.3-1.9-2.4-2.4-1.2-12.3-1.8M567.5 247.5l-7 2-1.7 1-2.6 2.3-1 1.4-1.4 3-.6 5 .6 4.6 1.7 3.4 1.5 1.6 2.7 2 2.1 1 5 1.4 3 .3 1.7-.3 2-.7 8.7-4 2.7-1.7 1.6-1.6 1.3-2.3 .7-2.4 .1-2.3-.4-2.4-1.1-2.3-1.3-1.7-2-1.6-11.6-5.4-2.4-.5-2.3 .2M426.2 231.1l-2 .6-4 1.9-1.7 .4-2.3-.1-4.7-1.2-1.3 0-1.4 .4-1.3 1.2-1.9 2.9-1.1 1.2-1.3 .8-3.2 1.3-1.2 .9-.7 1.4 0 2.4M395.8 249.5l-4.3 1.3-1.3 1-.7 1.4-.2 2.3 1.3 4.7 .2 2-1.5 7 .4 2 1.1 1.4 1.7 .8 3.3 .9M398.1 278.8l.1 2.3 .7 1.4 1.4 1 2.9 1.1 1.3 .8 1.2 1.4 1.8 2.7 1.7 1.3 2.3 .3 4.3-1.2 2.4-.1 2 .4 5.3 2.3 2 .2 1.7-.3 2-1.1 1.6-1.9 3.3-6.6 3.8-5.3 1.2-2.7 .1-2-.7-2-1.4-1.6-2.9-2.2-1-1.8M435.2 258.6l1-1.7 3-2.4 1.4-1.7 .6-2.3-.4-2.3-1-2-3.6-5-2.7-5.7-1.3-2-1.4-1.2-1.3-.8-1.7-.4-1.6 0M490.2 235.1l-1.4 .4-1.3 .7-4.3 3.3-4.2 1.7-1.2 .7-1.3 1.6-.6 2.7M473.8 250.6l-1.3 1-1 1.4-1.5 2.8-2.3 3.7-.6 2.3 .5 2.4 2.3 3.6 1.6 3 1 1.4 1.3 1M475.9 277.5l.5 2.7 1.3 1.6 1.5 .9 4.3 1.7 3.7 3 1.6 .9 2.7 .4 5.7-1.2 5.6-.3 2.7-.8 2.1-1.9 1.1-2 1.7-5 2.8-5 .3-1.3-.1-1.4-.3-1.3-1.9-3.7-.1-5 .4-1.6 1.7-3.4 .3-2.3-.7-2-2.5-4.3-1.5-4.5-.8-1.9-1.8-1.9-2.4-1.1-6.3-.5-5.3-1.1-2-.1M568.2 246.8l-7.7 2.4-1.7 1-2.7 2.3-.9 1.3-1.6 3.4-.6 5 .6 4.6 1.9 3.7 .8 1 2.9 2.3 1.8 1 6.2 2 2.6 .3 3-.7 5-2.5 5.6-2.1 2.8-1.6 1.6-1.7 1.4-2.3 .7-2.4 .1-2.6-.4-2.4-1-2.3-1.5-2-1.9-1.6-2.1-1.1-5.6-2.1-5.3-2.5-2-.5-2 .1M427.2 229.5l-2.4 .7-4.3 2.7-2.3 .8-2.4-.2-4.6-1.8-1.4 0-1.3 .4-1.3 1.3-1.7 3.4-1.1 1.4-1.6 .8-3.6 1.1-1.4 1-.5 1.7 .4 2.7M395.9 249.2l-4.4 .4-1.7 .5-1.4 1.4-.5 2 .4 2 2 4.7 .2 1.6-.4 2.4-2.1 5-.1 1.3 .3 1.3 .9 1.4 1.4 .8 5.3 .6M397.7 278.2l-.4 3 .6 1.6 1.5 1 3.4 1 1.4 .7 1.2 1.3 1.8 3.7 1 1 1 .5 2.3 0 4.3-1.7 2.4-.2 2.3 .7 4.7 3 2.6 .5 1.7-.2 1.3-.7 1.4-1.1 1-1.3 1-2 2.2-5.8 1.3-2 3.4-4 1.1-2.7 0-2.3-.9-2-1.5-1.4-3.3-1.9-.9-1.1-.3-1.3 .2-2.7-.2-2.3 .2-1.3 .7-1 3.8-2.4 1.4-1.3 .8-1.7 .1-2-.4-1.6-.7-1.4-3.6-4.3-1.3-2-2.1-5.7-1.4-2.5-1.3-1.5-1.3-.8-1.4-.4-1.6-.1M489.8 234.5l-2.3 .9-4.3 3.8-4.8 1.6-1.6 1-.8 1-.4 1 0 3M474.1 250.2l-1.6 1-1 1.1-1.8 3.5-2.7 3.7-.6 2.3 .6 2.4 2.6 3.6 1.9 3.7 .8 1 1.6 1M475.6 276.8l-.1 2 .2 1.4 .5 1 .8 1 1.5 .8 4.7 1.6 5 4.2 1.6 .5 1.7 0 5.7-1.4 7-.2 1.3-.4 1.3-.8 1.1-1 .8-1.3 1.9-6.4 2.7-4.3 .6-1.3 .2-1.7-.2-1.3-2.5-4.4-.1-5 .4-1.6 2.1-3.4 .3-1.3-.1-1.3-.8-2-2.5-4-1.5-5.4-.9-2-1.6-1.6-2.2-1-2-.3-5 .1-5.7-1.5-2 0M569.2 246.1l-2.4 .5-6.3 2.3-1.3 .8-3 2.5-1 1.3-1.7 3.4-.6 4.9 .6 5 1.7 3.5 .9 1.2 3.1 2.6 1.3 .8 6.3 2.3 3 .5 2.7-.6 5.3-2.7 6.4-2.1 2.8-1.5 1.8-1.7 1.5-2.3 .8-2.6 .3-2.7-.4-2.7-1-2.3-1.4-2-1.8-1.7-2.6-1.3-6.4-2.1-5.3-2.7-1.7-.5-1.6-.1M426.8 227.8l-2.3 1.2-4 3.5-2 .9-1.3 .1-1.4-.4-5-2.5-1.3-.1-1.3 .4-1.4 1.3-1.5 4.3-1.1 1.6-1.7 .8-4.3 .6-1.5 1-.4 1 0 1 1.2 3.4M396.2 248.8l-1.7 .3-4.3-.9-2 .2-1.7 1.2-.5 .9-.2 1.3 .5 2.4 3.4 5.3 .5 2.3-.1 1.4-.5 1.3-2.7 4-.8 1.7-.3 1.6 .3 1.7 1.1 1.4 1.6 .7 1.7-.1 4-.8 1.7 .3M397.5 277.8l-1.2 3.7 .3 1.7 1.6 1.1 4.3 .6 1.7 .8 1.1 1.5 1.5 4.4 .7 .8 1 .7 1 .2 1.3-.1 5-2.6 2.4-.2 2.3 .9 5 4.1 1.3 .6 1.7 .2 1.7-.3 1.3-.7 1.1-1 1-1.4 1-2.3 1.3-5 .7-2 1.6-2.3 4.1-4.4 .9-1.6 .4-1.7-.4-2.3-1-1.7-1.4-1-3.6-1.4-1.4-1.3-.4-1.3 .4-2.7-.4-2.3 .2-1 .5-1 .7-.6 3.7-1.5 1.8-1.2 1-1.7 .2-2.3-.4-1.7-.9-1.7-4-4.2-1.5-2.1-.8-2-1.4-5.6-1.3-2.6-1.4-1.4-1.6-1-1.7-.3-1.7 .2M489.8 233.8l-1.3 .3-1.3 .8-2.7 2.9-1.3 1.1-1.7 .7-3.7 .8-1.6 1-.8 1.1-.4 1.3 .4 3.4M474.2 249.9l-1.8 .9-1 1-2 4-3.2 4-.6 2 .2 1 .5 1.4 3 3.6 2.2 4.3 .7 .7 2 1.1M475.4 276.5l-.4 3.7 .5 1.3 .8 1 1.9 1 4.6 1.2 1.6 1.1 3.1 3.3 1.7 .8 1.6 .1 6-1.8 2-.1 5.4 .3 1.6-.3 1.4-.7 1.2-1.2 .9-1.7 1-5 .7-2 2.8-4 .7-1.3 .2-1.7-.3-1.3-.7-1.4-1.7-2-.5-1-.1-5 .5-1.6 2.5-3.4 .3-2.3-.7-2-2.5-3.3-.8-1.7-1.1-5.3-.8-2-1.6-1.8-2-.9-2-.2-5.7 .4-1.7-.4-4-1.3-2-.2M568.2 245.8l-8.1 3-4.4 3.7-2.4 4.7-.6 5 .6 4.6 1.9 3.8 .7 .9 3.3 2.9 1.3 .8 7 2.6 2.7 .4 2.6-.7 5.4-2.9 6.6-1.8 3.4-1.7 2-1.9 1.4-2.4 .8-2.6 .2-3-.5-2.7-1.1-2.7-1.5-2-2.1-1.6-2.9-1.3-6.7-1.8-6-3.2-1.6-.3-2 .2M384.2 208.8l3.1-7 3.8-7.6M384.2 254.5l4.6 4.3 .9 1.4 .3 1.6-.3 1.7-.9 1.5-4.6 4.4M384.2 283.4l3.3-2.3 3.4-3.9 1.6-1.4 2-.8 1.7 .2M397.4 277.5l-.6 1.4-2.4 3.3-.2 1 .2 .6 .8 .9 1.3 .5 5.7-.1 1 .2 1 .6 1.1 1.9 .8 5 .6 1 .8 .7 1.3 .4 1.4-.2 1.6-.9 3.7-2.7 1.3-.5 1.4 0 1.3 .4 1.2 .8 3.8 4.8 1.7 1.4 1.3 .6 1.3 .1 1.4-.2 1.3-.5 2-1.8 1.3-2.4 .7-2.6 .8-5.7 .8-2.3 1.7-2.3 4.6-4.1 1-1.6 .5-2-.3-2.4-1.3-2-1.9-1-3.9-.8-1.5-1.2-.4-1.3 .4-2.7-.4-2.3 .1-1 .5-.8 1-.8 4.3-1 1.7-.9 1.2-1.5 .5-2.3-.3-2-1.1-2-1.2-1.4-3.8-3.3-1.6-2.3-.8-2.7-.9-6-1.1-3-.9-1.3-1.4-1.2-1.3-.6-1.3-.3-2 .2-1.7 1-1.3 1.2-3.4 4.3-1 .8-1.3 .5-1.3 .1-1.7-.5-3.7-2.7-1.6-.9-1.7-.2-1.3 .6-1.2 1.7-.7 4.6-.4 1-.7 1.1-.7 .4-1.3 .4-5.7-.1-1.3 .5-.7 .7-.3 .7 .1 1 2.5 3.4 .5 1.3M396.2 248.6l-1.7 .2-2.2-1-1.5-1.3-3.3-3.8-3.3-2.3M390.7 328.8l-3.7-7.3-2.8-6.5M489.5 233.1l-1.3 .4-1 .7-3 3.6-1.4 1.1-1.3 .5-4.3 .7-1.9 1.1-.6 1-.3 1.3 .9 4M474.2 249.8l-2 .9-1 .8-1.9 4-3.8 4.3-.6 2 .5 2 3.9 4.4 1.9 4 1 1 2 .8M475.2 276.5l-.8 3.7 .2 1.3 1 1.3 1.9 1 3.7 .5 1.6 .6 1.6 1.3 2.1 2.8 1 .9 1.3 .6 1.7 .2 6.7-2.3 2 0 5.3 .7 1.7-.3 1.6-.8 1.2-1.2 .8-1.7 .8-5.6 .5-1.7 .8-1.3 2.5-3 .7-1.3 .2-1.7-.4-1.7-.7-1-2-2-.6-1 .2-3-.3-2 .5-1.6 2.3-2.4 .6-1 .3-1 .1-1.3-.8-2-2.5-3-1-1.7-.4-1.6-.6-4.7-.9-2.3-1.6-1.6-2-.8-2-.1-4 .7-2 0-2-.4-4-1.7-2-.2M569.5 245.1l-2 .5-7.3 3-4.4 3.6-.6 .8-2 4-.2 2.5-.4 2.3 .4 2.4 .2 2.6 2.5 4.7 4.5 3.7 7.3 3 2.7 .5 2.6-.7 3.7-2.3 2-.9 7.3-1.6 3.4-1.6 2-1.9 1.5-2.5 .8-2.7 .3-3-.5-3-1-2.7-1.5-2.1-2-1.7-3.2-1.5-7.1-1.5-6-3.3-1.7-.5-1.3-.1M384.2 257.6l2 .3 2 1.1 1.2 1.5 .3 1.3-.4 1.7-1.1 1.3-2 1.1-2 .2M441.2 328.8l-3.2-7-.9-3.3-.6-3 0-4.7 1.3-8.3 .3-3.7-.2-3.6-1.1-6.9 0-2.5 .7-2.3 1.3-1.8 1.4-1.1 4.7-2.8 1.8-1.6 1.3-2.4 .4-2.6-.2-1.7-.5-1.3-.8-1.4-1.1-.7-2-.4-4.3 .9-1.7 .1-1.3-.6-.7-1.3 .7-3-.6-2-.1-1 .7-1.1 .7-.4 1.3-.2 5 1 2-.2 1-.6 1-1.1 .5-1.4 .4-1.6-.4-3-1.2-2.4-2-2-4.3-2.4-1.7-1.3-1.4-1.9-.6-2.4 0-2.3 1.1-6.7 .2-3.6-.3-4-1.3-8.4 0-4.6 .6-3 1-3.4 1.5-3.6 2-4M415.8 220.4l2-.1 1.7 .8 1.3 1.5 .8 2.2 .1 2.7-.6 2.7-1.1 1.6-1.8 1.1-1.7-.2-1.8-1.2-1.5-2.3-.8-2.7 0-2 .5-1.7 1.3-1.5 1.6-.9M399.5 230.5l1.3-.3 1.4 .4 1 .8 1 1.4 .5 1.4 .2 1.6-.5 1.4-.9 .8-1.3 .3-1.7-.4-1.7-1.1-1-1.3-.4-1.3 .2-1.7 .8-1.3 1.1-.7M488.5 231.8l-1 .4-1 .9-2.2 4.1-1.5 1.3-2 .6-5-.1-1.2 .5-.9 .7-.7 1.3-.2 1.7 .5 1.3 1.5 2.3 .3 1M474.2 249.5l-2.3 .7-1 .6-2 4.7-1.1 1.2-3.7 2.8-.7 1-.4 1.3 .3 1.4 .6 1 3.9 2.9 1.3 1.4 1.4 3.7 .6 1 .7 .4 2.4 .7M475.1 275.8l-.3 1-1.5 2.4-.4 1.3 0 1.7 .7 1.3 .9 .8 1.3 .5 5-.1 2 .6 1.6 1.5 2.1 3.9 1.3 1 1.4 .4 1.6-.2 4.7-2.6 2.3-.5 2 .2 4.4 1.4 2.3 .1 2.3-.9 1.6-1.8 .8-2.6-.2-5 .4-2 1.1-1.8 3-2.9 .9-1.7 .1-1.6-.6-1.7-.9-1-2.5-1.7-.7-1-.1-1 .4-2-.4-2 .2-1 .6-.8 2.6-1.8 .9-1 .5-1.4 0-1.3-.9-2-3.3-3.3-1-1.7-.3-2 .1-5.3-.3-1.4-.7-1.3-1.6-1.6-2.3-.7-2.4 .3-4.6 1.4-2 .1-2-.7-4-2.3-1.4-.3-1.3 .1M568.5 244.5l-5 2.5-3.9 1.5-4.1 3.7-.7 .9-.6 1.7-1.3 2.4 0 2.3-.5 2.3 .5 2.4 0 2.6 1.3 2 1 2.5 4.6 4.1 4 1.6 4 2.1 2.4 .5 1.3-.2 1.3-.5 3.7-2.6 2-1 2.3-.5 4.7-.2 2-.4 2.1-.7 2-1.3 1.6-1.7 1.5-2.3 .9-2.7 .4-2.7-.1-2.6-.5-2.7-1.2-2.7-1.3-2-2.1-1.8-2.4-1.2-2.6-.5-4.6-.2-2-.4-2.4-1-3.3-2.4-1.3-.7-1.7-.4-2 .3M393.8 244.7l1-.2 1 .3 .8 .7 .5 1M396.2 248.4l-1.4 0-1.3-.9-.4-1 0-.7 .7-1.1M394.5 275.5l1-.2 .8 .2M397.1 277.2l-.4 1-.9 .8-1 .3-1-.2-.7-.9 0-1 .5-1 .9-.7M401.8 285.5l1.4 .1 1.1 .9 .6 1.3-.1 1.7-.6 1.5-1.4 1.7-1.3 .7-1.7 0-1.1-.6-.9-1-.4-1.3 .1-1.3 .5-1.4 .9-1 1.6-.9 1.3-.4M416.5 291.1l2-.1 1.7 1.2 1.1 2 .5 2.3-.2 2.7-1 2.3-1.4 1.5-2 .5-1.7-.2-1.7-1.1-1-1.4-.5-2 .3-2.3 1-2.7 1.3-1.6 1.6-1.1M384.2 260.4l1.3-1 1.7 0 1.4 .8 .5 .6 .2 1-.5 1.5-1.3 1-1 .2-1-.1-1.3-1M499.1 328.8l-12.3-10.8-14.6-15.6-2.1-2.6-1.5-2.3-.8-2-.1-1.7 .5-1 1.2-1 8.7-5.6 2.7-1 1.7 .3 1.3 1.3 .6 1.7 .4 5.4 .7 1.3 1.3 .9 1.7-.1 1.7-.8 4.6-4.7 1-.7 1.4-.5 1.3 0 1.6 .5 5.1 3.7 2.3 1 1.3 0 1.4-.3 1.3-.7 1-1.1 1.1-2.2 .2-2.4-.5-2.3-1.7-4.7 .1-2.3 .5-1 1-1 3.3-2 1.2-1 .9-1.3 .4-1.7-.3-1.7-.9-1.3-1.3-.8-3.7-1-.9-1.2 .6-2.7-.6-2 .2-1 1.1-.9 3.2-.7 1.2-.7 1-1.3 .4-1.7-.3-1.7-.8-1.3-1.6-1.3-3.1-1.9-1-1-.5-1.1-.1-2.4 1.6-4.3 .5-2 .1-1.7-.4-1.6-.8-1.7-1.3-1.3-1.5-.8-1.6-.1-2.7 .8-5.7 4-1.6 .4-1.4-.1-2.2-1.2-3.1-3.5-1.3-1.1-1.7-.8-1.3-.1-1.4 .6-.9 1.5-.5 5.4-.7 2-1.2 1.1-1.7 .3-1.3-.3-1.6-.8-8.7-5.7-1.1-1-.4-1.3 .3-1.7 .9-2 1.5-2.3 2-2.3 14.7-15.7 12.9-11.3M416.5 226.8l1-.2 1 .2 .9 .7 .6 1 .2 1-.2 1.3-.7 1-.8 .6-1 .1-1-.2-.9-.8-.6-1-.1-1.3 .2-1 .7-1 .7-.4M447.2 229.1l4-.1 4.6 .7 5.7 1.6 1.3 .7 .9 .8 .5 1 1.3 5 2.1 3.7 2.2 2.4 1 .6 3 1.1 1 1.2-.2 1-.8 .6-2.6-.2-1 .6-.4 1-.6 3.4-.5 1-.9 .8-2 .9-2.3 .5-2.3 0-1.8-.6-1.3-1-1.1-1.6-.7-2-1.3-5.4-.6-1.3-.9-1.1-1.3-.8-1.4-.3-6.3-.1-2.3-.2-2.4-.9-1.3-1.3-.8-1.6-.1-1.7 .5-2 1.1-1.8 1.6-1.8 1.7-1.1 2.3-1.1 2.4-.6M401.5 233.8l1-.1 .7 .2 1 1.1 .2 1.5-.9 1.2-.7 .2-1-.1-1-.6-.4-.7-.2-1 .2-.7 .4-.6 .7-.4M569.5 242.8l-2 .9-4 2.8-4.2 1.7-2.2 2.3-2.1 1.7-.4 .6-.6 2-1.4 2 .1 2.7-.7 2.3 .7 2.4-.1 2.6 1.4 2 .9 2.7 2.1 1.7 2.5 2.6 4 1.5 4.3 3 2.4 .8 1.3-.2 1.3-.5 4-3.6 2.4-1.1 2.3-.2 5.3 .9 2.4 .1 2.6-.6 2.4-1.4 1.9-2 1.6-2.7 1.1-3 .5-3.3 0-3.3-.5-3.4-1.1-3-1.7-2.6-2.5-2.4-1.7-.9-1.6-.5-3-.1-6 1-2.4-.2-2-1.1-4-3.6-1.6-.6-1.7 0M394.8 245.7l1-.1 .8 .6 .3 1-.7 .9-1 0-.8-.6-.2-1 .6-.8M436.8 257.8l1.4-.2 1.1 .6 .8 1 .5 1.6-.1 2.4-.3 1.3-1 1.2-1.4 .5-1.3-.4-.4-1 .2-1 1.1-1.6 0-.7-1-1.3-.3-1 .1-.7 .6-.7M460.8 266.5l1.7-.1 2.3 .2 1.7 .5 1.3 .7 1 1 .5 1 .4 3 .5 1.2 1 .6 2-.3 1 .2 .6 1-.3 1.1-1 .8-3.3 1.2-2.3 2.2-1.4 2-1 2-1.5 5.7-.8 1-1 .7-2.8 1-3.9 1-5.7 .7-4.3-.6-2-.7-2-1.2-2.3-2.3-1.4-2.6-.2-2.7 .9-1.9 1.3-1.2 2-.8 2.7-.3 6.1-.1 1.6-.3 1.2-.7 .9-1 .7-1.3 1.3-5.7 .9-2.3 1.6-1.9 2-.8M395.2 275.7l1 0 .5 .5 .2 .6-.4 1-1 .5-1-.4-.3-.7 .3-1 .7-.5M401.5 286.1l.7-.2 1 .1 .8 .5 .3 .7-.2 1.6-.6 .9-.7 .3-1.3 0-.7-.4-.5-.8 0-1.3 .4-.7 .8-.7M416.8 291.4l1-.1 1 .3 .9 .9 .4 1 0 1.3-.4 1-.9 1-1 .4-1-.1-1-.5-.6-.8-.3-1 .3-2 .9-1 .7-.4M548.1 328.8l-6.6-3.8-5.8-4.2-4.9-4.3-4-4.5-2.5-3.8-1.5-3.7-1-3.5-1.2-7.5-1.2-3.7-1.6-2.6-4.3-4.2-1.2-1.8-.4-2 .7-1.7 1.6-1.1 4.6-1.1 2-1 1.6-2.1 .4-2.7-.1-1.7-.6-1.6-.9-1.4-1-.7-1.4 0-4.6 1.5-1-.1-.7-.3-.5-1 1-2.4-.9-2 0-.6 .7-.8 1.4-.2 4.3 1.4 1.7 .1 1-.7 .9-1.5 .6-1.7 .1-1.6-.4-2.4-1.2-2-2-1.2-4-.9-1.7-.6-1.2-1.3-.4-1.6 .3-1.4 .6-1.2 4.8-4.8 1.7-2.6 1.3-3.7 1.2-7.7 .9-3.3 1.7-4 2.4-3.7 4.1-4.6 5.3-4.6 6.3-4.4 7.1-4M497.2 222.7l2-.1 2 .8 1.1 1.4 .6 2-.3 2.4-.9 2.3-1.5 1.8-2 .9-1.7-.3-1.5-1.1-1-1.6-.5-2.4 0-2 .7-1.7 1.3-1.5 1.7-.9M417.2 228.1l1 0 .6 .4 .7 1.3 0 1-.4 .7-1.3 .8-1.4-.5-.8-1.3 .1-1 .3-.7 1.2-.7M479.8 231.7l1 0 1 .3 1 .9 .7 1.2 .3 1.1-.2 1.3-.5 1-.9 .6-1 .2-1.4-.5-1.1-1-.6-1-.3-1.3 .3-1.3 .7-.9 1-.6M442.8 233.8l2 .3 1.6 1.1 .9 1.6 0 1.7-.8 1.7-1.3 1.1-2 .7-2 0-1.4-.5-1.1-1-.6-1.3 0-1.4 .6-1.6 1.1-1.3 1.4-.7 1.6-.4M401.8 234.7l1.4 0 .8 .8 0 1.3-.8 .8-1 0-1-.8-.1-1 .7-1.1M570.2 241.1l-2.4 1-4.3 4-4.5 1.7-2.1 2.7-2 1.3-.5 .7-.5 2.3-1.6 2 .3 2.7-.9 2.3 .9 2.4-.3 2.6 1.7 2.4 .5 2.3 2.3 1.8 2.4 2.8 4.3 1.6 4.3 4 2.4 1 1.3-.1 1.3-.5 1.4-1.3 2.8-3.6 1.2-.8 1.3-.4 2.7 .3 5.3 2.4 2.7 .7 3-.2 2.8-1.4 2.4-2.3 1.9-3 1.3-3.7 .8-4.3 0-4.3-.6-4.4-1.1-3.6-1.9-3.4-1.6-1.9-1.7-1.3-2-.9-2-.3-3.3 .5-6.4 2.7-1.6 .2-1.4-.2-1.3-.6-1-.8-3.3-4.2-1.4-.7-1.6-.2M395.2 246.1l.6-.1 .8 .5 .1 .7-.5 .7-.7 .1-.7-.5-.2-.7 .6-.7M472.5 247.1l1-.2 .7 .3 .5 1-.3 .6-.9 .5-1.1-.5-.5-1 .6-.7M464.2 247.8l1.3-.1 1.3 .3 1.1 .8 .7 1.4 .5 2-.1 1.6-.8 1.5-1.4 .8-1.6 .2-1.7-.5-1.3-1-.8-1.3-.3-2 .5-1.7 1.1-1.3 1.5-.7M436.8 258l1-.1 .9 .6 .4 1-.6 1.1-1 0-1-.8-.3-1 .6-.8M386.2 260.1l1-.2 .6 .2 1.1 1.1 0 1.3-.4 .7-.7 .5-1.6 0-1.1-.9-.2-.6 .1-1 1.2-1.1M437.8 263.1l.7 .1 .3 .3 .2 1.3-.8 1-1 .1-.7-.4-.3-1 .6-.9 1-.5M463.8 267.8l1.4-.3 1.6 .2 1.4 .8 .8 1.3 .1 2-.6 2.2-1 1.4-1.3 .6-1.7 .1-1.3-.5-1.3-1.1-.6-1.3-.2-1.7 .5-1.7 1-1.3 1.2-.7M472.8 274.7l1-.1 .7 .5 .2 .7-.5 .8-1 .3-1-.4-.2-1 .8-.8M395.5 275.8l.7 .1 .5 .6-.2 .9-.7 .4-.6-.1-.5-.5 0-.7 .8-.7M441.2 281.8l1.6-.1 1.7 .5 1.5 1 1 1.3 .4 1.7-.3 1.3-.6 1-1.3 1-1.7 .5-2-.2-1.7-.9-1.3-1.7-.5-1.7 .4-1.7 1.1-1.3 1.7-.7M480.2 285.8l1.3-.3 1 .3 .8 .7 .5 1.3-.1 1.4-.6 1.3-.9 1.1-1.4 .5-1 0-1-.6-.6-.8-.4-1.2 .5-2 .8-1 1.1-.7M402.5 286.1l1 .2 .5 .5 .1 .7-.1 .7-.5 .6-1 .4-1-.4-.5-1 .3-1 1.2-.7M496.8 289.7l1.7 0 1.7 .8 1.4 1.7 1.1 2.6 .2 2-.5 2-1.2 1.6-1.7 .7-2 0-1.7-.7-1.3-1.2-.9-2-.1-2.4 .6-2.3 1.1-1.7 1.6-1.1M416.8 291.7l1.4-.1 .8 .6 .4 .6 0 1.7-.6 .8-.6 .4-1.4-.1-1.1-1.1 .1-1.7 1-1.1M606.2 328.8l-18.4-8.4-6.6-2.6-7.4-2.2-15-3.5-7.3-2.5-4-1.9-3.7-2.2-3.3-2.6-2.9-2.7-2.8-3.4-2.6-4-4.9-8.6-1.1-2.7 .1-1.7 1.5-5 .7-4 .2-14.3-.5-6-2-7.3 .3-1.7 1.4-3 3.9-7 3-4.5 2.4-2.9 2.6-2.6 3-2.5 3-2 5-2.5 5.7-2.1 18.3-4.5 7.4-2.2 5.6-2.3 13.4-6.3 7-2.9M497.2 226.8l1.3 0 1 .4 1 1 .5 1.3-.1 1.7-.6 1.3-1 1-1.1 .4-1.4-.1-.9-.6-.8-1-.4-1.4 .1-1.3 .4-1.1 1-1.1 1-.5M417.2 228.8l1.3 .2 .7 1.2-.4 1.3-1 .6-1-.3-.8-1 .2-1.3 1-.7M480.8 233.4l1 .2 .7 .4 .9 1.5 0 1-.3 .7-1.3 .8-1 0-.6-.4-1.1-1.4 .2-1.7 .6-.7 .9-.4M402.2 235.1l1 0 .6 .7 0 1-.6 .7-1-.1-.6-.6-.1-1 .7-.7M440.8 235.4l1.4-.1 1.3 .4 1 .8 .5 1 0 1.3-.3 1-.9 1-1.3 .7-1.3 .1-1-.3-1-.7-.7-1.1-.1-1.3 .4-1.2 1-1.1 1-.5M570.8 238.8l-1.6 .5-1.4 1.1-3.9 5.1-1.4 .9-2.7 .6-1 .5-2 2.8-2.5 1.9-.5 2.6-1.8 2 .5 2.7-1.1 2.3 1.1 2.4-.6 2.6 .3 .7 1.5 1.3 .5 2.7 .6 .7 2.1 1.3 1.9 2.8 1 .5 2.4 .5 1.5 .9 1.3 1.3 2.8 3.9 1 .9 1.4 .6 1.6 0 1.4-.7 1.3-1.7 1.5-3.3 .9-1.4 1.3-1 1.6-.5 1.7 .3 1.8 .9 4.9 4.6 2.3 1.5 1.3 .4 1.7 .1 1.7-.3 1.6-.8 1.7-1.2 1.3-1.4 2.4-3.6 1.8-4.6 1-5.4 .3-6-.5-5.6-1.3-5-2-4.4-2-2.8-2.3-2-2.4-1.1-2.3-.2-2 .5-1.7 1-4.5 4.3-1.8 1.3-1.7 .6-1.6 0-1.4-.6-1-1-2.3-4.5-1-1.4-1.3-.9-1.4-.2M515.5 240.8l2.3-.2 2.5 .9 1.1 1.3 0 .7-.4 1-1.5 1.3-2.3 1.1-2 .3-1.7-.5-1.2-1.2-.2-1 .2-1 1.2-1.7 2-1M395.2 246.4l.6-.2 .6 .3 .2 .7-.4 .6-.7 0-.5-.3-.1-.7 .3-.4M473.2 247.3l.6 0 .7 .5 0 .7-.3 .5-.7 .1-.9-.6 0-.7 .6-.5M464.8 250.1l1-.2 1 .1 1 .7 .7 1 .3 1.1-.1 1.4-.5 .8-1 .7-1.4 .1-1-.3-.9-.7-.6-1-.2-1.3 .2-1 .5-.7 1-.7M436.8 258.2l.7-.2 .8 .5 .2 .7-.3 .8-1 .1-.7-.6-.2-.7 .5-.6M513.2 258.5l1 .1 .9 .6 .5 1 .2 1-.1 2-.3 1-.9 .9-1 .3-1-.4-.3-.8 .2-.7 .9-1 .3-.7-1.4-2 0-.6 1-.7M386.5 260.4l1.3 0 .9 .8 0 1.3-.9 .9-1.3 0-.9-.9 .1-1.3 .8-.8M437.2 263.7l1 .1 .3 .7-.1 .7-.9 .6-.7-.1-.5-.9 .3-.6 .6-.5M465.2 268.2l1.3-.2 1 .3 .7 .5 .6 1 0 1.4-.5 1.3-.8 .9-1 .5-1 0-1-.3-.8-.8-.5-1-.1-1.3 .4-1 .7-.8 1-.5M473.2 274.8l.6-.1 .7 .5 0 .6-.3 .6-.7 .2-.8-.4-.1-.7 .6-.7M395.5 276l.7 0 .3 .5 0 .7-.7 .4-.6-.2-.3-.6 .6-.8M514.2 276.8l2.3-.1 2.8 1.1 1.3 1 .7 1 .1 1-.3 .7-1.2 1-2.1 .7-2-.1-2-.9-1.3-1.4-.4-1.6 .7-1.6 1.4-.8M440.2 282.5l1-.3 1.3 .1 1.1 .5 1 1 .4 1 0 1.4-.4 1-.8 .7-1.3 .6-1.3-.1-1.4-.5-.9-1.1-.5-1.3 .1-1.3 .7-1 1-.7M481.2 285.8l1 .1 .6 .4 .5 .9 .1 .6-.6 1.7-.6 .6-1 .3-1.5-.6-.5-.6-.1-1 .2-1 .5-.7 1.4-.7M402.2 286.4l1-.1 .6 .5 .1 1-.7 .9-1 0-.6-.5-.1-1 .7-.8M496.8 290l1.4-.1 1 .3 1 1 .7 1.3 .2 1.3-.3 1.4-1 1.2-1 .5-1.3 .2-1-.4-1-.8-.7-1.3-.1-1.4 .3-1.4 .6-1 1.2-.8M417.2 291.8l.6-.1 .7 .3 .7 1.2-.4 1.3-1 .6-1-.2-.8-1.1 .2-1.3 1-.7M668.8 315.6l-8.3 2.9-8.7 1.8-8.6 .5-8.4-.8-4.3-.9-4-1.2-4-1.5-3.7-1.8-3.4-2.1-3.1-2.3-2.6-2.4-2.3-2.6-1.7-2.7-1.2-2.7-.7-2.6-.2-3 .5-4 2.7-11 1.1-6.4 .7-7.6-.1-7.7-1-9.3-3.4-14.4-.5-4.6 .3-3.4 1.2-3.3 1.9-3.3 2.9-3.4 3.6-3.1 4-2.7 4.7-2.4 5-2 5-1.3 5-.9 5.3-.4 5.3 .1 5.4 .6 5.3 1 5.3 1.6 5 1.9M554.5 227.8l2.3-.3 2.4 .1 2 .4 2 .8 1.5 1 1.1 1.3 .7 1.4 .3 1.7-.1 2.3-.7 3.3-.7 2.7-1 2-.9 1-.9 .6-3 .6-1 .5-1.7 3-2.8 1.6-.2 .7-.1 2.3-1.8 1.4-.4 .6 .9 2.7-1.4 2.3 .2 .7 1.2 1.7 0 .6-.9 1.7 .1 .7 2.2 2-.1 2 .2 .6 2.8 1.7 1.6 3 1.2 .6 3 .6 1.7 1.5 1.1 2.3 1.3 5.3 .2 2-.1 1.7-.6 1.7-.9 1.3-1.4 1.1-1.6 .8-2 .6-2 .3-4-.4-4.4-1.5-3.6-2.3-3.4-3.3-2.6-3.7-2-4.3-1.2-4.6-.5-5.7-.2-10 .3-9.3 .8-5.4 1.4-4.3 2.7-4.9 1.7-2.1 2-2 2.3-1.7 2.3-1.4 2.4-1 2.3-.6M496.8 228.8l1-.2 1 .2 .8 .7 .5 1 0 1-.3 1-.6 .7-1 .5-1-.1-.7-.3-.5-.5-.5-1 .1-1.6 .6-1 .6-.4M416.8 229.5l1-.3 .9 .6 .2 1-.7 1-1 0-.7-.6-.1-1 .4-.7M480.8 234.5l1.4 .1 .8 .9 0 1.3-.8 .9-1.4 0-.8-.9-.1-1.3 .4-.7 .5-.3M402.5 235.4l.7 .1 .6 .7-.1 .6-.5 .5-.7 0-.6-.5 0-1 .6-.4M580.2 235.8l2 .5 1.3 1.2 .8 1.7 .2 2.3-.4 2-1.2 2-1.7 1.3-1.7 .3-1.3-.4-1.2-1.2-.6-1.7-.2-2.3 .4-2.3 .9-1.9 1-.9 1.7-.6M440.5 236.4l1-.1 1 .2 1.1 1.3 .2 1-.4 1-.6 .7-1 .5-1.6 0-.7-.5-.7-1-.1-1 .4-1 1.4-1.1M514.5 242.1l1 0 1 .3 .7 .8 .3 .6-.1 1-.3 .7-.7 .7-1.2 .4-1.7-.2-.7-.6-.4-1 .4-1.6 .7-.6 1-.5M395.5 246.4l.3 0 .6 .4-.2 .9-.4 .1-.5-.3-.2-.7 .4-.4M473.2 247.7l1 0 .3 .5-.3 .6-.7 .1-.5-.4 .2-.8M465.8 251.2l.7-.1 1 .3 1 1.4 .1 .7-.3 1-1.1 .9-1 0-.7-.2-.8-.7-.3-.7-.1-1 .3-.6 .5-.7 .7-.3M436.8 258.3l.7-.1 .5 .3 .2 .7-.4 .5-.6 .1-.5-.3-.2-.7 .3-.5M512.8 258.7l.7-.1 .8 .6 .2 .6-.3 .9-1 0-.7-.5-.3-.7 .6-.8M386.8 260.7l1 0 .8 .8-.1 1-.7 .6-1 0-.6-.6-.1-1 .7-.8M513.2 263.1l1 0 .3 .7-.1 .7-.9 .6-.7 0-.5-.6 .1-.7 .8-.7M436.8 264.1l.7-.2 .4 .3 .3 .6-.4 .6-.6 .3-.7-.5 0-.7 .3-.4M465.8 268.5l1-.1 .7 .2 .7 .6 .3 .6 0 1-.3 .9-1.4 1-1-.1-.6-.3-.8-1.1-.1-1 .3-.7 1.2-1M473.2 275.1l.6-.3 .6 .4 0 .6-.2 .3-.4 .2-.6-.2-.3-.6 .3-.4M395.5 276.1l.3-.1 .7 .5-.3 .8-.4 .1-.6-.2 0-.7 .3-.4M578.8 276.8l1.7-.1 1.6 .8 1.4 1.7 .9 2.3 0 2.3-.6 1.9-1.3 1.6-1.7 .7-1.6-.2-1.4-.9-1-1.6-.5-1.8-.1-2.3 .4-2 .9-1.5 1.3-.9M514.5 277.1l1.7 .4 1.2 1.3 .1 1-.2 .7-.5 .7-1 .4-1 .1-1-.3-1-.8-.3-.8-.1-1 .3-.6 .8-.8 1-.3M440.5 282.7l1 0 1 .3 .8 .8 .4 .7-.2 1.7-.4 .6-.9 .6-1 .1-1-.2-.7-.5-.6-1-.2-1 .3-1 .8-.8 .7-.3M480.8 286.1l1.4 0 .5 .4 .4 .7-.2 1.3-1.1 .9-1.3-.3-.7-.9 .2-1.4 .8-.7M402.5 286.5l.7 0 .6 .7-.1 .6-.5 .5-.7 .1-.6-.6 .1-1 .5-.3M497.5 290.1l1 .1 .9 .6 .7 1.7-.4 1.7-.5 .6-1 .4-1-.1-1-.5-.5-.8-.3-1 .1-1 .6-1 1.4-.7M417.2 292l1 0 .6 .8 0 1-.6 .6-1 .1-.8-.7 0-1 .8-.8M668.8 300.9l-5.6 2.6-5.7 1.8-5.7 1.1-6 .4-5.6-.4-5.4-1.1-5-1.9-4.6-2.6-3.4-2.7-3-3.4-2.2-3.5-1.6-4-1.1-4.4-.6-5-.4-6.6-.1-9.4 .4-15.6 .7-5 1-4.4 1.6-4 2.3-3.7 2.9-3.3 3.5-2.8 4.6-2.6 5-1.9 5.4-1.1 5.6-.4 5.7 .3 5.7 1.1 6 1.9 5.6 2.6M417.2 229.8l1 0 .4 .7-.1 .7-.7 .5-.6-.1-.6-.8 .1-.6 .5-.4M497.2 229.8l1.3 .1 .7 .6 .3 .7-.3 1.3-1 .9-1.4-.2-.8-1 .1-1.4 1.1-1M481.2 235.1l1 .1 .6 1-.2 1-.8 .4-1-.3-.5-.8 .2-.8 .7-.6M402.5 235.7l.7 0 .4 .5 0 .3-.4 .6-.7 0-.3-.3-.1-.6 .4-.5M556.2 236.5l3-.2 1.3 .3 1.3 .7 1.8 1.9 .8 2.6-.3 2-.8 1.4-1.5 .8-2.6 .1-1.2 .4-.5 .8-.5 2.2-.4 .7-.8 .4-1.9 .6-.7 .6 0 .7 .5 1.7-.2 .6-.7 .6-1.8 .4-.5 .7 0 .7 1.3 1.2 .5 1.1-.5 .8-1.4 .9-.4 .6 .3 .7 1.8 1.3 .2 .7-.5 .9-1.2 1.1-.1 1 .7 .5 1.6 .5 .7 .4 .2 .6-.5 2 .1 .7 .9 .5 2 .6 .5 .5 .8 2.7 .4 .7 .9 .5 2.7 0 1 .3 1.3 1.2 .5 1.3 0 2.3-1.1 2.5-2 1.6-2.7 .7-2.3-.3-2.4-.9-2.3-1.6-2.3-2.3-1.6-2.3-1.2-2.7-.7-2.7-.3-3.3-.3-8 .3-11 .2-3 .6-2.7 1.5-3.3 2.2-3 2.9-2.5 3.4-1.5M440.5 237.1l1.3 .1 .7 .6 .3 .7-.3 1.3-.7 .7-.6 .2-1.4-.3-.8-1.2 .4-1.4 1.1-.7M579.2 240.8l1-.1 1.1 .5 .9 .9 .3 1.1-.1 1.3-.4 1-.8 .8-1 .4-1 0-1-.4-.7-.8-.3-1-.1-1 .4-1.2 .7-.9 1-.6M513.8 243l1.4 0 .8 .8 0 1.4-.8 .9-1 .2-.7-.2-.8-.9 .1-1.4 1-.8M395.5 246.6l.3-.1 .5 .3-.1 .7-.4 .2-.3-.2-.2-.3 .2-.6M473.5 247.8l.3-.1 .6 .5-.2 .5-.7 .1-.3-.3 .3-.7M466.2 252l1.3 .1 .8 1.1 0 .6-.3 .7-.8 .6-1-.1-.9-.8 0-1.4 .9-.8M436.8 258.4l.4-.1 .5 .2 .2 .7-.4 .4-.3 0-.6-.4 .2-.8M513.2 258.8l.8 .7-.2 .7-.6 .2-.7-.5-.1-.4 .4-.6 .4-.1M386.8 261.1l.7-.2 .7 .3 .3 .6-.3 .8-.7 .3-.9-.4-.2-.7 .4-.7M513.2 263.4l.6 .3 .2 .5-.4 .6-.4 .2-.7-.4-.1-.4 .8-.8M436.8 264.3l.7-.1 .3 .3 0 .7-.3 .2-.9-.2 .2-.9M466.2 268.8l.6-.1 .7 .2 .8 .9-.3 1.4-.8 .6-1 0-1-1 .2-1.3 .8-.7M473.5 275l.3-.1 .6 .6-.6 .6-.5-.3-.1-.3 .3-.5M395.5 276.3l.3-.1 .6 .3-.2 .6-.7 0-.2-.3 .2-.5M578.8 277.2l1-.2 1 .3 1 .9 .6 1 .1 1.3-.2 1-.8 1-1 .5-1 .1-1-.4-.8-.9-.5-1-.1-1.3 .3-1 .8-1 .6-.3M513.5 277.7l1.3-.1 1.2 .9 .1 1.3-.6 .8-1.3 .3-1.2-.7-.4-1.4 .9-1.1M440.5 283.1l1.3 .2 .9 1.2-.1 1.3-1.1 .9-1 0-.7-.3-.8-1.2 .4-1.4 1.1-.7M480.8 286.5l1-.3 .9 .6 .1 1-.6 .8-1 .1-.7-.5-.1-1 .4-.7M402.5 286.7l.7-.1 .4 .6-.4 .9-.7 0-.4-.6 .4-.8M497.2 290.5l1.3 .1 .7 .6 .2 .6-.1 1.4-1.1 .8-1.4-.2-.8-1 .1-1.3 .4-.7 .7-.3M417.5 292.1l.7 .2 .4 .5-.1 .8-.7 .5-.6-.1-.6-.8 .2-.7 .7-.4M668.8 284.8l-4 3-4.3 2.5-4.3 1.8-4.7 1.2-4.7 .6-4.6-.1-4.4-.9-4-1.4-3.3-1.8-3.3-2.6-2.8-2.9-2.3-3.7-1.8-4-1.3-4.3-.8-5-.2-5.4 .2-5.3 .9-5 1.2-4.3 1.8-4 2.4-3.6 2.7-2.9 3-2.4 3.6-2 4.4-1.5 4.3-.8 4.3-.1 4.7 .6 4.7 1.2 4.3 1.8 4.3 2.5 4 3M417.5 230l.8 .5-.1 .7-.4 .3-.6-.2-.3-.5 0-.3 .6-.5M497.2 230.7l1-.1 .7 .9-.1 1-.6 .6-1-.1-.6-.5-.1-1 .7-.8M481.2 235.7l.6-.1 .5 .2 .3 .7-.4 .8-.7 .1-.7-.6 0-.6 .4-.5M402.5 236.1l.3-.2 .5 .3 .2 .3-.3 .5-.8-.2-.1-.3 .2-.4M440.2 237.8l1-.1 .8 .8-.1 1-.7 .7-1 0-.7-.7 0-1 .7-.7M559.8 240.5l1-.1 1 .3 1 .7 .5 .8 .3 1.6-.5 1-.6 .6-1 .3-1.3-.2-1.5-.7-1.1-1-.1-1 .4-1 .9-.9 1-.4M578.8 242.7l1-.2 .7 .2 .9 1.1-.1 1.4-.4 .6-.7 .5-1.4 0-.9-1.1 0-1.4 .9-1.1M513.5 243.7l1-.1 .7 .5 .1 .7-.5 .8-1 .2-.8-.6-.1-.7 .6-.8M553.8 246.2l1.4-.3 1 .9 .6 2 0 .7-.6 .7-1 .3-1-.2-1-.5-.6-.6-.1-.7 .1-1 1.2-1.3M395.8 246.7l.5 .5-.5 .3-.4-.3 .4-.5M473.5 248l.3-.1 .4 .2 0 .4-.4 .3-.3-.3 0-.5M466.2 252.8l1-.2 .6 .4 .3 .8-.6 .8-1 .1-.6-.5-.1-.7 .4-.7M551.8 253l1 .2 .7 .6 .1 .7-.4 .5-1 .1-.8-.6-.1-1 .5-.5M437.2 258.4l.5 .4-.1 .4-.4 .2-.5-.6 .5-.4M551.2 258.5l.6 .2 .4 .8-.4 .6-.6 .2-.7-.2-.4-.6 .2-.7 .9-.3M512.8 259l.4 0 .4 .5-.4 .6-.6-.3-.1-.3 .3-.5M387.2 261.3l.6-.1 .3 .3 .1 .7-.4 .4-.6-.1-.4-.3 .1-.7 .3-.2M512.8 263.8l.4-.1 .4 .5-.4 .6-.7-.3 .3-.7M550.5 263.7l.7-.2 .6 .3 .4 .7-.4 .6-.6 .2-.7-.1-.4-.7 .4-.8M437.2 264.4l.5 .4-.5 .6-.5-.6 .5-.4M552.2 268.7l1 .1 .4 .7-.4 .9-1 .4-.7-.3-.3-.7 .3-.6 .7-.5M466.5 269.1l1 .1 .5 .6-.2 1-.6 .4-.7 0-.6-.7 .1-1 .5-.4M554.2 273.5l1.6-.1 .7 .4 .3 .7-.3 1.8-.7 1.1-.6 .4-.7 .1-1-.5-.7-.7-.3-.9 .2-1.3 .7-.7 .8-.3M473.8 275.1l.5 .4-.5 .5-.4-.5 .4-.4M395.8 276.2l.4 .6-.4 .3-.3-.3 .3-.6M579.2 277.4l.6 0 .9 .4 .7 1.4-.3 1.3-.6 .6-.7 .2-1.3-.4-.8-1.4 .4-1.3 1.1-.8M513.5 278.1l1-.1 .6 .5 .2 1-.5 .6-1 .2-.6-.5-.3-1 .6-.7M560.8 278.2l1.4 0 .8 .6 .5 1 .1 1-.4 1.1-.7 .8-1 .5-1.3 .2-1-.3-1-.8-.6-.8-.2-1 .3-.7 .7-.6 2.4-1M439.8 283.8l1-.3 .8 .3 .5 1-.5 1-.8 .3-1-.3-.4-1 .4-1M481.5 286.4l.7 .2 .4 .6-.2 .6-.6 .4-.6-.1-.4-.6 .1-.7 .6-.4M402.8 286.7l.7 .5-.3 .6-.4 .1-.5-.4 0-.3 .5-.5M497.2 290.8l1 0 .7 .7-.1 1-.6 .6-1 0-.7-.6 0-1 .7-.7M417.2 292.5l.6-.2 .6 .5-.2 .7-.4 .3-.8-.3-.1-.7 .3-.3"/>
<path class="bo" d="M584.5 261.9L584.4 260.4L584.3 259.0L584.0 257.8L583.7 256.6L583.2 255.5L582.7 254.4L582.0 253.4L581.3 252.5L580.5 251.6L579.6 250.8L578.6 250.1L577.6 249.5L576.4 249.0L575.2 248.6L574.0 248.2L572.7 248.0L571.3 247.8L569.6 247.8L568.0 247.8L566.6 248.0L565.3 248.2L564.1 248.6L562.9 249.0L561.7 249.5L560.7 250.1L559.7 250.8L558.8 251.6L558.0 252.5L557.3 253.4L556.6 254.4L556.1 255.5L555.6 256.6L555.3 257.8L555.0 259.0L554.9 260.4L554.8 261.9L554.9 263.4L555.0 264.8L555.3 266.0L555.6 267.2L556.1 268.3L556.6 269.4L557.3 270.4L558.0 271.3L558.8 272.2L559.7 273.0L560.7 273.7L561.7 274.3L562.9 274.8L564.1 275.2L565.3 275.6L566.6 275.8L568.0 276.0L569.6 276.0L571.3 276.0L572.7 275.8L574.0 275.6L575.2 275.2L576.4 274.8L577.6 274.3L578.6 273.7L579.6 273.0L580.5 272.2L581.3 271.3L582.0 270.4L582.7 269.4L583.2 268.3L583.7 267.2L584.0 266.0L584.3 264.8L584.4 263.4ZM511.5 261.9L511.4 258.9L511.2 256.5L510.9 254.2L510.4 252.1L509.8 250.1L509.1 248.3L508.3 246.6L507.3 245.0L506.2 243.5L505.0 242.2L503.7 241.0L502.3 240.0L500.8 239.1L499.2 238.3L497.5 237.8L495.7 237.4L493.7 237.1L491.3 237.0L488.9 237.1L486.9 237.4L485.0 237.8L483.3 238.3L481.7 239.1L480.2 240.0L478.8 241.0L477.5 242.2L476.3 243.5L475.3 245.0L474.3 246.6L473.5 248.3L472.7 250.1L472.1 252.1L471.7 254.2L471.3 256.5L471.1 258.9L471.1 261.9L471.1 264.9L471.3 267.3L471.7 269.6L472.1 271.7L472.7 273.7L473.5 275.5L474.3 277.2L475.3 278.8L476.3 280.3L477.5 281.6L478.8 282.8L480.2 283.8L481.7 284.7L483.3 285.5L485.0 286.0L486.9 286.4L488.9 286.7L491.3 286.8L493.7 286.7L495.7 286.4L497.5 286.0L499.2 285.5L500.8 284.7L502.3 283.8L503.7 282.8L505.0 281.6L506.2 280.3L507.3 278.8L508.3 277.2L509.1 275.5L509.8 273.7L510.4 271.7L510.9 269.6L511.2 267.3L511.4 264.9ZM436.5 261.9L436.5 258.7L436.2 256.1L435.9 253.6L435.4 251.4L434.7 249.3L434.0 247.3L433.0 245.4L432.0 243.7L430.8 242.1L429.5 240.7L428.1 239.4L426.6 238.3L425.0 237.4L423.2 236.6L421.4 236.0L419.4 235.5L417.2 235.3L414.6 235.2L412.0 235.3L409.8 235.5L407.9 236.0L406.0 236.6L404.3 237.4L402.6 238.3L401.1 239.4L399.7 240.7L398.4 242.1L397.3 243.7L396.2 245.4L395.3 247.3L394.5 249.3L393.9 251.4L393.4 253.6L393.0 256.1L392.8 258.7L392.7 261.9L392.8 265.1L393.0 267.7L393.4 270.2L393.9 272.4L394.5 274.5L395.3 276.5L396.2 278.4L397.3 280.1L398.4 281.7L399.7 283.1L401.1 284.4L402.6 285.5L404.3 286.4L406.0 287.2L407.9 287.8L409.8 288.3L412.0 288.5L414.6 288.6L417.2 288.5L419.4 288.3L421.4 287.8L423.2 287.2L425.0 286.4L426.6 285.5L428.1 284.4L429.5 283.1L430.8 281.7L432.0 280.1L433.0 278.4L434.0 276.5L434.7 274.5L435.4 272.4L435.9 270.2L436.2 267.7L436.5 265.1Z"/>
<circle cx="69.3" cy="73.4" r="0.9" fill="#2a2a2a"/>
<circle cx="75.2" cy="260.5" r="0.7" fill="#2a2a2a"/>
<circle cx="75.2" cy="263.2" r="0.7" fill="#2a2a2a"/>
<circle cx="132.8" cy="261.9" r="0.9" fill="#2a2a2a"/>
<circle cx="401.9" cy="73.4" r="0.8" fill="#2a2a2a"/>
<circle cx="436.9" cy="259.3" r="0.7" fill="#2a2a2a"/>
<circle cx="436.9" cy="264.5" r="0.7" fill="#2a2a2a"/>
<circle cx="473.9" cy="248.3" r="0.7" fill="#2a2a2a"/>
<circle cx="473.9" cy="275.5" r="0.7" fill="#2a2a2a"/>
<circle cx="512.9" cy="259.5" r="0.7" fill="#2a2a2a"/>
<circle cx="512.9" cy="264.3" r="0.7" fill="#2a2a2a"/>
<circle cx="395.9" cy="247.1" r="0.7" fill="#2a2a2a"/>
<circle cx="395.9" cy="276.7" r="0.7" fill="#2a2a2a"/>
<rect class="fr" x="32.7" y="0.5" width="296" height="146.3"/>
<rect class="fr" x="32.7" y="189" width="296" height="146.3"/>
<rect class="fr" x="378.7" y="0.5" width="296" height="146.3"/>
<rect class="fr" x="378.7" y="189" width="296" height="146.3"/>
<path class="tk" d="M38.4 146.8v-2M38.4 0.5v2M45.9 146.8v-1.2M45.9 0.5v1.2M53.4 146.8v-1.2M53.4 0.5v1.2M60.9 146.8v-1.2M60.9 0.5v1.2M68.4 146.8v-1.2M68.4 0.5v1.2M75.9 146.8v-2M75.9 0.5v2M83.4 146.8v-1.2M83.4 0.5v1.2M90.9 146.8v-1.2M90.9 0.5v1.2M98.4 146.8v-1.2M98.4 0.5v1.2M105.9 146.8v-1.2M105.9 0.5v1.2M113.4 146.8v-2M113.4 0.5v2M120.9 146.8v-1.2M120.9 0.5v1.2M128.4 146.8v-1.2M128.4 0.5v1.2M135.9 146.8v-1.2M135.9 0.5v1.2M143.4 146.8v-1.2M143.4 0.5v1.2M150.9 146.8v-2M150.9 0.5v2M158.4 146.8v-1.2M158.4 0.5v1.2M165.9 146.8v-1.2M165.9 0.5v1.2M173.4 146.8v-1.2M173.4 0.5v1.2M180.9 146.8v-1.2M180.9 0.5v1.2M188.4 146.8v-2M188.4 0.5v2M195.9 146.8v-1.2M195.9 0.5v1.2M203.4 146.8v-1.2M203.4 0.5v1.2M210.9 146.8v-1.2M210.9 0.5v1.2M218.4 146.8v-1.2M218.4 0.5v1.2M225.9 146.8v-2M225.9 0.5v2M233.4 146.8v-1.2M233.4 0.5v1.2M240.9 146.8v-1.2M240.9 0.5v1.2M248.4 146.8v-1.2M248.4 0.5v1.2M255.9 146.8v-1.2M255.9 0.5v1.2M263.4 146.8v-2M263.4 0.5v2M270.9 146.8v-1.2M270.9 0.5v1.2M278.4 146.8v-1.2M278.4 0.5v1.2M285.9 146.8v-1.2M285.9 0.5v1.2M293.4 146.8v-1.2M293.4 0.5v1.2M300.9 146.8v-2M300.9 0.5v2M308.4 146.8v-1.2M308.4 0.5v1.2M315.9 146.8v-1.2M315.9 0.5v1.2M323.4 146.8v-1.2M323.4 0.5v1.2M32.7 140.9h1.2M328.7 140.9h-1.2M32.7 133.4h1.2M328.7 133.4h-1.2M32.7 125.9h1.2M328.7 125.9h-1.2M32.7 118.4h1.2M328.7 118.4h-1.2M32.7 110.9h2M328.7 110.9h-2M32.7 103.4h1.2M328.7 103.4h-1.2M32.7 95.9h1.2M328.7 95.9h-1.2M32.7 88.4h1.2M328.7 88.4h-1.2M32.7 80.9h1.2M328.7 80.9h-1.2M32.7 73.4h2M328.7 73.4h-2M32.7 65.9h1.2M328.7 65.9h-1.2M32.7 58.4h1.2M328.7 58.4h-1.2M32.7 50.9h1.2M328.7 50.9h-1.2M32.7 43.4h1.2M328.7 43.4h-1.2M32.7 35.9h2M328.7 35.9h-2M32.7 28.4h1.2M328.7 28.4h-1.2M32.7 20.9h1.2M328.7 20.9h-1.2M32.7 13.4h1.2M328.7 13.4h-1.2M32.7 5.9h1.2M328.7 5.9h-1.2M38.4 335.3v-2M38.4 189.0v2M45.9 335.3v-1.2M45.9 189.0v1.2M53.4 335.3v-1.2M53.4 189.0v1.2M60.9 335.3v-1.2M60.9 189.0v1.2M68.4 335.3v-1.2M68.4 189.0v1.2M75.9 335.3v-2M75.9 189.0v2M83.4 335.3v-1.2M83.4 189.0v1.2M90.9 335.3v-1.2M90.9 189.0v1.2M98.4 335.3v-1.2M98.4 189.0v1.2M105.9 335.3v-1.2M105.9 189.0v1.2M113.4 335.3v-2M113.4 189.0v2M120.9 335.3v-1.2M120.9 189.0v1.2M128.4 335.3v-1.2M128.4 189.0v1.2M135.9 335.3v-1.2M135.9 189.0v1.2M143.4 335.3v-1.2M143.4 189.0v1.2M150.9 335.3v-2M150.9 189.0v2M158.4 335.3v-1.2M158.4 189.0v1.2M165.9 335.3v-1.2M165.9 189.0v1.2M173.4 335.3v-1.2M173.4 189.0v1.2M180.9 335.3v-1.2M180.9 189.0v1.2M188.4 335.3v-2M188.4 189.0v2M195.9 335.3v-1.2M195.9 189.0v1.2M203.4 335.3v-1.2M203.4 189.0v1.2M210.9 335.3v-1.2M210.9 189.0v1.2M218.4 335.3v-1.2M218.4 189.0v1.2M225.9 335.3v-2M225.9 189.0v2M233.4 335.3v-1.2M233.4 189.0v1.2M240.9 335.3v-1.2M240.9 189.0v1.2M248.4 335.3v-1.2M248.4 189.0v1.2M255.9 335.3v-1.2M255.9 189.0v1.2M263.4 335.3v-2M263.4 189.0v2M270.9 335.3v-1.2M270.9 189.0v1.2M278.4 335.3v-1.2M278.4 189.0v1.2M285.9 335.3v-1.2M285.9 189.0v1.2M293.4 335.3v-1.2M293.4 189.0v1.2M300.9 335.3v-2M300.9 189.0v2M308.4 335.3v-1.2M308.4 189.0v1.2M315.9 335.3v-1.2M315.9 189.0v1.2M323.4 335.3v-1.2M323.4 189.0v1.2M32.7 329.4h1.2M328.7 329.4h-1.2M32.7 321.9h1.2M328.7 321.9h-1.2M32.7 314.4h1.2M328.7 314.4h-1.2M32.7 306.9h1.2M328.7 306.9h-1.2M32.7 299.4h2M328.7 299.4h-2M32.7 291.9h1.2M328.7 291.9h-1.2M32.7 284.4h1.2M328.7 284.4h-1.2M32.7 276.9h1.2M328.7 276.9h-1.2M32.7 269.4h1.2M328.7 269.4h-1.2M32.7 261.9h2M328.7 261.9h-2M32.7 254.4h1.2M328.7 254.4h-1.2M32.7 246.9h1.2M328.7 246.9h-1.2M32.7 239.4h1.2M328.7 239.4h-1.2M32.7 231.9h1.2M328.7 231.9h-1.2M32.7 224.4h2M328.7 224.4h-2M32.7 216.9h1.2M328.7 216.9h-1.2M32.7 209.4h1.2M328.7 209.4h-1.2M32.7 201.9h1.2M328.7 201.9h-1.2M32.7 194.4h1.2M328.7 194.4h-1.2M384.4 146.8v-2M384.4 0.5v2M391.9 146.8v-1.2M391.9 0.5v1.2M399.4 146.8v-1.2M399.4 0.5v1.2M406.9 146.8v-1.2M406.9 0.5v1.2M414.4 146.8v-1.2M414.4 0.5v1.2M421.9 146.8v-2M421.9 0.5v2M429.4 146.8v-1.2M429.4 0.5v1.2M436.9 146.8v-1.2M436.9 0.5v1.2M444.4 146.8v-1.2M444.4 0.5v1.2M451.9 146.8v-1.2M451.9 0.5v1.2M459.4 146.8v-2M459.4 0.5v2M466.9 146.8v-1.2M466.9 0.5v1.2M474.4 146.8v-1.2M474.4 0.5v1.2M481.9 146.8v-1.2M481.9 0.5v1.2M489.4 146.8v-1.2M489.4 0.5v1.2M496.9 146.8v-2M496.9 0.5v2M504.4 146.8v-1.2M504.4 0.5v1.2M511.9 146.8v-1.2M511.9 0.5v1.2M519.4 146.8v-1.2M519.4 0.5v1.2M526.9 146.8v-1.2M526.9 0.5v1.2M534.4 146.8v-2M534.4 0.5v2M541.9 146.8v-1.2M541.9 0.5v1.2M549.4 146.8v-1.2M549.4 0.5v1.2M556.9 146.8v-1.2M556.9 0.5v1.2M564.4 146.8v-1.2M564.4 0.5v1.2M571.9 146.8v-2M571.9 0.5v2M579.4 146.8v-1.2M579.4 0.5v1.2M586.9 146.8v-1.2M586.9 0.5v1.2M594.4 146.8v-1.2M594.4 0.5v1.2M601.9 146.8v-1.2M601.9 0.5v1.2M609.4 146.8v-2M609.4 0.5v2M616.9 146.8v-1.2M616.9 0.5v1.2M624.4 146.8v-1.2M624.4 0.5v1.2M631.9 146.8v-1.2M631.9 0.5v1.2M639.4 146.8v-1.2M639.4 0.5v1.2M646.9 146.8v-2M646.9 0.5v2M654.4 146.8v-1.2M654.4 0.5v1.2M661.9 146.8v-1.2M661.9 0.5v1.2M669.4 146.8v-1.2M669.4 0.5v1.2M378.7 140.9h1.2M674.7 140.9h-1.2M378.7 133.4h1.2M674.7 133.4h-1.2M378.7 125.9h1.2M674.7 125.9h-1.2M378.7 118.4h1.2M674.7 118.4h-1.2M378.7 110.9h2M674.7 110.9h-2M378.7 103.4h1.2M674.7 103.4h-1.2M378.7 95.9h1.2M674.7 95.9h-1.2M378.7 88.4h1.2M674.7 88.4h-1.2M378.7 80.9h1.2M674.7 80.9h-1.2M378.7 73.4h2M674.7 73.4h-2M378.7 65.9h1.2M674.7 65.9h-1.2M378.7 58.4h1.2M674.7 58.4h-1.2M378.7 50.9h1.2M674.7 50.9h-1.2M378.7 43.4h1.2M674.7 43.4h-1.2M378.7 35.9h2M674.7 35.9h-2M378.7 28.4h1.2M674.7 28.4h-1.2M378.7 20.9h1.2M674.7 20.9h-1.2M378.7 13.4h1.2M674.7 13.4h-1.2M378.7 5.9h1.2M674.7 5.9h-1.2M384.4 335.3v-2M384.4 189.0v2M391.9 335.3v-1.2M391.9 189.0v1.2M399.4 335.3v-1.2M399.4 189.0v1.2M406.9 335.3v-1.2M406.9 189.0v1.2M414.4 335.3v-1.2M414.4 189.0v1.2M421.9 335.3v-2M421.9 189.0v2M429.4 335.3v-1.2M429.4 189.0v1.2M436.9 335.3v-1.2M436.9 189.0v1.2M444.4 335.3v-1.2M444.4 189.0v1.2M451.9 335.3v-1.2M451.9 189.0v1.2M459.4 335.3v-2M459.4 189.0v2M466.9 335.3v-1.2M466.9 189.0v1.2M474.4 335.3v-1.2M474.4 189.0v1.2M481.9 335.3v-1.2M481.9 189.0v1.2M489.4 335.3v-1.2M489.4 189.0v1.2M496.9 335.3v-2M496.9 189.0v2M504.4 335.3v-1.2M504.4 189.0v1.2M511.9 335.3v-1.2M511.9 189.0v1.2M519.4 335.3v-1.2M519.4 189.0v1.2M526.9 335.3v-1.2M526.9 189.0v1.2M534.4 335.3v-2M534.4 189.0v2M541.9 335.3v-1.2M541.9 189.0v1.2M549.4 335.3v-1.2M549.4 189.0v1.2M556.9 335.3v-1.2M556.9 189.0v1.2M564.4 335.3v-1.2M564.4 189.0v1.2M571.9 335.3v-2M571.9 189.0v2M579.4 335.3v-1.2M579.4 189.0v1.2M586.9 335.3v-1.2M586.9 189.0v1.2M594.4 335.3v-1.2M594.4 189.0v1.2M601.9 335.3v-1.2M601.9 189.0v1.2M609.4 335.3v-2M609.4 189.0v2M616.9 335.3v-1.2M616.9 189.0v1.2M624.4 335.3v-1.2M624.4 189.0v1.2M631.9 335.3v-1.2M631.9 189.0v1.2M639.4 335.3v-1.2M639.4 189.0v1.2M646.9 335.3v-2M646.9 189.0v2M654.4 335.3v-1.2M654.4 189.0v1.2M661.9 335.3v-1.2M661.9 189.0v1.2M669.4 335.3v-1.2M669.4 189.0v1.2M378.7 329.4h1.2M674.7 329.4h-1.2M378.7 321.9h1.2M674.7 321.9h-1.2M378.7 314.4h1.2M674.7 314.4h-1.2M378.7 306.9h1.2M674.7 306.9h-1.2M378.7 299.4h2M674.7 299.4h-2M378.7 291.9h1.2M674.7 291.9h-1.2M378.7 284.4h1.2M674.7 284.4h-1.2M378.7 276.9h1.2M674.7 276.9h-1.2M378.7 269.4h1.2M674.7 269.4h-1.2M378.7 261.9h2M674.7 261.9h-2M378.7 254.4h1.2M674.7 254.4h-1.2M378.7 246.9h1.2M674.7 246.9h-1.2M378.7 239.4h1.2M674.7 239.4h-1.2M378.7 231.9h1.2M674.7 231.9h-1.2M378.7 224.4h2M674.7 224.4h-2M378.7 216.9h1.2M674.7 216.9h-1.2M378.7 209.4h1.2M674.7 209.4h-1.2M378.7 201.9h1.2M674.7 201.9h-1.2M378.7 194.4h1.2M674.7 194.4h-1.2"/>
<text x="38.1" y="156.4" class="tx">−3.0</text>
<text x="75.6" y="156.4" class="tx">−2.5</text>
<text x="113.1" y="156.4" class="tx">−2.0</text>
<text x="150.6" y="156.4" class="tx">−1.5</text>
<text x="188.1" y="156.4" class="tx">−1.0</text>
<text x="225.6" y="156.4" class="tx">−0.5</text>
<text x="263.1" y="156.4" class="tx">0.0</text>
<text x="300.6" y="156.4" class="tx">0.5</text>
<text x="26.9" y="113.1" class="ty">−0.5</text>
<text x="26.9" y="75.6" class="ty">0.0</text>
<text x="26.9" y="38.1" class="ty">0.5</text>
<text x="183.1" y="169.3" class="al">Re (ω)</text>
<text x="7.4" y="73.0" class="al" transform="rotate(-90 7.4 73.0)">Im (ω)</text>
<text x="38.1" y="344.9" class="tx">−3.0</text>
<text x="75.6" y="344.9" class="tx">−2.5</text>
<text x="113.1" y="344.9" class="tx">−2.0</text>
<text x="150.6" y="344.9" class="tx">−1.5</text>
<text x="188.1" y="344.9" class="tx">−1.0</text>
<text x="225.6" y="344.9" class="tx">−0.5</text>
<text x="263.1" y="344.9" class="tx">0.0</text>
<text x="300.6" y="344.9" class="tx">0.5</text>
<text x="26.9" y="301.6" class="ty">−0.5</text>
<text x="26.9" y="264.1" class="ty">0.0</text>
<text x="26.9" y="226.6" class="ty">0.5</text>
<text x="183.1" y="357.8" class="al">Re (ω)</text>
<text x="7.4" y="261.5" class="al" transform="rotate(-90 7.4 261.5)">Im (ω)</text>
<text x="384.1" y="156.4" class="tx">−3.0</text>
<text x="421.6" y="156.4" class="tx">−2.5</text>
<text x="459.1" y="156.4" class="tx">−2.0</text>
<text x="496.6" y="156.4" class="tx">−1.5</text>
<text x="534.1" y="156.4" class="tx">−1.0</text>
<text x="571.6" y="156.4" class="tx">−0.5</text>
<text x="609.1" y="156.4" class="tx">0.0</text>
<text x="646.6" y="156.4" class="tx">0.5</text>
<text x="372.9" y="113.1" class="ty">−0.5</text>
<text x="372.9" y="75.6" class="ty">0.0</text>
<text x="372.9" y="38.1" class="ty">0.5</text>
<text x="529.1" y="169.3" class="al">Re (ω)</text>
<text x="353.4" y="73.0" class="al" transform="rotate(-90 353.4 73.0)">Im (ω)</text>
<text x="384.1" y="344.9" class="tx">−3.0</text>
<text x="421.6" y="344.9" class="tx">−2.5</text>
<text x="459.1" y="344.9" class="tx">−2.0</text>
<text x="496.6" y="344.9" class="tx">−1.5</text>
<text x="534.1" y="344.9" class="tx">−1.0</text>
<text x="571.6" y="344.9" class="tx">−0.5</text>
<text x="609.1" y="344.9" class="tx">0.0</text>
<text x="646.6" y="344.9" class="tx">0.5</text>
<text x="372.9" y="301.6" class="ty">−0.5</text>
<text x="372.9" y="264.1" class="ty">0.0</text>
<text x="372.9" y="226.6" class="ty">0.5</text>
<text x="529.1" y="357.8" class="al">Re (ω)</text>
<text x="353.4" y="261.5" class="al" transform="rotate(-90 353.4 261.5)">Im (ω)</text>
<text x="53.9" y="22.1" class="pl pb">(a)</text>
<text x="287.8" y="22.4" class="pr">Exact</text>
<text x="54.0" y="213.5" class="pl">(b)</text>
<text x="285.3" y="212.2" class="pr">n=3</text>
<text x="399.8" y="25.5" class="pl">(c)</text>
<text x="633.0" y="22.4" class="pr">n=5</text>
<text x="400.0" y="216.6" class="pl">(d)</text>
<text x="633.0" y="212.5" class="pr">n=8</text>
</svg>
</body></html>
